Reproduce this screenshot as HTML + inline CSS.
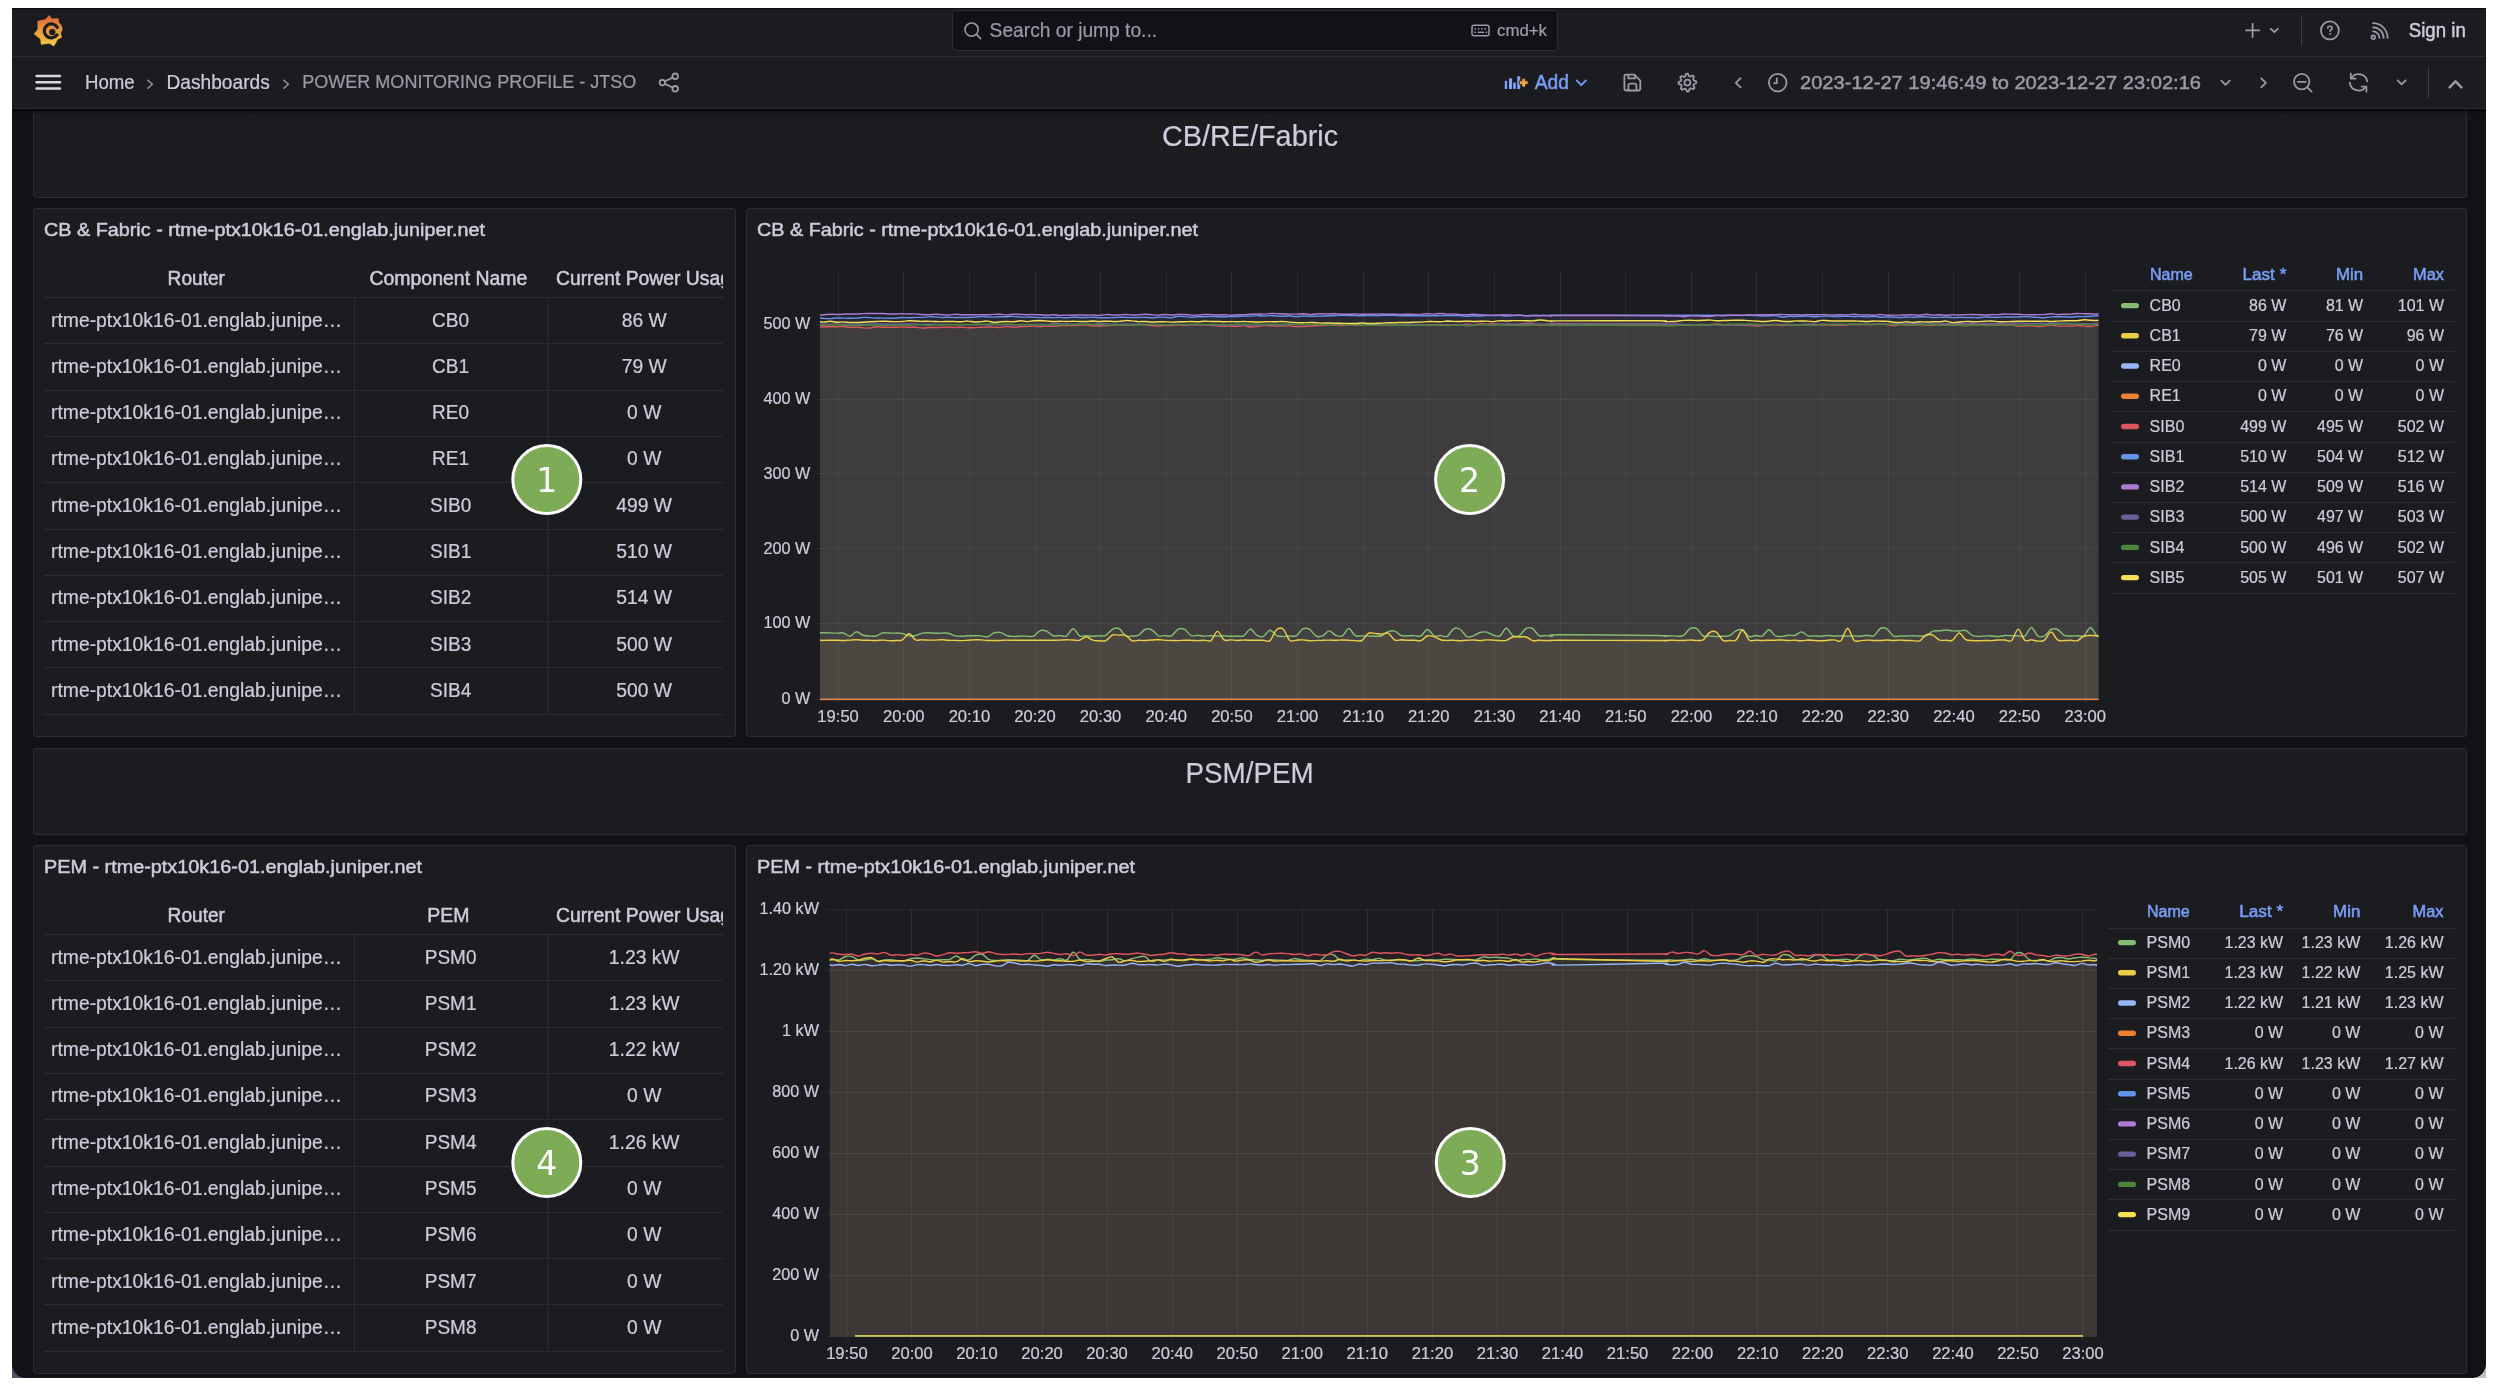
<!DOCTYPE html>
<html><head><meta charset="utf-8"><title>POWER MONITORING PROFILE - JTSO - Dashboards - Grafana</title>
<style>
html,body{margin:0;padding:0;background:#fff;overflow:hidden;}
svg{display:block;will-change:transform;}
text{font-family:"Liberation Sans",Arial,sans-serif;}
</style></head>
<body>
<svg width="2499" height="1391" viewBox="0 0 2499 1391">
<rect x="0" y="0" width="2499" height="1391" fill="#ffffff"/>
<rect x="12" y="1360" width="20" height="18" fill="#4d536b"/>
<rect x="2466" y="1360" width="20" height="18" fill="#c4c4c4"/>
<path d="M12 8 H2486 V1364 A14 14 0 0 1 2472 1378 H26 A14 14 0 0 1 12 1364 Z" fill="#111217"/>
<rect x="12" y="8" width="2474" height="48" fill="#1b1c20"/>
<rect x="12" y="8" width="2474" height="1" fill="#0a0b0d"/>
<rect x="12" y="56" width="2474" height="1" fill="#2c2d33"/>
<rect x="12" y="57" width="2474" height="51" fill="#1b1c20"/>
<rect x="12" y="108" width="2474" height="1" fill="#2c2d33"/>
<defs><linearGradient id="lg" x1="0" y1="0" x2="0" y2="1">
<stop offset="0" stop-color="#df6439"/><stop offset="1" stop-color="#f3cc46"/></linearGradient>
<linearGradient id="pg" x1="0" y1="0" x2="0" y2="1">
<stop offset="0" stop-color="#e9833a"/><stop offset="1" stop-color="#f3c64a"/></linearGradient></defs>
<path d="M49.4 15.0 L51.6 18.6 L58.7 18.3 L58.9 22.2 Q62.6 25.5 62.5 29.5 L60.9 33.2 L62.0 37.4 L57.9 39.6 L54.0 46.2 L49.1 43.4 L40.9 44.8 L40.4 39.2 L33.8 34.1 L37.6 29.2 L37.4 21.0 L45.2 19.3 Z" fill="url(#lg)"/>
<path d="M57.36 27.4 A7.0 7.0 0 1 0 57.03 34.9" fill="none" stroke="#1b1c20" stroke-width="3.2" stroke-linecap="round"/>
<circle cx="52.3" cy="32.1" r="3.2" fill="#1b1c20"/>
<rect x="952.5" y="10.5" width="605" height="40" rx="3" fill="#111217" stroke="#2c2d33" stroke-width="1"/>
<circle cx="971.6" cy="29.6" r="6.6" fill="none" stroke="#9a9aa8" stroke-width="1.6"/>
<line x1="976.4" y1="34.4" x2="980.6" y2="38.6" stroke="#9a9aa8" stroke-width="1.6" stroke-linecap="round"/>
<text x="989.6" y="37.0" font-size="19.8" fill="#9a9aa8" textLength="167.5" lengthAdjust="spacingAndGlyphs" stroke="#9a9aa8" stroke-width="0.22">Search or jump to...</text>
<rect x="1472" y="25.2" width="17" height="10.6" rx="2" fill="none" stroke="#9a9aa8" stroke-width="1.5"/>
<rect x="1474.5" y="28.2" width="1.6" height="1.4" fill="#9a9aa8"/>
<rect x="1477.8" y="28.2" width="1.6" height="1.4" fill="#9a9aa8"/>
<rect x="1481.1000000000001" y="28.2" width="1.6" height="1.4" fill="#9a9aa8"/>
<rect x="1484.4" y="28.2" width="1.6" height="1.4" fill="#9a9aa8"/>
<rect x="1474.2" y="31.6" width="1.6" height="1.4" fill="#9a9aa8"/>
<rect x="1477.6" y="31.6" width="6.4" height="1.4" fill="#9a9aa8"/>
<rect x="1485.6" y="31.6" width="1.6" height="1.4" fill="#9a9aa8"/>
<text x="1497.0" y="35.9" font-size="16" fill="#9a9aa8" textLength="50.0" lengthAdjust="spacingAndGlyphs" stroke="#9a9aa8" stroke-width="0.22">cmd+k</text>
<path d="M2246.1 30.4 H2259.2 M2252.6 23.8 V37.0" fill="none" stroke="#9a9aa8" stroke-width="1.8" stroke-linecap="round" stroke-linejoin="round"/>
<path d="M2270.8 28.8 L2274.3 32.2 L2277.8 28.8" fill="none" stroke="#9a9aa8" stroke-width="1.8" stroke-linecap="round" stroke-linejoin="round"/>
<rect x="2301" y="15" width="1" height="31" fill="#3b3d44"/>
<circle cx="2329.9" cy="30.4" r="9" fill="none" stroke="#9a9aa8" stroke-width="1.8" stroke-linecap="round" stroke-linejoin="round"/>
<path d="M2327.7 28.3 Q2327.7 26.3 2329.9 26.3 Q2332.2 26.3 2332.2 28.2 Q2332.2 29.5 2330.1 30.4 V31.2" fill="none" stroke="#9a9aa8" stroke-width="1.6" stroke-linecap="round" stroke-linejoin="round"/>
<circle cx="2330.1" cy="33.9" r="0.95" fill="#9a9aa8"/>
<circle cx="2373.3" cy="37.3" r="1.8" fill="none" stroke="#9a9aa8" stroke-width="1.8" stroke-linecap="round" stroke-linejoin="round"/>
<path d="M2373 31.4 A6.5 6.5 0 0 1 2379.5 37.9 M2373 27.3 A10.6 10.6 0 0 1 2383.6 37.9 M2373 23.2 A14.6 14.6 0 0 1 2387.6 37.9" fill="none" stroke="#9a9aa8" stroke-width="1.7" stroke-linecap="round"/>
<text x="2408.8" y="37.0" font-size="20" fill="#ccccdc" textLength="57.0" lengthAdjust="spacingAndGlyphs" stroke="#ccccdc" stroke-width="0.5">Sign in</text>
<line x1="36.6" y1="75.9" x2="59.9" y2="75.9" stroke="#d8d8e4" stroke-width="2.5" stroke-linecap="round"/>
<line x1="36.6" y1="82.2" x2="59.9" y2="82.2" stroke="#d8d8e4" stroke-width="2.5" stroke-linecap="round"/>
<line x1="36.6" y1="88.6" x2="59.9" y2="88.6" stroke="#d8d8e4" stroke-width="2.5" stroke-linecap="round"/>
<text x="85.0" y="88.6" font-size="19.7" fill="#ccccdc" textLength="49.7" lengthAdjust="spacingAndGlyphs" stroke="#ccccdc" stroke-width="0.22">Home</text>
<path d="M147.8 80.3 L152.4 84.3 L147.8 88.3" fill="none" stroke="#9a9aa8" stroke-width="1.4" stroke-linecap="round" stroke-linejoin="round"/>
<text x="166.5" y="88.6" font-size="19.7" fill="#ccccdc" textLength="103.3" lengthAdjust="spacingAndGlyphs" stroke="#ccccdc" stroke-width="0.22">Dashboards</text>
<path d="M283.8 80.3 L288.4 84.3 L283.8 88.3" fill="none" stroke="#9a9aa8" stroke-width="1.4" stroke-linecap="round" stroke-linejoin="round"/>
<text x="302.3" y="88.3" font-size="18.5" fill="#9a9aa8" textLength="334.0" lengthAdjust="spacingAndGlyphs" stroke="#9a9aa8" stroke-width="0.22">POWER MONITORING PROFILE - JTSO</text>
<g fill="none" stroke="#9a9aa8" stroke-width="1.8" stroke-linecap="round" stroke-linejoin="round"><circle cx="662.4" cy="82.6" r="2.8"/><circle cx="675.2" cy="76.3" r="2.8"/><circle cx="675.2" cy="88.8" r="2.8"/><path d="M664.9 81.3 L672.7 77.6 M664.9 83.9 L672.7 87.5"/></g>
<rect x="1504.8" y="80.8" width="2.3" height="8.2" fill="#83a4f8" rx="0.5"/>
<rect x="1509.0" y="78.2" width="3.1" height="10.8" fill="#83a4f8" rx="0.5"/>
<rect x="1513.2" y="82.4" width="2.6" height="6.6" fill="#83a4f8" rx="0.5"/>
<rect x="1517.2" y="76.2" width="3.0" height="12.8" fill="#83a4f8" rx="0.5"/>
<path d="M1521.9 78.2 h3.6 v2.6 h2.6 v3.6 h-2.6 v2.6 h-3.6 v-2.6 h-2.6 v-3.6 h2.6 z" fill="url(#pg)" stroke="#1b1c20" stroke-width="0.8"/>
<text x="1534.8" y="89.0" font-size="19.7" fill="#799ef8" textLength="34.2" lengthAdjust="spacingAndGlyphs" stroke="#799ef8" stroke-width="0.5">Add</text>
<path d="M1576.6 80.4 L1581.3 85.1 L1586 80.4" fill="none" stroke="#799ef8" stroke-width="1.8" stroke-linecap="round" stroke-linejoin="round"/>
<path d="M1626 74.7 H1634.3 L1640.3 80.7 V88.6 Q1640.3 90.5 1638.4 90.5 H1626.3 Q1624.4 90.5 1624.4 88.6 V76.6 Q1624.4 74.7 1626 74.7 Z" fill="none" stroke="#9a9aa8" stroke-width="1.8" stroke-linecap="round" stroke-linejoin="round"/>
<path d="M1628.4 74.9 V78.4 H1634.8 V75.6 M1628.4 90.3 V85.4 Q1628.4 83.6 1630.2 83.6 H1634.6 Q1636.4 83.6 1636.4 85.4 V90.3" fill="none" stroke="#9a9aa8" stroke-width="1.8" stroke-linecap="round" stroke-linejoin="round"/>
<path d="M1686.09 73.80 L1687.84 73.71 L1689.00 76.20 L1690.22 76.63 L1692.70 75.45 L1693.99 76.62 L1693.06 79.21 L1693.61 80.38 L1696.20 81.29 L1696.29 83.04 L1693.80 84.20 L1693.37 85.42 L1694.55 87.90 L1693.38 89.19 L1690.79 88.26 L1689.62 88.81 L1688.71 91.40 L1686.96 91.49 L1685.80 89.00 L1684.58 88.57 L1682.10 89.75 L1680.81 88.58 L1681.74 85.99 L1681.19 84.82 L1678.60 83.91 L1678.51 82.16 L1681.00 81.00 L1681.43 79.78 L1680.25 77.30 L1681.42 76.01 L1684.01 76.94 L1685.18 76.39 Z" fill="none" stroke="#9a9aa8" stroke-width="1.8" stroke-linecap="round" stroke-linejoin="round"/>
<circle cx="1687.4" cy="82.6" r="3.0" fill="none" stroke="#9a9aa8" stroke-width="1.8" stroke-linecap="round" stroke-linejoin="round"/>
<path d="M1740.6 78.2 L1735.8 82.8 L1740.6 87.4" fill="none" stroke="#9a9aa8" stroke-width="1.8" stroke-linecap="round" stroke-linejoin="round"/>
<circle cx="1777.7" cy="82.6" r="8.8" fill="none" stroke="#9a9aa8" stroke-width="1.8" stroke-linecap="round" stroke-linejoin="round"/>
<path d="M1776.8 78.3 V83.2 H1774.2" fill="none" stroke="#9a9aa8" stroke-width="1.8" stroke-linecap="round" stroke-linejoin="round"/>
<text x="1800.0" y="89.3" font-size="19.2" fill="#9a9aa8" textLength="401.0" lengthAdjust="spacingAndGlyphs" stroke="#9a9aa8" stroke-width="0.5">2023-12-27 19:46:49 to 2023-12-27 23:02:16</text>
<path d="M2221.3 80.6 L2225.5 84.8 L2229.7 80.6" fill="none" stroke="#9a9aa8" stroke-width="1.8" stroke-linecap="round" stroke-linejoin="round"/>
<path d="M2261.2 78.3 L2265.9 82.8 L2261.2 87.3" fill="none" stroke="#9a9aa8" stroke-width="1.8" stroke-linecap="round" stroke-linejoin="round"/>
<circle cx="2301.7" cy="81.6" r="7.7" fill="none" stroke="#9a9aa8" stroke-width="1.8" stroke-linecap="round" stroke-linejoin="round"/>
<path d="M2297.8 81.8 H2305.8 M2307.6 87.6 L2311.6 91.6" fill="none" stroke="#9a9aa8" stroke-width="1.8" stroke-linecap="round" stroke-linejoin="round"/>
<path d="M2351.4 78.0 A8.8 8.8 0 0 1 2367.3 81.3 M2365.6 87.0 A8.8 8.8 0 0 1 2349.8 82.6" fill="none" stroke="#9a9aa8" stroke-width="1.8" stroke-linecap="round" stroke-linejoin="round"/>
<path d="M2350.8 73.6 V78.6 H2355.6 M2366.4 91.6 V86.6 H2361.6" fill="none" stroke="#9a9aa8" stroke-width="1.8" stroke-linecap="round" stroke-linejoin="round"/>
<path d="M2397.6 80.4 L2401.6 84.4 L2405.6 80.4" fill="none" stroke="#9a9aa8" stroke-width="1.8" stroke-linecap="round" stroke-linejoin="round"/>
<rect x="2428" y="67" width="1" height="31" fill="#3b3d44"/>
<path d="M2449.6 87.4 L2455.5 81.4 L2461.4 87.4" fill="none" stroke="#9a9aa8" stroke-width="2.6" stroke-linecap="round" stroke-linejoin="round"/>
<rect x="33.5" y="101.5" width="2433" height="96" rx="2.5" fill="#1b1c20" stroke="#2c2d33" stroke-width="1"/>
<text x="1250.0" y="146.2" font-size="29.2" fill="#ccccdc" text-anchor="middle" textLength="176.2" lengthAdjust="spacingAndGlyphs" stroke="#ccccdc" stroke-width="0.22">CB/RE/Fabric</text>
<rect x="12" y="100" width="2474" height="8" fill="#1b1c20"/>
<rect x="12" y="108" width="2474" height="1" fill="#2c2d33"/>
<defs><linearGradient id="shd" x1="0" y1="0" x2="0" y2="1"><stop offset="0" stop-color="#000" stop-opacity="0.55"/><stop offset="1" stop-color="#000" stop-opacity="0"/></linearGradient></defs>
<rect x="12" y="109" width="2474" height="1" fill="#060608"/>
<rect x="12" y="110" width="2474" height="4" fill="url(#shd)"/>
<rect x="33.5" y="748.5" width="2433" height="86" rx="2.5" fill="#1b1c20" stroke="#2c2d33" stroke-width="1"/>
<text x="1249.6" y="783.2" font-size="29.2" fill="#ccccdc" text-anchor="middle" textLength="128.0" lengthAdjust="spacingAndGlyphs" stroke="#ccccdc" stroke-width="0.22">PSM/PEM</text>
<rect x="33.5" y="208.5" width="702" height="528" rx="2.5" fill="#1b1c20" stroke="#2c2d33" stroke-width="1"/>
<text x="44.0" y="236.0" font-size="18.8" fill="#ccccdc" textLength="441.0" lengthAdjust="spacingAndGlyphs" stroke="#ccccdc" stroke-width="0.5">CB &amp; Fabric - rtme-ptx10k16-01.englab.juniper.net</text>
<text x="196.3" y="285.0" font-size="19.5" fill="#ccccdc" text-anchor="middle" textLength="57.4" lengthAdjust="spacingAndGlyphs" stroke="#ccccdc" stroke-width="0.5">Router</text>
<text x="448.4" y="285.0" font-size="19.5" fill="#ccccdc" text-anchor="middle" textLength="158.0" lengthAdjust="spacingAndGlyphs" stroke="#ccccdc" stroke-width="0.5">Component Name</text>
<clipPath id="cp209"><rect x="43" y="209" width="680" height="520"/></clipPath>
<g clip-path="url(#cp209)">
<text x="556.0" y="285.0" font-size="19.5" fill="#ccccdc" textLength="185.6" lengthAdjust="spacingAndGlyphs" stroke="#ccccdc" stroke-width="0.5">Current Power Usage</text>
</g>
<line x1="43.5" y1="297.5" x2="723" y2="297.5" stroke="#2c2d33" stroke-width="1"/>
<line x1="43.5" y1="343.5" x2="723" y2="343.5" stroke="#2c2d33" stroke-width="1"/>
<line x1="43.5" y1="390.5" x2="723" y2="390.5" stroke="#2c2d33" stroke-width="1"/>
<line x1="43.5" y1="436.5" x2="723" y2="436.5" stroke="#2c2d33" stroke-width="1"/>
<line x1="43.5" y1="482.5" x2="723" y2="482.5" stroke="#2c2d33" stroke-width="1"/>
<line x1="43.5" y1="529.5" x2="723" y2="529.5" stroke="#2c2d33" stroke-width="1"/>
<line x1="43.5" y1="575.5" x2="723" y2="575.5" stroke="#2c2d33" stroke-width="1"/>
<line x1="43.5" y1="621.5" x2="723" y2="621.5" stroke="#2c2d33" stroke-width="1"/>
<line x1="43.5" y1="667.5" x2="723" y2="667.5" stroke="#2c2d33" stroke-width="1"/>
<line x1="43.5" y1="714.5" x2="723" y2="714.5" stroke="#2c2d33" stroke-width="1"/>
<line x1="354.5" y1="298.0" x2="354.5" y2="343.0" stroke="#2c2d33" stroke-width="1"/>
<line x1="548" y1="298.0" x2="548" y2="343.0" stroke="#2c2d33" stroke-width="1"/>
<text x="51.0" y="326.5" font-size="19.5" fill="#ccccdc" textLength="291.0" lengthAdjust="spacingAndGlyphs" stroke="#ccccdc" stroke-width="0.22">rtme-ptx10k16-01.englab.junipe…</text>
<text x="450.6" y="326.5" font-size="19.5" fill="#ccccdc" text-anchor="middle" textLength="37.0" lengthAdjust="spacingAndGlyphs" stroke="#ccccdc" stroke-width="0.22">CB0</text>
<text x="644.2" y="326.5" font-size="19.5" fill="#ccccdc" text-anchor="middle" textLength="45.0" lengthAdjust="spacingAndGlyphs" stroke="#ccccdc" stroke-width="0.22">86 W</text>
<line x1="354.5" y1="344.0" x2="354.5" y2="390.0" stroke="#2c2d33" stroke-width="1"/>
<line x1="548" y1="344.0" x2="548" y2="390.0" stroke="#2c2d33" stroke-width="1"/>
<text x="51.0" y="372.8" font-size="19.5" fill="#ccccdc" textLength="291.0" lengthAdjust="spacingAndGlyphs" stroke="#ccccdc" stroke-width="0.22">rtme-ptx10k16-01.englab.junipe…</text>
<text x="450.6" y="372.8" font-size="19.5" fill="#ccccdc" text-anchor="middle" textLength="37.0" lengthAdjust="spacingAndGlyphs" stroke="#ccccdc" stroke-width="0.22">CB1</text>
<text x="644.2" y="372.8" font-size="19.5" fill="#ccccdc" text-anchor="middle" textLength="45.0" lengthAdjust="spacingAndGlyphs" stroke="#ccccdc" stroke-width="0.22">79 W</text>
<line x1="354.5" y1="391.0" x2="354.5" y2="436.0" stroke="#2c2d33" stroke-width="1"/>
<line x1="548" y1="391.0" x2="548" y2="436.0" stroke="#2c2d33" stroke-width="1"/>
<text x="51.0" y="419.1" font-size="19.5" fill="#ccccdc" textLength="291.0" lengthAdjust="spacingAndGlyphs" stroke="#ccccdc" stroke-width="0.22">rtme-ptx10k16-01.englab.junipe…</text>
<text x="450.6" y="419.1" font-size="19.5" fill="#ccccdc" text-anchor="middle" textLength="37.0" lengthAdjust="spacingAndGlyphs" stroke="#ccccdc" stroke-width="0.22">RE0</text>
<text x="644.2" y="419.1" font-size="19.5" fill="#ccccdc" text-anchor="middle" textLength="34.3" lengthAdjust="spacingAndGlyphs" stroke="#ccccdc" stroke-width="0.22">0 W</text>
<line x1="354.5" y1="437.0" x2="354.5" y2="482.0" stroke="#2c2d33" stroke-width="1"/>
<line x1="548" y1="437.0" x2="548" y2="482.0" stroke="#2c2d33" stroke-width="1"/>
<text x="51.0" y="465.4" font-size="19.5" fill="#ccccdc" textLength="291.0" lengthAdjust="spacingAndGlyphs" stroke="#ccccdc" stroke-width="0.22">rtme-ptx10k16-01.englab.junipe…</text>
<text x="450.6" y="465.4" font-size="19.5" fill="#ccccdc" text-anchor="middle" textLength="37.0" lengthAdjust="spacingAndGlyphs" stroke="#ccccdc" stroke-width="0.22">RE1</text>
<text x="644.2" y="465.4" font-size="19.5" fill="#ccccdc" text-anchor="middle" textLength="34.3" lengthAdjust="spacingAndGlyphs" stroke="#ccccdc" stroke-width="0.22">0 W</text>
<line x1="354.5" y1="483.0" x2="354.5" y2="529.0" stroke="#2c2d33" stroke-width="1"/>
<line x1="548" y1="483.0" x2="548" y2="529.0" stroke="#2c2d33" stroke-width="1"/>
<text x="51.0" y="511.7" font-size="19.5" fill="#ccccdc" textLength="291.0" lengthAdjust="spacingAndGlyphs" stroke="#ccccdc" stroke-width="0.22">rtme-ptx10k16-01.englab.junipe…</text>
<text x="450.6" y="511.7" font-size="19.5" fill="#ccccdc" text-anchor="middle" textLength="41.2" lengthAdjust="spacingAndGlyphs" stroke="#ccccdc" stroke-width="0.22">SIB0</text>
<text x="644.2" y="511.7" font-size="19.5" fill="#ccccdc" text-anchor="middle" textLength="55.8" lengthAdjust="spacingAndGlyphs" stroke="#ccccdc" stroke-width="0.22">499 W</text>
<line x1="354.5" y1="530.0" x2="354.5" y2="575.0" stroke="#2c2d33" stroke-width="1"/>
<line x1="548" y1="530.0" x2="548" y2="575.0" stroke="#2c2d33" stroke-width="1"/>
<text x="51.0" y="558.0" font-size="19.5" fill="#ccccdc" textLength="291.0" lengthAdjust="spacingAndGlyphs" stroke="#ccccdc" stroke-width="0.22">rtme-ptx10k16-01.englab.junipe…</text>
<text x="450.6" y="558.0" font-size="19.5" fill="#ccccdc" text-anchor="middle" textLength="41.2" lengthAdjust="spacingAndGlyphs" stroke="#ccccdc" stroke-width="0.22">SIB1</text>
<text x="644.2" y="558.0" font-size="19.5" fill="#ccccdc" text-anchor="middle" textLength="55.8" lengthAdjust="spacingAndGlyphs" stroke="#ccccdc" stroke-width="0.22">510 W</text>
<line x1="354.5" y1="576.0" x2="354.5" y2="621.0" stroke="#2c2d33" stroke-width="1"/>
<line x1="548" y1="576.0" x2="548" y2="621.0" stroke="#2c2d33" stroke-width="1"/>
<text x="51.0" y="604.3" font-size="19.5" fill="#ccccdc" textLength="291.0" lengthAdjust="spacingAndGlyphs" stroke="#ccccdc" stroke-width="0.22">rtme-ptx10k16-01.englab.junipe…</text>
<text x="450.6" y="604.3" font-size="19.5" fill="#ccccdc" text-anchor="middle" textLength="41.2" lengthAdjust="spacingAndGlyphs" stroke="#ccccdc" stroke-width="0.22">SIB2</text>
<text x="644.2" y="604.3" font-size="19.5" fill="#ccccdc" text-anchor="middle" textLength="55.8" lengthAdjust="spacingAndGlyphs" stroke="#ccccdc" stroke-width="0.22">514 W</text>
<line x1="354.5" y1="622.0" x2="354.5" y2="667.0" stroke="#2c2d33" stroke-width="1"/>
<line x1="548" y1="622.0" x2="548" y2="667.0" stroke="#2c2d33" stroke-width="1"/>
<text x="51.0" y="650.6" font-size="19.5" fill="#ccccdc" textLength="291.0" lengthAdjust="spacingAndGlyphs" stroke="#ccccdc" stroke-width="0.22">rtme-ptx10k16-01.englab.junipe…</text>
<text x="450.6" y="650.6" font-size="19.5" fill="#ccccdc" text-anchor="middle" textLength="41.2" lengthAdjust="spacingAndGlyphs" stroke="#ccccdc" stroke-width="0.22">SIB3</text>
<text x="644.2" y="650.6" font-size="19.5" fill="#ccccdc" text-anchor="middle" textLength="55.8" lengthAdjust="spacingAndGlyphs" stroke="#ccccdc" stroke-width="0.22">500 W</text>
<line x1="354.5" y1="668.0" x2="354.5" y2="714.0" stroke="#2c2d33" stroke-width="1"/>
<line x1="548" y1="668.0" x2="548" y2="714.0" stroke="#2c2d33" stroke-width="1"/>
<text x="51.0" y="696.9" font-size="19.5" fill="#ccccdc" textLength="291.0" lengthAdjust="spacingAndGlyphs" stroke="#ccccdc" stroke-width="0.22">rtme-ptx10k16-01.englab.junipe…</text>
<text x="450.6" y="696.9" font-size="19.5" fill="#ccccdc" text-anchor="middle" textLength="41.2" lengthAdjust="spacingAndGlyphs" stroke="#ccccdc" stroke-width="0.22">SIB4</text>
<text x="644.2" y="696.9" font-size="19.5" fill="#ccccdc" text-anchor="middle" textLength="55.8" lengthAdjust="spacingAndGlyphs" stroke="#ccccdc" stroke-width="0.22">500 W</text>
<rect x="33.5" y="845.5" width="702" height="528" rx="2.5" fill="#1b1c20" stroke="#2c2d33" stroke-width="1"/>
<text x="44.0" y="873.0" font-size="18.8" fill="#ccccdc" textLength="378.0" lengthAdjust="spacingAndGlyphs" stroke="#ccccdc" stroke-width="0.5">PEM - rtme-ptx10k16-01.englab.juniper.net</text>
<text x="196.3" y="922.0" font-size="19.5" fill="#ccccdc" text-anchor="middle" textLength="57.4" lengthAdjust="spacingAndGlyphs" stroke="#ccccdc" stroke-width="0.5">Router</text>
<text x="448.4" y="922.0" font-size="19.5" fill="#ccccdc" text-anchor="middle" textLength="42.2" lengthAdjust="spacingAndGlyphs" stroke="#ccccdc" stroke-width="0.5">PEM</text>
<clipPath id="cp846"><rect x="43" y="846" width="680" height="520"/></clipPath>
<g clip-path="url(#cp846)">
<text x="556.0" y="922.0" font-size="19.5" fill="#ccccdc" textLength="185.6" lengthAdjust="spacingAndGlyphs" stroke="#ccccdc" stroke-width="0.5">Current Power Usage</text>
</g>
<line x1="43.5" y1="934.5" x2="723" y2="934.5" stroke="#2c2d33" stroke-width="1"/>
<line x1="43.5" y1="980.5" x2="723" y2="980.5" stroke="#2c2d33" stroke-width="1"/>
<line x1="43.5" y1="1027.5" x2="723" y2="1027.5" stroke="#2c2d33" stroke-width="1"/>
<line x1="43.5" y1="1073.5" x2="723" y2="1073.5" stroke="#2c2d33" stroke-width="1"/>
<line x1="43.5" y1="1119.5" x2="723" y2="1119.5" stroke="#2c2d33" stroke-width="1"/>
<line x1="43.5" y1="1166.5" x2="723" y2="1166.5" stroke="#2c2d33" stroke-width="1"/>
<line x1="43.5" y1="1212.5" x2="723" y2="1212.5" stroke="#2c2d33" stroke-width="1"/>
<line x1="43.5" y1="1258.5" x2="723" y2="1258.5" stroke="#2c2d33" stroke-width="1"/>
<line x1="43.5" y1="1304.5" x2="723" y2="1304.5" stroke="#2c2d33" stroke-width="1"/>
<line x1="43.5" y1="1351.5" x2="723" y2="1351.5" stroke="#2c2d33" stroke-width="1"/>
<line x1="354.5" y1="935.0" x2="354.5" y2="980.0" stroke="#2c2d33" stroke-width="1"/>
<line x1="548" y1="935.0" x2="548" y2="980.0" stroke="#2c2d33" stroke-width="1"/>
<text x="51.0" y="963.5" font-size="19.5" fill="#ccccdc" textLength="291.0" lengthAdjust="spacingAndGlyphs" stroke="#ccccdc" stroke-width="0.22">rtme-ptx10k16-01.englab.junipe…</text>
<text x="450.6" y="963.5" font-size="19.5" fill="#ccccdc" text-anchor="middle" textLength="51.7" lengthAdjust="spacingAndGlyphs" stroke="#ccccdc" stroke-width="0.22">PSM0</text>
<text x="644.2" y="963.5" font-size="19.5" fill="#ccccdc" text-anchor="middle" textLength="70.8" lengthAdjust="spacingAndGlyphs" stroke="#ccccdc" stroke-width="0.22">1.23 kW</text>
<line x1="354.5" y1="981.0" x2="354.5" y2="1027.0" stroke="#2c2d33" stroke-width="1"/>
<line x1="548" y1="981.0" x2="548" y2="1027.0" stroke="#2c2d33" stroke-width="1"/>
<text x="51.0" y="1009.8" font-size="19.5" fill="#ccccdc" textLength="291.0" lengthAdjust="spacingAndGlyphs" stroke="#ccccdc" stroke-width="0.22">rtme-ptx10k16-01.englab.junipe…</text>
<text x="450.6" y="1009.8" font-size="19.5" fill="#ccccdc" text-anchor="middle" textLength="51.7" lengthAdjust="spacingAndGlyphs" stroke="#ccccdc" stroke-width="0.22">PSM1</text>
<text x="644.2" y="1009.8" font-size="19.5" fill="#ccccdc" text-anchor="middle" textLength="70.8" lengthAdjust="spacingAndGlyphs" stroke="#ccccdc" stroke-width="0.22">1.23 kW</text>
<line x1="354.5" y1="1028.0" x2="354.5" y2="1073.0" stroke="#2c2d33" stroke-width="1"/>
<line x1="548" y1="1028.0" x2="548" y2="1073.0" stroke="#2c2d33" stroke-width="1"/>
<text x="51.0" y="1056.1" font-size="19.5" fill="#ccccdc" textLength="291.0" lengthAdjust="spacingAndGlyphs" stroke="#ccccdc" stroke-width="0.22">rtme-ptx10k16-01.englab.junipe…</text>
<text x="450.6" y="1056.1" font-size="19.5" fill="#ccccdc" text-anchor="middle" textLength="51.7" lengthAdjust="spacingAndGlyphs" stroke="#ccccdc" stroke-width="0.22">PSM2</text>
<text x="644.2" y="1056.1" font-size="19.5" fill="#ccccdc" text-anchor="middle" textLength="70.8" lengthAdjust="spacingAndGlyphs" stroke="#ccccdc" stroke-width="0.22">1.22 kW</text>
<line x1="354.5" y1="1074.0" x2="354.5" y2="1119.0" stroke="#2c2d33" stroke-width="1"/>
<line x1="548" y1="1074.0" x2="548" y2="1119.0" stroke="#2c2d33" stroke-width="1"/>
<text x="51.0" y="1102.4" font-size="19.5" fill="#ccccdc" textLength="291.0" lengthAdjust="spacingAndGlyphs" stroke="#ccccdc" stroke-width="0.22">rtme-ptx10k16-01.englab.junipe…</text>
<text x="450.6" y="1102.4" font-size="19.5" fill="#ccccdc" text-anchor="middle" textLength="51.7" lengthAdjust="spacingAndGlyphs" stroke="#ccccdc" stroke-width="0.22">PSM3</text>
<text x="644.2" y="1102.4" font-size="19.5" fill="#ccccdc" text-anchor="middle" textLength="34.3" lengthAdjust="spacingAndGlyphs" stroke="#ccccdc" stroke-width="0.22">0 W</text>
<line x1="354.5" y1="1120.0" x2="354.5" y2="1166.0" stroke="#2c2d33" stroke-width="1"/>
<line x1="548" y1="1120.0" x2="548" y2="1166.0" stroke="#2c2d33" stroke-width="1"/>
<text x="51.0" y="1148.7" font-size="19.5" fill="#ccccdc" textLength="291.0" lengthAdjust="spacingAndGlyphs" stroke="#ccccdc" stroke-width="0.22">rtme-ptx10k16-01.englab.junipe…</text>
<text x="450.6" y="1148.7" font-size="19.5" fill="#ccccdc" text-anchor="middle" textLength="51.7" lengthAdjust="spacingAndGlyphs" stroke="#ccccdc" stroke-width="0.22">PSM4</text>
<text x="644.2" y="1148.7" font-size="19.5" fill="#ccccdc" text-anchor="middle" textLength="70.8" lengthAdjust="spacingAndGlyphs" stroke="#ccccdc" stroke-width="0.22">1.26 kW</text>
<line x1="354.5" y1="1167.0" x2="354.5" y2="1212.0" stroke="#2c2d33" stroke-width="1"/>
<line x1="548" y1="1167.0" x2="548" y2="1212.0" stroke="#2c2d33" stroke-width="1"/>
<text x="51.0" y="1195.0" font-size="19.5" fill="#ccccdc" textLength="291.0" lengthAdjust="spacingAndGlyphs" stroke="#ccccdc" stroke-width="0.22">rtme-ptx10k16-01.englab.junipe…</text>
<text x="450.6" y="1195.0" font-size="19.5" fill="#ccccdc" text-anchor="middle" textLength="51.7" lengthAdjust="spacingAndGlyphs" stroke="#ccccdc" stroke-width="0.22">PSM5</text>
<text x="644.2" y="1195.0" font-size="19.5" fill="#ccccdc" text-anchor="middle" textLength="34.3" lengthAdjust="spacingAndGlyphs" stroke="#ccccdc" stroke-width="0.22">0 W</text>
<line x1="354.5" y1="1213.0" x2="354.5" y2="1258.0" stroke="#2c2d33" stroke-width="1"/>
<line x1="548" y1="1213.0" x2="548" y2="1258.0" stroke="#2c2d33" stroke-width="1"/>
<text x="51.0" y="1241.3" font-size="19.5" fill="#ccccdc" textLength="291.0" lengthAdjust="spacingAndGlyphs" stroke="#ccccdc" stroke-width="0.22">rtme-ptx10k16-01.englab.junipe…</text>
<text x="450.6" y="1241.3" font-size="19.5" fill="#ccccdc" text-anchor="middle" textLength="51.7" lengthAdjust="spacingAndGlyphs" stroke="#ccccdc" stroke-width="0.22">PSM6</text>
<text x="644.2" y="1241.3" font-size="19.5" fill="#ccccdc" text-anchor="middle" textLength="34.3" lengthAdjust="spacingAndGlyphs" stroke="#ccccdc" stroke-width="0.22">0 W</text>
<line x1="354.5" y1="1259.0" x2="354.5" y2="1304.0" stroke="#2c2d33" stroke-width="1"/>
<line x1="548" y1="1259.0" x2="548" y2="1304.0" stroke="#2c2d33" stroke-width="1"/>
<text x="51.0" y="1287.6" font-size="19.5" fill="#ccccdc" textLength="291.0" lengthAdjust="spacingAndGlyphs" stroke="#ccccdc" stroke-width="0.22">rtme-ptx10k16-01.englab.junipe…</text>
<text x="450.6" y="1287.6" font-size="19.5" fill="#ccccdc" text-anchor="middle" textLength="51.7" lengthAdjust="spacingAndGlyphs" stroke="#ccccdc" stroke-width="0.22">PSM7</text>
<text x="644.2" y="1287.6" font-size="19.5" fill="#ccccdc" text-anchor="middle" textLength="34.3" lengthAdjust="spacingAndGlyphs" stroke="#ccccdc" stroke-width="0.22">0 W</text>
<line x1="354.5" y1="1305.0" x2="354.5" y2="1351.0" stroke="#2c2d33" stroke-width="1"/>
<line x1="548" y1="1305.0" x2="548" y2="1351.0" stroke="#2c2d33" stroke-width="1"/>
<text x="51.0" y="1333.9" font-size="19.5" fill="#ccccdc" textLength="291.0" lengthAdjust="spacingAndGlyphs" stroke="#ccccdc" stroke-width="0.22">rtme-ptx10k16-01.englab.junipe…</text>
<text x="450.6" y="1333.9" font-size="19.5" fill="#ccccdc" text-anchor="middle" textLength="51.7" lengthAdjust="spacingAndGlyphs" stroke="#ccccdc" stroke-width="0.22">PSM8</text>
<text x="644.2" y="1333.9" font-size="19.5" fill="#ccccdc" text-anchor="middle" textLength="34.3" lengthAdjust="spacingAndGlyphs" stroke="#ccccdc" stroke-width="0.22">0 W</text>
<rect x="746.5" y="208.5" width="1720" height="528" rx="2.5" fill="#1b1c20" stroke="#2c2d33" stroke-width="1"/>
<text x="757.0" y="236.0" font-size="18.8" fill="#ccccdc" textLength="441.0" lengthAdjust="spacingAndGlyphs" stroke="#ccccdc" stroke-width="0.5">CB &amp; Fabric - rtme-ptx10k16-01.englab.juniper.net</text>
<line x1="816" y1="324.5" x2="2098.6" y2="324.5" stroke="rgba(204,204,220,0.09)" stroke-width="1"/>
<text x="810.4" y="329.2" font-size="16.2" fill="#ccccdc" text-anchor="end" textLength="46.8" lengthAdjust="spacingAndGlyphs" stroke="#ccccdc" stroke-width="0.22">500 W</text>
<line x1="816" y1="399.5" x2="2098.6" y2="399.5" stroke="rgba(204,204,220,0.09)" stroke-width="1"/>
<text x="810.4" y="404.0" font-size="16.2" fill="#ccccdc" text-anchor="end" textLength="46.8" lengthAdjust="spacingAndGlyphs" stroke="#ccccdc" stroke-width="0.22">400 W</text>
<line x1="816" y1="473.5" x2="2098.6" y2="473.5" stroke="rgba(204,204,220,0.09)" stroke-width="1"/>
<text x="810.4" y="478.8" font-size="16.2" fill="#ccccdc" text-anchor="end" textLength="46.8" lengthAdjust="spacingAndGlyphs" stroke="#ccccdc" stroke-width="0.22">300 W</text>
<line x1="816" y1="548.5" x2="2098.6" y2="548.5" stroke="rgba(204,204,220,0.09)" stroke-width="1"/>
<text x="810.4" y="553.5" font-size="16.2" fill="#ccccdc" text-anchor="end" textLength="46.8" lengthAdjust="spacingAndGlyphs" stroke="#ccccdc" stroke-width="0.22">200 W</text>
<line x1="816" y1="623.5" x2="2098.6" y2="623.5" stroke="rgba(204,204,220,0.09)" stroke-width="1"/>
<text x="810.4" y="628.2" font-size="16.2" fill="#ccccdc" text-anchor="end" textLength="46.8" lengthAdjust="spacingAndGlyphs" stroke="#ccccdc" stroke-width="0.22">100 W</text>
<line x1="816" y1="699.5" x2="2098.6" y2="699.5" stroke="rgba(204,204,220,0.09)" stroke-width="1"/>
<text x="810.4" y="704.4" font-size="16.2" fill="#ccccdc" text-anchor="end" textLength="28.8" lengthAdjust="spacingAndGlyphs" stroke="#ccccdc" stroke-width="0.22">0 W</text>
<line x1="838.5" y1="272" x2="838.5" y2="703.4" stroke="rgba(204,204,220,0.09)" stroke-width="1"/>
<text x="838.1" y="722.4" font-size="16.2" fill="#ccccdc" text-anchor="middle" textLength="41.5" lengthAdjust="spacingAndGlyphs" stroke="#ccccdc" stroke-width="0.22">19:50</text>
<line x1="903.5" y1="272" x2="903.5" y2="703.4" stroke="rgba(204,204,220,0.09)" stroke-width="1"/>
<text x="903.7" y="722.4" font-size="16.2" fill="#ccccdc" text-anchor="middle" textLength="41.5" lengthAdjust="spacingAndGlyphs" stroke="#ccccdc" stroke-width="0.22">20:00</text>
<line x1="969.5" y1="272" x2="969.5" y2="703.4" stroke="rgba(204,204,220,0.09)" stroke-width="1"/>
<text x="969.4" y="722.4" font-size="16.2" fill="#ccccdc" text-anchor="middle" textLength="41.5" lengthAdjust="spacingAndGlyphs" stroke="#ccccdc" stroke-width="0.22">20:10</text>
<line x1="1035.5" y1="272" x2="1035.5" y2="703.4" stroke="rgba(204,204,220,0.09)" stroke-width="1"/>
<text x="1035.0" y="722.4" font-size="16.2" fill="#ccccdc" text-anchor="middle" textLength="41.5" lengthAdjust="spacingAndGlyphs" stroke="#ccccdc" stroke-width="0.22">20:20</text>
<line x1="1100.5" y1="272" x2="1100.5" y2="703.4" stroke="rgba(204,204,220,0.09)" stroke-width="1"/>
<text x="1100.6" y="722.4" font-size="16.2" fill="#ccccdc" text-anchor="middle" textLength="41.5" lengthAdjust="spacingAndGlyphs" stroke="#ccccdc" stroke-width="0.22">20:30</text>
<line x1="1166.5" y1="272" x2="1166.5" y2="703.4" stroke="rgba(204,204,220,0.09)" stroke-width="1"/>
<text x="1166.3" y="722.4" font-size="16.2" fill="#ccccdc" text-anchor="middle" textLength="41.5" lengthAdjust="spacingAndGlyphs" stroke="#ccccdc" stroke-width="0.22">20:40</text>
<line x1="1231.5" y1="272" x2="1231.5" y2="703.4" stroke="rgba(204,204,220,0.09)" stroke-width="1"/>
<text x="1231.9" y="722.4" font-size="16.2" fill="#ccccdc" text-anchor="middle" textLength="41.5" lengthAdjust="spacingAndGlyphs" stroke="#ccccdc" stroke-width="0.22">20:50</text>
<line x1="1297.5" y1="272" x2="1297.5" y2="703.4" stroke="rgba(204,204,220,0.09)" stroke-width="1"/>
<text x="1297.5" y="722.4" font-size="16.2" fill="#ccccdc" text-anchor="middle" textLength="41.5" lengthAdjust="spacingAndGlyphs" stroke="#ccccdc" stroke-width="0.22">21:00</text>
<line x1="1363.5" y1="272" x2="1363.5" y2="703.4" stroke="rgba(204,204,220,0.09)" stroke-width="1"/>
<text x="1363.2" y="722.4" font-size="16.2" fill="#ccccdc" text-anchor="middle" textLength="41.5" lengthAdjust="spacingAndGlyphs" stroke="#ccccdc" stroke-width="0.22">21:10</text>
<line x1="1428.5" y1="272" x2="1428.5" y2="703.4" stroke="rgba(204,204,220,0.09)" stroke-width="1"/>
<text x="1428.8" y="722.4" font-size="16.2" fill="#ccccdc" text-anchor="middle" textLength="41.5" lengthAdjust="spacingAndGlyphs" stroke="#ccccdc" stroke-width="0.22">21:20</text>
<line x1="1494.5" y1="272" x2="1494.5" y2="703.4" stroke="rgba(204,204,220,0.09)" stroke-width="1"/>
<text x="1494.5" y="722.4" font-size="16.2" fill="#ccccdc" text-anchor="middle" textLength="41.5" lengthAdjust="spacingAndGlyphs" stroke="#ccccdc" stroke-width="0.22">21:30</text>
<line x1="1560.5" y1="272" x2="1560.5" y2="703.4" stroke="rgba(204,204,220,0.09)" stroke-width="1"/>
<text x="1560.1" y="722.4" font-size="16.2" fill="#ccccdc" text-anchor="middle" textLength="41.5" lengthAdjust="spacingAndGlyphs" stroke="#ccccdc" stroke-width="0.22">21:40</text>
<line x1="1625.5" y1="272" x2="1625.5" y2="703.4" stroke="rgba(204,204,220,0.09)" stroke-width="1"/>
<text x="1625.7" y="722.4" font-size="16.2" fill="#ccccdc" text-anchor="middle" textLength="41.5" lengthAdjust="spacingAndGlyphs" stroke="#ccccdc" stroke-width="0.22">21:50</text>
<line x1="1691.5" y1="272" x2="1691.5" y2="703.4" stroke="rgba(204,204,220,0.09)" stroke-width="1"/>
<text x="1691.4" y="722.4" font-size="16.2" fill="#ccccdc" text-anchor="middle" textLength="41.5" lengthAdjust="spacingAndGlyphs" stroke="#ccccdc" stroke-width="0.22">22:00</text>
<line x1="1756.5" y1="272" x2="1756.5" y2="703.4" stroke="rgba(204,204,220,0.09)" stroke-width="1"/>
<text x="1757.0" y="722.4" font-size="16.2" fill="#ccccdc" text-anchor="middle" textLength="41.5" lengthAdjust="spacingAndGlyphs" stroke="#ccccdc" stroke-width="0.22">22:10</text>
<line x1="1822.5" y1="272" x2="1822.5" y2="703.4" stroke="rgba(204,204,220,0.09)" stroke-width="1"/>
<text x="1822.6" y="722.4" font-size="16.2" fill="#ccccdc" text-anchor="middle" textLength="41.5" lengthAdjust="spacingAndGlyphs" stroke="#ccccdc" stroke-width="0.22">22:20</text>
<line x1="1888.5" y1="272" x2="1888.5" y2="703.4" stroke="rgba(204,204,220,0.09)" stroke-width="1"/>
<text x="1888.3" y="722.4" font-size="16.2" fill="#ccccdc" text-anchor="middle" textLength="41.5" lengthAdjust="spacingAndGlyphs" stroke="#ccccdc" stroke-width="0.22">22:30</text>
<line x1="1953.5" y1="272" x2="1953.5" y2="703.4" stroke="rgba(204,204,220,0.09)" stroke-width="1"/>
<text x="1953.9" y="722.4" font-size="16.2" fill="#ccccdc" text-anchor="middle" textLength="41.5" lengthAdjust="spacingAndGlyphs" stroke="#ccccdc" stroke-width="0.22">22:40</text>
<line x1="2019.5" y1="272" x2="2019.5" y2="703.4" stroke="rgba(204,204,220,0.09)" stroke-width="1"/>
<text x="2019.5" y="722.4" font-size="16.2" fill="#ccccdc" text-anchor="middle" textLength="41.5" lengthAdjust="spacingAndGlyphs" stroke="#ccccdc" stroke-width="0.22">22:50</text>
<line x1="2085.5" y1="272" x2="2085.5" y2="703.4" stroke="rgba(204,204,220,0.09)" stroke-width="1"/>
<text x="2085.2" y="722.4" font-size="16.2" fill="#ccccdc" text-anchor="middle" textLength="41.5" lengthAdjust="spacingAndGlyphs" stroke="#ccccdc" stroke-width="0.22">23:00</text>
<clipPath id="pc209"><rect x="819.8" y="272" width="1278.8" height="428.2"/></clipPath>
<g clip-path="url(#pc209)">
<path d="M819.8 632.8 C820.4 632.8 821.9 632.7 823.7 632.7 C825.4 632.7 828.0 632.8 830.2 632.9 C832.4 633.0 834.6 633.1 836.8 633.1 C839.0 633.1 841.2 632.4 843.4 633.0 C845.5 633.5 847.7 636.4 849.9 636.2 C852.1 636.0 854.3 632.0 856.5 631.8 C858.7 631.7 860.9 634.6 863.0 635.3 C865.2 636.0 867.4 635.9 869.6 636.0 C871.8 636.1 874.0 636.6 876.2 636.0 C878.4 635.5 880.5 633.4 882.7 632.9 C884.9 632.4 887.1 632.9 889.3 633.0 C891.5 633.0 893.7 633.0 895.9 633.1 C898.0 633.1 900.2 633.0 902.4 633.5 C904.6 633.9 906.8 635.5 909.0 635.8 C911.2 636.2 913.4 636.0 915.5 635.5 C917.7 635.1 919.9 633.5 922.1 633.1 C924.3 632.6 926.5 632.7 928.7 632.7 C930.9 632.8 933.1 633.2 935.2 633.3 C937.4 633.3 939.6 633.1 941.8 633.1 C944.0 633.1 946.2 632.8 948.4 633.3 C950.6 633.7 952.7 635.4 954.9 635.9 C957.1 636.4 959.3 636.3 961.5 636.3 C963.7 636.3 965.9 635.8 968.1 635.7 C970.2 635.6 972.4 635.7 974.6 635.7 C976.8 635.8 979.0 635.7 981.2 635.9 C983.4 636.0 985.6 637.3 987.7 636.7 C989.9 636.2 992.1 633.5 994.3 632.8 C996.5 632.1 998.7 632.1 1000.9 632.6 C1003.1 633.1 1005.3 635.1 1007.4 635.8 C1009.6 636.4 1011.8 636.3 1014.0 636.4 C1016.2 636.4 1018.4 636.0 1020.6 636.0 C1022.8 636.0 1024.9 636.2 1027.1 636.2 C1029.3 636.2 1031.5 637.0 1033.7 636.1 C1035.9 635.2 1038.1 631.4 1040.3 630.6 C1042.4 629.9 1044.6 630.5 1046.8 631.3 C1049.0 632.2 1051.2 635.1 1053.4 635.8 C1055.6 636.5 1057.8 635.4 1059.9 635.5 C1062.1 635.5 1064.3 637.2 1066.5 636.0 C1068.7 634.9 1070.9 628.7 1073.1 628.7 C1075.3 628.6 1077.4 634.6 1079.6 635.8 C1081.8 636.9 1084.0 635.7 1086.2 635.8 C1088.4 635.9 1090.6 636.3 1092.8 636.3 C1095.0 636.3 1097.1 635.9 1099.3 635.8 C1101.5 635.6 1103.7 636.4 1105.9 635.3 C1108.1 634.2 1110.3 630.5 1112.5 629.4 C1114.6 628.2 1116.8 627.4 1119.0 628.5 C1121.2 629.5 1123.4 634.5 1125.6 635.8 C1127.8 637.0 1130.0 636.2 1132.1 636.0 C1134.3 635.9 1136.5 636.2 1138.7 635.1 C1140.9 633.9 1143.1 630.0 1145.3 629.2 C1147.5 628.3 1149.6 628.8 1151.8 629.9 C1154.0 631.0 1156.2 634.8 1158.4 635.8 C1160.6 636.7 1162.8 635.6 1165.0 635.6 C1167.2 635.6 1169.3 637.0 1171.5 635.9 C1173.7 634.8 1175.9 630.2 1178.1 629.1 C1180.3 628.0 1182.5 628.3 1184.7 629.4 C1186.8 630.5 1189.0 634.6 1191.2 635.6 C1193.4 636.5 1195.6 635.2 1197.8 635.3 C1200.0 635.4 1202.2 636.0 1204.3 636.1 C1206.5 636.1 1208.7 635.7 1210.9 635.7 C1213.1 635.7 1215.3 636.0 1217.5 636.0 C1219.7 636.0 1221.8 635.7 1224.0 635.8 C1226.2 635.8 1228.4 636.2 1230.6 636.3 C1232.8 636.3 1235.0 636.1 1237.2 636.0 C1239.3 636.0 1241.5 637.0 1243.7 635.9 C1245.9 634.7 1248.1 629.2 1250.3 629.1 C1252.5 629.0 1254.7 634.2 1256.9 635.4 C1259.0 636.6 1261.2 637.2 1263.4 636.3 C1265.6 635.4 1267.8 630.3 1270.0 630.2 C1272.2 630.0 1274.4 634.5 1276.5 635.6 C1278.7 636.6 1280.9 636.5 1283.1 636.6 C1285.3 636.6 1287.5 636.1 1289.7 636.0 C1291.9 635.9 1294.0 637.0 1296.2 635.8 C1298.4 634.7 1300.6 630.0 1302.8 628.9 C1305.0 627.8 1307.2 628.0 1309.4 629.1 C1311.5 630.3 1313.7 634.8 1315.9 635.9 C1318.1 637.1 1320.3 636.8 1322.5 635.9 C1324.7 635.1 1326.9 631.0 1329.0 630.9 C1331.2 630.8 1333.4 634.4 1335.6 635.2 C1337.8 636.1 1340.0 637.1 1342.2 636.0 C1344.4 634.9 1346.6 628.6 1348.7 628.6 C1350.9 628.5 1353.1 634.5 1355.3 635.7 C1357.5 636.9 1359.7 635.8 1361.9 635.9 C1364.1 635.9 1366.2 635.8 1368.4 635.9 C1370.6 635.9 1372.8 636.2 1375.0 636.2 C1377.2 636.2 1379.4 636.6 1381.6 635.8 C1383.7 635.1 1385.9 632.5 1388.1 631.7 C1390.3 630.9 1392.5 630.4 1394.7 631.1 C1396.9 631.7 1399.1 634.8 1401.2 635.6 C1403.4 636.4 1405.6 635.8 1407.8 635.8 C1410.0 635.8 1412.2 635.5 1414.4 635.6 C1416.6 635.6 1418.8 637.0 1420.9 635.9 C1423.1 634.9 1425.3 629.4 1427.5 629.4 C1429.7 629.4 1431.9 634.8 1434.1 635.8 C1436.3 636.8 1438.4 635.5 1440.6 635.6 C1442.8 635.7 1445.0 637.4 1447.2 636.3 C1449.4 635.1 1451.6 629.8 1453.8 628.7 C1455.9 627.6 1458.1 628.1 1460.3 629.5 C1462.5 630.8 1464.7 635.5 1466.9 636.6 C1469.1 637.6 1471.3 636.6 1473.4 635.9 C1475.6 635.2 1477.8 633.1 1480.0 632.5 C1482.2 631.8 1484.4 631.7 1486.6 632.1 C1488.8 632.5 1490.9 634.3 1493.1 635.0 C1495.3 635.6 1497.5 637.2 1499.7 636.1 C1501.9 635.0 1504.1 628.4 1506.3 628.3 C1508.5 628.2 1510.6 634.5 1512.8 635.7 C1515.0 637.0 1517.2 636.8 1519.4 635.6 C1521.6 634.4 1523.8 629.7 1526.0 628.5 C1528.1 627.3 1530.3 627.4 1532.5 628.5 C1534.7 629.7 1536.9 634.4 1539.1 635.5 C1541.3 636.7 1543.5 635.5 1545.6 635.6 C1547.8 635.7 1550.0 636.3 1552.2 636.2 C1554.4 636.1 1541.3 635.0 1558.8 634.8 C1576.3 634.7 1639.7 635.1 1657.2 635.4 C1674.7 635.6 1661.6 636.1 1663.8 636.2 C1666.0 636.3 1668.2 635.7 1670.4 635.7 C1672.5 635.7 1674.7 636.2 1676.9 636.1 C1679.1 636.1 1681.3 636.7 1683.5 635.4 C1685.7 634.2 1687.9 629.8 1690.0 628.7 C1692.2 627.6 1694.4 627.5 1696.6 628.7 C1698.8 629.9 1701.0 634.8 1703.2 636.0 C1705.4 637.2 1707.5 635.8 1709.7 635.9 C1711.9 635.9 1714.1 636.5 1716.3 636.6 C1718.5 636.6 1720.7 636.4 1722.9 636.2 C1725.0 636.1 1727.2 636.6 1729.4 635.7 C1731.6 634.8 1733.8 631.9 1736.0 630.9 C1738.2 629.9 1740.4 628.9 1742.6 629.8 C1744.7 630.7 1746.9 635.5 1749.1 636.5 C1751.3 637.4 1753.5 635.6 1755.7 635.5 C1757.9 635.5 1760.1 637.1 1762.2 636.1 C1764.4 635.2 1766.6 629.8 1768.8 629.7 C1771.0 629.7 1773.2 634.6 1775.4 635.8 C1777.6 636.9 1779.7 636.5 1781.9 636.4 C1784.1 636.3 1786.3 635.5 1788.5 635.3 C1790.7 635.2 1792.9 635.8 1795.1 635.3 C1797.2 634.7 1799.4 631.8 1801.6 631.9 C1803.8 632.0 1806.0 635.2 1808.2 635.9 C1810.4 636.6 1812.6 635.8 1814.7 635.9 C1816.9 635.9 1819.1 636.3 1821.3 636.2 C1823.5 636.1 1825.7 635.4 1827.9 635.4 C1830.1 635.4 1832.3 635.9 1834.4 636.0 C1836.6 636.1 1838.8 635.8 1841.0 635.8 C1843.2 635.8 1845.4 636.1 1847.6 636.1 C1849.8 636.1 1851.9 636.0 1854.1 636.0 C1856.3 636.1 1858.5 636.4 1860.7 636.3 C1862.9 636.2 1865.1 635.4 1867.3 635.3 C1869.4 635.3 1871.6 637.0 1873.8 635.9 C1876.0 634.7 1878.2 629.7 1880.4 628.5 C1882.6 627.3 1884.8 627.6 1886.9 628.8 C1889.1 630.1 1891.3 634.9 1893.5 636.1 C1895.7 637.2 1897.9 635.9 1900.1 635.9 C1902.3 635.9 1904.4 636.0 1906.6 636.0 C1908.8 636.0 1911.0 635.8 1913.2 635.8 C1915.4 635.8 1917.6 635.9 1919.8 635.9 C1922.0 636.0 1924.1 636.7 1926.3 635.9 C1928.5 635.1 1930.7 632.0 1932.9 631.1 C1935.1 630.3 1937.3 631.1 1939.5 630.9 C1941.6 630.7 1943.8 630.0 1946.0 630.0 C1948.2 630.0 1950.4 630.7 1952.6 630.9 C1954.8 631.0 1957.0 631.1 1959.1 631.0 C1961.3 631.0 1963.5 629.8 1965.7 630.5 C1967.9 631.2 1970.1 634.3 1972.3 635.3 C1974.5 636.3 1976.6 636.3 1978.8 636.4 C1981.0 636.5 1983.2 635.9 1985.4 635.9 C1987.6 635.8 1989.8 635.9 1992.0 636.0 C1994.2 636.1 1996.3 636.6 1998.5 636.5 C2000.7 636.4 2002.9 635.6 2005.1 635.5 C2007.3 635.4 2009.5 635.8 2011.7 635.8 C2013.8 635.9 2016.0 635.7 2018.2 635.8 C2020.4 635.8 2022.6 637.5 2024.8 636.1 C2027.0 634.7 2029.2 627.5 2031.3 627.5 C2033.5 627.4 2035.7 634.6 2037.9 636.0 C2040.1 637.4 2042.3 636.9 2044.5 635.9 C2046.7 634.8 2048.8 630.6 2051.0 629.5 C2053.2 628.5 2055.4 628.6 2057.6 629.5 C2059.8 630.5 2062.0 634.2 2064.2 635.3 C2066.3 636.4 2068.5 635.9 2070.7 636.0 C2072.9 636.1 2075.1 635.7 2077.3 635.7 C2079.5 635.7 2081.7 637.1 2083.9 635.8 C2086.0 634.5 2088.2 627.8 2090.4 627.8 C2092.6 627.8 2095.4 634.7 2097.0 636.0 C2098.6 637.3 2099.6 635.6 2100.1 635.6 L2100.1 700.2 L819.8 700.2 Z" fill="#85bd72" fill-opacity="0.06"/>
<path d="M819.8 640.3 C820.4 640.3 821.9 640.4 823.7 640.4 C825.4 640.4 828.0 640.2 830.2 640.2 C832.4 640.1 834.6 640.2 836.8 640.2 C839.0 640.3 841.2 640.5 843.4 640.5 C845.5 640.5 847.7 640.2 849.9 640.1 C852.1 639.9 854.3 639.6 856.5 639.6 C858.7 639.7 860.9 640.2 863.0 640.3 C865.2 640.4 867.4 640.2 869.6 640.3 C871.8 640.3 874.0 640.6 876.2 640.5 C878.4 640.5 880.5 640.1 882.7 640.1 C884.9 640.1 887.1 640.5 889.3 640.6 C891.5 640.7 893.7 640.7 895.9 640.5 C898.0 640.4 900.2 641.0 902.4 639.8 C904.6 638.7 906.8 633.8 909.0 633.8 C911.2 633.8 913.4 638.9 915.5 639.9 C917.7 640.9 919.9 639.7 922.1 639.8 C924.3 639.8 926.5 640.1 928.7 640.1 C930.9 640.2 933.1 640.1 935.2 640.1 C937.4 640.0 939.6 639.6 941.8 639.6 C944.0 639.7 946.2 640.2 948.4 640.3 C950.6 640.4 952.7 640.3 954.9 640.4 C957.1 640.5 959.3 640.7 961.5 640.6 C963.7 640.6 965.9 640.3 968.1 640.2 C970.2 640.1 972.4 639.8 974.6 639.8 C976.8 639.7 979.0 639.8 981.2 639.9 C983.4 640.1 985.6 640.4 987.7 640.5 C989.9 640.6 992.1 640.5 994.3 640.5 C996.5 640.5 998.7 640.4 1000.9 640.4 C1003.1 640.3 1005.3 640.1 1007.4 640.1 C1009.6 640.1 1011.8 640.3 1014.0 640.3 C1016.2 640.3 1018.4 640.2 1020.6 640.2 C1022.8 640.1 1024.9 640.1 1027.1 640.1 C1029.3 640.2 1031.5 640.3 1033.7 640.3 C1035.9 640.3 1038.1 640.3 1040.3 640.2 C1042.4 640.2 1044.6 640.2 1046.8 640.2 C1049.0 640.2 1051.2 640.3 1053.4 640.2 C1055.6 640.2 1057.8 640.2 1059.9 640.1 C1062.1 640.0 1064.3 639.7 1066.5 639.7 C1068.7 639.7 1070.9 640.0 1073.1 640.0 C1075.3 640.1 1077.4 640.7 1079.6 640.2 C1081.8 639.7 1084.0 636.8 1086.2 636.8 C1088.4 636.7 1090.6 639.4 1092.8 640.1 C1095.0 640.8 1097.1 640.7 1099.3 640.8 C1101.5 640.9 1103.7 641.6 1105.9 640.6 C1108.1 639.7 1110.3 636.0 1112.5 635.0 C1114.6 634.1 1116.8 635.0 1119.0 635.1 C1121.2 635.1 1123.4 634.4 1125.6 635.3 C1127.8 636.3 1130.0 639.9 1132.1 640.7 C1134.3 641.6 1136.5 640.4 1138.7 640.3 C1140.9 640.3 1143.1 640.5 1145.3 640.4 C1147.5 640.4 1149.6 640.2 1151.8 640.0 C1154.0 639.9 1156.2 639.5 1158.4 639.5 C1160.6 639.6 1162.8 640.0 1165.0 640.2 C1167.2 640.3 1169.3 640.4 1171.5 640.5 C1173.7 640.5 1175.9 640.6 1178.1 640.6 C1180.3 640.5 1182.5 640.3 1184.7 640.2 C1186.8 640.2 1189.0 640.2 1191.2 640.3 C1193.4 640.3 1195.6 640.6 1197.8 640.6 C1200.0 640.5 1202.2 640.2 1204.3 640.2 C1206.5 640.2 1208.7 642.0 1210.9 640.6 C1213.1 639.1 1215.3 631.5 1217.5 631.4 C1219.7 631.3 1221.8 638.5 1224.0 639.9 C1226.2 641.3 1228.4 639.8 1230.6 639.9 C1232.8 640.0 1235.0 640.3 1237.2 640.4 C1239.3 640.4 1241.5 640.1 1243.7 640.1 C1245.9 640.0 1248.1 640.2 1250.3 640.3 C1252.5 640.3 1254.7 640.3 1256.9 640.3 C1259.0 640.3 1261.2 640.3 1263.4 640.3 C1265.6 640.4 1267.8 642.4 1270.0 640.6 C1272.2 638.8 1274.4 631.6 1276.5 629.7 C1278.7 627.8 1280.9 627.3 1283.1 629.0 C1285.3 630.8 1287.5 638.4 1289.7 640.3 C1291.9 642.1 1294.0 640.2 1296.2 640.2 C1298.4 640.1 1300.6 639.8 1302.8 639.9 C1305.0 640.0 1307.2 640.6 1309.4 640.7 C1311.5 640.8 1313.7 640.5 1315.9 640.5 C1318.1 640.4 1320.3 640.2 1322.5 640.2 C1324.7 640.1 1326.9 640.1 1329.0 640.1 C1331.2 640.1 1333.4 640.4 1335.6 640.3 C1337.8 640.3 1340.0 639.9 1342.2 639.9 C1344.4 639.9 1346.6 640.0 1348.7 640.2 C1350.9 640.3 1353.1 640.5 1355.3 640.6 C1357.5 640.6 1359.7 641.7 1361.9 640.5 C1364.1 639.3 1366.2 634.5 1368.4 633.3 C1370.6 632.1 1372.8 633.3 1375.0 633.4 C1377.2 633.6 1379.4 634.2 1381.6 634.1 C1383.7 634.1 1385.9 632.2 1388.1 633.2 C1390.3 634.1 1392.5 638.9 1394.7 640.0 C1396.9 641.1 1399.1 639.8 1401.2 639.8 C1403.4 639.9 1405.6 640.3 1407.8 640.3 C1410.0 640.4 1412.2 640.3 1414.4 640.3 C1416.6 640.3 1418.8 641.3 1420.9 640.6 C1423.1 639.8 1425.3 636.5 1427.5 635.8 C1429.7 635.2 1431.9 636.0 1434.1 636.6 C1436.3 637.3 1438.4 639.1 1440.6 639.7 C1442.8 640.4 1445.0 640.3 1447.2 640.4 C1449.4 640.5 1451.6 640.1 1453.8 640.2 C1455.9 640.2 1458.1 640.7 1460.3 640.7 C1462.5 640.7 1464.7 640.5 1466.9 640.3 C1469.1 640.2 1471.3 639.9 1473.4 639.9 C1475.6 640.0 1477.8 640.6 1480.0 640.6 C1482.2 640.6 1484.4 640.0 1486.6 639.9 C1488.8 639.8 1490.9 640.0 1493.1 640.1 C1495.3 640.2 1497.5 640.5 1499.7 640.5 C1501.9 640.6 1504.1 641.0 1506.3 640.4 C1508.5 639.8 1510.6 637.6 1512.8 637.0 C1515.0 636.4 1517.2 636.9 1519.4 636.9 C1521.6 636.9 1523.8 636.4 1526.0 637.0 C1528.1 637.6 1530.3 639.9 1532.5 640.5 C1534.7 641.0 1536.9 640.3 1539.1 640.3 C1541.3 640.3 1543.5 640.5 1545.6 640.5 C1547.8 640.6 1550.0 640.6 1552.2 640.6 C1554.4 640.6 1541.3 640.3 1558.8 640.3 C1576.3 640.3 1639.7 640.4 1657.2 640.4 C1674.7 640.5 1661.6 640.7 1663.8 640.7 C1666.0 640.6 1668.2 640.3 1670.4 640.2 C1672.5 640.2 1674.7 640.4 1676.9 640.4 C1679.1 640.5 1681.3 640.6 1683.5 640.5 C1685.7 640.4 1687.9 640.0 1690.0 640.0 C1692.2 639.9 1694.4 640.4 1696.6 640.4 C1698.8 640.3 1701.0 641.1 1703.2 639.8 C1705.4 638.5 1707.5 633.7 1709.7 632.5 C1711.9 631.2 1714.1 630.8 1716.3 632.1 C1718.5 633.4 1720.7 638.9 1722.9 640.3 C1725.0 641.7 1727.2 640.5 1729.4 640.4 C1731.6 640.4 1733.8 641.8 1736.0 640.0 C1738.2 638.3 1740.4 630.0 1742.6 630.0 C1744.7 630.0 1746.9 638.3 1749.1 640.0 C1751.3 641.7 1753.5 640.1 1755.7 640.2 C1757.9 640.3 1760.1 640.5 1762.2 640.5 C1764.4 640.5 1766.6 640.3 1768.8 640.2 C1771.0 640.2 1773.2 640.3 1775.4 640.2 C1777.6 640.1 1779.7 639.9 1781.9 639.9 C1784.1 640.0 1786.3 640.4 1788.5 640.5 C1790.7 640.5 1792.9 640.2 1795.1 640.2 C1797.2 640.3 1799.4 640.8 1801.6 640.7 C1803.8 640.7 1806.0 640.1 1808.2 640.0 C1810.4 640.0 1812.6 640.4 1814.7 640.5 C1816.9 640.7 1819.1 640.8 1821.3 640.8 C1823.5 640.7 1825.7 640.4 1827.9 640.2 C1830.1 640.1 1832.3 639.8 1834.4 639.9 C1836.6 640.0 1838.8 642.6 1841.0 640.7 C1843.2 638.7 1845.4 628.3 1847.6 628.2 C1849.8 628.2 1851.9 638.4 1854.1 640.4 C1856.3 642.5 1858.5 640.6 1860.7 640.6 C1862.9 640.5 1865.1 640.1 1867.3 640.1 C1869.4 640.1 1871.6 640.4 1873.8 640.5 C1876.0 640.5 1878.2 640.5 1880.4 640.4 C1882.6 640.4 1884.8 640.0 1886.9 640.0 C1889.1 640.0 1891.3 640.4 1893.5 640.4 C1895.7 640.5 1897.9 640.1 1900.1 640.1 C1902.3 640.1 1904.4 640.4 1906.6 640.5 C1908.8 640.6 1911.0 640.5 1913.2 640.6 C1915.4 640.6 1917.6 641.8 1919.8 640.8 C1922.0 639.8 1924.1 635.5 1926.3 634.6 C1928.5 633.7 1930.7 634.3 1932.9 635.2 C1935.1 636.2 1937.3 639.3 1939.5 640.1 C1941.6 641.0 1943.8 640.2 1946.0 640.2 C1948.2 640.2 1950.4 641.4 1952.6 640.2 C1954.8 639.0 1957.0 633.2 1959.1 633.1 C1961.3 633.0 1963.5 638.4 1965.7 639.6 C1967.9 640.9 1970.1 640.4 1972.3 640.5 C1974.5 640.7 1976.6 640.7 1978.8 640.7 C1981.0 640.7 1983.2 640.5 1985.4 640.5 C1987.6 640.5 1989.8 640.7 1992.0 640.6 C1994.2 640.5 1996.3 640.1 1998.5 640.0 C2000.7 639.9 2002.9 639.9 2005.1 640.0 C2007.3 640.1 2009.5 642.3 2011.7 640.5 C2013.8 638.7 2016.0 629.2 2018.2 629.1 C2020.4 629.1 2022.6 638.5 2024.8 640.3 C2027.0 642.1 2029.2 639.7 2031.3 639.8 C2033.5 639.9 2035.7 641.0 2037.9 641.1 C2040.1 641.1 2042.3 641.6 2044.5 640.1 C2046.7 638.6 2048.8 632.1 2051.0 632.1 C2053.2 632.0 2055.4 638.5 2057.6 639.9 C2059.8 641.3 2062.0 640.5 2064.2 640.5 C2066.3 640.6 2068.5 640.3 2070.7 640.3 C2072.9 640.3 2075.1 641.3 2077.3 640.7 C2079.5 640.0 2081.7 637.1 2083.9 636.2 C2086.0 635.4 2088.2 635.6 2090.4 635.5 C2092.6 635.4 2095.4 635.6 2097.0 635.7 C2098.6 635.8 2099.6 636.0 2100.1 636.1 L2100.1 700.2 L819.8 700.2 Z" fill="#eccd47" fill-opacity="0.06"/>
<path d="M819.8 326.8 C820.4 326.8 821.9 326.9 823.7 326.9 C825.4 326.9 828.0 326.7 830.2 326.7 C832.4 326.7 834.6 326.7 836.8 326.7 C839.0 326.7 841.2 326.4 843.4 326.5 C845.5 326.6 847.7 327.3 849.9 327.4 C852.1 327.5 854.3 326.9 856.5 327.0 C858.7 327.0 860.9 327.7 863.0 327.9 C865.2 328.1 867.4 328.2 869.6 328.0 C871.8 327.8 874.0 326.8 876.2 326.7 C878.4 326.6 880.5 327.2 882.7 327.3 C884.9 327.3 887.1 327.2 889.3 327.2 C891.5 327.2 893.7 327.4 895.9 327.3 C898.0 327.3 900.2 326.9 902.4 326.9 C904.6 326.9 906.8 327.3 909.0 327.3 C911.2 327.4 913.4 327.1 915.5 327.2 C917.7 327.3 919.9 327.9 922.1 328.0 C924.3 328.0 926.5 327.6 928.7 327.5 C930.9 327.4 933.1 327.4 935.2 327.4 C937.4 327.4 939.6 327.5 941.8 327.4 C944.0 327.3 946.2 326.9 948.4 326.9 C950.6 327.0 952.7 327.4 954.9 327.5 C957.1 327.5 959.3 327.1 961.5 327.1 C963.7 327.2 965.9 327.7 968.1 327.7 C970.2 327.8 972.4 327.6 974.6 327.6 C976.8 327.5 979.0 327.4 981.2 327.3 C983.4 327.2 985.6 326.9 987.7 326.9 C989.9 326.9 992.1 327.1 994.3 327.1 C996.5 327.2 998.7 327.5 1000.9 327.4 C1003.1 327.2 1005.3 326.5 1007.4 326.4 C1009.6 326.4 1011.8 327.3 1014.0 327.3 C1016.2 327.3 1018.4 326.7 1020.6 326.5 C1022.8 326.3 1024.9 326.5 1027.1 326.4 C1029.3 326.3 1031.5 325.9 1033.7 326.0 C1035.9 326.0 1038.1 326.7 1040.3 326.7 C1042.4 326.8 1044.6 326.2 1046.8 326.1 C1049.0 326.0 1051.2 326.4 1053.4 326.3 C1055.6 326.2 1057.8 325.8 1059.9 325.7 C1062.1 325.6 1064.3 325.6 1066.5 325.5 C1068.7 325.5 1070.9 325.5 1073.1 325.5 C1075.3 325.4 1077.4 325.2 1079.6 325.1 C1081.8 325.1 1084.0 324.8 1086.2 324.9 C1088.4 325.0 1090.6 325.7 1092.8 325.9 C1095.0 326.0 1097.1 325.7 1099.3 325.6 C1101.5 325.6 1103.7 325.8 1105.9 325.8 C1108.1 325.7 1110.3 325.6 1112.5 325.4 C1114.6 325.2 1116.8 324.8 1119.0 324.8 C1121.2 324.8 1123.4 325.3 1125.6 325.3 C1127.8 325.3 1130.0 324.8 1132.1 324.7 C1134.3 324.6 1136.5 324.6 1138.7 324.6 C1140.9 324.6 1143.1 324.5 1145.3 324.7 C1147.5 324.9 1149.6 325.5 1151.8 325.7 C1154.0 325.9 1156.2 326.0 1158.4 326.0 C1160.6 325.9 1162.8 325.6 1165.0 325.6 C1167.2 325.5 1169.3 325.7 1171.5 325.6 C1173.7 325.5 1175.9 325.0 1178.1 325.0 C1180.3 324.9 1182.5 325.4 1184.7 325.4 C1186.8 325.4 1189.0 324.9 1191.2 324.8 C1193.4 324.7 1195.6 324.9 1197.8 324.9 C1200.0 324.9 1202.2 324.9 1204.3 324.9 C1206.5 325.0 1208.7 325.0 1210.9 325.2 C1213.1 325.3 1215.3 325.5 1217.5 325.7 C1219.7 325.9 1221.8 326.1 1224.0 326.2 C1226.2 326.2 1228.4 326.1 1230.6 326.1 C1232.8 326.2 1235.0 326.4 1237.2 326.3 C1239.3 326.2 1241.5 325.4 1243.7 325.6 C1245.9 325.7 1248.1 326.9 1250.3 327.0 C1252.5 327.2 1254.7 326.8 1256.9 326.5 C1259.0 326.3 1261.2 325.7 1263.4 325.6 C1265.6 325.5 1267.8 325.6 1270.0 325.7 C1272.2 325.7 1274.4 325.9 1276.5 325.9 C1278.7 326.0 1280.9 325.9 1283.1 325.9 C1285.3 325.9 1287.5 325.8 1289.7 325.9 C1291.9 326.0 1294.0 326.5 1296.2 326.6 C1298.4 326.7 1300.6 326.6 1302.8 326.5 C1305.0 326.4 1307.2 326.2 1309.4 326.0 C1311.5 325.9 1313.7 325.8 1315.9 325.7 C1318.1 325.6 1320.3 325.5 1322.5 325.4 C1324.7 325.4 1326.9 325.1 1329.0 325.1 C1331.2 325.1 1333.4 325.2 1335.6 325.3 C1337.8 325.3 1340.0 325.6 1342.2 325.5 C1344.4 325.4 1346.6 324.7 1348.7 324.6 C1350.9 324.5 1353.1 324.9 1355.3 325.0 C1357.5 325.1 1359.7 325.2 1361.9 325.2 C1364.1 325.2 1366.2 324.9 1368.4 324.8 C1370.6 324.7 1372.8 324.7 1375.0 324.6 C1377.2 324.6 1379.4 324.5 1381.6 324.6 C1383.7 324.8 1385.9 325.2 1388.1 325.4 C1390.3 325.5 1392.5 325.4 1394.7 325.4 C1396.9 325.3 1399.1 325.1 1401.2 325.0 C1403.4 324.9 1405.6 324.7 1407.8 324.7 C1410.0 324.6 1412.2 324.8 1414.4 324.8 C1416.6 324.8 1418.8 324.7 1420.9 324.6 C1423.1 324.6 1425.3 324.7 1427.5 324.7 C1429.7 324.7 1431.9 324.6 1434.1 324.6 C1436.3 324.6 1438.4 324.7 1440.6 324.8 C1442.8 324.8 1445.0 324.8 1447.2 324.8 C1449.4 324.7 1451.6 324.6 1453.8 324.6 C1455.9 324.7 1458.1 325.4 1460.3 325.2 C1462.5 325.1 1464.7 324.0 1466.9 323.9 C1469.1 323.8 1471.3 324.8 1473.4 324.8 C1475.6 324.7 1477.8 323.8 1480.0 323.7 C1482.2 323.6 1484.4 324.1 1486.6 324.1 C1488.8 324.2 1490.9 323.8 1493.1 323.8 C1495.3 323.8 1497.5 323.9 1499.7 324.1 C1501.9 324.2 1504.1 324.5 1506.3 324.6 C1508.5 324.7 1510.6 324.8 1512.8 324.8 C1515.0 324.7 1517.2 324.4 1519.4 324.2 C1521.6 324.0 1523.8 323.5 1526.0 323.4 C1528.1 323.3 1530.3 323.3 1532.5 323.7 C1534.7 324.0 1536.9 325.2 1539.1 325.4 C1541.3 325.5 1543.5 324.8 1545.6 324.5 C1547.8 324.2 1550.0 323.7 1552.2 323.6 C1554.4 323.5 1541.3 323.7 1558.8 323.8 C1576.3 323.8 1639.7 323.7 1657.2 323.8 C1674.7 323.8 1661.6 324.0 1663.8 324.1 C1666.0 324.2 1668.2 324.6 1670.4 324.5 C1672.5 324.5 1674.7 324.0 1676.9 324.1 C1679.1 324.2 1681.3 324.9 1683.5 324.9 C1685.7 325.0 1687.9 324.3 1690.0 324.4 C1692.2 324.4 1694.4 324.9 1696.6 325.0 C1698.8 325.2 1701.0 325.4 1703.2 325.3 C1705.4 325.2 1707.5 324.9 1709.7 324.7 C1711.9 324.5 1714.1 324.0 1716.3 323.9 C1718.5 323.9 1720.7 324.3 1722.9 324.5 C1725.0 324.6 1727.2 324.8 1729.4 324.8 C1731.6 324.9 1733.8 324.9 1736.0 325.0 C1738.2 325.0 1740.4 325.2 1742.6 325.2 C1744.7 325.3 1746.9 325.2 1749.1 325.3 C1751.3 325.4 1753.5 325.8 1755.7 325.9 C1757.9 325.9 1760.1 325.7 1762.2 325.6 C1764.4 325.4 1766.6 325.2 1768.8 325.1 C1771.0 325.0 1773.2 324.7 1775.4 324.8 C1777.6 324.8 1779.7 325.4 1781.9 325.4 C1784.1 325.4 1786.3 324.9 1788.5 324.8 C1790.7 324.7 1792.9 324.7 1795.1 324.7 C1797.2 324.7 1799.4 324.9 1801.6 324.9 C1803.8 324.9 1806.0 324.7 1808.2 324.5 C1810.4 324.4 1812.6 324.1 1814.7 324.2 C1816.9 324.3 1819.1 325.0 1821.3 325.1 C1823.5 325.2 1825.7 324.7 1827.9 324.7 C1830.1 324.7 1832.3 325.0 1834.4 325.1 C1836.6 325.2 1838.8 325.4 1841.0 325.3 C1843.2 325.2 1845.4 324.9 1847.6 324.7 C1849.8 324.5 1851.9 324.2 1854.1 324.2 C1856.3 324.2 1858.5 324.7 1860.7 324.8 C1862.9 324.8 1865.1 324.5 1867.3 324.5 C1869.4 324.4 1871.6 324.4 1873.8 324.4 C1876.0 324.3 1878.2 324.2 1880.4 324.3 C1882.6 324.3 1884.8 324.4 1886.9 324.6 C1889.1 324.8 1891.3 325.7 1893.5 325.6 C1895.7 325.6 1897.9 324.4 1900.1 324.3 C1902.3 324.2 1904.4 325.0 1906.6 325.1 C1908.8 325.1 1911.0 324.6 1913.2 324.6 C1915.4 324.5 1917.6 324.6 1919.8 324.7 C1922.0 324.8 1924.1 325.0 1926.3 325.1 C1928.5 325.2 1930.7 325.3 1932.9 325.3 C1935.1 325.3 1937.3 325.0 1939.5 324.9 C1941.6 324.9 1943.8 325.0 1946.0 325.0 C1948.2 324.9 1950.4 324.6 1952.6 324.6 C1954.8 324.6 1957.0 324.7 1959.1 324.8 C1961.3 324.9 1963.5 325.4 1965.7 325.3 C1967.9 325.3 1970.1 324.6 1972.3 324.5 C1974.5 324.5 1976.6 324.8 1978.8 324.8 C1981.0 324.9 1983.2 324.6 1985.4 324.7 C1987.6 324.8 1989.8 325.3 1992.0 325.3 C1994.2 325.3 1996.3 324.8 1998.5 324.7 C2000.7 324.7 2002.9 324.9 2005.1 324.9 C2007.3 324.9 2009.5 324.7 2011.7 324.9 C2013.8 325.1 2016.0 325.8 2018.2 326.0 C2020.4 326.1 2022.6 326.0 2024.8 326.0 C2027.0 326.0 2029.2 325.7 2031.3 325.7 C2033.5 325.8 2035.7 326.3 2037.9 326.4 C2040.1 326.4 2042.3 326.3 2044.5 326.1 C2046.7 325.9 2048.8 325.2 2051.0 325.1 C2053.2 325.1 2055.4 325.9 2057.6 326.1 C2059.8 326.2 2062.0 326.1 2064.2 326.1 C2066.3 326.1 2068.5 326.2 2070.7 326.1 C2072.9 326.1 2075.1 325.6 2077.3 325.6 C2079.5 325.5 2081.7 325.7 2083.9 325.9 C2086.0 326.0 2088.2 326.5 2090.4 326.5 C2092.6 326.4 2095.4 325.5 2097.0 325.4 C2098.6 325.3 2099.6 325.8 2100.1 325.9 L2100.1 700.2 L819.8 700.2 Z" fill="#e05660" fill-opacity="0.06"/>
<path d="M819.8 317.7 C820.4 317.8 821.9 318.3 823.7 318.4 C825.4 318.6 828.0 318.6 830.2 318.6 C832.4 318.5 834.6 318.0 836.8 317.9 C839.0 317.9 841.2 318.1 843.4 318.1 C845.5 318.2 847.7 318.2 849.9 318.2 C852.1 318.2 854.3 318.2 856.5 318.1 C858.7 318.0 860.9 317.5 863.0 317.4 C865.2 317.3 867.4 317.5 869.6 317.6 C871.8 317.7 874.0 318.0 876.2 318.1 C878.4 318.1 880.5 317.8 882.7 317.9 C884.9 317.9 887.1 318.2 889.3 318.3 C891.5 318.3 893.7 318.2 895.9 318.0 C898.0 317.9 900.2 317.6 902.4 317.5 C904.6 317.5 906.8 317.8 909.0 317.8 C911.2 317.8 913.4 317.5 915.5 317.4 C917.7 317.3 919.9 317.4 922.1 317.4 C924.3 317.3 926.5 317.0 928.7 316.9 C930.9 316.8 933.1 316.8 935.2 316.9 C937.4 317.0 939.6 317.4 941.8 317.4 C944.0 317.5 946.2 317.2 948.4 317.2 C950.6 317.2 952.7 317.5 954.9 317.5 C957.1 317.5 959.3 317.4 961.5 317.4 C963.7 317.4 965.9 317.5 968.1 317.5 C970.2 317.4 972.4 317.2 974.6 317.1 C976.8 316.9 979.0 316.6 981.2 316.6 C983.4 316.6 985.6 316.8 987.7 316.9 C989.9 317.0 992.1 317.2 994.3 317.1 C996.5 317.1 998.7 316.7 1000.9 316.6 C1003.1 316.6 1005.3 316.7 1007.4 316.7 C1009.6 316.6 1011.8 316.3 1014.0 316.4 C1016.2 316.4 1018.4 316.8 1020.6 317.0 C1022.8 317.1 1024.9 317.1 1027.1 317.1 C1029.3 317.1 1031.5 317.0 1033.7 317.1 C1035.9 317.2 1038.1 317.5 1040.3 317.6 C1042.4 317.6 1044.6 317.5 1046.8 317.5 C1049.0 317.5 1051.2 317.6 1053.4 317.6 C1055.6 317.6 1057.8 317.3 1059.9 317.4 C1062.1 317.4 1064.3 317.9 1066.5 317.8 C1068.7 317.8 1070.9 317.2 1073.1 317.2 C1075.3 317.1 1077.4 317.4 1079.6 317.4 C1081.8 317.5 1084.0 317.5 1086.2 317.4 C1088.4 317.4 1090.6 317.3 1092.8 317.3 C1095.0 317.4 1097.1 317.6 1099.3 317.7 C1101.5 317.7 1103.7 317.7 1105.9 317.7 C1108.1 317.6 1110.3 317.6 1112.5 317.6 C1114.6 317.5 1116.8 317.3 1119.0 317.3 C1121.2 317.2 1123.4 317.2 1125.6 317.2 C1127.8 317.3 1130.0 317.4 1132.1 317.4 C1134.3 317.4 1136.5 317.6 1138.7 317.5 C1140.9 317.5 1143.1 317.2 1145.3 317.2 C1147.5 317.3 1149.6 317.9 1151.8 317.9 C1154.0 317.9 1156.2 317.3 1158.4 317.2 C1160.6 317.1 1162.8 317.1 1165.0 317.2 C1167.2 317.3 1169.3 317.9 1171.5 317.8 C1173.7 317.6 1175.9 316.5 1178.1 316.3 C1180.3 316.1 1182.5 316.4 1184.7 316.6 C1186.8 316.7 1189.0 317.2 1191.2 317.2 C1193.4 317.2 1195.6 316.9 1197.8 316.8 C1200.0 316.7 1202.2 316.8 1204.3 316.7 C1206.5 316.7 1208.7 316.4 1210.9 316.4 C1213.1 316.4 1215.3 316.7 1217.5 316.7 C1219.7 316.8 1221.8 316.7 1224.0 316.7 C1226.2 316.6 1228.4 316.5 1230.6 316.5 C1232.8 316.5 1235.0 316.5 1237.2 316.5 C1239.3 316.4 1241.5 316.2 1243.7 316.1 C1245.9 316.1 1248.1 316.2 1250.3 316.1 C1252.5 316.0 1254.7 315.6 1256.9 315.6 C1259.0 315.5 1261.2 316.1 1263.4 316.1 C1265.6 316.1 1267.8 315.6 1270.0 315.6 C1272.2 315.6 1274.4 315.9 1276.5 316.0 C1278.7 316.1 1280.9 316.2 1283.1 316.2 C1285.3 316.1 1287.5 315.7 1289.7 315.8 C1291.9 315.9 1294.0 316.6 1296.2 316.6 C1298.4 316.6 1300.6 316.0 1302.8 316.0 C1305.0 315.9 1307.2 316.2 1309.4 316.3 C1311.5 316.3 1313.7 316.3 1315.9 316.3 C1318.1 316.2 1320.3 316.1 1322.5 316.0 C1324.7 315.9 1326.9 315.8 1329.0 315.7 C1331.2 315.7 1333.4 315.6 1335.6 315.5 C1337.8 315.5 1340.0 315.3 1342.2 315.3 C1344.4 315.3 1346.6 315.3 1348.7 315.4 C1350.9 315.4 1353.1 315.6 1355.3 315.6 C1357.5 315.7 1359.7 315.7 1361.9 315.7 C1364.1 315.6 1366.2 315.5 1368.4 315.5 C1370.6 315.5 1372.8 315.6 1375.0 315.6 C1377.2 315.6 1379.4 315.3 1381.6 315.3 C1383.7 315.2 1385.9 315.3 1388.1 315.3 C1390.3 315.3 1392.5 315.3 1394.7 315.4 C1396.9 315.5 1399.1 315.7 1401.2 315.8 C1403.4 315.8 1405.6 315.8 1407.8 315.8 C1410.0 315.8 1412.2 315.8 1414.4 315.8 C1416.6 315.8 1418.8 315.8 1420.9 315.8 C1423.1 315.8 1425.3 315.7 1427.5 315.7 C1429.7 315.7 1431.9 315.8 1434.1 315.8 C1436.3 315.8 1438.4 315.7 1440.6 315.6 C1442.8 315.6 1445.0 315.5 1447.2 315.5 C1449.4 315.5 1451.6 315.6 1453.8 315.6 C1455.9 315.7 1458.1 315.5 1460.3 315.6 C1462.5 315.7 1464.7 316.3 1466.9 316.3 C1469.1 316.3 1471.3 315.8 1473.4 315.8 C1475.6 315.8 1477.8 316.1 1480.0 316.0 C1482.2 316.0 1484.4 315.5 1486.6 315.4 C1488.8 315.4 1490.9 315.6 1493.1 315.6 C1495.3 315.6 1497.5 315.3 1499.7 315.4 C1501.9 315.5 1504.1 316.1 1506.3 316.1 C1508.5 316.1 1510.6 315.7 1512.8 315.6 C1515.0 315.5 1517.2 315.3 1519.4 315.3 C1521.6 315.3 1523.8 315.7 1526.0 315.7 C1528.1 315.7 1530.3 315.3 1532.5 315.3 C1534.7 315.2 1536.9 315.4 1539.1 315.4 C1541.3 315.5 1543.5 315.6 1545.6 315.5 C1547.8 315.5 1550.0 315.3 1552.2 315.3 C1554.4 315.2 1541.3 315.3 1558.8 315.3 C1576.3 315.3 1639.7 315.3 1657.2 315.3 C1674.7 315.3 1661.6 315.3 1663.8 315.3 C1666.0 315.3 1668.2 315.3 1670.4 315.3 C1672.5 315.3 1674.7 315.3 1676.9 315.3 C1679.1 315.3 1681.3 315.3 1683.5 315.3 C1685.7 315.3 1687.9 315.3 1690.0 315.3 C1692.2 315.3 1694.4 315.3 1696.6 315.3 C1698.8 315.3 1701.0 315.3 1703.2 315.3 C1705.4 315.3 1707.5 315.3 1709.7 315.3 C1711.9 315.3 1714.1 315.3 1716.3 315.3 C1718.5 315.3 1720.7 315.3 1722.9 315.3 C1725.0 315.3 1727.2 315.3 1729.4 315.3 C1731.6 315.3 1733.8 315.3 1736.0 315.3 C1738.2 315.3 1740.4 315.3 1742.6 315.3 C1744.7 315.3 1746.9 315.2 1749.1 315.3 C1751.3 315.3 1753.5 315.4 1755.7 315.5 C1757.9 315.6 1760.1 316.0 1762.2 316.1 C1764.4 316.1 1766.6 315.9 1768.8 315.9 C1771.0 315.8 1773.2 315.4 1775.4 315.6 C1777.6 315.8 1779.7 316.9 1781.9 317.0 C1784.1 317.2 1786.3 316.5 1788.5 316.4 C1790.7 316.3 1792.9 316.5 1795.1 316.4 C1797.2 316.4 1799.4 316.2 1801.6 316.2 C1803.8 316.1 1806.0 316.0 1808.2 316.1 C1810.4 316.2 1812.6 316.8 1814.7 316.8 C1816.9 316.9 1819.1 316.5 1821.3 316.4 C1823.5 316.2 1825.7 316.1 1827.9 316.1 C1830.1 316.1 1832.3 316.5 1834.4 316.6 C1836.6 316.6 1838.8 316.4 1841.0 316.3 C1843.2 316.2 1845.4 316.2 1847.6 316.2 C1849.8 316.3 1851.9 316.6 1854.1 316.6 C1856.3 316.6 1858.5 316.3 1860.7 316.4 C1862.9 316.4 1865.1 316.9 1867.3 316.9 C1869.4 316.9 1871.6 316.4 1873.8 316.4 C1876.0 316.5 1878.2 317.1 1880.4 317.2 C1882.6 317.3 1884.8 317.0 1886.9 316.9 C1889.1 316.9 1891.3 316.9 1893.5 317.0 C1895.7 317.1 1897.9 317.5 1900.1 317.5 C1902.3 317.5 1904.4 317.1 1906.6 317.0 C1908.8 317.0 1911.0 317.2 1913.2 317.2 C1915.4 317.1 1917.6 317.0 1919.8 316.9 C1922.0 316.9 1924.1 316.7 1926.3 316.8 C1928.5 316.9 1930.7 317.4 1932.9 317.5 C1935.1 317.6 1937.3 317.5 1939.5 317.4 C1941.6 317.3 1943.8 316.9 1946.0 316.9 C1948.2 317.0 1950.4 317.6 1952.6 317.6 C1954.8 317.7 1957.0 317.4 1959.1 317.4 C1961.3 317.3 1963.5 317.5 1965.7 317.5 C1967.9 317.5 1970.1 317.5 1972.3 317.5 C1974.5 317.5 1976.6 317.8 1978.8 317.7 C1981.0 317.6 1983.2 317.0 1985.4 316.9 C1987.6 316.9 1989.8 317.2 1992.0 317.2 C1994.2 317.3 1996.3 317.3 1998.5 317.3 C2000.7 317.2 2002.9 317.1 2005.1 317.0 C2007.3 317.0 2009.5 316.9 2011.7 316.9 C2013.8 316.9 2016.0 317.0 2018.2 317.0 C2020.4 316.9 2022.6 316.6 2024.8 316.6 C2027.0 316.6 2029.2 316.8 2031.3 317.0 C2033.5 317.1 2035.7 317.2 2037.9 317.4 C2040.1 317.5 2042.3 317.8 2044.5 317.7 C2046.7 317.6 2048.8 317.0 2051.0 316.9 C2053.2 316.7 2055.4 316.8 2057.6 316.8 C2059.8 316.7 2062.0 316.6 2064.2 316.6 C2066.3 316.7 2068.5 317.0 2070.7 316.9 C2072.9 316.9 2075.1 316.6 2077.3 316.5 C2079.5 316.5 2081.7 316.7 2083.9 316.6 C2086.0 316.6 2088.2 316.4 2090.4 316.2 C2092.6 316.1 2095.4 315.8 2097.0 315.8 C2098.6 315.8 2099.6 316.2 2100.1 316.3 L2100.1 700.2 L819.8 700.2 Z" fill="#6592eb" fill-opacity="0.06"/>
<path d="M819.8 314.9 C820.4 314.9 821.9 314.9 823.7 314.7 C825.4 314.6 828.0 314.3 830.2 314.2 C832.4 314.1 834.6 314.4 836.8 314.4 C839.0 314.4 841.2 314.3 843.4 314.2 C845.5 314.1 847.7 313.9 849.9 313.9 C852.1 313.9 854.3 314.1 856.5 314.0 C858.7 314.0 860.9 313.7 863.0 313.6 C865.2 313.5 867.4 313.6 869.6 313.5 C871.8 313.5 874.0 313.5 876.2 313.4 C878.4 313.4 880.5 313.4 882.7 313.5 C884.9 313.6 887.1 313.9 889.3 314.0 C891.5 314.1 893.7 314.0 895.9 313.9 C898.0 313.9 900.2 313.8 902.4 313.8 C904.6 313.8 906.8 313.9 909.0 313.9 C911.2 314.0 913.4 313.8 915.5 313.9 C917.7 314.0 919.9 314.4 922.1 314.5 C924.3 314.7 926.5 314.7 928.7 314.7 C930.9 314.6 933.1 314.2 935.2 314.2 C937.4 314.2 939.6 314.5 941.8 314.6 C944.0 314.8 946.2 315.1 948.4 315.0 C950.6 315.0 952.7 314.2 954.9 314.2 C957.1 314.1 959.3 314.7 961.5 314.8 C963.7 314.9 965.9 314.7 968.1 314.7 C970.2 314.7 972.4 314.7 974.6 314.7 C976.8 314.7 979.0 314.7 981.2 314.8 C983.4 314.8 985.6 314.9 987.7 314.8 C989.9 314.7 992.1 314.5 994.3 314.4 C996.5 314.3 998.7 314.2 1000.9 314.3 C1003.1 314.4 1005.3 314.9 1007.4 314.9 C1009.6 314.9 1011.8 314.2 1014.0 314.1 C1016.2 314.1 1018.4 314.3 1020.6 314.4 C1022.8 314.4 1024.9 314.7 1027.1 314.7 C1029.3 314.7 1031.5 314.4 1033.7 314.5 C1035.9 314.5 1038.1 314.7 1040.3 314.8 C1042.4 314.9 1044.6 315.3 1046.8 315.3 C1049.0 315.3 1051.2 314.7 1053.4 314.7 C1055.6 314.7 1057.8 315.4 1059.9 315.4 C1062.1 315.5 1064.3 315.1 1066.5 315.1 C1068.7 315.1 1070.9 315.3 1073.1 315.2 C1075.3 315.2 1077.4 314.9 1079.6 314.9 C1081.8 314.9 1084.0 315.2 1086.2 315.2 C1088.4 315.3 1090.6 315.0 1092.8 315.0 C1095.0 315.0 1097.1 315.4 1099.3 315.4 C1101.5 315.3 1103.7 314.7 1105.9 314.6 C1108.1 314.5 1110.3 314.9 1112.5 314.9 C1114.6 315.0 1116.8 315.0 1119.0 314.9 C1121.2 314.9 1123.4 314.4 1125.6 314.4 C1127.8 314.4 1130.0 314.9 1132.1 314.9 C1134.3 315.0 1136.5 315.0 1138.7 314.9 C1140.9 314.8 1143.1 314.2 1145.3 314.2 C1147.5 314.2 1149.6 314.6 1151.8 314.8 C1154.0 314.9 1156.2 315.1 1158.4 315.1 C1160.6 315.0 1162.8 314.5 1165.0 314.5 C1167.2 314.5 1169.3 315.0 1171.5 315.0 C1173.7 315.0 1175.9 314.5 1178.1 314.4 C1180.3 314.3 1182.5 314.4 1184.7 314.5 C1186.8 314.6 1189.0 315.0 1191.2 315.1 C1193.4 315.2 1195.6 315.2 1197.8 315.1 C1200.0 315.1 1202.2 314.6 1204.3 314.5 C1206.5 314.4 1208.7 314.6 1210.9 314.6 C1213.1 314.7 1215.3 314.9 1217.5 314.9 C1219.7 314.9 1221.8 314.6 1224.0 314.6 C1226.2 314.7 1228.4 315.2 1230.6 315.2 C1232.8 315.2 1235.0 314.8 1237.2 314.7 C1239.3 314.6 1241.5 314.7 1243.7 314.7 C1245.9 314.6 1248.1 314.3 1250.3 314.2 C1252.5 314.1 1254.7 314.0 1256.9 314.0 C1259.0 314.0 1261.2 314.1 1263.4 314.1 C1265.6 314.0 1267.8 313.7 1270.0 313.6 C1272.2 313.5 1274.4 313.5 1276.5 313.6 C1278.7 313.7 1280.9 313.9 1283.1 314.0 C1285.3 314.0 1287.5 314.1 1289.7 314.1 C1291.9 314.1 1294.0 314.1 1296.2 314.1 C1298.4 314.0 1300.6 313.7 1302.8 313.7 C1305.0 313.8 1307.2 314.4 1309.4 314.4 C1311.5 314.4 1313.7 314.1 1315.9 314.0 C1318.1 313.9 1320.3 313.8 1322.5 313.8 C1324.7 313.8 1326.9 313.9 1329.0 313.9 C1331.2 313.9 1333.4 313.7 1335.6 313.8 C1337.8 313.8 1340.0 314.1 1342.2 314.2 C1344.4 314.3 1346.6 314.3 1348.7 314.3 C1350.9 314.2 1353.1 314.0 1355.3 314.0 C1357.5 314.0 1359.7 314.3 1361.9 314.3 C1364.1 314.3 1366.2 314.1 1368.4 314.1 C1370.6 314.0 1372.8 314.3 1375.0 314.3 C1377.2 314.3 1379.4 314.0 1381.6 314.0 C1383.7 314.0 1385.9 314.1 1388.1 314.2 C1390.3 314.2 1392.5 314.3 1394.7 314.3 C1396.9 314.4 1399.1 314.4 1401.2 314.4 C1403.4 314.3 1405.6 314.2 1407.8 314.2 C1410.0 314.2 1412.2 314.4 1414.4 314.4 C1416.6 314.3 1418.8 314.2 1420.9 314.1 C1423.1 313.9 1425.3 313.7 1427.5 313.7 C1429.7 313.7 1431.9 314.1 1434.1 314.1 C1436.3 314.0 1438.4 313.4 1440.6 313.4 C1442.8 313.4 1445.0 314.0 1447.2 314.1 C1449.4 314.2 1451.6 314.0 1453.8 314.1 C1455.9 314.2 1458.1 314.5 1460.3 314.6 C1462.5 314.7 1464.7 314.7 1466.9 314.7 C1469.1 314.6 1471.3 314.2 1473.4 314.2 C1475.6 314.2 1477.8 314.7 1480.0 314.8 C1482.2 314.9 1484.4 314.9 1486.6 315.0 C1488.8 315.0 1490.9 315.2 1493.1 315.2 C1495.3 315.2 1497.5 315.1 1499.7 315.0 C1501.9 314.9 1504.1 314.6 1506.3 314.7 C1508.5 314.7 1510.6 315.1 1512.8 315.2 C1515.0 315.3 1517.2 315.0 1519.4 315.1 C1521.6 315.2 1523.8 315.6 1526.0 315.7 C1528.1 315.8 1530.3 315.6 1532.5 315.6 C1534.7 315.7 1536.9 315.8 1539.1 315.7 C1541.3 315.7 1543.5 315.4 1545.6 315.5 C1547.8 315.5 1550.0 315.9 1552.2 315.9 C1554.4 315.9 1541.3 315.5 1558.8 315.5 C1576.3 315.4 1639.7 315.6 1657.2 315.7 C1674.7 315.8 1661.6 316.0 1663.8 316.1 C1666.0 316.2 1668.2 316.0 1670.4 316.0 C1672.5 316.0 1674.7 315.8 1676.9 316.0 C1679.1 316.1 1681.3 316.8 1683.5 316.8 C1685.7 316.8 1687.9 316.0 1690.0 315.9 C1692.2 315.7 1694.4 315.9 1696.6 315.9 C1698.8 316.0 1701.0 316.2 1703.2 316.3 C1705.4 316.4 1707.5 316.5 1709.7 316.4 C1711.9 316.3 1714.1 315.7 1716.3 315.5 C1718.5 315.4 1720.7 315.8 1722.9 315.7 C1725.0 315.7 1727.2 315.4 1729.4 315.3 C1731.6 315.2 1733.8 315.2 1736.0 315.2 C1738.2 315.2 1740.4 315.4 1742.6 315.4 C1744.7 315.3 1746.9 314.9 1749.1 314.8 C1751.3 314.8 1753.5 315.1 1755.7 315.0 C1757.9 315.0 1760.1 314.8 1762.2 314.7 C1764.4 314.6 1766.6 314.7 1768.8 314.7 C1771.0 314.6 1773.2 314.6 1775.4 314.6 C1777.6 314.6 1779.7 314.5 1781.9 314.5 C1784.1 314.5 1786.3 314.7 1788.5 314.7 C1790.7 314.8 1792.9 314.6 1795.1 314.6 C1797.2 314.6 1799.4 314.9 1801.6 314.9 C1803.8 314.9 1806.0 314.6 1808.2 314.6 C1810.4 314.6 1812.6 314.8 1814.7 314.8 C1816.9 314.8 1819.1 314.6 1821.3 314.6 C1823.5 314.6 1825.7 314.8 1827.9 314.9 C1830.1 315.0 1832.3 315.0 1834.4 315.0 C1836.6 315.0 1838.8 314.8 1841.0 314.7 C1843.2 314.7 1845.4 315.0 1847.6 315.0 C1849.8 314.9 1851.9 314.4 1854.1 314.3 C1856.3 314.3 1858.5 314.8 1860.7 314.9 C1862.9 315.0 1865.1 314.9 1867.3 315.0 C1869.4 315.0 1871.6 315.2 1873.8 315.2 C1876.0 315.1 1878.2 314.5 1880.4 314.5 C1882.6 314.5 1884.8 315.1 1886.9 315.2 C1889.1 315.3 1891.3 315.2 1893.5 315.1 C1895.7 315.1 1897.9 315.1 1900.1 315.1 C1902.3 315.0 1904.4 314.9 1906.6 314.9 C1908.8 314.9 1911.0 314.7 1913.2 314.8 C1915.4 314.8 1917.6 315.3 1919.8 315.2 C1922.0 315.1 1924.1 314.3 1926.3 314.3 C1928.5 314.3 1930.7 315.0 1932.9 315.1 C1935.1 315.2 1937.3 314.8 1939.5 314.8 C1941.6 314.9 1943.8 315.2 1946.0 315.2 C1948.2 315.2 1950.4 314.8 1952.6 314.8 C1954.8 314.7 1957.0 315.0 1959.1 315.0 C1961.3 315.0 1963.5 314.7 1965.7 314.6 C1967.9 314.5 1970.1 314.5 1972.3 314.5 C1974.5 314.5 1976.6 314.6 1978.8 314.7 C1981.0 314.8 1983.2 315.0 1985.4 315.0 C1987.6 315.0 1989.8 314.6 1992.0 314.6 C1994.2 314.5 1996.3 314.7 1998.5 314.6 C2000.7 314.5 2002.9 314.1 2005.1 314.0 C2007.3 314.0 2009.5 314.2 2011.7 314.2 C2013.8 314.3 2016.0 314.2 2018.2 314.3 C2020.4 314.4 2022.6 314.5 2024.8 314.6 C2027.0 314.7 2029.2 314.8 2031.3 314.8 C2033.5 314.8 2035.7 314.7 2037.9 314.6 C2040.1 314.6 2042.3 314.6 2044.5 314.5 C2046.7 314.3 2048.8 313.8 2051.0 313.8 C2053.2 313.8 2055.4 314.4 2057.6 314.5 C2059.8 314.6 2062.0 314.3 2064.2 314.2 C2066.3 314.1 2068.5 314.2 2070.7 314.1 C2072.9 314.0 2075.1 313.6 2077.3 313.5 C2079.5 313.5 2081.7 313.7 2083.9 313.7 C2086.0 313.8 2088.2 313.7 2090.4 313.7 C2092.6 313.8 2095.4 313.9 2097.0 313.9 C2098.6 313.8 2099.6 313.3 2100.1 313.2 L2100.1 700.2 L819.8 700.2 Z" fill="#af7ad3" fill-opacity="0.06"/>
<path d="M819.8 324.2 C820.4 324.2 821.9 324.3 823.7 324.3 C825.4 324.3 828.0 324.2 830.2 324.1 C832.4 324.1 834.6 324.1 836.8 324.1 C839.0 324.1 841.2 324.2 843.4 324.2 C845.5 324.3 847.7 324.6 849.9 324.6 C852.1 324.5 854.3 324.1 856.5 324.1 C858.7 324.0 860.9 324.5 863.0 324.5 C865.2 324.5 867.4 324.3 869.6 324.2 C871.8 324.0 874.0 323.8 876.2 323.8 C878.4 323.8 880.5 323.9 882.7 324.0 C884.9 324.2 887.1 324.4 889.3 324.5 C891.5 324.5 893.7 324.3 895.9 324.2 C898.0 324.1 900.2 324.0 902.4 323.9 C904.6 323.9 906.8 324.0 909.0 324.0 C911.2 324.0 913.4 323.8 915.5 323.9 C917.7 324.0 919.9 324.4 922.1 324.4 C924.3 324.5 926.5 324.2 928.7 324.2 C930.9 324.2 933.1 324.4 935.2 324.4 C937.4 324.4 939.6 324.4 941.8 324.4 C944.0 324.4 946.2 324.6 948.4 324.6 C950.6 324.6 952.7 324.6 954.9 324.6 C957.1 324.6 959.3 324.6 961.5 324.6 C963.7 324.7 965.9 324.7 968.1 324.7 C970.2 324.7 972.4 324.8 974.6 324.7 C976.8 324.7 979.0 324.4 981.2 324.4 C983.4 324.5 985.6 325.0 987.7 325.0 C989.9 325.0 992.1 324.5 994.3 324.4 C996.5 324.4 998.7 324.6 1000.9 324.7 C1003.1 324.8 1005.3 324.8 1007.4 324.8 C1009.6 324.8 1011.8 324.7 1014.0 324.7 C1016.2 324.7 1018.4 324.7 1020.6 324.7 C1022.8 324.7 1024.9 324.6 1027.1 324.6 C1029.3 324.6 1031.5 324.7 1033.7 324.7 C1035.9 324.6 1038.1 324.4 1040.3 324.4 C1042.4 324.4 1044.6 324.7 1046.8 324.6 C1049.0 324.6 1051.2 324.0 1053.4 323.8 C1055.6 323.7 1057.8 323.8 1059.9 323.8 C1062.1 323.9 1064.3 324.0 1066.5 324.0 C1068.7 324.1 1070.9 324.1 1073.1 324.1 C1075.3 324.1 1077.4 324.3 1079.6 324.3 C1081.8 324.3 1084.0 324.3 1086.2 324.3 C1088.4 324.3 1090.6 324.3 1092.8 324.2 C1095.0 324.1 1097.1 323.8 1099.3 323.7 C1101.5 323.6 1103.7 323.6 1105.9 323.7 C1108.1 323.8 1110.3 324.2 1112.5 324.2 C1114.6 324.3 1116.8 324.1 1119.0 324.1 C1121.2 324.1 1123.4 324.2 1125.6 324.2 C1127.8 324.2 1130.0 324.2 1132.1 324.2 C1134.3 324.2 1136.5 324.0 1138.7 324.0 C1140.9 324.0 1143.1 324.2 1145.3 324.3 C1147.5 324.4 1149.6 324.4 1151.8 324.4 C1154.0 324.5 1156.2 324.6 1158.4 324.7 C1160.6 324.7 1162.8 324.8 1165.0 324.8 C1167.2 324.8 1169.3 324.8 1171.5 324.7 C1173.7 324.6 1175.9 324.3 1178.1 324.3 C1180.3 324.3 1182.5 324.6 1184.7 324.7 C1186.8 324.7 1189.0 324.7 1191.2 324.7 C1193.4 324.8 1195.6 325.0 1197.8 325.0 C1200.0 325.0 1202.2 324.8 1204.3 324.7 C1206.5 324.7 1208.7 324.7 1210.9 324.7 C1213.1 324.8 1215.3 325.1 1217.5 325.1 C1219.7 325.2 1221.8 325.0 1224.0 324.9 C1226.2 324.9 1228.4 325.1 1230.6 325.1 C1232.8 325.0 1235.0 324.7 1237.2 324.7 C1239.3 324.8 1241.5 325.2 1243.7 325.2 C1245.9 325.3 1248.1 325.1 1250.3 325.1 C1252.5 325.0 1254.7 325.0 1256.9 324.9 C1259.0 324.9 1261.2 324.9 1263.4 324.9 C1265.6 324.9 1267.8 324.9 1270.0 324.8 C1272.2 324.8 1274.4 324.6 1276.5 324.6 C1278.7 324.7 1280.9 325.1 1283.1 325.1 C1285.3 325.1 1287.5 324.6 1289.7 324.5 C1291.9 324.4 1294.0 324.5 1296.2 324.6 C1298.4 324.6 1300.6 324.6 1302.8 324.6 C1305.0 324.6 1307.2 324.6 1309.4 324.6 C1311.5 324.5 1313.7 324.6 1315.9 324.6 C1318.1 324.6 1320.3 324.7 1322.5 324.7 C1324.7 324.6 1326.9 324.1 1329.0 324.1 C1331.2 324.2 1333.4 325.0 1335.6 325.0 C1337.8 325.1 1340.0 324.6 1342.2 324.5 C1344.4 324.3 1346.6 324.3 1348.7 324.3 C1350.9 324.3 1353.1 324.5 1355.3 324.6 C1357.5 324.7 1359.7 324.7 1361.9 324.7 C1364.1 324.7 1366.2 324.5 1368.4 324.5 C1370.6 324.5 1372.8 324.6 1375.0 324.7 C1377.2 324.8 1379.4 325.0 1381.6 325.0 C1383.7 325.0 1385.9 324.8 1388.1 324.8 C1390.3 324.9 1392.5 325.3 1394.7 325.3 C1396.9 325.3 1399.1 324.9 1401.2 324.7 C1403.4 324.6 1405.6 324.3 1407.8 324.3 C1410.0 324.2 1412.2 324.4 1414.4 324.5 C1416.6 324.5 1418.8 324.5 1420.9 324.6 C1423.1 324.7 1425.3 325.0 1427.5 325.0 C1429.7 325.1 1431.9 324.9 1434.1 324.9 C1436.3 325.0 1438.4 325.1 1440.6 325.2 C1442.8 325.2 1445.0 325.1 1447.2 325.1 C1449.4 325.0 1451.6 324.8 1453.8 324.9 C1455.9 324.9 1458.1 325.2 1460.3 325.2 C1462.5 325.2 1464.7 324.9 1466.9 324.9 C1469.1 324.8 1471.3 325.1 1473.4 325.1 C1475.6 325.0 1477.8 324.7 1480.0 324.6 C1482.2 324.5 1484.4 324.5 1486.6 324.5 C1488.8 324.5 1490.9 324.6 1493.1 324.6 C1495.3 324.5 1497.5 324.5 1499.7 324.3 C1501.9 324.2 1504.1 323.9 1506.3 323.9 C1508.5 323.8 1510.6 324.1 1512.8 324.1 C1515.0 324.2 1517.2 324.2 1519.4 324.3 C1521.6 324.3 1523.8 324.3 1526.0 324.2 C1528.1 324.2 1530.3 324.1 1532.5 324.1 C1534.7 324.0 1536.9 324.0 1539.1 324.0 C1541.3 324.0 1543.5 324.2 1545.6 324.2 C1547.8 324.2 1550.0 324.2 1552.2 324.2 C1554.4 324.2 1541.3 324.3 1558.8 324.2 C1576.3 324.2 1639.7 323.9 1657.2 324.0 C1674.7 324.0 1661.6 324.3 1663.8 324.4 C1666.0 324.4 1668.2 324.1 1670.4 324.0 C1672.5 324.0 1674.7 324.1 1676.9 324.2 C1679.1 324.3 1681.3 324.4 1683.5 324.4 C1685.7 324.5 1687.9 324.6 1690.0 324.6 C1692.2 324.6 1694.4 324.6 1696.6 324.6 C1698.8 324.5 1701.0 324.3 1703.2 324.4 C1705.4 324.5 1707.5 324.9 1709.7 325.0 C1711.9 325.0 1714.1 324.7 1716.3 324.7 C1718.5 324.8 1720.7 325.2 1722.9 325.2 C1725.0 325.2 1727.2 325.0 1729.4 325.0 C1731.6 325.0 1733.8 325.1 1736.0 325.0 C1738.2 325.0 1740.4 324.9 1742.6 324.8 C1744.7 324.8 1746.9 324.9 1749.1 324.9 C1751.3 324.9 1753.5 325.0 1755.7 325.1 C1757.9 325.1 1760.1 325.2 1762.2 325.1 C1764.4 325.0 1766.6 324.7 1768.8 324.5 C1771.0 324.4 1773.2 324.2 1775.4 324.2 C1777.6 324.2 1779.7 324.5 1781.9 324.5 C1784.1 324.6 1786.3 324.5 1788.5 324.5 C1790.7 324.5 1792.9 324.6 1795.1 324.6 C1797.2 324.6 1799.4 324.6 1801.6 324.5 C1803.8 324.4 1806.0 324.1 1808.2 324.1 C1810.4 324.1 1812.6 324.4 1814.7 324.4 C1816.9 324.5 1819.1 324.4 1821.3 324.3 C1823.5 324.3 1825.7 324.4 1827.9 324.3 C1830.1 324.3 1832.3 324.1 1834.4 324.1 C1836.6 324.1 1838.8 324.3 1841.0 324.3 C1843.2 324.4 1845.4 324.4 1847.6 324.4 C1849.8 324.4 1851.9 324.5 1854.1 324.5 C1856.3 324.5 1858.5 324.4 1860.7 324.3 C1862.9 324.3 1865.1 324.2 1867.3 324.2 C1869.4 324.2 1871.6 324.3 1873.8 324.3 C1876.0 324.3 1878.2 324.3 1880.4 324.2 C1882.6 324.2 1884.8 324.2 1886.9 324.2 C1889.1 324.2 1891.3 324.1 1893.5 324.0 C1895.7 324.0 1897.9 324.1 1900.1 324.0 C1902.3 323.9 1904.4 323.7 1906.6 323.6 C1908.8 323.6 1911.0 323.6 1913.2 323.6 C1915.4 323.5 1917.6 323.4 1919.8 323.5 C1922.0 323.6 1924.1 324.0 1926.3 324.0 C1928.5 324.1 1930.7 323.8 1932.9 323.8 C1935.1 323.8 1937.3 323.9 1939.5 323.9 C1941.6 323.9 1943.8 323.6 1946.0 323.6 C1948.2 323.6 1950.4 323.9 1952.6 323.9 C1954.8 324.0 1957.0 323.9 1959.1 323.8 C1961.3 323.7 1963.5 323.4 1965.7 323.4 C1967.9 323.3 1970.1 323.4 1972.3 323.5 C1974.5 323.6 1976.6 323.9 1978.8 323.9 C1981.0 323.9 1983.2 323.5 1985.4 323.4 C1987.6 323.4 1989.8 323.4 1992.0 323.4 C1994.2 323.5 1996.3 323.6 1998.5 323.6 C2000.7 323.6 2002.9 323.3 2005.1 323.3 C2007.3 323.3 2009.5 323.4 2011.7 323.4 C2013.8 323.4 2016.0 323.2 2018.2 323.2 C2020.4 323.2 2022.6 323.3 2024.8 323.4 C2027.0 323.5 2029.2 323.7 2031.3 323.7 C2033.5 323.7 2035.7 323.5 2037.9 323.5 C2040.1 323.5 2042.3 323.6 2044.5 323.6 C2046.7 323.5 2048.8 323.5 2051.0 323.4 C2053.2 323.4 2055.4 323.3 2057.6 323.3 C2059.8 323.2 2062.0 323.1 2064.2 323.2 C2066.3 323.3 2068.5 323.5 2070.7 323.7 C2072.9 323.9 2075.1 324.2 2077.3 324.3 C2079.5 324.3 2081.7 323.8 2083.9 323.8 C2086.0 323.8 2088.2 324.1 2090.4 324.0 C2092.6 323.9 2095.4 323.4 2097.0 323.2 C2098.6 323.1 2099.6 323.2 2100.1 323.2 L2100.1 700.2 L819.8 700.2 Z" fill="#6d5e9c" fill-opacity="0.06"/>
<path d="M819.8 325.3 C820.4 325.3 821.9 325.2 823.7 325.2 C825.4 325.2 828.0 325.4 830.2 325.3 C832.4 325.3 834.6 324.8 836.8 324.8 C839.0 324.8 841.2 325.0 843.4 325.2 C845.5 325.3 847.7 325.6 849.9 325.6 C852.1 325.7 854.3 325.4 856.5 325.4 C858.7 325.3 860.9 325.4 863.0 325.4 C865.2 325.3 867.4 325.0 869.6 325.0 C871.8 325.0 874.0 325.2 876.2 325.3 C878.4 325.5 880.5 325.6 882.7 325.6 C884.9 325.6 887.1 325.2 889.3 325.2 C891.5 325.1 893.7 325.3 895.9 325.3 C898.0 325.3 900.2 325.2 902.4 325.2 C904.6 325.2 906.8 325.4 909.0 325.4 C911.2 325.3 913.4 325.0 915.5 324.9 C917.7 324.8 919.9 324.7 922.1 324.8 C924.3 324.9 926.5 325.5 928.7 325.5 C930.9 325.5 933.1 324.8 935.2 324.7 C937.4 324.7 939.6 325.1 941.8 325.1 C944.0 325.1 946.2 324.7 948.4 324.6 C950.6 324.5 952.7 324.7 954.9 324.7 C957.1 324.7 959.3 324.7 961.5 324.7 C963.7 324.6 965.9 324.4 968.1 324.4 C970.2 324.3 972.4 324.5 974.6 324.5 C976.8 324.5 979.0 324.4 981.2 324.4 C983.4 324.3 985.6 324.1 987.7 324.1 C989.9 324.0 992.1 324.1 994.3 324.2 C996.5 324.3 998.7 324.5 1000.9 324.5 C1003.1 324.4 1005.3 324.0 1007.4 324.0 C1009.6 324.0 1011.8 324.5 1014.0 324.6 C1016.2 324.7 1018.4 324.6 1020.6 324.6 C1022.8 324.6 1024.9 324.3 1027.1 324.4 C1029.3 324.4 1031.5 324.7 1033.7 324.7 C1035.9 324.8 1038.1 324.8 1040.3 324.9 C1042.4 324.9 1044.6 324.9 1046.8 324.9 C1049.0 325.0 1051.2 325.0 1053.4 325.0 C1055.6 325.0 1057.8 325.1 1059.9 325.1 C1062.1 325.1 1064.3 324.8 1066.5 324.8 C1068.7 324.7 1070.9 325.0 1073.1 324.9 C1075.3 324.8 1077.4 324.4 1079.6 324.3 C1081.8 324.2 1084.0 324.1 1086.2 324.1 C1088.4 324.2 1090.6 324.5 1092.8 324.5 C1095.0 324.6 1097.1 324.3 1099.3 324.4 C1101.5 324.5 1103.7 325.1 1105.9 325.2 C1108.1 325.2 1110.3 324.9 1112.5 324.9 C1114.6 324.9 1116.8 325.0 1119.0 325.0 C1121.2 325.0 1123.4 324.9 1125.6 324.9 C1127.8 325.0 1130.0 325.1 1132.1 325.1 C1134.3 325.1 1136.5 324.8 1138.7 324.7 C1140.9 324.7 1143.1 324.9 1145.3 324.9 C1147.5 324.8 1149.6 324.6 1151.8 324.5 C1154.0 324.4 1156.2 324.4 1158.4 324.4 C1160.6 324.5 1162.8 324.7 1165.0 324.7 C1167.2 324.7 1169.3 324.5 1171.5 324.5 C1173.7 324.5 1175.9 324.7 1178.1 324.7 C1180.3 324.8 1182.5 324.8 1184.7 324.7 C1186.8 324.6 1189.0 324.3 1191.2 324.2 C1193.4 324.1 1195.6 324.3 1197.8 324.4 C1200.0 324.4 1202.2 324.5 1204.3 324.5 C1206.5 324.5 1208.7 324.4 1210.9 324.4 C1213.1 324.4 1215.3 324.6 1217.5 324.6 C1219.7 324.6 1221.8 324.6 1224.0 324.5 C1226.2 324.5 1228.4 324.6 1230.6 324.5 C1232.8 324.5 1235.0 324.2 1237.2 324.1 C1239.3 324.1 1241.5 324.2 1243.7 324.2 C1245.9 324.2 1248.1 324.4 1250.3 324.4 C1252.5 324.4 1254.7 324.0 1256.9 324.0 C1259.0 324.0 1261.2 324.3 1263.4 324.4 C1265.6 324.4 1267.8 324.3 1270.0 324.3 C1272.2 324.3 1274.4 324.3 1276.5 324.3 C1278.7 324.3 1280.9 324.3 1283.1 324.3 C1285.3 324.2 1287.5 323.9 1289.7 323.9 C1291.9 323.9 1294.0 324.2 1296.2 324.3 C1298.4 324.4 1300.6 324.6 1302.8 324.6 C1305.0 324.6 1307.2 324.4 1309.4 324.3 C1311.5 324.3 1313.7 324.5 1315.9 324.5 C1318.1 324.6 1320.3 324.6 1322.5 324.7 C1324.7 324.7 1326.9 325.1 1329.0 325.0 C1331.2 325.0 1333.4 324.3 1335.6 324.3 C1337.8 324.2 1340.0 324.5 1342.2 324.5 C1344.4 324.6 1346.6 324.6 1348.7 324.7 C1350.9 324.7 1353.1 324.7 1355.3 324.7 C1357.5 324.7 1359.7 324.6 1361.9 324.7 C1364.1 324.8 1366.2 325.2 1368.4 325.2 C1370.6 325.2 1372.8 324.9 1375.0 324.9 C1377.2 324.9 1379.4 325.2 1381.6 325.3 C1383.7 325.3 1385.9 325.2 1388.1 325.1 C1390.3 325.1 1392.5 325.0 1394.7 324.9 C1396.9 324.9 1399.1 324.9 1401.2 325.0 C1403.4 325.1 1405.6 325.4 1407.8 325.4 C1410.0 325.4 1412.2 325.2 1414.4 325.1 C1416.6 325.1 1418.8 325.1 1420.9 325.1 C1423.1 325.2 1425.3 325.2 1427.5 325.2 C1429.7 325.2 1431.9 325.1 1434.1 325.1 C1436.3 325.1 1438.4 325.3 1440.6 325.4 C1442.8 325.5 1445.0 325.6 1447.2 325.6 C1449.4 325.6 1451.6 325.5 1453.8 325.4 C1455.9 325.3 1458.1 324.9 1460.3 325.0 C1462.5 325.0 1464.7 325.6 1466.9 325.7 C1469.1 325.7 1471.3 325.4 1473.4 325.3 C1475.6 325.1 1477.8 324.9 1480.0 324.8 C1482.2 324.8 1484.4 324.8 1486.6 324.9 C1488.8 324.9 1490.9 325.1 1493.1 325.2 C1495.3 325.2 1497.5 324.9 1499.7 324.9 C1501.9 324.9 1504.1 325.2 1506.3 325.2 C1508.5 325.3 1510.6 325.1 1512.8 325.1 C1515.0 325.1 1517.2 325.4 1519.4 325.5 C1521.6 325.5 1523.8 325.4 1526.0 325.3 C1528.1 325.3 1530.3 325.0 1532.5 325.0 C1534.7 324.9 1536.9 325.0 1539.1 325.1 C1541.3 325.1 1543.5 325.2 1545.6 325.3 C1547.8 325.3 1550.0 325.4 1552.2 325.4 C1554.4 325.4 1541.3 325.3 1558.8 325.3 C1576.3 325.3 1639.7 325.3 1657.2 325.4 C1674.7 325.4 1661.6 325.4 1663.8 325.4 C1666.0 325.5 1668.2 325.8 1670.4 325.8 C1672.5 325.8 1674.7 325.6 1676.9 325.5 C1679.1 325.4 1681.3 325.3 1683.5 325.2 C1685.7 325.2 1687.9 325.3 1690.0 325.3 C1692.2 325.3 1694.4 325.1 1696.6 325.0 C1698.8 324.9 1701.0 324.9 1703.2 324.9 C1705.4 324.8 1707.5 324.9 1709.7 324.8 C1711.9 324.7 1714.1 324.4 1716.3 324.4 C1718.5 324.4 1720.7 324.6 1722.9 324.6 C1725.0 324.6 1727.2 324.4 1729.4 324.3 C1731.6 324.3 1733.8 324.2 1736.0 324.2 C1738.2 324.2 1740.4 324.2 1742.6 324.2 C1744.7 324.2 1746.9 324.0 1749.1 324.0 C1751.3 324.0 1753.5 324.3 1755.7 324.4 C1757.9 324.5 1760.1 324.5 1762.2 324.6 C1764.4 324.6 1766.6 324.6 1768.8 324.6 C1771.0 324.6 1773.2 324.6 1775.4 324.6 C1777.6 324.6 1779.7 324.6 1781.9 324.6 C1784.1 324.7 1786.3 324.8 1788.5 324.9 C1790.7 325.0 1792.9 325.1 1795.1 325.2 C1797.2 325.2 1799.4 325.1 1801.6 325.1 C1803.8 325.1 1806.0 325.3 1808.2 325.3 C1810.4 325.3 1812.6 325.4 1814.7 325.3 C1816.9 325.1 1819.1 324.6 1821.3 324.5 C1823.5 324.4 1825.7 324.7 1827.9 324.7 C1830.1 324.7 1832.3 324.4 1834.4 324.3 C1836.6 324.3 1838.8 324.6 1841.0 324.5 C1843.2 324.5 1845.4 324.2 1847.6 324.2 C1849.8 324.1 1851.9 324.4 1854.1 324.4 C1856.3 324.4 1858.5 324.1 1860.7 324.1 C1862.9 324.1 1865.1 324.3 1867.3 324.4 C1869.4 324.5 1871.6 324.6 1873.8 324.6 C1876.0 324.5 1878.2 324.2 1880.4 324.2 C1882.6 324.1 1884.8 324.2 1886.9 324.3 C1889.1 324.3 1891.3 324.5 1893.5 324.6 C1895.7 324.6 1897.9 324.6 1900.1 324.6 C1902.3 324.7 1904.4 324.8 1906.6 324.8 C1908.8 324.9 1911.0 325.2 1913.2 325.2 C1915.4 325.1 1917.6 324.7 1919.8 324.7 C1922.0 324.6 1924.1 324.8 1926.3 324.8 C1928.5 324.9 1930.7 324.8 1932.9 324.8 C1935.1 324.8 1937.3 325.1 1939.5 325.1 C1941.6 325.2 1943.8 325.1 1946.0 325.1 C1948.2 325.1 1950.4 325.3 1952.6 325.3 C1954.8 325.3 1957.0 325.2 1959.1 325.2 C1961.3 325.3 1963.5 325.7 1965.7 325.7 C1967.9 325.7 1970.1 325.3 1972.3 325.2 C1974.5 325.1 1976.6 324.9 1978.8 324.9 C1981.0 325.0 1983.2 325.3 1985.4 325.4 C1987.6 325.5 1989.8 325.4 1992.0 325.3 C1994.2 325.3 1996.3 325.1 1998.5 325.0 C2000.7 325.0 2002.9 325.1 2005.1 325.1 C2007.3 325.1 2009.5 325.0 2011.7 325.0 C2013.8 325.0 2016.0 325.3 2018.2 325.3 C2020.4 325.3 2022.6 324.9 2024.8 324.9 C2027.0 324.9 2029.2 325.2 2031.3 325.2 C2033.5 325.2 2035.7 325.2 2037.9 325.1 C2040.1 325.0 2042.3 324.7 2044.5 324.7 C2046.7 324.6 2048.8 324.7 2051.0 324.7 C2053.2 324.6 2055.4 324.6 2057.6 324.4 C2059.8 324.3 2062.0 323.9 2064.2 323.9 C2066.3 323.8 2068.5 324.2 2070.7 324.3 C2072.9 324.3 2075.1 324.1 2077.3 324.1 C2079.5 324.1 2081.7 324.3 2083.9 324.4 C2086.0 324.5 2088.2 324.6 2090.4 324.7 C2092.6 324.7 2095.4 324.6 2097.0 324.5 C2098.6 324.5 2099.6 324.4 2100.1 324.4 L2100.1 700.2 L819.8 700.2 Z" fill="#4d853a" fill-opacity="0.06"/>
<path d="M819.8 321.6 C820.4 321.7 821.9 322.2 823.7 322.1 C825.4 322.1 828.0 321.2 830.2 321.2 C832.4 321.2 834.6 322.2 836.8 322.3 C839.0 322.4 841.2 321.8 843.4 321.9 C845.5 321.9 847.7 322.4 849.9 322.5 C852.1 322.6 854.3 322.5 856.5 322.5 C858.7 322.4 860.9 322.3 863.0 322.2 C865.2 322.1 867.4 322.0 869.6 321.8 C871.8 321.7 874.0 321.6 876.2 321.5 C878.4 321.4 880.5 321.2 882.7 321.2 C884.9 321.2 887.1 321.4 889.3 321.4 C891.5 321.5 893.7 321.6 895.9 321.6 C898.0 321.6 900.2 321.6 902.4 321.4 C904.6 321.3 906.8 320.9 909.0 320.8 C911.2 320.7 913.4 320.9 915.5 321.0 C917.7 321.1 919.9 321.3 922.1 321.4 C924.3 321.4 926.5 321.1 928.7 321.2 C930.9 321.2 933.1 321.5 935.2 321.5 C937.4 321.6 939.6 321.7 941.8 321.6 C944.0 321.6 946.2 321.4 948.4 321.4 C950.6 321.4 952.7 321.5 954.9 321.6 C957.1 321.6 959.3 321.8 961.5 321.7 C963.7 321.6 965.9 321.0 968.1 321.1 C970.2 321.1 972.4 321.9 974.6 321.9 C976.8 322.0 979.0 321.7 981.2 321.6 C983.4 321.4 985.6 320.9 987.7 321.1 C989.9 321.2 992.1 322.3 994.3 322.4 C996.5 322.5 998.7 321.9 1000.9 321.7 C1003.1 321.6 1005.3 321.5 1007.4 321.5 C1009.6 321.5 1011.8 321.9 1014.0 321.7 C1016.2 321.6 1018.4 320.7 1020.6 320.7 C1022.8 320.7 1024.9 321.6 1027.1 321.6 C1029.3 321.6 1031.5 320.9 1033.7 320.7 C1035.9 320.6 1038.1 320.5 1040.3 320.5 C1042.4 320.6 1044.6 320.8 1046.8 321.0 C1049.0 321.1 1051.2 321.5 1053.4 321.5 C1055.6 321.6 1057.8 321.3 1059.9 321.3 C1062.1 321.3 1064.3 321.5 1066.5 321.5 C1068.7 321.5 1070.9 321.3 1073.1 321.3 C1075.3 321.3 1077.4 321.5 1079.6 321.5 C1081.8 321.5 1084.0 321.5 1086.2 321.4 C1088.4 321.4 1090.6 321.0 1092.8 321.0 C1095.0 321.1 1097.1 321.5 1099.3 321.5 C1101.5 321.5 1103.7 321.2 1105.9 321.1 C1108.1 321.1 1110.3 321.3 1112.5 321.4 C1114.6 321.4 1116.8 321.5 1119.0 321.4 C1121.2 321.3 1123.4 320.7 1125.6 320.6 C1127.8 320.5 1130.0 320.7 1132.1 320.9 C1134.3 321.0 1136.5 321.4 1138.7 321.6 C1140.9 321.7 1143.1 321.4 1145.3 321.5 C1147.5 321.6 1149.6 321.9 1151.8 322.0 C1154.0 322.0 1156.2 321.9 1158.4 321.8 C1160.6 321.8 1162.8 321.6 1165.0 321.7 C1167.2 321.7 1169.3 322.1 1171.5 322.1 C1173.7 322.1 1175.9 321.8 1178.1 321.8 C1180.3 321.7 1182.5 321.9 1184.7 321.8 C1186.8 321.8 1189.0 321.4 1191.2 321.4 C1193.4 321.4 1195.6 321.8 1197.8 321.8 C1200.0 321.8 1202.2 321.3 1204.3 321.2 C1206.5 321.2 1208.7 321.4 1210.9 321.5 C1213.1 321.5 1215.3 321.4 1217.5 321.4 C1219.7 321.5 1221.8 321.7 1224.0 321.7 C1226.2 321.7 1228.4 321.6 1230.6 321.6 C1232.8 321.6 1235.0 321.7 1237.2 321.7 C1239.3 321.7 1241.5 321.5 1243.7 321.5 C1245.9 321.5 1248.1 321.7 1250.3 321.7 C1252.5 321.8 1254.7 321.9 1256.9 321.9 C1259.0 321.9 1261.2 321.9 1263.4 321.9 C1265.6 321.8 1267.8 321.7 1270.0 321.6 C1272.2 321.6 1274.4 321.7 1276.5 321.7 C1278.7 321.6 1280.9 321.4 1283.1 321.5 C1285.3 321.5 1287.5 321.9 1289.7 322.1 C1291.9 322.3 1294.0 322.5 1296.2 322.6 C1298.4 322.8 1300.6 322.8 1302.8 322.8 C1305.0 322.7 1307.2 322.4 1309.4 322.4 C1311.5 322.3 1313.7 322.6 1315.9 322.7 C1318.1 322.8 1320.3 323.0 1322.5 323.1 C1324.7 323.1 1326.9 322.9 1329.0 322.9 C1331.2 323.0 1333.4 323.3 1335.6 323.3 C1337.8 323.4 1340.0 323.2 1342.2 323.3 C1344.4 323.3 1346.6 323.4 1348.7 323.4 C1350.9 323.5 1353.1 323.6 1355.3 323.5 C1357.5 323.4 1359.7 323.0 1361.9 323.0 C1364.1 323.0 1366.2 323.4 1368.4 323.5 C1370.6 323.6 1372.8 323.6 1375.0 323.5 C1377.2 323.4 1379.4 323.2 1381.6 323.1 C1383.7 323.0 1385.9 322.9 1388.1 322.8 C1390.3 322.8 1392.5 322.8 1394.7 322.8 C1396.9 322.7 1399.1 322.5 1401.2 322.4 C1403.4 322.4 1405.6 322.5 1407.8 322.5 C1410.0 322.5 1412.2 322.3 1414.4 322.2 C1416.6 322.2 1418.8 322.2 1420.9 322.1 C1423.1 322.0 1425.3 321.7 1427.5 321.6 C1429.7 321.5 1431.9 321.6 1434.1 321.6 C1436.3 321.6 1438.4 321.8 1440.6 321.7 C1442.8 321.7 1445.0 321.1 1447.2 321.0 C1449.4 321.0 1451.6 321.3 1453.8 321.4 C1455.9 321.5 1458.1 321.4 1460.3 321.4 C1462.5 321.4 1464.7 321.2 1466.9 321.2 C1469.1 321.2 1471.3 321.4 1473.4 321.4 C1475.6 321.5 1477.8 321.4 1480.0 321.3 C1482.2 321.3 1484.4 321.1 1486.6 321.1 C1488.8 321.1 1490.9 321.6 1493.1 321.6 C1495.3 321.5 1497.5 320.7 1499.7 320.7 C1501.9 320.6 1504.1 321.0 1506.3 321.0 C1508.5 321.0 1510.6 320.7 1512.8 320.6 C1515.0 320.6 1517.2 320.6 1519.4 320.6 C1521.6 320.6 1523.8 320.6 1526.0 320.7 C1528.1 320.7 1530.3 321.0 1532.5 320.9 C1534.7 320.8 1536.9 320.1 1539.1 320.0 C1541.3 319.9 1543.5 320.3 1545.6 320.5 C1547.8 320.7 1550.0 321.2 1552.2 321.3 C1554.4 321.3 1541.3 321.0 1558.8 320.9 C1576.3 320.8 1639.7 320.8 1657.2 320.8 C1674.7 320.9 1661.6 321.2 1663.8 321.3 C1666.0 321.4 1668.2 321.6 1670.4 321.6 C1672.5 321.5 1674.7 321.4 1676.9 321.2 C1679.1 321.0 1681.3 320.6 1683.5 320.4 C1685.7 320.3 1687.9 320.2 1690.0 320.2 C1692.2 320.3 1694.4 320.4 1696.6 320.5 C1698.8 320.5 1701.0 320.4 1703.2 320.3 C1705.4 320.2 1707.5 319.9 1709.7 320.0 C1711.9 320.0 1714.1 320.7 1716.3 320.8 C1718.5 320.9 1720.7 320.5 1722.9 320.5 C1725.0 320.4 1727.2 320.4 1729.4 320.4 C1731.6 320.3 1733.8 320.2 1736.0 320.1 C1738.2 320.1 1740.4 320.1 1742.6 320.2 C1744.7 320.3 1746.9 320.5 1749.1 320.6 C1751.3 320.7 1753.5 320.8 1755.7 321.0 C1757.9 321.1 1760.1 321.4 1762.2 321.5 C1764.4 321.5 1766.6 321.4 1768.8 321.2 C1771.0 321.0 1773.2 320.4 1775.4 320.4 C1777.6 320.4 1779.7 321.0 1781.9 321.2 C1784.1 321.4 1786.3 321.6 1788.5 321.5 C1790.7 321.5 1792.9 321.0 1795.1 320.9 C1797.2 320.8 1799.4 321.0 1801.6 321.0 C1803.8 321.1 1806.0 321.0 1808.2 321.1 C1810.4 321.1 1812.6 321.7 1814.7 321.6 C1816.9 321.5 1819.1 320.6 1821.3 320.4 C1823.5 320.2 1825.7 320.6 1827.9 320.7 C1830.1 320.8 1832.3 320.9 1834.4 320.9 C1836.6 321.0 1838.8 321.0 1841.0 321.0 C1843.2 321.0 1845.4 320.9 1847.6 320.9 C1849.8 320.9 1851.9 321.0 1854.1 321.0 C1856.3 321.1 1858.5 321.1 1860.7 321.2 C1862.9 321.3 1865.1 321.6 1867.3 321.5 C1869.4 321.5 1871.6 321.1 1873.8 321.0 C1876.0 321.0 1878.2 321.3 1880.4 321.3 C1882.6 321.4 1884.8 321.1 1886.9 321.3 C1889.1 321.4 1891.3 322.0 1893.5 322.2 C1895.7 322.4 1897.9 322.5 1900.1 322.5 C1902.3 322.4 1904.4 321.8 1906.6 321.8 C1908.8 321.8 1911.0 322.4 1913.2 322.4 C1915.4 322.4 1917.6 321.9 1919.8 321.8 C1922.0 321.8 1924.1 321.9 1926.3 321.9 C1928.5 321.9 1930.7 321.8 1932.9 321.7 C1935.1 321.7 1937.3 321.8 1939.5 321.7 C1941.6 321.6 1943.8 321.0 1946.0 321.1 C1948.2 321.3 1950.4 322.5 1952.6 322.6 C1954.8 322.7 1957.0 322.2 1959.1 322.0 C1961.3 321.8 1963.5 321.4 1965.7 321.4 C1967.9 321.3 1970.1 321.6 1972.3 321.7 C1974.5 321.7 1976.6 321.7 1978.8 321.6 C1981.0 321.5 1983.2 321.3 1985.4 321.2 C1987.6 321.1 1989.8 320.9 1992.0 321.0 C1994.2 321.1 1996.3 321.7 1998.5 321.8 C2000.7 321.9 2002.9 321.7 2005.1 321.6 C2007.3 321.6 2009.5 321.5 2011.7 321.4 C2013.8 321.4 2016.0 321.2 2018.2 321.1 C2020.4 321.1 2022.6 321.3 2024.8 321.3 C2027.0 321.3 2029.2 321.2 2031.3 321.2 C2033.5 321.2 2035.7 321.3 2037.9 321.3 C2040.1 321.3 2042.3 321.1 2044.5 321.1 C2046.7 321.1 2048.8 321.5 2051.0 321.5 C2053.2 321.5 2055.4 321.2 2057.6 321.1 C2059.8 320.9 2062.0 320.9 2064.2 320.8 C2066.3 320.8 2068.5 320.8 2070.7 320.8 C2072.9 320.8 2075.1 320.9 2077.3 320.7 C2079.5 320.5 2081.7 319.8 2083.9 319.7 C2086.0 319.6 2088.2 320.1 2090.4 320.2 C2092.6 320.3 2095.4 320.4 2097.0 320.4 C2098.6 320.3 2099.6 320.0 2100.1 319.9 L2100.1 700.2 L819.8 700.2 Z" fill="#f5df55" fill-opacity="0.06"/>
<path d="M819.8 632.8 C820.4 632.8 821.9 632.7 823.7 632.7 C825.4 632.7 828.0 632.8 830.2 632.9 C832.4 633.0 834.6 633.1 836.8 633.1 C839.0 633.1 841.2 632.4 843.4 633.0 C845.5 633.5 847.7 636.4 849.9 636.2 C852.1 636.0 854.3 632.0 856.5 631.8 C858.7 631.7 860.9 634.6 863.0 635.3 C865.2 636.0 867.4 635.9 869.6 636.0 C871.8 636.1 874.0 636.6 876.2 636.0 C878.4 635.5 880.5 633.4 882.7 632.9 C884.9 632.4 887.1 632.9 889.3 633.0 C891.5 633.0 893.7 633.0 895.9 633.1 C898.0 633.1 900.2 633.0 902.4 633.5 C904.6 633.9 906.8 635.5 909.0 635.8 C911.2 636.2 913.4 636.0 915.5 635.5 C917.7 635.1 919.9 633.5 922.1 633.1 C924.3 632.6 926.5 632.7 928.7 632.7 C930.9 632.8 933.1 633.2 935.2 633.3 C937.4 633.3 939.6 633.1 941.8 633.1 C944.0 633.1 946.2 632.8 948.4 633.3 C950.6 633.7 952.7 635.4 954.9 635.9 C957.1 636.4 959.3 636.3 961.5 636.3 C963.7 636.3 965.9 635.8 968.1 635.7 C970.2 635.6 972.4 635.7 974.6 635.7 C976.8 635.8 979.0 635.7 981.2 635.9 C983.4 636.0 985.6 637.3 987.7 636.7 C989.9 636.2 992.1 633.5 994.3 632.8 C996.5 632.1 998.7 632.1 1000.9 632.6 C1003.1 633.1 1005.3 635.1 1007.4 635.8 C1009.6 636.4 1011.8 636.3 1014.0 636.4 C1016.2 636.4 1018.4 636.0 1020.6 636.0 C1022.8 636.0 1024.9 636.2 1027.1 636.2 C1029.3 636.2 1031.5 637.0 1033.7 636.1 C1035.9 635.2 1038.1 631.4 1040.3 630.6 C1042.4 629.9 1044.6 630.5 1046.8 631.3 C1049.0 632.2 1051.2 635.1 1053.4 635.8 C1055.6 636.5 1057.8 635.4 1059.9 635.5 C1062.1 635.5 1064.3 637.2 1066.5 636.0 C1068.7 634.9 1070.9 628.7 1073.1 628.7 C1075.3 628.6 1077.4 634.6 1079.6 635.8 C1081.8 636.9 1084.0 635.7 1086.2 635.8 C1088.4 635.9 1090.6 636.3 1092.8 636.3 C1095.0 636.3 1097.1 635.9 1099.3 635.8 C1101.5 635.6 1103.7 636.4 1105.9 635.3 C1108.1 634.2 1110.3 630.5 1112.5 629.4 C1114.6 628.2 1116.8 627.4 1119.0 628.5 C1121.2 629.5 1123.4 634.5 1125.6 635.8 C1127.8 637.0 1130.0 636.2 1132.1 636.0 C1134.3 635.9 1136.5 636.2 1138.7 635.1 C1140.9 633.9 1143.1 630.0 1145.3 629.2 C1147.5 628.3 1149.6 628.8 1151.8 629.9 C1154.0 631.0 1156.2 634.8 1158.4 635.8 C1160.6 636.7 1162.8 635.6 1165.0 635.6 C1167.2 635.6 1169.3 637.0 1171.5 635.9 C1173.7 634.8 1175.9 630.2 1178.1 629.1 C1180.3 628.0 1182.5 628.3 1184.7 629.4 C1186.8 630.5 1189.0 634.6 1191.2 635.6 C1193.4 636.5 1195.6 635.2 1197.8 635.3 C1200.0 635.4 1202.2 636.0 1204.3 636.1 C1206.5 636.1 1208.7 635.7 1210.9 635.7 C1213.1 635.7 1215.3 636.0 1217.5 636.0 C1219.7 636.0 1221.8 635.7 1224.0 635.8 C1226.2 635.8 1228.4 636.2 1230.6 636.3 C1232.8 636.3 1235.0 636.1 1237.2 636.0 C1239.3 636.0 1241.5 637.0 1243.7 635.9 C1245.9 634.7 1248.1 629.2 1250.3 629.1 C1252.5 629.0 1254.7 634.2 1256.9 635.4 C1259.0 636.6 1261.2 637.2 1263.4 636.3 C1265.6 635.4 1267.8 630.3 1270.0 630.2 C1272.2 630.0 1274.4 634.5 1276.5 635.6 C1278.7 636.6 1280.9 636.5 1283.1 636.6 C1285.3 636.6 1287.5 636.1 1289.7 636.0 C1291.9 635.9 1294.0 637.0 1296.2 635.8 C1298.4 634.7 1300.6 630.0 1302.8 628.9 C1305.0 627.8 1307.2 628.0 1309.4 629.1 C1311.5 630.3 1313.7 634.8 1315.9 635.9 C1318.1 637.1 1320.3 636.8 1322.5 635.9 C1324.7 635.1 1326.9 631.0 1329.0 630.9 C1331.2 630.8 1333.4 634.4 1335.6 635.2 C1337.8 636.1 1340.0 637.1 1342.2 636.0 C1344.4 634.9 1346.6 628.6 1348.7 628.6 C1350.9 628.5 1353.1 634.5 1355.3 635.7 C1357.5 636.9 1359.7 635.8 1361.9 635.9 C1364.1 635.9 1366.2 635.8 1368.4 635.9 C1370.6 635.9 1372.8 636.2 1375.0 636.2 C1377.2 636.2 1379.4 636.6 1381.6 635.8 C1383.7 635.1 1385.9 632.5 1388.1 631.7 C1390.3 630.9 1392.5 630.4 1394.7 631.1 C1396.9 631.7 1399.1 634.8 1401.2 635.6 C1403.4 636.4 1405.6 635.8 1407.8 635.8 C1410.0 635.8 1412.2 635.5 1414.4 635.6 C1416.6 635.6 1418.8 637.0 1420.9 635.9 C1423.1 634.9 1425.3 629.4 1427.5 629.4 C1429.7 629.4 1431.9 634.8 1434.1 635.8 C1436.3 636.8 1438.4 635.5 1440.6 635.6 C1442.8 635.7 1445.0 637.4 1447.2 636.3 C1449.4 635.1 1451.6 629.8 1453.8 628.7 C1455.9 627.6 1458.1 628.1 1460.3 629.5 C1462.5 630.8 1464.7 635.5 1466.9 636.6 C1469.1 637.6 1471.3 636.6 1473.4 635.9 C1475.6 635.2 1477.8 633.1 1480.0 632.5 C1482.2 631.8 1484.4 631.7 1486.6 632.1 C1488.8 632.5 1490.9 634.3 1493.1 635.0 C1495.3 635.6 1497.5 637.2 1499.7 636.1 C1501.9 635.0 1504.1 628.4 1506.3 628.3 C1508.5 628.2 1510.6 634.5 1512.8 635.7 C1515.0 637.0 1517.2 636.8 1519.4 635.6 C1521.6 634.4 1523.8 629.7 1526.0 628.5 C1528.1 627.3 1530.3 627.4 1532.5 628.5 C1534.7 629.7 1536.9 634.4 1539.1 635.5 C1541.3 636.7 1543.5 635.5 1545.6 635.6 C1547.8 635.7 1550.0 636.3 1552.2 636.2 C1554.4 636.1 1541.3 635.0 1558.8 634.8 C1576.3 634.7 1639.7 635.1 1657.2 635.4 C1674.7 635.6 1661.6 636.1 1663.8 636.2 C1666.0 636.3 1668.2 635.7 1670.4 635.7 C1672.5 635.7 1674.7 636.2 1676.9 636.1 C1679.1 636.1 1681.3 636.7 1683.5 635.4 C1685.7 634.2 1687.9 629.8 1690.0 628.7 C1692.2 627.6 1694.4 627.5 1696.6 628.7 C1698.8 629.9 1701.0 634.8 1703.2 636.0 C1705.4 637.2 1707.5 635.8 1709.7 635.9 C1711.9 635.9 1714.1 636.5 1716.3 636.6 C1718.5 636.6 1720.7 636.4 1722.9 636.2 C1725.0 636.1 1727.2 636.6 1729.4 635.7 C1731.6 634.8 1733.8 631.9 1736.0 630.9 C1738.2 629.9 1740.4 628.9 1742.6 629.8 C1744.7 630.7 1746.9 635.5 1749.1 636.5 C1751.3 637.4 1753.5 635.6 1755.7 635.5 C1757.9 635.5 1760.1 637.1 1762.2 636.1 C1764.4 635.2 1766.6 629.8 1768.8 629.7 C1771.0 629.7 1773.2 634.6 1775.4 635.8 C1777.6 636.9 1779.7 636.5 1781.9 636.4 C1784.1 636.3 1786.3 635.5 1788.5 635.3 C1790.7 635.2 1792.9 635.8 1795.1 635.3 C1797.2 634.7 1799.4 631.8 1801.6 631.9 C1803.8 632.0 1806.0 635.2 1808.2 635.9 C1810.4 636.6 1812.6 635.8 1814.7 635.9 C1816.9 635.9 1819.1 636.3 1821.3 636.2 C1823.5 636.1 1825.7 635.4 1827.9 635.4 C1830.1 635.4 1832.3 635.9 1834.4 636.0 C1836.6 636.1 1838.8 635.8 1841.0 635.8 C1843.2 635.8 1845.4 636.1 1847.6 636.1 C1849.8 636.1 1851.9 636.0 1854.1 636.0 C1856.3 636.1 1858.5 636.4 1860.7 636.3 C1862.9 636.2 1865.1 635.4 1867.3 635.3 C1869.4 635.3 1871.6 637.0 1873.8 635.9 C1876.0 634.7 1878.2 629.7 1880.4 628.5 C1882.6 627.3 1884.8 627.6 1886.9 628.8 C1889.1 630.1 1891.3 634.9 1893.5 636.1 C1895.7 637.2 1897.9 635.9 1900.1 635.9 C1902.3 635.9 1904.4 636.0 1906.6 636.0 C1908.8 636.0 1911.0 635.8 1913.2 635.8 C1915.4 635.8 1917.6 635.9 1919.8 635.9 C1922.0 636.0 1924.1 636.7 1926.3 635.9 C1928.5 635.1 1930.7 632.0 1932.9 631.1 C1935.1 630.3 1937.3 631.1 1939.5 630.9 C1941.6 630.7 1943.8 630.0 1946.0 630.0 C1948.2 630.0 1950.4 630.7 1952.6 630.9 C1954.8 631.0 1957.0 631.1 1959.1 631.0 C1961.3 631.0 1963.5 629.8 1965.7 630.5 C1967.9 631.2 1970.1 634.3 1972.3 635.3 C1974.5 636.3 1976.6 636.3 1978.8 636.4 C1981.0 636.5 1983.2 635.9 1985.4 635.9 C1987.6 635.8 1989.8 635.9 1992.0 636.0 C1994.2 636.1 1996.3 636.6 1998.5 636.5 C2000.7 636.4 2002.9 635.6 2005.1 635.5 C2007.3 635.4 2009.5 635.8 2011.7 635.8 C2013.8 635.9 2016.0 635.7 2018.2 635.8 C2020.4 635.8 2022.6 637.5 2024.8 636.1 C2027.0 634.7 2029.2 627.5 2031.3 627.5 C2033.5 627.4 2035.7 634.6 2037.9 636.0 C2040.1 637.4 2042.3 636.9 2044.5 635.9 C2046.7 634.8 2048.8 630.6 2051.0 629.5 C2053.2 628.5 2055.4 628.6 2057.6 629.5 C2059.8 630.5 2062.0 634.2 2064.2 635.3 C2066.3 636.4 2068.5 635.9 2070.7 636.0 C2072.9 636.1 2075.1 635.7 2077.3 635.7 C2079.5 635.7 2081.7 637.1 2083.9 635.8 C2086.0 634.5 2088.2 627.8 2090.4 627.8 C2092.6 627.8 2095.4 634.7 2097.0 636.0 C2098.6 637.3 2099.6 635.6 2100.1 635.6" fill="none" stroke="#85bd72" stroke-width="1.45" stroke-linejoin="round"/>
<path d="M819.8 640.3 C820.4 640.3 821.9 640.4 823.7 640.4 C825.4 640.4 828.0 640.2 830.2 640.2 C832.4 640.1 834.6 640.2 836.8 640.2 C839.0 640.3 841.2 640.5 843.4 640.5 C845.5 640.5 847.7 640.2 849.9 640.1 C852.1 639.9 854.3 639.6 856.5 639.6 C858.7 639.7 860.9 640.2 863.0 640.3 C865.2 640.4 867.4 640.2 869.6 640.3 C871.8 640.3 874.0 640.6 876.2 640.5 C878.4 640.5 880.5 640.1 882.7 640.1 C884.9 640.1 887.1 640.5 889.3 640.6 C891.5 640.7 893.7 640.7 895.9 640.5 C898.0 640.4 900.2 641.0 902.4 639.8 C904.6 638.7 906.8 633.8 909.0 633.8 C911.2 633.8 913.4 638.9 915.5 639.9 C917.7 640.9 919.9 639.7 922.1 639.8 C924.3 639.8 926.5 640.1 928.7 640.1 C930.9 640.2 933.1 640.1 935.2 640.1 C937.4 640.0 939.6 639.6 941.8 639.6 C944.0 639.7 946.2 640.2 948.4 640.3 C950.6 640.4 952.7 640.3 954.9 640.4 C957.1 640.5 959.3 640.7 961.5 640.6 C963.7 640.6 965.9 640.3 968.1 640.2 C970.2 640.1 972.4 639.8 974.6 639.8 C976.8 639.7 979.0 639.8 981.2 639.9 C983.4 640.1 985.6 640.4 987.7 640.5 C989.9 640.6 992.1 640.5 994.3 640.5 C996.5 640.5 998.7 640.4 1000.9 640.4 C1003.1 640.3 1005.3 640.1 1007.4 640.1 C1009.6 640.1 1011.8 640.3 1014.0 640.3 C1016.2 640.3 1018.4 640.2 1020.6 640.2 C1022.8 640.1 1024.9 640.1 1027.1 640.1 C1029.3 640.2 1031.5 640.3 1033.7 640.3 C1035.9 640.3 1038.1 640.3 1040.3 640.2 C1042.4 640.2 1044.6 640.2 1046.8 640.2 C1049.0 640.2 1051.2 640.3 1053.4 640.2 C1055.6 640.2 1057.8 640.2 1059.9 640.1 C1062.1 640.0 1064.3 639.7 1066.5 639.7 C1068.7 639.7 1070.9 640.0 1073.1 640.0 C1075.3 640.1 1077.4 640.7 1079.6 640.2 C1081.8 639.7 1084.0 636.8 1086.2 636.8 C1088.4 636.7 1090.6 639.4 1092.8 640.1 C1095.0 640.8 1097.1 640.7 1099.3 640.8 C1101.5 640.9 1103.7 641.6 1105.9 640.6 C1108.1 639.7 1110.3 636.0 1112.5 635.0 C1114.6 634.1 1116.8 635.0 1119.0 635.1 C1121.2 635.1 1123.4 634.4 1125.6 635.3 C1127.8 636.3 1130.0 639.9 1132.1 640.7 C1134.3 641.6 1136.5 640.4 1138.7 640.3 C1140.9 640.3 1143.1 640.5 1145.3 640.4 C1147.5 640.4 1149.6 640.2 1151.8 640.0 C1154.0 639.9 1156.2 639.5 1158.4 639.5 C1160.6 639.6 1162.8 640.0 1165.0 640.2 C1167.2 640.3 1169.3 640.4 1171.5 640.5 C1173.7 640.5 1175.9 640.6 1178.1 640.6 C1180.3 640.5 1182.5 640.3 1184.7 640.2 C1186.8 640.2 1189.0 640.2 1191.2 640.3 C1193.4 640.3 1195.6 640.6 1197.8 640.6 C1200.0 640.5 1202.2 640.2 1204.3 640.2 C1206.5 640.2 1208.7 642.0 1210.9 640.6 C1213.1 639.1 1215.3 631.5 1217.5 631.4 C1219.7 631.3 1221.8 638.5 1224.0 639.9 C1226.2 641.3 1228.4 639.8 1230.6 639.9 C1232.8 640.0 1235.0 640.3 1237.2 640.4 C1239.3 640.4 1241.5 640.1 1243.7 640.1 C1245.9 640.0 1248.1 640.2 1250.3 640.3 C1252.5 640.3 1254.7 640.3 1256.9 640.3 C1259.0 640.3 1261.2 640.3 1263.4 640.3 C1265.6 640.4 1267.8 642.4 1270.0 640.6 C1272.2 638.8 1274.4 631.6 1276.5 629.7 C1278.7 627.8 1280.9 627.3 1283.1 629.0 C1285.3 630.8 1287.5 638.4 1289.7 640.3 C1291.9 642.1 1294.0 640.2 1296.2 640.2 C1298.4 640.1 1300.6 639.8 1302.8 639.9 C1305.0 640.0 1307.2 640.6 1309.4 640.7 C1311.5 640.8 1313.7 640.5 1315.9 640.5 C1318.1 640.4 1320.3 640.2 1322.5 640.2 C1324.7 640.1 1326.9 640.1 1329.0 640.1 C1331.2 640.1 1333.4 640.4 1335.6 640.3 C1337.8 640.3 1340.0 639.9 1342.2 639.9 C1344.4 639.9 1346.6 640.0 1348.7 640.2 C1350.9 640.3 1353.1 640.5 1355.3 640.6 C1357.5 640.6 1359.7 641.7 1361.9 640.5 C1364.1 639.3 1366.2 634.5 1368.4 633.3 C1370.6 632.1 1372.8 633.3 1375.0 633.4 C1377.2 633.6 1379.4 634.2 1381.6 634.1 C1383.7 634.1 1385.9 632.2 1388.1 633.2 C1390.3 634.1 1392.5 638.9 1394.7 640.0 C1396.9 641.1 1399.1 639.8 1401.2 639.8 C1403.4 639.9 1405.6 640.3 1407.8 640.3 C1410.0 640.4 1412.2 640.3 1414.4 640.3 C1416.6 640.3 1418.8 641.3 1420.9 640.6 C1423.1 639.8 1425.3 636.5 1427.5 635.8 C1429.7 635.2 1431.9 636.0 1434.1 636.6 C1436.3 637.3 1438.4 639.1 1440.6 639.7 C1442.8 640.4 1445.0 640.3 1447.2 640.4 C1449.4 640.5 1451.6 640.1 1453.8 640.2 C1455.9 640.2 1458.1 640.7 1460.3 640.7 C1462.5 640.7 1464.7 640.5 1466.9 640.3 C1469.1 640.2 1471.3 639.9 1473.4 639.9 C1475.6 640.0 1477.8 640.6 1480.0 640.6 C1482.2 640.6 1484.4 640.0 1486.6 639.9 C1488.8 639.8 1490.9 640.0 1493.1 640.1 C1495.3 640.2 1497.5 640.5 1499.7 640.5 C1501.9 640.6 1504.1 641.0 1506.3 640.4 C1508.5 639.8 1510.6 637.6 1512.8 637.0 C1515.0 636.4 1517.2 636.9 1519.4 636.9 C1521.6 636.9 1523.8 636.4 1526.0 637.0 C1528.1 637.6 1530.3 639.9 1532.5 640.5 C1534.7 641.0 1536.9 640.3 1539.1 640.3 C1541.3 640.3 1543.5 640.5 1545.6 640.5 C1547.8 640.6 1550.0 640.6 1552.2 640.6 C1554.4 640.6 1541.3 640.3 1558.8 640.3 C1576.3 640.3 1639.7 640.4 1657.2 640.4 C1674.7 640.5 1661.6 640.7 1663.8 640.7 C1666.0 640.6 1668.2 640.3 1670.4 640.2 C1672.5 640.2 1674.7 640.4 1676.9 640.4 C1679.1 640.5 1681.3 640.6 1683.5 640.5 C1685.7 640.4 1687.9 640.0 1690.0 640.0 C1692.2 639.9 1694.4 640.4 1696.6 640.4 C1698.8 640.3 1701.0 641.1 1703.2 639.8 C1705.4 638.5 1707.5 633.7 1709.7 632.5 C1711.9 631.2 1714.1 630.8 1716.3 632.1 C1718.5 633.4 1720.7 638.9 1722.9 640.3 C1725.0 641.7 1727.2 640.5 1729.4 640.4 C1731.6 640.4 1733.8 641.8 1736.0 640.0 C1738.2 638.3 1740.4 630.0 1742.6 630.0 C1744.7 630.0 1746.9 638.3 1749.1 640.0 C1751.3 641.7 1753.5 640.1 1755.7 640.2 C1757.9 640.3 1760.1 640.5 1762.2 640.5 C1764.4 640.5 1766.6 640.3 1768.8 640.2 C1771.0 640.2 1773.2 640.3 1775.4 640.2 C1777.6 640.1 1779.7 639.9 1781.9 639.9 C1784.1 640.0 1786.3 640.4 1788.5 640.5 C1790.7 640.5 1792.9 640.2 1795.1 640.2 C1797.2 640.3 1799.4 640.8 1801.6 640.7 C1803.8 640.7 1806.0 640.1 1808.2 640.0 C1810.4 640.0 1812.6 640.4 1814.7 640.5 C1816.9 640.7 1819.1 640.8 1821.3 640.8 C1823.5 640.7 1825.7 640.4 1827.9 640.2 C1830.1 640.1 1832.3 639.8 1834.4 639.9 C1836.6 640.0 1838.8 642.6 1841.0 640.7 C1843.2 638.7 1845.4 628.3 1847.6 628.2 C1849.8 628.2 1851.9 638.4 1854.1 640.4 C1856.3 642.5 1858.5 640.6 1860.7 640.6 C1862.9 640.5 1865.1 640.1 1867.3 640.1 C1869.4 640.1 1871.6 640.4 1873.8 640.5 C1876.0 640.5 1878.2 640.5 1880.4 640.4 C1882.6 640.4 1884.8 640.0 1886.9 640.0 C1889.1 640.0 1891.3 640.4 1893.5 640.4 C1895.7 640.5 1897.9 640.1 1900.1 640.1 C1902.3 640.1 1904.4 640.4 1906.6 640.5 C1908.8 640.6 1911.0 640.5 1913.2 640.6 C1915.4 640.6 1917.6 641.8 1919.8 640.8 C1922.0 639.8 1924.1 635.5 1926.3 634.6 C1928.5 633.7 1930.7 634.3 1932.9 635.2 C1935.1 636.2 1937.3 639.3 1939.5 640.1 C1941.6 641.0 1943.8 640.2 1946.0 640.2 C1948.2 640.2 1950.4 641.4 1952.6 640.2 C1954.8 639.0 1957.0 633.2 1959.1 633.1 C1961.3 633.0 1963.5 638.4 1965.7 639.6 C1967.9 640.9 1970.1 640.4 1972.3 640.5 C1974.5 640.7 1976.6 640.7 1978.8 640.7 C1981.0 640.7 1983.2 640.5 1985.4 640.5 C1987.6 640.5 1989.8 640.7 1992.0 640.6 C1994.2 640.5 1996.3 640.1 1998.5 640.0 C2000.7 639.9 2002.9 639.9 2005.1 640.0 C2007.3 640.1 2009.5 642.3 2011.7 640.5 C2013.8 638.7 2016.0 629.2 2018.2 629.1 C2020.4 629.1 2022.6 638.5 2024.8 640.3 C2027.0 642.1 2029.2 639.7 2031.3 639.8 C2033.5 639.9 2035.7 641.0 2037.9 641.1 C2040.1 641.1 2042.3 641.6 2044.5 640.1 C2046.7 638.6 2048.8 632.1 2051.0 632.1 C2053.2 632.0 2055.4 638.5 2057.6 639.9 C2059.8 641.3 2062.0 640.5 2064.2 640.5 C2066.3 640.6 2068.5 640.3 2070.7 640.3 C2072.9 640.3 2075.1 641.3 2077.3 640.7 C2079.5 640.0 2081.7 637.1 2083.9 636.2 C2086.0 635.4 2088.2 635.6 2090.4 635.5 C2092.6 635.4 2095.4 635.6 2097.0 635.7 C2098.6 635.8 2099.6 636.0 2100.1 636.1" fill="none" stroke="#eccd47" stroke-width="1.45" stroke-linejoin="round"/>
<path d="M819.8 699.4 C820.4 699.4 821.9 699.4 823.7 699.4 C825.4 699.4 828.0 699.4 830.2 699.4 C832.4 699.4 834.6 699.4 836.8 699.4 C839.0 699.4 841.2 699.4 843.4 699.4 C845.5 699.4 847.7 699.4 849.9 699.4 C852.1 699.4 854.3 699.4 856.5 699.4 C858.7 699.4 860.9 699.4 863.0 699.4 C865.2 699.4 867.4 699.4 869.6 699.4 C871.8 699.4 874.0 699.4 876.2 699.4 C878.4 699.4 880.5 699.4 882.7 699.4 C884.9 699.4 887.1 699.4 889.3 699.4 C891.5 699.4 893.7 699.4 895.9 699.4 C898.0 699.4 900.2 699.4 902.4 699.4 C904.6 699.4 906.8 699.4 909.0 699.4 C911.2 699.4 913.4 699.4 915.5 699.4 C917.7 699.4 919.9 699.4 922.1 699.4 C924.3 699.4 926.5 699.4 928.7 699.4 C930.9 699.4 933.1 699.4 935.2 699.4 C937.4 699.4 939.6 699.4 941.8 699.4 C944.0 699.4 946.2 699.4 948.4 699.4 C950.6 699.4 952.7 699.4 954.9 699.4 C957.1 699.4 959.3 699.4 961.5 699.4 C963.7 699.4 965.9 699.4 968.1 699.4 C970.2 699.4 972.4 699.4 974.6 699.4 C976.8 699.4 979.0 699.4 981.2 699.4 C983.4 699.4 985.6 699.4 987.7 699.4 C989.9 699.4 992.1 699.4 994.3 699.4 C996.5 699.4 998.7 699.4 1000.9 699.4 C1003.1 699.4 1005.3 699.4 1007.4 699.4 C1009.6 699.4 1011.8 699.4 1014.0 699.4 C1016.2 699.4 1018.4 699.4 1020.6 699.4 C1022.8 699.4 1024.9 699.4 1027.1 699.4 C1029.3 699.4 1031.5 699.4 1033.7 699.4 C1035.9 699.4 1038.1 699.4 1040.3 699.4 C1042.4 699.4 1044.6 699.4 1046.8 699.4 C1049.0 699.4 1051.2 699.4 1053.4 699.4 C1055.6 699.4 1057.8 699.4 1059.9 699.4 C1062.1 699.4 1064.3 699.4 1066.5 699.4 C1068.7 699.4 1070.9 699.4 1073.1 699.4 C1075.3 699.4 1077.4 699.4 1079.6 699.4 C1081.8 699.4 1084.0 699.4 1086.2 699.4 C1088.4 699.4 1090.6 699.4 1092.8 699.4 C1095.0 699.4 1097.1 699.4 1099.3 699.4 C1101.5 699.4 1103.7 699.4 1105.9 699.4 C1108.1 699.4 1110.3 699.4 1112.5 699.4 C1114.6 699.4 1116.8 699.4 1119.0 699.4 C1121.2 699.4 1123.4 699.4 1125.6 699.4 C1127.8 699.4 1130.0 699.4 1132.1 699.4 C1134.3 699.4 1136.5 699.4 1138.7 699.4 C1140.9 699.4 1143.1 699.4 1145.3 699.4 C1147.5 699.4 1149.6 699.4 1151.8 699.4 C1154.0 699.4 1156.2 699.4 1158.4 699.4 C1160.6 699.4 1162.8 699.4 1165.0 699.4 C1167.2 699.4 1169.3 699.4 1171.5 699.4 C1173.7 699.4 1175.9 699.4 1178.1 699.4 C1180.3 699.4 1182.5 699.4 1184.7 699.4 C1186.8 699.4 1189.0 699.4 1191.2 699.4 C1193.4 699.4 1195.6 699.4 1197.8 699.4 C1200.0 699.4 1202.2 699.4 1204.3 699.4 C1206.5 699.4 1208.7 699.4 1210.9 699.4 C1213.1 699.4 1215.3 699.4 1217.5 699.4 C1219.7 699.4 1221.8 699.4 1224.0 699.4 C1226.2 699.4 1228.4 699.4 1230.6 699.4 C1232.8 699.4 1235.0 699.4 1237.2 699.4 C1239.3 699.4 1241.5 699.4 1243.7 699.4 C1245.9 699.4 1248.1 699.4 1250.3 699.4 C1252.5 699.4 1254.7 699.4 1256.9 699.4 C1259.0 699.4 1261.2 699.4 1263.4 699.4 C1265.6 699.4 1267.8 699.4 1270.0 699.4 C1272.2 699.4 1274.4 699.4 1276.5 699.4 C1278.7 699.4 1280.9 699.4 1283.1 699.4 C1285.3 699.4 1287.5 699.4 1289.7 699.4 C1291.9 699.4 1294.0 699.4 1296.2 699.4 C1298.4 699.4 1300.6 699.4 1302.8 699.4 C1305.0 699.4 1307.2 699.4 1309.4 699.4 C1311.5 699.4 1313.7 699.4 1315.9 699.4 C1318.1 699.4 1320.3 699.4 1322.5 699.4 C1324.7 699.4 1326.9 699.4 1329.0 699.4 C1331.2 699.4 1333.4 699.4 1335.6 699.4 C1337.8 699.4 1340.0 699.4 1342.2 699.4 C1344.4 699.4 1346.6 699.4 1348.7 699.4 C1350.9 699.4 1353.1 699.4 1355.3 699.4 C1357.5 699.4 1359.7 699.4 1361.9 699.4 C1364.1 699.4 1366.2 699.4 1368.4 699.4 C1370.6 699.4 1372.8 699.4 1375.0 699.4 C1377.2 699.4 1379.4 699.4 1381.6 699.4 C1383.7 699.4 1385.9 699.4 1388.1 699.4 C1390.3 699.4 1392.5 699.4 1394.7 699.4 C1396.9 699.4 1399.1 699.4 1401.2 699.4 C1403.4 699.4 1405.6 699.4 1407.8 699.4 C1410.0 699.4 1412.2 699.4 1414.4 699.4 C1416.6 699.4 1418.8 699.4 1420.9 699.4 C1423.1 699.4 1425.3 699.4 1427.5 699.4 C1429.7 699.4 1431.9 699.4 1434.1 699.4 C1436.3 699.4 1438.4 699.4 1440.6 699.4 C1442.8 699.4 1445.0 699.4 1447.2 699.4 C1449.4 699.4 1451.6 699.4 1453.8 699.4 C1455.9 699.4 1458.1 699.4 1460.3 699.4 C1462.5 699.4 1464.7 699.4 1466.9 699.4 C1469.1 699.4 1471.3 699.4 1473.4 699.4 C1475.6 699.4 1477.8 699.4 1480.0 699.4 C1482.2 699.4 1484.4 699.4 1486.6 699.4 C1488.8 699.4 1490.9 699.4 1493.1 699.4 C1495.3 699.4 1497.5 699.4 1499.7 699.4 C1501.9 699.4 1504.1 699.4 1506.3 699.4 C1508.5 699.4 1510.6 699.4 1512.8 699.4 C1515.0 699.4 1517.2 699.4 1519.4 699.4 C1521.6 699.4 1523.8 699.4 1526.0 699.4 C1528.1 699.4 1530.3 699.4 1532.5 699.4 C1534.7 699.4 1536.9 699.4 1539.1 699.4 C1541.3 699.4 1543.5 699.4 1545.6 699.4 C1547.8 699.4 1550.0 699.4 1552.2 699.4 C1554.4 699.4 1541.3 699.4 1558.8 699.4 C1576.3 699.4 1639.7 699.4 1657.2 699.4 C1674.7 699.4 1661.6 699.4 1663.8 699.4 C1666.0 699.4 1668.2 699.4 1670.4 699.4 C1672.5 699.4 1674.7 699.4 1676.9 699.4 C1679.1 699.4 1681.3 699.4 1683.5 699.4 C1685.7 699.4 1687.9 699.4 1690.0 699.4 C1692.2 699.4 1694.4 699.4 1696.6 699.4 C1698.8 699.4 1701.0 699.4 1703.2 699.4 C1705.4 699.4 1707.5 699.4 1709.7 699.4 C1711.9 699.4 1714.1 699.4 1716.3 699.4 C1718.5 699.4 1720.7 699.4 1722.9 699.4 C1725.0 699.4 1727.2 699.4 1729.4 699.4 C1731.6 699.4 1733.8 699.4 1736.0 699.4 C1738.2 699.4 1740.4 699.4 1742.6 699.4 C1744.7 699.4 1746.9 699.4 1749.1 699.4 C1751.3 699.4 1753.5 699.4 1755.7 699.4 C1757.9 699.4 1760.1 699.4 1762.2 699.4 C1764.4 699.4 1766.6 699.4 1768.8 699.4 C1771.0 699.4 1773.2 699.4 1775.4 699.4 C1777.6 699.4 1779.7 699.4 1781.9 699.4 C1784.1 699.4 1786.3 699.4 1788.5 699.4 C1790.7 699.4 1792.9 699.4 1795.1 699.4 C1797.2 699.4 1799.4 699.4 1801.6 699.4 C1803.8 699.4 1806.0 699.4 1808.2 699.4 C1810.4 699.4 1812.6 699.4 1814.7 699.4 C1816.9 699.4 1819.1 699.4 1821.3 699.4 C1823.5 699.4 1825.7 699.4 1827.9 699.4 C1830.1 699.4 1832.3 699.4 1834.4 699.4 C1836.6 699.4 1838.8 699.4 1841.0 699.4 C1843.2 699.4 1845.4 699.4 1847.6 699.4 C1849.8 699.4 1851.9 699.4 1854.1 699.4 C1856.3 699.4 1858.5 699.4 1860.7 699.4 C1862.9 699.4 1865.1 699.4 1867.3 699.4 C1869.4 699.4 1871.6 699.4 1873.8 699.4 C1876.0 699.4 1878.2 699.4 1880.4 699.4 C1882.6 699.4 1884.8 699.4 1886.9 699.4 C1889.1 699.4 1891.3 699.4 1893.5 699.4 C1895.7 699.4 1897.9 699.4 1900.1 699.4 C1902.3 699.4 1904.4 699.4 1906.6 699.4 C1908.8 699.4 1911.0 699.4 1913.2 699.4 C1915.4 699.4 1917.6 699.4 1919.8 699.4 C1922.0 699.4 1924.1 699.4 1926.3 699.4 C1928.5 699.4 1930.7 699.4 1932.9 699.4 C1935.1 699.4 1937.3 699.4 1939.5 699.4 C1941.6 699.4 1943.8 699.4 1946.0 699.4 C1948.2 699.4 1950.4 699.4 1952.6 699.4 C1954.8 699.4 1957.0 699.4 1959.1 699.4 C1961.3 699.4 1963.5 699.4 1965.7 699.4 C1967.9 699.4 1970.1 699.4 1972.3 699.4 C1974.5 699.4 1976.6 699.4 1978.8 699.4 C1981.0 699.4 1983.2 699.4 1985.4 699.4 C1987.6 699.4 1989.8 699.4 1992.0 699.4 C1994.2 699.4 1996.3 699.4 1998.5 699.4 C2000.7 699.4 2002.9 699.4 2005.1 699.4 C2007.3 699.4 2009.5 699.4 2011.7 699.4 C2013.8 699.4 2016.0 699.4 2018.2 699.4 C2020.4 699.4 2022.6 699.4 2024.8 699.4 C2027.0 699.4 2029.2 699.4 2031.3 699.4 C2033.5 699.4 2035.7 699.4 2037.9 699.4 C2040.1 699.4 2042.3 699.4 2044.5 699.4 C2046.7 699.4 2048.8 699.4 2051.0 699.4 C2053.2 699.4 2055.4 699.4 2057.6 699.4 C2059.8 699.4 2062.0 699.4 2064.2 699.4 C2066.3 699.4 2068.5 699.4 2070.7 699.4 C2072.9 699.4 2075.1 699.4 2077.3 699.4 C2079.5 699.4 2081.7 699.4 2083.9 699.4 C2086.0 699.4 2088.2 699.4 2090.4 699.4 C2092.6 699.4 2095.4 699.4 2097.0 699.4 C2098.6 699.4 2099.6 699.4 2100.1 699.4" fill="none" stroke="#94b7f9" stroke-width="1.45" stroke-linejoin="round"/>
<path d="M819.8 699.4 C820.4 699.4 821.9 699.4 823.7 699.4 C825.4 699.4 828.0 699.4 830.2 699.4 C832.4 699.4 834.6 699.4 836.8 699.4 C839.0 699.4 841.2 699.4 843.4 699.4 C845.5 699.4 847.7 699.4 849.9 699.4 C852.1 699.4 854.3 699.4 856.5 699.4 C858.7 699.4 860.9 699.4 863.0 699.4 C865.2 699.4 867.4 699.4 869.6 699.4 C871.8 699.4 874.0 699.4 876.2 699.4 C878.4 699.4 880.5 699.4 882.7 699.4 C884.9 699.4 887.1 699.4 889.3 699.4 C891.5 699.4 893.7 699.4 895.9 699.4 C898.0 699.4 900.2 699.4 902.4 699.4 C904.6 699.4 906.8 699.4 909.0 699.4 C911.2 699.4 913.4 699.4 915.5 699.4 C917.7 699.4 919.9 699.4 922.1 699.4 C924.3 699.4 926.5 699.4 928.7 699.4 C930.9 699.4 933.1 699.4 935.2 699.4 C937.4 699.4 939.6 699.4 941.8 699.4 C944.0 699.4 946.2 699.4 948.4 699.4 C950.6 699.4 952.7 699.4 954.9 699.4 C957.1 699.4 959.3 699.4 961.5 699.4 C963.7 699.4 965.9 699.4 968.1 699.4 C970.2 699.4 972.4 699.4 974.6 699.4 C976.8 699.4 979.0 699.4 981.2 699.4 C983.4 699.4 985.6 699.4 987.7 699.4 C989.9 699.4 992.1 699.4 994.3 699.4 C996.5 699.4 998.7 699.4 1000.9 699.4 C1003.1 699.4 1005.3 699.4 1007.4 699.4 C1009.6 699.4 1011.8 699.4 1014.0 699.4 C1016.2 699.4 1018.4 699.4 1020.6 699.4 C1022.8 699.4 1024.9 699.4 1027.1 699.4 C1029.3 699.4 1031.5 699.4 1033.7 699.4 C1035.9 699.4 1038.1 699.4 1040.3 699.4 C1042.4 699.4 1044.6 699.4 1046.8 699.4 C1049.0 699.4 1051.2 699.4 1053.4 699.4 C1055.6 699.4 1057.8 699.4 1059.9 699.4 C1062.1 699.4 1064.3 699.4 1066.5 699.4 C1068.7 699.4 1070.9 699.4 1073.1 699.4 C1075.3 699.4 1077.4 699.4 1079.6 699.4 C1081.8 699.4 1084.0 699.4 1086.2 699.4 C1088.4 699.4 1090.6 699.4 1092.8 699.4 C1095.0 699.4 1097.1 699.4 1099.3 699.4 C1101.5 699.4 1103.7 699.4 1105.9 699.4 C1108.1 699.4 1110.3 699.4 1112.5 699.4 C1114.6 699.4 1116.8 699.4 1119.0 699.4 C1121.2 699.4 1123.4 699.4 1125.6 699.4 C1127.8 699.4 1130.0 699.4 1132.1 699.4 C1134.3 699.4 1136.5 699.4 1138.7 699.4 C1140.9 699.4 1143.1 699.4 1145.3 699.4 C1147.5 699.4 1149.6 699.4 1151.8 699.4 C1154.0 699.4 1156.2 699.4 1158.4 699.4 C1160.6 699.4 1162.8 699.4 1165.0 699.4 C1167.2 699.4 1169.3 699.4 1171.5 699.4 C1173.7 699.4 1175.9 699.4 1178.1 699.4 C1180.3 699.4 1182.5 699.4 1184.7 699.4 C1186.8 699.4 1189.0 699.4 1191.2 699.4 C1193.4 699.4 1195.6 699.4 1197.8 699.4 C1200.0 699.4 1202.2 699.4 1204.3 699.4 C1206.5 699.4 1208.7 699.4 1210.9 699.4 C1213.1 699.4 1215.3 699.4 1217.5 699.4 C1219.7 699.4 1221.8 699.4 1224.0 699.4 C1226.2 699.4 1228.4 699.4 1230.6 699.4 C1232.8 699.4 1235.0 699.4 1237.2 699.4 C1239.3 699.4 1241.5 699.4 1243.7 699.4 C1245.9 699.4 1248.1 699.4 1250.3 699.4 C1252.5 699.4 1254.7 699.4 1256.9 699.4 C1259.0 699.4 1261.2 699.4 1263.4 699.4 C1265.6 699.4 1267.8 699.4 1270.0 699.4 C1272.2 699.4 1274.4 699.4 1276.5 699.4 C1278.7 699.4 1280.9 699.4 1283.1 699.4 C1285.3 699.4 1287.5 699.4 1289.7 699.4 C1291.9 699.4 1294.0 699.4 1296.2 699.4 C1298.4 699.4 1300.6 699.4 1302.8 699.4 C1305.0 699.4 1307.2 699.4 1309.4 699.4 C1311.5 699.4 1313.7 699.4 1315.9 699.4 C1318.1 699.4 1320.3 699.4 1322.5 699.4 C1324.7 699.4 1326.9 699.4 1329.0 699.4 C1331.2 699.4 1333.4 699.4 1335.6 699.4 C1337.8 699.4 1340.0 699.4 1342.2 699.4 C1344.4 699.4 1346.6 699.4 1348.7 699.4 C1350.9 699.4 1353.1 699.4 1355.3 699.4 C1357.5 699.4 1359.7 699.4 1361.9 699.4 C1364.1 699.4 1366.2 699.4 1368.4 699.4 C1370.6 699.4 1372.8 699.4 1375.0 699.4 C1377.2 699.4 1379.4 699.4 1381.6 699.4 C1383.7 699.4 1385.9 699.4 1388.1 699.4 C1390.3 699.4 1392.5 699.4 1394.7 699.4 C1396.9 699.4 1399.1 699.4 1401.2 699.4 C1403.4 699.4 1405.6 699.4 1407.8 699.4 C1410.0 699.4 1412.2 699.4 1414.4 699.4 C1416.6 699.4 1418.8 699.4 1420.9 699.4 C1423.1 699.4 1425.3 699.4 1427.5 699.4 C1429.7 699.4 1431.9 699.4 1434.1 699.4 C1436.3 699.4 1438.4 699.4 1440.6 699.4 C1442.8 699.4 1445.0 699.4 1447.2 699.4 C1449.4 699.4 1451.6 699.4 1453.8 699.4 C1455.9 699.4 1458.1 699.4 1460.3 699.4 C1462.5 699.4 1464.7 699.4 1466.9 699.4 C1469.1 699.4 1471.3 699.4 1473.4 699.4 C1475.6 699.4 1477.8 699.4 1480.0 699.4 C1482.2 699.4 1484.4 699.4 1486.6 699.4 C1488.8 699.4 1490.9 699.4 1493.1 699.4 C1495.3 699.4 1497.5 699.4 1499.7 699.4 C1501.9 699.4 1504.1 699.4 1506.3 699.4 C1508.5 699.4 1510.6 699.4 1512.8 699.4 C1515.0 699.4 1517.2 699.4 1519.4 699.4 C1521.6 699.4 1523.8 699.4 1526.0 699.4 C1528.1 699.4 1530.3 699.4 1532.5 699.4 C1534.7 699.4 1536.9 699.4 1539.1 699.4 C1541.3 699.4 1543.5 699.4 1545.6 699.4 C1547.8 699.4 1550.0 699.4 1552.2 699.4 C1554.4 699.4 1541.3 699.4 1558.8 699.4 C1576.3 699.4 1639.7 699.4 1657.2 699.4 C1674.7 699.4 1661.6 699.4 1663.8 699.4 C1666.0 699.4 1668.2 699.4 1670.4 699.4 C1672.5 699.4 1674.7 699.4 1676.9 699.4 C1679.1 699.4 1681.3 699.4 1683.5 699.4 C1685.7 699.4 1687.9 699.4 1690.0 699.4 C1692.2 699.4 1694.4 699.4 1696.6 699.4 C1698.8 699.4 1701.0 699.4 1703.2 699.4 C1705.4 699.4 1707.5 699.4 1709.7 699.4 C1711.9 699.4 1714.1 699.4 1716.3 699.4 C1718.5 699.4 1720.7 699.4 1722.9 699.4 C1725.0 699.4 1727.2 699.4 1729.4 699.4 C1731.6 699.4 1733.8 699.4 1736.0 699.4 C1738.2 699.4 1740.4 699.4 1742.6 699.4 C1744.7 699.4 1746.9 699.4 1749.1 699.4 C1751.3 699.4 1753.5 699.4 1755.7 699.4 C1757.9 699.4 1760.1 699.4 1762.2 699.4 C1764.4 699.4 1766.6 699.4 1768.8 699.4 C1771.0 699.4 1773.2 699.4 1775.4 699.4 C1777.6 699.4 1779.7 699.4 1781.9 699.4 C1784.1 699.4 1786.3 699.4 1788.5 699.4 C1790.7 699.4 1792.9 699.4 1795.1 699.4 C1797.2 699.4 1799.4 699.4 1801.6 699.4 C1803.8 699.4 1806.0 699.4 1808.2 699.4 C1810.4 699.4 1812.6 699.4 1814.7 699.4 C1816.9 699.4 1819.1 699.4 1821.3 699.4 C1823.5 699.4 1825.7 699.4 1827.9 699.4 C1830.1 699.4 1832.3 699.4 1834.4 699.4 C1836.6 699.4 1838.8 699.4 1841.0 699.4 C1843.2 699.4 1845.4 699.4 1847.6 699.4 C1849.8 699.4 1851.9 699.4 1854.1 699.4 C1856.3 699.4 1858.5 699.4 1860.7 699.4 C1862.9 699.4 1865.1 699.4 1867.3 699.4 C1869.4 699.4 1871.6 699.4 1873.8 699.4 C1876.0 699.4 1878.2 699.4 1880.4 699.4 C1882.6 699.4 1884.8 699.4 1886.9 699.4 C1889.1 699.4 1891.3 699.4 1893.5 699.4 C1895.7 699.4 1897.9 699.4 1900.1 699.4 C1902.3 699.4 1904.4 699.4 1906.6 699.4 C1908.8 699.4 1911.0 699.4 1913.2 699.4 C1915.4 699.4 1917.6 699.4 1919.8 699.4 C1922.0 699.4 1924.1 699.4 1926.3 699.4 C1928.5 699.4 1930.7 699.4 1932.9 699.4 C1935.1 699.4 1937.3 699.4 1939.5 699.4 C1941.6 699.4 1943.8 699.4 1946.0 699.4 C1948.2 699.4 1950.4 699.4 1952.6 699.4 C1954.8 699.4 1957.0 699.4 1959.1 699.4 C1961.3 699.4 1963.5 699.4 1965.7 699.4 C1967.9 699.4 1970.1 699.4 1972.3 699.4 C1974.5 699.4 1976.6 699.4 1978.8 699.4 C1981.0 699.4 1983.2 699.4 1985.4 699.4 C1987.6 699.4 1989.8 699.4 1992.0 699.4 C1994.2 699.4 1996.3 699.4 1998.5 699.4 C2000.7 699.4 2002.9 699.4 2005.1 699.4 C2007.3 699.4 2009.5 699.4 2011.7 699.4 C2013.8 699.4 2016.0 699.4 2018.2 699.4 C2020.4 699.4 2022.6 699.4 2024.8 699.4 C2027.0 699.4 2029.2 699.4 2031.3 699.4 C2033.5 699.4 2035.7 699.4 2037.9 699.4 C2040.1 699.4 2042.3 699.4 2044.5 699.4 C2046.7 699.4 2048.8 699.4 2051.0 699.4 C2053.2 699.4 2055.4 699.4 2057.6 699.4 C2059.8 699.4 2062.0 699.4 2064.2 699.4 C2066.3 699.4 2068.5 699.4 2070.7 699.4 C2072.9 699.4 2075.1 699.4 2077.3 699.4 C2079.5 699.4 2081.7 699.4 2083.9 699.4 C2086.0 699.4 2088.2 699.4 2090.4 699.4 C2092.6 699.4 2095.4 699.4 2097.0 699.4 C2098.6 699.4 2099.6 699.4 2100.1 699.4" fill="none" stroke="#ee8033" stroke-width="1.45" stroke-linejoin="round"/>
<path d="M819.8 326.8 C820.4 326.8 821.9 326.9 823.7 326.9 C825.4 326.9 828.0 326.7 830.2 326.7 C832.4 326.7 834.6 326.7 836.8 326.7 C839.0 326.7 841.2 326.4 843.4 326.5 C845.5 326.6 847.7 327.3 849.9 327.4 C852.1 327.5 854.3 326.9 856.5 327.0 C858.7 327.0 860.9 327.7 863.0 327.9 C865.2 328.1 867.4 328.2 869.6 328.0 C871.8 327.8 874.0 326.8 876.2 326.7 C878.4 326.6 880.5 327.2 882.7 327.3 C884.9 327.3 887.1 327.2 889.3 327.2 C891.5 327.2 893.7 327.4 895.9 327.3 C898.0 327.3 900.2 326.9 902.4 326.9 C904.6 326.9 906.8 327.3 909.0 327.3 C911.2 327.4 913.4 327.1 915.5 327.2 C917.7 327.3 919.9 327.9 922.1 328.0 C924.3 328.0 926.5 327.6 928.7 327.5 C930.9 327.4 933.1 327.4 935.2 327.4 C937.4 327.4 939.6 327.5 941.8 327.4 C944.0 327.3 946.2 326.9 948.4 326.9 C950.6 327.0 952.7 327.4 954.9 327.5 C957.1 327.5 959.3 327.1 961.5 327.1 C963.7 327.2 965.9 327.7 968.1 327.7 C970.2 327.8 972.4 327.6 974.6 327.6 C976.8 327.5 979.0 327.4 981.2 327.3 C983.4 327.2 985.6 326.9 987.7 326.9 C989.9 326.9 992.1 327.1 994.3 327.1 C996.5 327.2 998.7 327.5 1000.9 327.4 C1003.1 327.2 1005.3 326.5 1007.4 326.4 C1009.6 326.4 1011.8 327.3 1014.0 327.3 C1016.2 327.3 1018.4 326.7 1020.6 326.5 C1022.8 326.3 1024.9 326.5 1027.1 326.4 C1029.3 326.3 1031.5 325.9 1033.7 326.0 C1035.9 326.0 1038.1 326.7 1040.3 326.7 C1042.4 326.8 1044.6 326.2 1046.8 326.1 C1049.0 326.0 1051.2 326.4 1053.4 326.3 C1055.6 326.2 1057.8 325.8 1059.9 325.7 C1062.1 325.6 1064.3 325.6 1066.5 325.5 C1068.7 325.5 1070.9 325.5 1073.1 325.5 C1075.3 325.4 1077.4 325.2 1079.6 325.1 C1081.8 325.1 1084.0 324.8 1086.2 324.9 C1088.4 325.0 1090.6 325.7 1092.8 325.9 C1095.0 326.0 1097.1 325.7 1099.3 325.6 C1101.5 325.6 1103.7 325.8 1105.9 325.8 C1108.1 325.7 1110.3 325.6 1112.5 325.4 C1114.6 325.2 1116.8 324.8 1119.0 324.8 C1121.2 324.8 1123.4 325.3 1125.6 325.3 C1127.8 325.3 1130.0 324.8 1132.1 324.7 C1134.3 324.6 1136.5 324.6 1138.7 324.6 C1140.9 324.6 1143.1 324.5 1145.3 324.7 C1147.5 324.9 1149.6 325.5 1151.8 325.7 C1154.0 325.9 1156.2 326.0 1158.4 326.0 C1160.6 325.9 1162.8 325.6 1165.0 325.6 C1167.2 325.5 1169.3 325.7 1171.5 325.6 C1173.7 325.5 1175.9 325.0 1178.1 325.0 C1180.3 324.9 1182.5 325.4 1184.7 325.4 C1186.8 325.4 1189.0 324.9 1191.2 324.8 C1193.4 324.7 1195.6 324.9 1197.8 324.9 C1200.0 324.9 1202.2 324.9 1204.3 324.9 C1206.5 325.0 1208.7 325.0 1210.9 325.2 C1213.1 325.3 1215.3 325.5 1217.5 325.7 C1219.7 325.9 1221.8 326.1 1224.0 326.2 C1226.2 326.2 1228.4 326.1 1230.6 326.1 C1232.8 326.2 1235.0 326.4 1237.2 326.3 C1239.3 326.2 1241.5 325.4 1243.7 325.6 C1245.9 325.7 1248.1 326.9 1250.3 327.0 C1252.5 327.2 1254.7 326.8 1256.9 326.5 C1259.0 326.3 1261.2 325.7 1263.4 325.6 C1265.6 325.5 1267.8 325.6 1270.0 325.7 C1272.2 325.7 1274.4 325.9 1276.5 325.9 C1278.7 326.0 1280.9 325.9 1283.1 325.9 C1285.3 325.9 1287.5 325.8 1289.7 325.9 C1291.9 326.0 1294.0 326.5 1296.2 326.6 C1298.4 326.7 1300.6 326.6 1302.8 326.5 C1305.0 326.4 1307.2 326.2 1309.4 326.0 C1311.5 325.9 1313.7 325.8 1315.9 325.7 C1318.1 325.6 1320.3 325.5 1322.5 325.4 C1324.7 325.4 1326.9 325.1 1329.0 325.1 C1331.2 325.1 1333.4 325.2 1335.6 325.3 C1337.8 325.3 1340.0 325.6 1342.2 325.5 C1344.4 325.4 1346.6 324.7 1348.7 324.6 C1350.9 324.5 1353.1 324.9 1355.3 325.0 C1357.5 325.1 1359.7 325.2 1361.9 325.2 C1364.1 325.2 1366.2 324.9 1368.4 324.8 C1370.6 324.7 1372.8 324.7 1375.0 324.6 C1377.2 324.6 1379.4 324.5 1381.6 324.6 C1383.7 324.8 1385.9 325.2 1388.1 325.4 C1390.3 325.5 1392.5 325.4 1394.7 325.4 C1396.9 325.3 1399.1 325.1 1401.2 325.0 C1403.4 324.9 1405.6 324.7 1407.8 324.7 C1410.0 324.6 1412.2 324.8 1414.4 324.8 C1416.6 324.8 1418.8 324.7 1420.9 324.6 C1423.1 324.6 1425.3 324.7 1427.5 324.7 C1429.7 324.7 1431.9 324.6 1434.1 324.6 C1436.3 324.6 1438.4 324.7 1440.6 324.8 C1442.8 324.8 1445.0 324.8 1447.2 324.8 C1449.4 324.7 1451.6 324.6 1453.8 324.6 C1455.9 324.7 1458.1 325.4 1460.3 325.2 C1462.5 325.1 1464.7 324.0 1466.9 323.9 C1469.1 323.8 1471.3 324.8 1473.4 324.8 C1475.6 324.7 1477.8 323.8 1480.0 323.7 C1482.2 323.6 1484.4 324.1 1486.6 324.1 C1488.8 324.2 1490.9 323.8 1493.1 323.8 C1495.3 323.8 1497.5 323.9 1499.7 324.1 C1501.9 324.2 1504.1 324.5 1506.3 324.6 C1508.5 324.7 1510.6 324.8 1512.8 324.8 C1515.0 324.7 1517.2 324.4 1519.4 324.2 C1521.6 324.0 1523.8 323.5 1526.0 323.4 C1528.1 323.3 1530.3 323.3 1532.5 323.7 C1534.7 324.0 1536.9 325.2 1539.1 325.4 C1541.3 325.5 1543.5 324.8 1545.6 324.5 C1547.8 324.2 1550.0 323.7 1552.2 323.6 C1554.4 323.5 1541.3 323.7 1558.8 323.8 C1576.3 323.8 1639.7 323.7 1657.2 323.8 C1674.7 323.8 1661.6 324.0 1663.8 324.1 C1666.0 324.2 1668.2 324.6 1670.4 324.5 C1672.5 324.5 1674.7 324.0 1676.9 324.1 C1679.1 324.2 1681.3 324.9 1683.5 324.9 C1685.7 325.0 1687.9 324.3 1690.0 324.4 C1692.2 324.4 1694.4 324.9 1696.6 325.0 C1698.8 325.2 1701.0 325.4 1703.2 325.3 C1705.4 325.2 1707.5 324.9 1709.7 324.7 C1711.9 324.5 1714.1 324.0 1716.3 323.9 C1718.5 323.9 1720.7 324.3 1722.9 324.5 C1725.0 324.6 1727.2 324.8 1729.4 324.8 C1731.6 324.9 1733.8 324.9 1736.0 325.0 C1738.2 325.0 1740.4 325.2 1742.6 325.2 C1744.7 325.3 1746.9 325.2 1749.1 325.3 C1751.3 325.4 1753.5 325.8 1755.7 325.9 C1757.9 325.9 1760.1 325.7 1762.2 325.6 C1764.4 325.4 1766.6 325.2 1768.8 325.1 C1771.0 325.0 1773.2 324.7 1775.4 324.8 C1777.6 324.8 1779.7 325.4 1781.9 325.4 C1784.1 325.4 1786.3 324.9 1788.5 324.8 C1790.7 324.7 1792.9 324.7 1795.1 324.7 C1797.2 324.7 1799.4 324.9 1801.6 324.9 C1803.8 324.9 1806.0 324.7 1808.2 324.5 C1810.4 324.4 1812.6 324.1 1814.7 324.2 C1816.9 324.3 1819.1 325.0 1821.3 325.1 C1823.5 325.2 1825.7 324.7 1827.9 324.7 C1830.1 324.7 1832.3 325.0 1834.4 325.1 C1836.6 325.2 1838.8 325.4 1841.0 325.3 C1843.2 325.2 1845.4 324.9 1847.6 324.7 C1849.8 324.5 1851.9 324.2 1854.1 324.2 C1856.3 324.2 1858.5 324.7 1860.7 324.8 C1862.9 324.8 1865.1 324.5 1867.3 324.5 C1869.4 324.4 1871.6 324.4 1873.8 324.4 C1876.0 324.3 1878.2 324.2 1880.4 324.3 C1882.6 324.3 1884.8 324.4 1886.9 324.6 C1889.1 324.8 1891.3 325.7 1893.5 325.6 C1895.7 325.6 1897.9 324.4 1900.1 324.3 C1902.3 324.2 1904.4 325.0 1906.6 325.1 C1908.8 325.1 1911.0 324.6 1913.2 324.6 C1915.4 324.5 1917.6 324.6 1919.8 324.7 C1922.0 324.8 1924.1 325.0 1926.3 325.1 C1928.5 325.2 1930.7 325.3 1932.9 325.3 C1935.1 325.3 1937.3 325.0 1939.5 324.9 C1941.6 324.9 1943.8 325.0 1946.0 325.0 C1948.2 324.9 1950.4 324.6 1952.6 324.6 C1954.8 324.6 1957.0 324.7 1959.1 324.8 C1961.3 324.9 1963.5 325.4 1965.7 325.3 C1967.9 325.3 1970.1 324.6 1972.3 324.5 C1974.5 324.5 1976.6 324.8 1978.8 324.8 C1981.0 324.9 1983.2 324.6 1985.4 324.7 C1987.6 324.8 1989.8 325.3 1992.0 325.3 C1994.2 325.3 1996.3 324.8 1998.5 324.7 C2000.7 324.7 2002.9 324.9 2005.1 324.9 C2007.3 324.9 2009.5 324.7 2011.7 324.9 C2013.8 325.1 2016.0 325.8 2018.2 326.0 C2020.4 326.1 2022.6 326.0 2024.8 326.0 C2027.0 326.0 2029.2 325.7 2031.3 325.7 C2033.5 325.8 2035.7 326.3 2037.9 326.4 C2040.1 326.4 2042.3 326.3 2044.5 326.1 C2046.7 325.9 2048.8 325.2 2051.0 325.1 C2053.2 325.1 2055.4 325.9 2057.6 326.1 C2059.8 326.2 2062.0 326.1 2064.2 326.1 C2066.3 326.1 2068.5 326.2 2070.7 326.1 C2072.9 326.1 2075.1 325.6 2077.3 325.6 C2079.5 325.5 2081.7 325.7 2083.9 325.9 C2086.0 326.0 2088.2 326.5 2090.4 326.5 C2092.6 326.4 2095.4 325.5 2097.0 325.4 C2098.6 325.3 2099.6 325.8 2100.1 325.9" fill="none" stroke="#e05660" stroke-width="1.45" stroke-linejoin="round"/>
<path d="M819.8 317.7 C820.4 317.8 821.9 318.3 823.7 318.4 C825.4 318.6 828.0 318.6 830.2 318.6 C832.4 318.5 834.6 318.0 836.8 317.9 C839.0 317.9 841.2 318.1 843.4 318.1 C845.5 318.2 847.7 318.2 849.9 318.2 C852.1 318.2 854.3 318.2 856.5 318.1 C858.7 318.0 860.9 317.5 863.0 317.4 C865.2 317.3 867.4 317.5 869.6 317.6 C871.8 317.7 874.0 318.0 876.2 318.1 C878.4 318.1 880.5 317.8 882.7 317.9 C884.9 317.9 887.1 318.2 889.3 318.3 C891.5 318.3 893.7 318.2 895.9 318.0 C898.0 317.9 900.2 317.6 902.4 317.5 C904.6 317.5 906.8 317.8 909.0 317.8 C911.2 317.8 913.4 317.5 915.5 317.4 C917.7 317.3 919.9 317.4 922.1 317.4 C924.3 317.3 926.5 317.0 928.7 316.9 C930.9 316.8 933.1 316.8 935.2 316.9 C937.4 317.0 939.6 317.4 941.8 317.4 C944.0 317.5 946.2 317.2 948.4 317.2 C950.6 317.2 952.7 317.5 954.9 317.5 C957.1 317.5 959.3 317.4 961.5 317.4 C963.7 317.4 965.9 317.5 968.1 317.5 C970.2 317.4 972.4 317.2 974.6 317.1 C976.8 316.9 979.0 316.6 981.2 316.6 C983.4 316.6 985.6 316.8 987.7 316.9 C989.9 317.0 992.1 317.2 994.3 317.1 C996.5 317.1 998.7 316.7 1000.9 316.6 C1003.1 316.6 1005.3 316.7 1007.4 316.7 C1009.6 316.6 1011.8 316.3 1014.0 316.4 C1016.2 316.4 1018.4 316.8 1020.6 317.0 C1022.8 317.1 1024.9 317.1 1027.1 317.1 C1029.3 317.1 1031.5 317.0 1033.7 317.1 C1035.9 317.2 1038.1 317.5 1040.3 317.6 C1042.4 317.6 1044.6 317.5 1046.8 317.5 C1049.0 317.5 1051.2 317.6 1053.4 317.6 C1055.6 317.6 1057.8 317.3 1059.9 317.4 C1062.1 317.4 1064.3 317.9 1066.5 317.8 C1068.7 317.8 1070.9 317.2 1073.1 317.2 C1075.3 317.1 1077.4 317.4 1079.6 317.4 C1081.8 317.5 1084.0 317.5 1086.2 317.4 C1088.4 317.4 1090.6 317.3 1092.8 317.3 C1095.0 317.4 1097.1 317.6 1099.3 317.7 C1101.5 317.7 1103.7 317.7 1105.9 317.7 C1108.1 317.6 1110.3 317.6 1112.5 317.6 C1114.6 317.5 1116.8 317.3 1119.0 317.3 C1121.2 317.2 1123.4 317.2 1125.6 317.2 C1127.8 317.3 1130.0 317.4 1132.1 317.4 C1134.3 317.4 1136.5 317.6 1138.7 317.5 C1140.9 317.5 1143.1 317.2 1145.3 317.2 C1147.5 317.3 1149.6 317.9 1151.8 317.9 C1154.0 317.9 1156.2 317.3 1158.4 317.2 C1160.6 317.1 1162.8 317.1 1165.0 317.2 C1167.2 317.3 1169.3 317.9 1171.5 317.8 C1173.7 317.6 1175.9 316.5 1178.1 316.3 C1180.3 316.1 1182.5 316.4 1184.7 316.6 C1186.8 316.7 1189.0 317.2 1191.2 317.2 C1193.4 317.2 1195.6 316.9 1197.8 316.8 C1200.0 316.7 1202.2 316.8 1204.3 316.7 C1206.5 316.7 1208.7 316.4 1210.9 316.4 C1213.1 316.4 1215.3 316.7 1217.5 316.7 C1219.7 316.8 1221.8 316.7 1224.0 316.7 C1226.2 316.6 1228.4 316.5 1230.6 316.5 C1232.8 316.5 1235.0 316.5 1237.2 316.5 C1239.3 316.4 1241.5 316.2 1243.7 316.1 C1245.9 316.1 1248.1 316.2 1250.3 316.1 C1252.5 316.0 1254.7 315.6 1256.9 315.6 C1259.0 315.5 1261.2 316.1 1263.4 316.1 C1265.6 316.1 1267.8 315.6 1270.0 315.6 C1272.2 315.6 1274.4 315.9 1276.5 316.0 C1278.7 316.1 1280.9 316.2 1283.1 316.2 C1285.3 316.1 1287.5 315.7 1289.7 315.8 C1291.9 315.9 1294.0 316.6 1296.2 316.6 C1298.4 316.6 1300.6 316.0 1302.8 316.0 C1305.0 315.9 1307.2 316.2 1309.4 316.3 C1311.5 316.3 1313.7 316.3 1315.9 316.3 C1318.1 316.2 1320.3 316.1 1322.5 316.0 C1324.7 315.9 1326.9 315.8 1329.0 315.7 C1331.2 315.7 1333.4 315.6 1335.6 315.5 C1337.8 315.5 1340.0 315.3 1342.2 315.3 C1344.4 315.3 1346.6 315.3 1348.7 315.4 C1350.9 315.4 1353.1 315.6 1355.3 315.6 C1357.5 315.7 1359.7 315.7 1361.9 315.7 C1364.1 315.6 1366.2 315.5 1368.4 315.5 C1370.6 315.5 1372.8 315.6 1375.0 315.6 C1377.2 315.6 1379.4 315.3 1381.6 315.3 C1383.7 315.2 1385.9 315.3 1388.1 315.3 C1390.3 315.3 1392.5 315.3 1394.7 315.4 C1396.9 315.5 1399.1 315.7 1401.2 315.8 C1403.4 315.8 1405.6 315.8 1407.8 315.8 C1410.0 315.8 1412.2 315.8 1414.4 315.8 C1416.6 315.8 1418.8 315.8 1420.9 315.8 C1423.1 315.8 1425.3 315.7 1427.5 315.7 C1429.7 315.7 1431.9 315.8 1434.1 315.8 C1436.3 315.8 1438.4 315.7 1440.6 315.6 C1442.8 315.6 1445.0 315.5 1447.2 315.5 C1449.4 315.5 1451.6 315.6 1453.8 315.6 C1455.9 315.7 1458.1 315.5 1460.3 315.6 C1462.5 315.7 1464.7 316.3 1466.9 316.3 C1469.1 316.3 1471.3 315.8 1473.4 315.8 C1475.6 315.8 1477.8 316.1 1480.0 316.0 C1482.2 316.0 1484.4 315.5 1486.6 315.4 C1488.8 315.4 1490.9 315.6 1493.1 315.6 C1495.3 315.6 1497.5 315.3 1499.7 315.4 C1501.9 315.5 1504.1 316.1 1506.3 316.1 C1508.5 316.1 1510.6 315.7 1512.8 315.6 C1515.0 315.5 1517.2 315.3 1519.4 315.3 C1521.6 315.3 1523.8 315.7 1526.0 315.7 C1528.1 315.7 1530.3 315.3 1532.5 315.3 C1534.7 315.2 1536.9 315.4 1539.1 315.4 C1541.3 315.5 1543.5 315.6 1545.6 315.5 C1547.8 315.5 1550.0 315.3 1552.2 315.3 C1554.4 315.2 1541.3 315.3 1558.8 315.3 C1576.3 315.3 1639.7 315.3 1657.2 315.3 C1674.7 315.3 1661.6 315.3 1663.8 315.3 C1666.0 315.3 1668.2 315.3 1670.4 315.3 C1672.5 315.3 1674.7 315.3 1676.9 315.3 C1679.1 315.3 1681.3 315.3 1683.5 315.3 C1685.7 315.3 1687.9 315.3 1690.0 315.3 C1692.2 315.3 1694.4 315.3 1696.6 315.3 C1698.8 315.3 1701.0 315.3 1703.2 315.3 C1705.4 315.3 1707.5 315.3 1709.7 315.3 C1711.9 315.3 1714.1 315.3 1716.3 315.3 C1718.5 315.3 1720.7 315.3 1722.9 315.3 C1725.0 315.3 1727.2 315.3 1729.4 315.3 C1731.6 315.3 1733.8 315.3 1736.0 315.3 C1738.2 315.3 1740.4 315.3 1742.6 315.3 C1744.7 315.3 1746.9 315.2 1749.1 315.3 C1751.3 315.3 1753.5 315.4 1755.7 315.5 C1757.9 315.6 1760.1 316.0 1762.2 316.1 C1764.4 316.1 1766.6 315.9 1768.8 315.9 C1771.0 315.8 1773.2 315.4 1775.4 315.6 C1777.6 315.8 1779.7 316.9 1781.9 317.0 C1784.1 317.2 1786.3 316.5 1788.5 316.4 C1790.7 316.3 1792.9 316.5 1795.1 316.4 C1797.2 316.4 1799.4 316.2 1801.6 316.2 C1803.8 316.1 1806.0 316.0 1808.2 316.1 C1810.4 316.2 1812.6 316.8 1814.7 316.8 C1816.9 316.9 1819.1 316.5 1821.3 316.4 C1823.5 316.2 1825.7 316.1 1827.9 316.1 C1830.1 316.1 1832.3 316.5 1834.4 316.6 C1836.6 316.6 1838.8 316.4 1841.0 316.3 C1843.2 316.2 1845.4 316.2 1847.6 316.2 C1849.8 316.3 1851.9 316.6 1854.1 316.6 C1856.3 316.6 1858.5 316.3 1860.7 316.4 C1862.9 316.4 1865.1 316.9 1867.3 316.9 C1869.4 316.9 1871.6 316.4 1873.8 316.4 C1876.0 316.5 1878.2 317.1 1880.4 317.2 C1882.6 317.3 1884.8 317.0 1886.9 316.9 C1889.1 316.9 1891.3 316.9 1893.5 317.0 C1895.7 317.1 1897.9 317.5 1900.1 317.5 C1902.3 317.5 1904.4 317.1 1906.6 317.0 C1908.8 317.0 1911.0 317.2 1913.2 317.2 C1915.4 317.1 1917.6 317.0 1919.8 316.9 C1922.0 316.9 1924.1 316.7 1926.3 316.8 C1928.5 316.9 1930.7 317.4 1932.9 317.5 C1935.1 317.6 1937.3 317.5 1939.5 317.4 C1941.6 317.3 1943.8 316.9 1946.0 316.9 C1948.2 317.0 1950.4 317.6 1952.6 317.6 C1954.8 317.7 1957.0 317.4 1959.1 317.4 C1961.3 317.3 1963.5 317.5 1965.7 317.5 C1967.9 317.5 1970.1 317.5 1972.3 317.5 C1974.5 317.5 1976.6 317.8 1978.8 317.7 C1981.0 317.6 1983.2 317.0 1985.4 316.9 C1987.6 316.9 1989.8 317.2 1992.0 317.2 C1994.2 317.3 1996.3 317.3 1998.5 317.3 C2000.7 317.2 2002.9 317.1 2005.1 317.0 C2007.3 317.0 2009.5 316.9 2011.7 316.9 C2013.8 316.9 2016.0 317.0 2018.2 317.0 C2020.4 316.9 2022.6 316.6 2024.8 316.6 C2027.0 316.6 2029.2 316.8 2031.3 317.0 C2033.5 317.1 2035.7 317.2 2037.9 317.4 C2040.1 317.5 2042.3 317.8 2044.5 317.7 C2046.7 317.6 2048.8 317.0 2051.0 316.9 C2053.2 316.7 2055.4 316.8 2057.6 316.8 C2059.8 316.7 2062.0 316.6 2064.2 316.6 C2066.3 316.7 2068.5 317.0 2070.7 316.9 C2072.9 316.9 2075.1 316.6 2077.3 316.5 C2079.5 316.5 2081.7 316.7 2083.9 316.6 C2086.0 316.6 2088.2 316.4 2090.4 316.2 C2092.6 316.1 2095.4 315.8 2097.0 315.8 C2098.6 315.8 2099.6 316.2 2100.1 316.3" fill="none" stroke="#6592eb" stroke-width="1.45" stroke-linejoin="round"/>
<path d="M819.8 314.9 C820.4 314.9 821.9 314.9 823.7 314.7 C825.4 314.6 828.0 314.3 830.2 314.2 C832.4 314.1 834.6 314.4 836.8 314.4 C839.0 314.4 841.2 314.3 843.4 314.2 C845.5 314.1 847.7 313.9 849.9 313.9 C852.1 313.9 854.3 314.1 856.5 314.0 C858.7 314.0 860.9 313.7 863.0 313.6 C865.2 313.5 867.4 313.6 869.6 313.5 C871.8 313.5 874.0 313.5 876.2 313.4 C878.4 313.4 880.5 313.4 882.7 313.5 C884.9 313.6 887.1 313.9 889.3 314.0 C891.5 314.1 893.7 314.0 895.9 313.9 C898.0 313.9 900.2 313.8 902.4 313.8 C904.6 313.8 906.8 313.9 909.0 313.9 C911.2 314.0 913.4 313.8 915.5 313.9 C917.7 314.0 919.9 314.4 922.1 314.5 C924.3 314.7 926.5 314.7 928.7 314.7 C930.9 314.6 933.1 314.2 935.2 314.2 C937.4 314.2 939.6 314.5 941.8 314.6 C944.0 314.8 946.2 315.1 948.4 315.0 C950.6 315.0 952.7 314.2 954.9 314.2 C957.1 314.1 959.3 314.7 961.5 314.8 C963.7 314.9 965.9 314.7 968.1 314.7 C970.2 314.7 972.4 314.7 974.6 314.7 C976.8 314.7 979.0 314.7 981.2 314.8 C983.4 314.8 985.6 314.9 987.7 314.8 C989.9 314.7 992.1 314.5 994.3 314.4 C996.5 314.3 998.7 314.2 1000.9 314.3 C1003.1 314.4 1005.3 314.9 1007.4 314.9 C1009.6 314.9 1011.8 314.2 1014.0 314.1 C1016.2 314.1 1018.4 314.3 1020.6 314.4 C1022.8 314.4 1024.9 314.7 1027.1 314.7 C1029.3 314.7 1031.5 314.4 1033.7 314.5 C1035.9 314.5 1038.1 314.7 1040.3 314.8 C1042.4 314.9 1044.6 315.3 1046.8 315.3 C1049.0 315.3 1051.2 314.7 1053.4 314.7 C1055.6 314.7 1057.8 315.4 1059.9 315.4 C1062.1 315.5 1064.3 315.1 1066.5 315.1 C1068.7 315.1 1070.9 315.3 1073.1 315.2 C1075.3 315.2 1077.4 314.9 1079.6 314.9 C1081.8 314.9 1084.0 315.2 1086.2 315.2 C1088.4 315.3 1090.6 315.0 1092.8 315.0 C1095.0 315.0 1097.1 315.4 1099.3 315.4 C1101.5 315.3 1103.7 314.7 1105.9 314.6 C1108.1 314.5 1110.3 314.9 1112.5 314.9 C1114.6 315.0 1116.8 315.0 1119.0 314.9 C1121.2 314.9 1123.4 314.4 1125.6 314.4 C1127.8 314.4 1130.0 314.9 1132.1 314.9 C1134.3 315.0 1136.5 315.0 1138.7 314.9 C1140.9 314.8 1143.1 314.2 1145.3 314.2 C1147.5 314.2 1149.6 314.6 1151.8 314.8 C1154.0 314.9 1156.2 315.1 1158.4 315.1 C1160.6 315.0 1162.8 314.5 1165.0 314.5 C1167.2 314.5 1169.3 315.0 1171.5 315.0 C1173.7 315.0 1175.9 314.5 1178.1 314.4 C1180.3 314.3 1182.5 314.4 1184.7 314.5 C1186.8 314.6 1189.0 315.0 1191.2 315.1 C1193.4 315.2 1195.6 315.2 1197.8 315.1 C1200.0 315.1 1202.2 314.6 1204.3 314.5 C1206.5 314.4 1208.7 314.6 1210.9 314.6 C1213.1 314.7 1215.3 314.9 1217.5 314.9 C1219.7 314.9 1221.8 314.6 1224.0 314.6 C1226.2 314.7 1228.4 315.2 1230.6 315.2 C1232.8 315.2 1235.0 314.8 1237.2 314.7 C1239.3 314.6 1241.5 314.7 1243.7 314.7 C1245.9 314.6 1248.1 314.3 1250.3 314.2 C1252.5 314.1 1254.7 314.0 1256.9 314.0 C1259.0 314.0 1261.2 314.1 1263.4 314.1 C1265.6 314.0 1267.8 313.7 1270.0 313.6 C1272.2 313.5 1274.4 313.5 1276.5 313.6 C1278.7 313.7 1280.9 313.9 1283.1 314.0 C1285.3 314.0 1287.5 314.1 1289.7 314.1 C1291.9 314.1 1294.0 314.1 1296.2 314.1 C1298.4 314.0 1300.6 313.7 1302.8 313.7 C1305.0 313.8 1307.2 314.4 1309.4 314.4 C1311.5 314.4 1313.7 314.1 1315.9 314.0 C1318.1 313.9 1320.3 313.8 1322.5 313.8 C1324.7 313.8 1326.9 313.9 1329.0 313.9 C1331.2 313.9 1333.4 313.7 1335.6 313.8 C1337.8 313.8 1340.0 314.1 1342.2 314.2 C1344.4 314.3 1346.6 314.3 1348.7 314.3 C1350.9 314.2 1353.1 314.0 1355.3 314.0 C1357.5 314.0 1359.7 314.3 1361.9 314.3 C1364.1 314.3 1366.2 314.1 1368.4 314.1 C1370.6 314.0 1372.8 314.3 1375.0 314.3 C1377.2 314.3 1379.4 314.0 1381.6 314.0 C1383.7 314.0 1385.9 314.1 1388.1 314.2 C1390.3 314.2 1392.5 314.3 1394.7 314.3 C1396.9 314.4 1399.1 314.4 1401.2 314.4 C1403.4 314.3 1405.6 314.2 1407.8 314.2 C1410.0 314.2 1412.2 314.4 1414.4 314.4 C1416.6 314.3 1418.8 314.2 1420.9 314.1 C1423.1 313.9 1425.3 313.7 1427.5 313.7 C1429.7 313.7 1431.9 314.1 1434.1 314.1 C1436.3 314.0 1438.4 313.4 1440.6 313.4 C1442.8 313.4 1445.0 314.0 1447.2 314.1 C1449.4 314.2 1451.6 314.0 1453.8 314.1 C1455.9 314.2 1458.1 314.5 1460.3 314.6 C1462.5 314.7 1464.7 314.7 1466.9 314.7 C1469.1 314.6 1471.3 314.2 1473.4 314.2 C1475.6 314.2 1477.8 314.7 1480.0 314.8 C1482.2 314.9 1484.4 314.9 1486.6 315.0 C1488.8 315.0 1490.9 315.2 1493.1 315.2 C1495.3 315.2 1497.5 315.1 1499.7 315.0 C1501.9 314.9 1504.1 314.6 1506.3 314.7 C1508.5 314.7 1510.6 315.1 1512.8 315.2 C1515.0 315.3 1517.2 315.0 1519.4 315.1 C1521.6 315.2 1523.8 315.6 1526.0 315.7 C1528.1 315.8 1530.3 315.6 1532.5 315.6 C1534.7 315.7 1536.9 315.8 1539.1 315.7 C1541.3 315.7 1543.5 315.4 1545.6 315.5 C1547.8 315.5 1550.0 315.9 1552.2 315.9 C1554.4 315.9 1541.3 315.5 1558.8 315.5 C1576.3 315.4 1639.7 315.6 1657.2 315.7 C1674.7 315.8 1661.6 316.0 1663.8 316.1 C1666.0 316.2 1668.2 316.0 1670.4 316.0 C1672.5 316.0 1674.7 315.8 1676.9 316.0 C1679.1 316.1 1681.3 316.8 1683.5 316.8 C1685.7 316.8 1687.9 316.0 1690.0 315.9 C1692.2 315.7 1694.4 315.9 1696.6 315.9 C1698.8 316.0 1701.0 316.2 1703.2 316.3 C1705.4 316.4 1707.5 316.5 1709.7 316.4 C1711.9 316.3 1714.1 315.7 1716.3 315.5 C1718.5 315.4 1720.7 315.8 1722.9 315.7 C1725.0 315.7 1727.2 315.4 1729.4 315.3 C1731.6 315.2 1733.8 315.2 1736.0 315.2 C1738.2 315.2 1740.4 315.4 1742.6 315.4 C1744.7 315.3 1746.9 314.9 1749.1 314.8 C1751.3 314.8 1753.5 315.1 1755.7 315.0 C1757.9 315.0 1760.1 314.8 1762.2 314.7 C1764.4 314.6 1766.6 314.7 1768.8 314.7 C1771.0 314.6 1773.2 314.6 1775.4 314.6 C1777.6 314.6 1779.7 314.5 1781.9 314.5 C1784.1 314.5 1786.3 314.7 1788.5 314.7 C1790.7 314.8 1792.9 314.6 1795.1 314.6 C1797.2 314.6 1799.4 314.9 1801.6 314.9 C1803.8 314.9 1806.0 314.6 1808.2 314.6 C1810.4 314.6 1812.6 314.8 1814.7 314.8 C1816.9 314.8 1819.1 314.6 1821.3 314.6 C1823.5 314.6 1825.7 314.8 1827.9 314.9 C1830.1 315.0 1832.3 315.0 1834.4 315.0 C1836.6 315.0 1838.8 314.8 1841.0 314.7 C1843.2 314.7 1845.4 315.0 1847.6 315.0 C1849.8 314.9 1851.9 314.4 1854.1 314.3 C1856.3 314.3 1858.5 314.8 1860.7 314.9 C1862.9 315.0 1865.1 314.9 1867.3 315.0 C1869.4 315.0 1871.6 315.2 1873.8 315.2 C1876.0 315.1 1878.2 314.5 1880.4 314.5 C1882.6 314.5 1884.8 315.1 1886.9 315.2 C1889.1 315.3 1891.3 315.2 1893.5 315.1 C1895.7 315.1 1897.9 315.1 1900.1 315.1 C1902.3 315.0 1904.4 314.9 1906.6 314.9 C1908.8 314.9 1911.0 314.7 1913.2 314.8 C1915.4 314.8 1917.6 315.3 1919.8 315.2 C1922.0 315.1 1924.1 314.3 1926.3 314.3 C1928.5 314.3 1930.7 315.0 1932.9 315.1 C1935.1 315.2 1937.3 314.8 1939.5 314.8 C1941.6 314.9 1943.8 315.2 1946.0 315.2 C1948.2 315.2 1950.4 314.8 1952.6 314.8 C1954.8 314.7 1957.0 315.0 1959.1 315.0 C1961.3 315.0 1963.5 314.7 1965.7 314.6 C1967.9 314.5 1970.1 314.5 1972.3 314.5 C1974.5 314.5 1976.6 314.6 1978.8 314.7 C1981.0 314.8 1983.2 315.0 1985.4 315.0 C1987.6 315.0 1989.8 314.6 1992.0 314.6 C1994.2 314.5 1996.3 314.7 1998.5 314.6 C2000.7 314.5 2002.9 314.1 2005.1 314.0 C2007.3 314.0 2009.5 314.2 2011.7 314.2 C2013.8 314.3 2016.0 314.2 2018.2 314.3 C2020.4 314.4 2022.6 314.5 2024.8 314.6 C2027.0 314.7 2029.2 314.8 2031.3 314.8 C2033.5 314.8 2035.7 314.7 2037.9 314.6 C2040.1 314.6 2042.3 314.6 2044.5 314.5 C2046.7 314.3 2048.8 313.8 2051.0 313.8 C2053.2 313.8 2055.4 314.4 2057.6 314.5 C2059.8 314.6 2062.0 314.3 2064.2 314.2 C2066.3 314.1 2068.5 314.2 2070.7 314.1 C2072.9 314.0 2075.1 313.6 2077.3 313.5 C2079.5 313.5 2081.7 313.7 2083.9 313.7 C2086.0 313.8 2088.2 313.7 2090.4 313.7 C2092.6 313.8 2095.4 313.9 2097.0 313.9 C2098.6 313.8 2099.6 313.3 2100.1 313.2" fill="none" stroke="#af7ad3" stroke-width="1.45" stroke-linejoin="round"/>
<path d="M819.8 324.2 C820.4 324.2 821.9 324.3 823.7 324.3 C825.4 324.3 828.0 324.2 830.2 324.1 C832.4 324.1 834.6 324.1 836.8 324.1 C839.0 324.1 841.2 324.2 843.4 324.2 C845.5 324.3 847.7 324.6 849.9 324.6 C852.1 324.5 854.3 324.1 856.5 324.1 C858.7 324.0 860.9 324.5 863.0 324.5 C865.2 324.5 867.4 324.3 869.6 324.2 C871.8 324.0 874.0 323.8 876.2 323.8 C878.4 323.8 880.5 323.9 882.7 324.0 C884.9 324.2 887.1 324.4 889.3 324.5 C891.5 324.5 893.7 324.3 895.9 324.2 C898.0 324.1 900.2 324.0 902.4 323.9 C904.6 323.9 906.8 324.0 909.0 324.0 C911.2 324.0 913.4 323.8 915.5 323.9 C917.7 324.0 919.9 324.4 922.1 324.4 C924.3 324.5 926.5 324.2 928.7 324.2 C930.9 324.2 933.1 324.4 935.2 324.4 C937.4 324.4 939.6 324.4 941.8 324.4 C944.0 324.4 946.2 324.6 948.4 324.6 C950.6 324.6 952.7 324.6 954.9 324.6 C957.1 324.6 959.3 324.6 961.5 324.6 C963.7 324.7 965.9 324.7 968.1 324.7 C970.2 324.7 972.4 324.8 974.6 324.7 C976.8 324.7 979.0 324.4 981.2 324.4 C983.4 324.5 985.6 325.0 987.7 325.0 C989.9 325.0 992.1 324.5 994.3 324.4 C996.5 324.4 998.7 324.6 1000.9 324.7 C1003.1 324.8 1005.3 324.8 1007.4 324.8 C1009.6 324.8 1011.8 324.7 1014.0 324.7 C1016.2 324.7 1018.4 324.7 1020.6 324.7 C1022.8 324.7 1024.9 324.6 1027.1 324.6 C1029.3 324.6 1031.5 324.7 1033.7 324.7 C1035.9 324.6 1038.1 324.4 1040.3 324.4 C1042.4 324.4 1044.6 324.7 1046.8 324.6 C1049.0 324.6 1051.2 324.0 1053.4 323.8 C1055.6 323.7 1057.8 323.8 1059.9 323.8 C1062.1 323.9 1064.3 324.0 1066.5 324.0 C1068.7 324.1 1070.9 324.1 1073.1 324.1 C1075.3 324.1 1077.4 324.3 1079.6 324.3 C1081.8 324.3 1084.0 324.3 1086.2 324.3 C1088.4 324.3 1090.6 324.3 1092.8 324.2 C1095.0 324.1 1097.1 323.8 1099.3 323.7 C1101.5 323.6 1103.7 323.6 1105.9 323.7 C1108.1 323.8 1110.3 324.2 1112.5 324.2 C1114.6 324.3 1116.8 324.1 1119.0 324.1 C1121.2 324.1 1123.4 324.2 1125.6 324.2 C1127.8 324.2 1130.0 324.2 1132.1 324.2 C1134.3 324.2 1136.5 324.0 1138.7 324.0 C1140.9 324.0 1143.1 324.2 1145.3 324.3 C1147.5 324.4 1149.6 324.4 1151.8 324.4 C1154.0 324.5 1156.2 324.6 1158.4 324.7 C1160.6 324.7 1162.8 324.8 1165.0 324.8 C1167.2 324.8 1169.3 324.8 1171.5 324.7 C1173.7 324.6 1175.9 324.3 1178.1 324.3 C1180.3 324.3 1182.5 324.6 1184.7 324.7 C1186.8 324.7 1189.0 324.7 1191.2 324.7 C1193.4 324.8 1195.6 325.0 1197.8 325.0 C1200.0 325.0 1202.2 324.8 1204.3 324.7 C1206.5 324.7 1208.7 324.7 1210.9 324.7 C1213.1 324.8 1215.3 325.1 1217.5 325.1 C1219.7 325.2 1221.8 325.0 1224.0 324.9 C1226.2 324.9 1228.4 325.1 1230.6 325.1 C1232.8 325.0 1235.0 324.7 1237.2 324.7 C1239.3 324.8 1241.5 325.2 1243.7 325.2 C1245.9 325.3 1248.1 325.1 1250.3 325.1 C1252.5 325.0 1254.7 325.0 1256.9 324.9 C1259.0 324.9 1261.2 324.9 1263.4 324.9 C1265.6 324.9 1267.8 324.9 1270.0 324.8 C1272.2 324.8 1274.4 324.6 1276.5 324.6 C1278.7 324.7 1280.9 325.1 1283.1 325.1 C1285.3 325.1 1287.5 324.6 1289.7 324.5 C1291.9 324.4 1294.0 324.5 1296.2 324.6 C1298.4 324.6 1300.6 324.6 1302.8 324.6 C1305.0 324.6 1307.2 324.6 1309.4 324.6 C1311.5 324.5 1313.7 324.6 1315.9 324.6 C1318.1 324.6 1320.3 324.7 1322.5 324.7 C1324.7 324.6 1326.9 324.1 1329.0 324.1 C1331.2 324.2 1333.4 325.0 1335.6 325.0 C1337.8 325.1 1340.0 324.6 1342.2 324.5 C1344.4 324.3 1346.6 324.3 1348.7 324.3 C1350.9 324.3 1353.1 324.5 1355.3 324.6 C1357.5 324.7 1359.7 324.7 1361.9 324.7 C1364.1 324.7 1366.2 324.5 1368.4 324.5 C1370.6 324.5 1372.8 324.6 1375.0 324.7 C1377.2 324.8 1379.4 325.0 1381.6 325.0 C1383.7 325.0 1385.9 324.8 1388.1 324.8 C1390.3 324.9 1392.5 325.3 1394.7 325.3 C1396.9 325.3 1399.1 324.9 1401.2 324.7 C1403.4 324.6 1405.6 324.3 1407.8 324.3 C1410.0 324.2 1412.2 324.4 1414.4 324.5 C1416.6 324.5 1418.8 324.5 1420.9 324.6 C1423.1 324.7 1425.3 325.0 1427.5 325.0 C1429.7 325.1 1431.9 324.9 1434.1 324.9 C1436.3 325.0 1438.4 325.1 1440.6 325.2 C1442.8 325.2 1445.0 325.1 1447.2 325.1 C1449.4 325.0 1451.6 324.8 1453.8 324.9 C1455.9 324.9 1458.1 325.2 1460.3 325.2 C1462.5 325.2 1464.7 324.9 1466.9 324.9 C1469.1 324.8 1471.3 325.1 1473.4 325.1 C1475.6 325.0 1477.8 324.7 1480.0 324.6 C1482.2 324.5 1484.4 324.5 1486.6 324.5 C1488.8 324.5 1490.9 324.6 1493.1 324.6 C1495.3 324.5 1497.5 324.5 1499.7 324.3 C1501.9 324.2 1504.1 323.9 1506.3 323.9 C1508.5 323.8 1510.6 324.1 1512.8 324.1 C1515.0 324.2 1517.2 324.2 1519.4 324.3 C1521.6 324.3 1523.8 324.3 1526.0 324.2 C1528.1 324.2 1530.3 324.1 1532.5 324.1 C1534.7 324.0 1536.9 324.0 1539.1 324.0 C1541.3 324.0 1543.5 324.2 1545.6 324.2 C1547.8 324.2 1550.0 324.2 1552.2 324.2 C1554.4 324.2 1541.3 324.3 1558.8 324.2 C1576.3 324.2 1639.7 323.9 1657.2 324.0 C1674.7 324.0 1661.6 324.3 1663.8 324.4 C1666.0 324.4 1668.2 324.1 1670.4 324.0 C1672.5 324.0 1674.7 324.1 1676.9 324.2 C1679.1 324.3 1681.3 324.4 1683.5 324.4 C1685.7 324.5 1687.9 324.6 1690.0 324.6 C1692.2 324.6 1694.4 324.6 1696.6 324.6 C1698.8 324.5 1701.0 324.3 1703.2 324.4 C1705.4 324.5 1707.5 324.9 1709.7 325.0 C1711.9 325.0 1714.1 324.7 1716.3 324.7 C1718.5 324.8 1720.7 325.2 1722.9 325.2 C1725.0 325.2 1727.2 325.0 1729.4 325.0 C1731.6 325.0 1733.8 325.1 1736.0 325.0 C1738.2 325.0 1740.4 324.9 1742.6 324.8 C1744.7 324.8 1746.9 324.9 1749.1 324.9 C1751.3 324.9 1753.5 325.0 1755.7 325.1 C1757.9 325.1 1760.1 325.2 1762.2 325.1 C1764.4 325.0 1766.6 324.7 1768.8 324.5 C1771.0 324.4 1773.2 324.2 1775.4 324.2 C1777.6 324.2 1779.7 324.5 1781.9 324.5 C1784.1 324.6 1786.3 324.5 1788.5 324.5 C1790.7 324.5 1792.9 324.6 1795.1 324.6 C1797.2 324.6 1799.4 324.6 1801.6 324.5 C1803.8 324.4 1806.0 324.1 1808.2 324.1 C1810.4 324.1 1812.6 324.4 1814.7 324.4 C1816.9 324.5 1819.1 324.4 1821.3 324.3 C1823.5 324.3 1825.7 324.4 1827.9 324.3 C1830.1 324.3 1832.3 324.1 1834.4 324.1 C1836.6 324.1 1838.8 324.3 1841.0 324.3 C1843.2 324.4 1845.4 324.4 1847.6 324.4 C1849.8 324.4 1851.9 324.5 1854.1 324.5 C1856.3 324.5 1858.5 324.4 1860.7 324.3 C1862.9 324.3 1865.1 324.2 1867.3 324.2 C1869.4 324.2 1871.6 324.3 1873.8 324.3 C1876.0 324.3 1878.2 324.3 1880.4 324.2 C1882.6 324.2 1884.8 324.2 1886.9 324.2 C1889.1 324.2 1891.3 324.1 1893.5 324.0 C1895.7 324.0 1897.9 324.1 1900.1 324.0 C1902.3 323.9 1904.4 323.7 1906.6 323.6 C1908.8 323.6 1911.0 323.6 1913.2 323.6 C1915.4 323.5 1917.6 323.4 1919.8 323.5 C1922.0 323.6 1924.1 324.0 1926.3 324.0 C1928.5 324.1 1930.7 323.8 1932.9 323.8 C1935.1 323.8 1937.3 323.9 1939.5 323.9 C1941.6 323.9 1943.8 323.6 1946.0 323.6 C1948.2 323.6 1950.4 323.9 1952.6 323.9 C1954.8 324.0 1957.0 323.9 1959.1 323.8 C1961.3 323.7 1963.5 323.4 1965.7 323.4 C1967.9 323.3 1970.1 323.4 1972.3 323.5 C1974.5 323.6 1976.6 323.9 1978.8 323.9 C1981.0 323.9 1983.2 323.5 1985.4 323.4 C1987.6 323.4 1989.8 323.4 1992.0 323.4 C1994.2 323.5 1996.3 323.6 1998.5 323.6 C2000.7 323.6 2002.9 323.3 2005.1 323.3 C2007.3 323.3 2009.5 323.4 2011.7 323.4 C2013.8 323.4 2016.0 323.2 2018.2 323.2 C2020.4 323.2 2022.6 323.3 2024.8 323.4 C2027.0 323.5 2029.2 323.7 2031.3 323.7 C2033.5 323.7 2035.7 323.5 2037.9 323.5 C2040.1 323.5 2042.3 323.6 2044.5 323.6 C2046.7 323.5 2048.8 323.5 2051.0 323.4 C2053.2 323.4 2055.4 323.3 2057.6 323.3 C2059.8 323.2 2062.0 323.1 2064.2 323.2 C2066.3 323.3 2068.5 323.5 2070.7 323.7 C2072.9 323.9 2075.1 324.2 2077.3 324.3 C2079.5 324.3 2081.7 323.8 2083.9 323.8 C2086.0 323.8 2088.2 324.1 2090.4 324.0 C2092.6 323.9 2095.4 323.4 2097.0 323.2 C2098.6 323.1 2099.6 323.2 2100.1 323.2" fill="none" stroke="#6d5e9c" stroke-width="1.45" stroke-linejoin="round"/>
<path d="M819.8 325.3 C820.4 325.3 821.9 325.2 823.7 325.2 C825.4 325.2 828.0 325.4 830.2 325.3 C832.4 325.3 834.6 324.8 836.8 324.8 C839.0 324.8 841.2 325.0 843.4 325.2 C845.5 325.3 847.7 325.6 849.9 325.6 C852.1 325.7 854.3 325.4 856.5 325.4 C858.7 325.3 860.9 325.4 863.0 325.4 C865.2 325.3 867.4 325.0 869.6 325.0 C871.8 325.0 874.0 325.2 876.2 325.3 C878.4 325.5 880.5 325.6 882.7 325.6 C884.9 325.6 887.1 325.2 889.3 325.2 C891.5 325.1 893.7 325.3 895.9 325.3 C898.0 325.3 900.2 325.2 902.4 325.2 C904.6 325.2 906.8 325.4 909.0 325.4 C911.2 325.3 913.4 325.0 915.5 324.9 C917.7 324.8 919.9 324.7 922.1 324.8 C924.3 324.9 926.5 325.5 928.7 325.5 C930.9 325.5 933.1 324.8 935.2 324.7 C937.4 324.7 939.6 325.1 941.8 325.1 C944.0 325.1 946.2 324.7 948.4 324.6 C950.6 324.5 952.7 324.7 954.9 324.7 C957.1 324.7 959.3 324.7 961.5 324.7 C963.7 324.6 965.9 324.4 968.1 324.4 C970.2 324.3 972.4 324.5 974.6 324.5 C976.8 324.5 979.0 324.4 981.2 324.4 C983.4 324.3 985.6 324.1 987.7 324.1 C989.9 324.0 992.1 324.1 994.3 324.2 C996.5 324.3 998.7 324.5 1000.9 324.5 C1003.1 324.4 1005.3 324.0 1007.4 324.0 C1009.6 324.0 1011.8 324.5 1014.0 324.6 C1016.2 324.7 1018.4 324.6 1020.6 324.6 C1022.8 324.6 1024.9 324.3 1027.1 324.4 C1029.3 324.4 1031.5 324.7 1033.7 324.7 C1035.9 324.8 1038.1 324.8 1040.3 324.9 C1042.4 324.9 1044.6 324.9 1046.8 324.9 C1049.0 325.0 1051.2 325.0 1053.4 325.0 C1055.6 325.0 1057.8 325.1 1059.9 325.1 C1062.1 325.1 1064.3 324.8 1066.5 324.8 C1068.7 324.7 1070.9 325.0 1073.1 324.9 C1075.3 324.8 1077.4 324.4 1079.6 324.3 C1081.8 324.2 1084.0 324.1 1086.2 324.1 C1088.4 324.2 1090.6 324.5 1092.8 324.5 C1095.0 324.6 1097.1 324.3 1099.3 324.4 C1101.5 324.5 1103.7 325.1 1105.9 325.2 C1108.1 325.2 1110.3 324.9 1112.5 324.9 C1114.6 324.9 1116.8 325.0 1119.0 325.0 C1121.2 325.0 1123.4 324.9 1125.6 324.9 C1127.8 325.0 1130.0 325.1 1132.1 325.1 C1134.3 325.1 1136.5 324.8 1138.7 324.7 C1140.9 324.7 1143.1 324.9 1145.3 324.9 C1147.5 324.8 1149.6 324.6 1151.8 324.5 C1154.0 324.4 1156.2 324.4 1158.4 324.4 C1160.6 324.5 1162.8 324.7 1165.0 324.7 C1167.2 324.7 1169.3 324.5 1171.5 324.5 C1173.7 324.5 1175.9 324.7 1178.1 324.7 C1180.3 324.8 1182.5 324.8 1184.7 324.7 C1186.8 324.6 1189.0 324.3 1191.2 324.2 C1193.4 324.1 1195.6 324.3 1197.8 324.4 C1200.0 324.4 1202.2 324.5 1204.3 324.5 C1206.5 324.5 1208.7 324.4 1210.9 324.4 C1213.1 324.4 1215.3 324.6 1217.5 324.6 C1219.7 324.6 1221.8 324.6 1224.0 324.5 C1226.2 324.5 1228.4 324.6 1230.6 324.5 C1232.8 324.5 1235.0 324.2 1237.2 324.1 C1239.3 324.1 1241.5 324.2 1243.7 324.2 C1245.9 324.2 1248.1 324.4 1250.3 324.4 C1252.5 324.4 1254.7 324.0 1256.9 324.0 C1259.0 324.0 1261.2 324.3 1263.4 324.4 C1265.6 324.4 1267.8 324.3 1270.0 324.3 C1272.2 324.3 1274.4 324.3 1276.5 324.3 C1278.7 324.3 1280.9 324.3 1283.1 324.3 C1285.3 324.2 1287.5 323.9 1289.7 323.9 C1291.9 323.9 1294.0 324.2 1296.2 324.3 C1298.4 324.4 1300.6 324.6 1302.8 324.6 C1305.0 324.6 1307.2 324.4 1309.4 324.3 C1311.5 324.3 1313.7 324.5 1315.9 324.5 C1318.1 324.6 1320.3 324.6 1322.5 324.7 C1324.7 324.7 1326.9 325.1 1329.0 325.0 C1331.2 325.0 1333.4 324.3 1335.6 324.3 C1337.8 324.2 1340.0 324.5 1342.2 324.5 C1344.4 324.6 1346.6 324.6 1348.7 324.7 C1350.9 324.7 1353.1 324.7 1355.3 324.7 C1357.5 324.7 1359.7 324.6 1361.9 324.7 C1364.1 324.8 1366.2 325.2 1368.4 325.2 C1370.6 325.2 1372.8 324.9 1375.0 324.9 C1377.2 324.9 1379.4 325.2 1381.6 325.3 C1383.7 325.3 1385.9 325.2 1388.1 325.1 C1390.3 325.1 1392.5 325.0 1394.7 324.9 C1396.9 324.9 1399.1 324.9 1401.2 325.0 C1403.4 325.1 1405.6 325.4 1407.8 325.4 C1410.0 325.4 1412.2 325.2 1414.4 325.1 C1416.6 325.1 1418.8 325.1 1420.9 325.1 C1423.1 325.2 1425.3 325.2 1427.5 325.2 C1429.7 325.2 1431.9 325.1 1434.1 325.1 C1436.3 325.1 1438.4 325.3 1440.6 325.4 C1442.8 325.5 1445.0 325.6 1447.2 325.6 C1449.4 325.6 1451.6 325.5 1453.8 325.4 C1455.9 325.3 1458.1 324.9 1460.3 325.0 C1462.5 325.0 1464.7 325.6 1466.9 325.7 C1469.1 325.7 1471.3 325.4 1473.4 325.3 C1475.6 325.1 1477.8 324.9 1480.0 324.8 C1482.2 324.8 1484.4 324.8 1486.6 324.9 C1488.8 324.9 1490.9 325.1 1493.1 325.2 C1495.3 325.2 1497.5 324.9 1499.7 324.9 C1501.9 324.9 1504.1 325.2 1506.3 325.2 C1508.5 325.3 1510.6 325.1 1512.8 325.1 C1515.0 325.1 1517.2 325.4 1519.4 325.5 C1521.6 325.5 1523.8 325.4 1526.0 325.3 C1528.1 325.3 1530.3 325.0 1532.5 325.0 C1534.7 324.9 1536.9 325.0 1539.1 325.1 C1541.3 325.1 1543.5 325.2 1545.6 325.3 C1547.8 325.3 1550.0 325.4 1552.2 325.4 C1554.4 325.4 1541.3 325.3 1558.8 325.3 C1576.3 325.3 1639.7 325.3 1657.2 325.4 C1674.7 325.4 1661.6 325.4 1663.8 325.4 C1666.0 325.5 1668.2 325.8 1670.4 325.8 C1672.5 325.8 1674.7 325.6 1676.9 325.5 C1679.1 325.4 1681.3 325.3 1683.5 325.2 C1685.7 325.2 1687.9 325.3 1690.0 325.3 C1692.2 325.3 1694.4 325.1 1696.6 325.0 C1698.8 324.9 1701.0 324.9 1703.2 324.9 C1705.4 324.8 1707.5 324.9 1709.7 324.8 C1711.9 324.7 1714.1 324.4 1716.3 324.4 C1718.5 324.4 1720.7 324.6 1722.9 324.6 C1725.0 324.6 1727.2 324.4 1729.4 324.3 C1731.6 324.3 1733.8 324.2 1736.0 324.2 C1738.2 324.2 1740.4 324.2 1742.6 324.2 C1744.7 324.2 1746.9 324.0 1749.1 324.0 C1751.3 324.0 1753.5 324.3 1755.7 324.4 C1757.9 324.5 1760.1 324.5 1762.2 324.6 C1764.4 324.6 1766.6 324.6 1768.8 324.6 C1771.0 324.6 1773.2 324.6 1775.4 324.6 C1777.6 324.6 1779.7 324.6 1781.9 324.6 C1784.1 324.7 1786.3 324.8 1788.5 324.9 C1790.7 325.0 1792.9 325.1 1795.1 325.2 C1797.2 325.2 1799.4 325.1 1801.6 325.1 C1803.8 325.1 1806.0 325.3 1808.2 325.3 C1810.4 325.3 1812.6 325.4 1814.7 325.3 C1816.9 325.1 1819.1 324.6 1821.3 324.5 C1823.5 324.4 1825.7 324.7 1827.9 324.7 C1830.1 324.7 1832.3 324.4 1834.4 324.3 C1836.6 324.3 1838.8 324.6 1841.0 324.5 C1843.2 324.5 1845.4 324.2 1847.6 324.2 C1849.8 324.1 1851.9 324.4 1854.1 324.4 C1856.3 324.4 1858.5 324.1 1860.7 324.1 C1862.9 324.1 1865.1 324.3 1867.3 324.4 C1869.4 324.5 1871.6 324.6 1873.8 324.6 C1876.0 324.5 1878.2 324.2 1880.4 324.2 C1882.6 324.1 1884.8 324.2 1886.9 324.3 C1889.1 324.3 1891.3 324.5 1893.5 324.6 C1895.7 324.6 1897.9 324.6 1900.1 324.6 C1902.3 324.7 1904.4 324.8 1906.6 324.8 C1908.8 324.9 1911.0 325.2 1913.2 325.2 C1915.4 325.1 1917.6 324.7 1919.8 324.7 C1922.0 324.6 1924.1 324.8 1926.3 324.8 C1928.5 324.9 1930.7 324.8 1932.9 324.8 C1935.1 324.8 1937.3 325.1 1939.5 325.1 C1941.6 325.2 1943.8 325.1 1946.0 325.1 C1948.2 325.1 1950.4 325.3 1952.6 325.3 C1954.8 325.3 1957.0 325.2 1959.1 325.2 C1961.3 325.3 1963.5 325.7 1965.7 325.7 C1967.9 325.7 1970.1 325.3 1972.3 325.2 C1974.5 325.1 1976.6 324.9 1978.8 324.9 C1981.0 325.0 1983.2 325.3 1985.4 325.4 C1987.6 325.5 1989.8 325.4 1992.0 325.3 C1994.2 325.3 1996.3 325.1 1998.5 325.0 C2000.7 325.0 2002.9 325.1 2005.1 325.1 C2007.3 325.1 2009.5 325.0 2011.7 325.0 C2013.8 325.0 2016.0 325.3 2018.2 325.3 C2020.4 325.3 2022.6 324.9 2024.8 324.9 C2027.0 324.9 2029.2 325.2 2031.3 325.2 C2033.5 325.2 2035.7 325.2 2037.9 325.1 C2040.1 325.0 2042.3 324.7 2044.5 324.7 C2046.7 324.6 2048.8 324.7 2051.0 324.7 C2053.2 324.6 2055.4 324.6 2057.6 324.4 C2059.8 324.3 2062.0 323.9 2064.2 323.9 C2066.3 323.8 2068.5 324.2 2070.7 324.3 C2072.9 324.3 2075.1 324.1 2077.3 324.1 C2079.5 324.1 2081.7 324.3 2083.9 324.4 C2086.0 324.5 2088.2 324.6 2090.4 324.7 C2092.6 324.7 2095.4 324.6 2097.0 324.5 C2098.6 324.5 2099.6 324.4 2100.1 324.4" fill="none" stroke="#4d853a" stroke-width="1.45" stroke-linejoin="round"/>
<path d="M819.8 321.6 C820.4 321.7 821.9 322.2 823.7 322.1 C825.4 322.1 828.0 321.2 830.2 321.2 C832.4 321.2 834.6 322.2 836.8 322.3 C839.0 322.4 841.2 321.8 843.4 321.9 C845.5 321.9 847.7 322.4 849.9 322.5 C852.1 322.6 854.3 322.5 856.5 322.5 C858.7 322.4 860.9 322.3 863.0 322.2 C865.2 322.1 867.4 322.0 869.6 321.8 C871.8 321.7 874.0 321.6 876.2 321.5 C878.4 321.4 880.5 321.2 882.7 321.2 C884.9 321.2 887.1 321.4 889.3 321.4 C891.5 321.5 893.7 321.6 895.9 321.6 C898.0 321.6 900.2 321.6 902.4 321.4 C904.6 321.3 906.8 320.9 909.0 320.8 C911.2 320.7 913.4 320.9 915.5 321.0 C917.7 321.1 919.9 321.3 922.1 321.4 C924.3 321.4 926.5 321.1 928.7 321.2 C930.9 321.2 933.1 321.5 935.2 321.5 C937.4 321.6 939.6 321.7 941.8 321.6 C944.0 321.6 946.2 321.4 948.4 321.4 C950.6 321.4 952.7 321.5 954.9 321.6 C957.1 321.6 959.3 321.8 961.5 321.7 C963.7 321.6 965.9 321.0 968.1 321.1 C970.2 321.1 972.4 321.9 974.6 321.9 C976.8 322.0 979.0 321.7 981.2 321.6 C983.4 321.4 985.6 320.9 987.7 321.1 C989.9 321.2 992.1 322.3 994.3 322.4 C996.5 322.5 998.7 321.9 1000.9 321.7 C1003.1 321.6 1005.3 321.5 1007.4 321.5 C1009.6 321.5 1011.8 321.9 1014.0 321.7 C1016.2 321.6 1018.4 320.7 1020.6 320.7 C1022.8 320.7 1024.9 321.6 1027.1 321.6 C1029.3 321.6 1031.5 320.9 1033.7 320.7 C1035.9 320.6 1038.1 320.5 1040.3 320.5 C1042.4 320.6 1044.6 320.8 1046.8 321.0 C1049.0 321.1 1051.2 321.5 1053.4 321.5 C1055.6 321.6 1057.8 321.3 1059.9 321.3 C1062.1 321.3 1064.3 321.5 1066.5 321.5 C1068.7 321.5 1070.9 321.3 1073.1 321.3 C1075.3 321.3 1077.4 321.5 1079.6 321.5 C1081.8 321.5 1084.0 321.5 1086.2 321.4 C1088.4 321.4 1090.6 321.0 1092.8 321.0 C1095.0 321.1 1097.1 321.5 1099.3 321.5 C1101.5 321.5 1103.7 321.2 1105.9 321.1 C1108.1 321.1 1110.3 321.3 1112.5 321.4 C1114.6 321.4 1116.8 321.5 1119.0 321.4 C1121.2 321.3 1123.4 320.7 1125.6 320.6 C1127.8 320.5 1130.0 320.7 1132.1 320.9 C1134.3 321.0 1136.5 321.4 1138.7 321.6 C1140.9 321.7 1143.1 321.4 1145.3 321.5 C1147.5 321.6 1149.6 321.9 1151.8 322.0 C1154.0 322.0 1156.2 321.9 1158.4 321.8 C1160.6 321.8 1162.8 321.6 1165.0 321.7 C1167.2 321.7 1169.3 322.1 1171.5 322.1 C1173.7 322.1 1175.9 321.8 1178.1 321.8 C1180.3 321.7 1182.5 321.9 1184.7 321.8 C1186.8 321.8 1189.0 321.4 1191.2 321.4 C1193.4 321.4 1195.6 321.8 1197.8 321.8 C1200.0 321.8 1202.2 321.3 1204.3 321.2 C1206.5 321.2 1208.7 321.4 1210.9 321.5 C1213.1 321.5 1215.3 321.4 1217.5 321.4 C1219.7 321.5 1221.8 321.7 1224.0 321.7 C1226.2 321.7 1228.4 321.6 1230.6 321.6 C1232.8 321.6 1235.0 321.7 1237.2 321.7 C1239.3 321.7 1241.5 321.5 1243.7 321.5 C1245.9 321.5 1248.1 321.7 1250.3 321.7 C1252.5 321.8 1254.7 321.9 1256.9 321.9 C1259.0 321.9 1261.2 321.9 1263.4 321.9 C1265.6 321.8 1267.8 321.7 1270.0 321.6 C1272.2 321.6 1274.4 321.7 1276.5 321.7 C1278.7 321.6 1280.9 321.4 1283.1 321.5 C1285.3 321.5 1287.5 321.9 1289.7 322.1 C1291.9 322.3 1294.0 322.5 1296.2 322.6 C1298.4 322.8 1300.6 322.8 1302.8 322.8 C1305.0 322.7 1307.2 322.4 1309.4 322.4 C1311.5 322.3 1313.7 322.6 1315.9 322.7 C1318.1 322.8 1320.3 323.0 1322.5 323.1 C1324.7 323.1 1326.9 322.9 1329.0 322.9 C1331.2 323.0 1333.4 323.3 1335.6 323.3 C1337.8 323.4 1340.0 323.2 1342.2 323.3 C1344.4 323.3 1346.6 323.4 1348.7 323.4 C1350.9 323.5 1353.1 323.6 1355.3 323.5 C1357.5 323.4 1359.7 323.0 1361.9 323.0 C1364.1 323.0 1366.2 323.4 1368.4 323.5 C1370.6 323.6 1372.8 323.6 1375.0 323.5 C1377.2 323.4 1379.4 323.2 1381.6 323.1 C1383.7 323.0 1385.9 322.9 1388.1 322.8 C1390.3 322.8 1392.5 322.8 1394.7 322.8 C1396.9 322.7 1399.1 322.5 1401.2 322.4 C1403.4 322.4 1405.6 322.5 1407.8 322.5 C1410.0 322.5 1412.2 322.3 1414.4 322.2 C1416.6 322.2 1418.8 322.2 1420.9 322.1 C1423.1 322.0 1425.3 321.7 1427.5 321.6 C1429.7 321.5 1431.9 321.6 1434.1 321.6 C1436.3 321.6 1438.4 321.8 1440.6 321.7 C1442.8 321.7 1445.0 321.1 1447.2 321.0 C1449.4 321.0 1451.6 321.3 1453.8 321.4 C1455.9 321.5 1458.1 321.4 1460.3 321.4 C1462.5 321.4 1464.7 321.2 1466.9 321.2 C1469.1 321.2 1471.3 321.4 1473.4 321.4 C1475.6 321.5 1477.8 321.4 1480.0 321.3 C1482.2 321.3 1484.4 321.1 1486.6 321.1 C1488.8 321.1 1490.9 321.6 1493.1 321.6 C1495.3 321.5 1497.5 320.7 1499.7 320.7 C1501.9 320.6 1504.1 321.0 1506.3 321.0 C1508.5 321.0 1510.6 320.7 1512.8 320.6 C1515.0 320.6 1517.2 320.6 1519.4 320.6 C1521.6 320.6 1523.8 320.6 1526.0 320.7 C1528.1 320.7 1530.3 321.0 1532.5 320.9 C1534.7 320.8 1536.9 320.1 1539.1 320.0 C1541.3 319.9 1543.5 320.3 1545.6 320.5 C1547.8 320.7 1550.0 321.2 1552.2 321.3 C1554.4 321.3 1541.3 321.0 1558.8 320.9 C1576.3 320.8 1639.7 320.8 1657.2 320.8 C1674.7 320.9 1661.6 321.2 1663.8 321.3 C1666.0 321.4 1668.2 321.6 1670.4 321.6 C1672.5 321.5 1674.7 321.4 1676.9 321.2 C1679.1 321.0 1681.3 320.6 1683.5 320.4 C1685.7 320.3 1687.9 320.2 1690.0 320.2 C1692.2 320.3 1694.4 320.4 1696.6 320.5 C1698.8 320.5 1701.0 320.4 1703.2 320.3 C1705.4 320.2 1707.5 319.9 1709.7 320.0 C1711.9 320.0 1714.1 320.7 1716.3 320.8 C1718.5 320.9 1720.7 320.5 1722.9 320.5 C1725.0 320.4 1727.2 320.4 1729.4 320.4 C1731.6 320.3 1733.8 320.2 1736.0 320.1 C1738.2 320.1 1740.4 320.1 1742.6 320.2 C1744.7 320.3 1746.9 320.5 1749.1 320.6 C1751.3 320.7 1753.5 320.8 1755.7 321.0 C1757.9 321.1 1760.1 321.4 1762.2 321.5 C1764.4 321.5 1766.6 321.4 1768.8 321.2 C1771.0 321.0 1773.2 320.4 1775.4 320.4 C1777.6 320.4 1779.7 321.0 1781.9 321.2 C1784.1 321.4 1786.3 321.6 1788.5 321.5 C1790.7 321.5 1792.9 321.0 1795.1 320.9 C1797.2 320.8 1799.4 321.0 1801.6 321.0 C1803.8 321.1 1806.0 321.0 1808.2 321.1 C1810.4 321.1 1812.6 321.7 1814.7 321.6 C1816.9 321.5 1819.1 320.6 1821.3 320.4 C1823.5 320.2 1825.7 320.6 1827.9 320.7 C1830.1 320.8 1832.3 320.9 1834.4 320.9 C1836.6 321.0 1838.8 321.0 1841.0 321.0 C1843.2 321.0 1845.4 320.9 1847.6 320.9 C1849.8 320.9 1851.9 321.0 1854.1 321.0 C1856.3 321.1 1858.5 321.1 1860.7 321.2 C1862.9 321.3 1865.1 321.6 1867.3 321.5 C1869.4 321.5 1871.6 321.1 1873.8 321.0 C1876.0 321.0 1878.2 321.3 1880.4 321.3 C1882.6 321.4 1884.8 321.1 1886.9 321.3 C1889.1 321.4 1891.3 322.0 1893.5 322.2 C1895.7 322.4 1897.9 322.5 1900.1 322.5 C1902.3 322.4 1904.4 321.8 1906.6 321.8 C1908.8 321.8 1911.0 322.4 1913.2 322.4 C1915.4 322.4 1917.6 321.9 1919.8 321.8 C1922.0 321.8 1924.1 321.9 1926.3 321.9 C1928.5 321.9 1930.7 321.8 1932.9 321.7 C1935.1 321.7 1937.3 321.8 1939.5 321.7 C1941.6 321.6 1943.8 321.0 1946.0 321.1 C1948.2 321.3 1950.4 322.5 1952.6 322.6 C1954.8 322.7 1957.0 322.2 1959.1 322.0 C1961.3 321.8 1963.5 321.4 1965.7 321.4 C1967.9 321.3 1970.1 321.6 1972.3 321.7 C1974.5 321.7 1976.6 321.7 1978.8 321.6 C1981.0 321.5 1983.2 321.3 1985.4 321.2 C1987.6 321.1 1989.8 320.9 1992.0 321.0 C1994.2 321.1 1996.3 321.7 1998.5 321.8 C2000.7 321.9 2002.9 321.7 2005.1 321.6 C2007.3 321.6 2009.5 321.5 2011.7 321.4 C2013.8 321.4 2016.0 321.2 2018.2 321.1 C2020.4 321.1 2022.6 321.3 2024.8 321.3 C2027.0 321.3 2029.2 321.2 2031.3 321.2 C2033.5 321.2 2035.7 321.3 2037.9 321.3 C2040.1 321.3 2042.3 321.1 2044.5 321.1 C2046.7 321.1 2048.8 321.5 2051.0 321.5 C2053.2 321.5 2055.4 321.2 2057.6 321.1 C2059.8 320.9 2062.0 320.9 2064.2 320.8 C2066.3 320.8 2068.5 320.8 2070.7 320.8 C2072.9 320.8 2075.1 320.9 2077.3 320.7 C2079.5 320.5 2081.7 319.8 2083.9 319.7 C2086.0 319.6 2088.2 320.1 2090.4 320.2 C2092.6 320.3 2095.4 320.4 2097.0 320.4 C2098.6 320.3 2099.6 320.0 2100.1 319.9" fill="none" stroke="#f5df55" stroke-width="1.45" stroke-linejoin="round"/>
</g>
<rect x="746.5" y="845.5" width="1720" height="528" rx="2.5" fill="#1b1c20" stroke="#2c2d33" stroke-width="1"/>
<text x="757.0" y="873.0" font-size="18.8" fill="#ccccdc" textLength="378.0" lengthAdjust="spacingAndGlyphs" stroke="#ccccdc" stroke-width="0.5">PEM - rtme-ptx10k16-01.englab.juniper.net</text>
<line x1="826.4" y1="909.5" x2="2097.3" y2="909.5" stroke="rgba(204,204,220,0.09)" stroke-width="1"/>
<text x="819.0" y="914.0" font-size="16.2" fill="#ccccdc" text-anchor="end" textLength="59.4" lengthAdjust="spacingAndGlyphs" stroke="#ccccdc" stroke-width="0.22">1.40 kW</text>
<line x1="826.4" y1="970.5" x2="2097.3" y2="970.5" stroke="rgba(204,204,220,0.09)" stroke-width="1"/>
<text x="819.0" y="975.0" font-size="16.2" fill="#ccccdc" text-anchor="end" textLength="59.4" lengthAdjust="spacingAndGlyphs" stroke="#ccccdc" stroke-width="0.22">1.20 kW</text>
<line x1="826.4" y1="1031.5" x2="2097.3" y2="1031.5" stroke="rgba(204,204,220,0.09)" stroke-width="1"/>
<text x="819.0" y="1036.0" font-size="16.2" fill="#ccccdc" text-anchor="end" textLength="36.9" lengthAdjust="spacingAndGlyphs" stroke="#ccccdc" stroke-width="0.22">1 kW</text>
<line x1="826.4" y1="1092.5" x2="2097.3" y2="1092.5" stroke="rgba(204,204,220,0.09)" stroke-width="1"/>
<text x="819.0" y="1097.0" font-size="16.2" fill="#ccccdc" text-anchor="end" textLength="46.8" lengthAdjust="spacingAndGlyphs" stroke="#ccccdc" stroke-width="0.22">800 W</text>
<line x1="826.4" y1="1153.5" x2="2097.3" y2="1153.5" stroke="rgba(204,204,220,0.09)" stroke-width="1"/>
<text x="819.0" y="1158.0" font-size="16.2" fill="#ccccdc" text-anchor="end" textLength="46.8" lengthAdjust="spacingAndGlyphs" stroke="#ccccdc" stroke-width="0.22">600 W</text>
<line x1="826.4" y1="1214.5" x2="2097.3" y2="1214.5" stroke="rgba(204,204,220,0.09)" stroke-width="1"/>
<text x="819.0" y="1219.0" font-size="16.2" fill="#ccccdc" text-anchor="end" textLength="46.8" lengthAdjust="spacingAndGlyphs" stroke="#ccccdc" stroke-width="0.22">400 W</text>
<line x1="826.4" y1="1275.5" x2="2097.3" y2="1275.5" stroke="rgba(204,204,220,0.09)" stroke-width="1"/>
<text x="819.0" y="1280.0" font-size="16.2" fill="#ccccdc" text-anchor="end" textLength="46.8" lengthAdjust="spacingAndGlyphs" stroke="#ccccdc" stroke-width="0.22">200 W</text>
<line x1="826.4" y1="1336.5" x2="2097.3" y2="1336.5" stroke="rgba(204,204,220,0.09)" stroke-width="1"/>
<text x="819.0" y="1341.0" font-size="16.2" fill="#ccccdc" text-anchor="end" textLength="28.8" lengthAdjust="spacingAndGlyphs" stroke="#ccccdc" stroke-width="0.22">0 W</text>
<line x1="846.5" y1="909" x2="846.5" y2="1340.0" stroke="rgba(204,204,220,0.09)" stroke-width="1"/>
<text x="846.9" y="1359.2" font-size="16.2" fill="#ccccdc" text-anchor="middle" textLength="41.5" lengthAdjust="spacingAndGlyphs" stroke="#ccccdc" stroke-width="0.22">19:50</text>
<line x1="911.5" y1="909" x2="911.5" y2="1340.0" stroke="rgba(204,204,220,0.09)" stroke-width="1"/>
<text x="912.0" y="1359.2" font-size="16.2" fill="#ccccdc" text-anchor="middle" textLength="41.5" lengthAdjust="spacingAndGlyphs" stroke="#ccccdc" stroke-width="0.22">20:00</text>
<line x1="977.5" y1="909" x2="977.5" y2="1340.0" stroke="rgba(204,204,220,0.09)" stroke-width="1"/>
<text x="977.0" y="1359.2" font-size="16.2" fill="#ccccdc" text-anchor="middle" textLength="41.5" lengthAdjust="spacingAndGlyphs" stroke="#ccccdc" stroke-width="0.22">20:10</text>
<line x1="1042.5" y1="909" x2="1042.5" y2="1340.0" stroke="rgba(204,204,220,0.09)" stroke-width="1"/>
<text x="1042.1" y="1359.2" font-size="16.2" fill="#ccccdc" text-anchor="middle" textLength="41.5" lengthAdjust="spacingAndGlyphs" stroke="#ccccdc" stroke-width="0.22">20:20</text>
<line x1="1107.5" y1="909" x2="1107.5" y2="1340.0" stroke="rgba(204,204,220,0.09)" stroke-width="1"/>
<text x="1107.1" y="1359.2" font-size="16.2" fill="#ccccdc" text-anchor="middle" textLength="41.5" lengthAdjust="spacingAndGlyphs" stroke="#ccccdc" stroke-width="0.22">20:30</text>
<line x1="1172.5" y1="909" x2="1172.5" y2="1340.0" stroke="rgba(204,204,220,0.09)" stroke-width="1"/>
<text x="1172.2" y="1359.2" font-size="16.2" fill="#ccccdc" text-anchor="middle" textLength="41.5" lengthAdjust="spacingAndGlyphs" stroke="#ccccdc" stroke-width="0.22">20:40</text>
<line x1="1237.5" y1="909" x2="1237.5" y2="1340.0" stroke="rgba(204,204,220,0.09)" stroke-width="1"/>
<text x="1237.2" y="1359.2" font-size="16.2" fill="#ccccdc" text-anchor="middle" textLength="41.5" lengthAdjust="spacingAndGlyphs" stroke="#ccccdc" stroke-width="0.22">20:50</text>
<line x1="1302.5" y1="909" x2="1302.5" y2="1340.0" stroke="rgba(204,204,220,0.09)" stroke-width="1"/>
<text x="1302.3" y="1359.2" font-size="16.2" fill="#ccccdc" text-anchor="middle" textLength="41.5" lengthAdjust="spacingAndGlyphs" stroke="#ccccdc" stroke-width="0.22">21:00</text>
<line x1="1367.5" y1="909" x2="1367.5" y2="1340.0" stroke="rgba(204,204,220,0.09)" stroke-width="1"/>
<text x="1367.3" y="1359.2" font-size="16.2" fill="#ccccdc" text-anchor="middle" textLength="41.5" lengthAdjust="spacingAndGlyphs" stroke="#ccccdc" stroke-width="0.22">21:10</text>
<line x1="1432.5" y1="909" x2="1432.5" y2="1340.0" stroke="rgba(204,204,220,0.09)" stroke-width="1"/>
<text x="1432.4" y="1359.2" font-size="16.2" fill="#ccccdc" text-anchor="middle" textLength="41.5" lengthAdjust="spacingAndGlyphs" stroke="#ccccdc" stroke-width="0.22">21:20</text>
<line x1="1497.5" y1="909" x2="1497.5" y2="1340.0" stroke="rgba(204,204,220,0.09)" stroke-width="1"/>
<text x="1497.5" y="1359.2" font-size="16.2" fill="#ccccdc" text-anchor="middle" textLength="41.5" lengthAdjust="spacingAndGlyphs" stroke="#ccccdc" stroke-width="0.22">21:30</text>
<line x1="1562.5" y1="909" x2="1562.5" y2="1340.0" stroke="rgba(204,204,220,0.09)" stroke-width="1"/>
<text x="1562.5" y="1359.2" font-size="16.2" fill="#ccccdc" text-anchor="middle" textLength="41.5" lengthAdjust="spacingAndGlyphs" stroke="#ccccdc" stroke-width="0.22">21:40</text>
<line x1="1627.5" y1="909" x2="1627.5" y2="1340.0" stroke="rgba(204,204,220,0.09)" stroke-width="1"/>
<text x="1627.6" y="1359.2" font-size="16.2" fill="#ccccdc" text-anchor="middle" textLength="41.5" lengthAdjust="spacingAndGlyphs" stroke="#ccccdc" stroke-width="0.22">21:50</text>
<line x1="1692.5" y1="909" x2="1692.5" y2="1340.0" stroke="rgba(204,204,220,0.09)" stroke-width="1"/>
<text x="1692.6" y="1359.2" font-size="16.2" fill="#ccccdc" text-anchor="middle" textLength="41.5" lengthAdjust="spacingAndGlyphs" stroke="#ccccdc" stroke-width="0.22">22:00</text>
<line x1="1757.5" y1="909" x2="1757.5" y2="1340.0" stroke="rgba(204,204,220,0.09)" stroke-width="1"/>
<text x="1757.7" y="1359.2" font-size="16.2" fill="#ccccdc" text-anchor="middle" textLength="41.5" lengthAdjust="spacingAndGlyphs" stroke="#ccccdc" stroke-width="0.22">22:10</text>
<line x1="1822.5" y1="909" x2="1822.5" y2="1340.0" stroke="rgba(204,204,220,0.09)" stroke-width="1"/>
<text x="1822.7" y="1359.2" font-size="16.2" fill="#ccccdc" text-anchor="middle" textLength="41.5" lengthAdjust="spacingAndGlyphs" stroke="#ccccdc" stroke-width="0.22">22:20</text>
<line x1="1887.5" y1="909" x2="1887.5" y2="1340.0" stroke="rgba(204,204,220,0.09)" stroke-width="1"/>
<text x="1887.8" y="1359.2" font-size="16.2" fill="#ccccdc" text-anchor="middle" textLength="41.5" lengthAdjust="spacingAndGlyphs" stroke="#ccccdc" stroke-width="0.22">22:30</text>
<line x1="1952.5" y1="909" x2="1952.5" y2="1340.0" stroke="rgba(204,204,220,0.09)" stroke-width="1"/>
<text x="1952.9" y="1359.2" font-size="16.2" fill="#ccccdc" text-anchor="middle" textLength="41.5" lengthAdjust="spacingAndGlyphs" stroke="#ccccdc" stroke-width="0.22">22:40</text>
<line x1="2017.5" y1="909" x2="2017.5" y2="1340.0" stroke="rgba(204,204,220,0.09)" stroke-width="1"/>
<text x="2017.9" y="1359.2" font-size="16.2" fill="#ccccdc" text-anchor="middle" textLength="41.5" lengthAdjust="spacingAndGlyphs" stroke="#ccccdc" stroke-width="0.22">22:50</text>
<line x1="2082.5" y1="909" x2="2082.5" y2="1340.0" stroke="rgba(204,204,220,0.09)" stroke-width="1"/>
<text x="2083.0" y="1359.2" font-size="16.2" fill="#ccccdc" text-anchor="middle" textLength="41.5" lengthAdjust="spacingAndGlyphs" stroke="#ccccdc" stroke-width="0.22">23:00</text>
<clipPath id="pc846"><rect x="829.4" y="909" width="1267.9" height="427.8"/></clipPath>
<g clip-path="url(#pc846)">
<path d="M829.4 960.4 C829.9 960.3 831.0 959.7 832.6 959.6 C834.2 959.6 836.9 960.5 839.1 959.9 C841.3 959.4 843.4 957.1 845.6 956.5 C847.8 956.0 849.9 956.0 852.1 956.6 C854.3 957.2 856.4 959.7 858.6 960.3 C860.8 960.8 862.9 960.2 865.1 959.9 C867.3 959.6 869.5 958.5 871.6 958.7 C873.8 958.9 876.0 961.1 878.1 961.3 C880.3 961.5 882.5 960.2 884.6 959.9 C886.8 959.6 889.0 959.6 891.1 959.7 C893.3 959.8 895.5 960.4 897.6 960.6 C899.8 960.8 902.0 961.1 904.1 960.8 C906.3 960.4 908.5 959.1 910.7 958.6 C912.8 958.2 915.0 958.0 917.2 958.0 C919.3 958.1 921.5 958.4 923.7 958.7 C925.8 958.9 928.0 959.4 930.2 959.6 C932.3 959.8 934.5 959.9 936.7 959.9 C938.8 959.9 941.0 959.7 943.2 959.6 C945.4 959.6 947.5 960.2 949.7 959.5 C951.9 958.9 954.0 955.9 956.2 955.9 C958.4 956.0 960.5 959.0 962.7 959.7 C964.9 960.3 967.0 960.6 969.2 959.8 C971.4 959.1 973.5 956.0 975.7 955.1 C977.9 954.1 980.0 953.6 982.2 954.3 C984.4 955.1 986.6 958.4 988.7 959.4 C990.9 960.5 993.1 960.4 995.2 960.5 C997.4 960.7 999.6 960.5 1001.7 960.3 C1003.9 960.2 1006.1 959.7 1008.2 959.7 C1010.4 959.7 1012.6 960.2 1014.7 960.3 C1016.9 960.4 1019.1 960.1 1021.3 960.2 C1023.4 960.2 1025.6 961.3 1027.8 960.5 C1029.9 959.7 1032.1 955.4 1034.3 955.3 C1036.4 955.1 1038.6 959.0 1040.8 959.7 C1042.9 960.4 1045.1 959.3 1047.3 959.3 C1049.4 959.4 1051.6 960.0 1053.8 959.9 C1055.9 959.8 1058.1 958.7 1060.3 958.7 C1062.5 958.7 1064.6 961.1 1066.8 960.0 C1069.0 958.9 1071.1 952.3 1073.3 952.2 C1075.5 952.0 1077.6 958.1 1079.8 959.3 C1082.0 960.6 1084.1 959.5 1086.3 959.6 C1088.5 959.8 1090.6 959.9 1092.8 960.2 C1095.0 960.5 1097.1 961.5 1099.3 961.5 C1101.5 961.4 1103.7 960.3 1105.8 960.0 C1108.0 959.8 1110.2 960.0 1112.3 959.8 C1114.5 959.6 1116.7 958.6 1118.8 958.8 C1121.0 958.9 1123.2 960.8 1125.3 960.8 C1127.5 960.8 1129.7 959.4 1131.8 958.8 C1134.0 958.2 1136.2 957.5 1138.4 957.1 C1140.5 956.8 1142.7 955.8 1144.9 956.6 C1147.0 957.3 1149.2 960.9 1151.4 961.5 C1153.5 962.0 1155.7 960.1 1157.9 959.9 C1160.0 959.6 1162.2 960.2 1164.4 960.1 C1166.5 960.1 1168.7 959.6 1170.9 959.5 C1173.0 959.5 1175.2 959.7 1177.4 959.9 C1179.6 960.1 1181.7 960.7 1183.9 960.6 C1186.1 960.5 1188.2 959.5 1190.4 959.4 C1192.6 959.2 1194.7 959.5 1196.9 959.5 C1199.1 959.5 1201.2 959.6 1203.4 959.6 C1205.6 959.5 1207.7 959.6 1209.9 959.3 C1212.1 959.0 1214.2 957.9 1216.4 957.8 C1218.6 957.6 1220.8 958.2 1222.9 958.5 C1225.1 958.7 1227.3 959.1 1229.4 959.3 C1231.6 959.4 1233.8 959.6 1235.9 959.3 C1238.1 959.0 1240.3 957.6 1242.4 957.6 C1244.6 957.7 1246.8 959.1 1248.9 959.5 C1251.1 959.9 1253.3 959.8 1255.5 959.9 C1257.6 960.0 1259.8 960.2 1262.0 960.2 C1264.1 960.2 1266.3 960.0 1268.5 959.9 C1270.6 959.9 1272.8 959.9 1275.0 959.9 C1277.1 960.0 1279.3 960.1 1281.5 960.1 C1283.6 960.2 1285.8 960.6 1288.0 960.4 C1290.1 960.1 1292.3 958.7 1294.5 958.6 C1296.7 958.5 1298.8 959.5 1301.0 959.8 C1303.2 960.1 1305.3 960.1 1307.5 960.3 C1309.7 960.5 1311.8 960.7 1314.0 960.7 C1316.2 960.7 1318.3 961.4 1320.5 960.4 C1322.7 959.4 1324.8 955.7 1327.0 954.8 C1329.2 953.9 1331.4 953.9 1333.5 954.8 C1335.7 955.6 1337.9 959.2 1340.0 960.1 C1342.2 960.9 1344.4 959.9 1346.5 959.9 C1348.7 959.9 1350.9 960.0 1353.0 960.1 C1355.2 960.2 1357.4 960.8 1359.5 960.6 C1361.7 960.4 1363.9 959.3 1366.0 959.1 C1368.2 959.0 1370.4 959.8 1372.6 959.7 C1374.7 959.6 1376.9 958.3 1379.1 958.4 C1381.2 958.5 1383.4 960.1 1385.6 960.4 C1387.7 960.7 1389.9 960.2 1392.1 960.0 C1394.2 959.9 1396.4 959.4 1398.6 959.4 C1400.7 959.4 1402.9 959.9 1405.1 960.1 C1407.2 960.3 1409.4 960.7 1411.6 960.8 C1413.8 960.9 1415.9 960.7 1418.1 960.5 C1420.3 960.4 1422.4 960.0 1424.6 959.9 C1426.8 959.7 1428.9 959.7 1431.1 959.7 C1433.3 959.7 1435.4 960.1 1437.6 960.0 C1439.8 959.9 1441.9 959.4 1444.1 959.3 C1446.3 959.2 1448.5 959.3 1450.6 959.3 C1452.8 959.4 1455.0 959.6 1457.1 959.7 C1459.3 959.8 1461.5 959.9 1463.6 959.9 C1465.8 960.0 1468.0 960.1 1470.1 960.1 C1472.3 960.0 1474.5 960.1 1476.6 959.6 C1478.8 959.1 1481.0 957.3 1483.1 956.9 C1485.3 956.6 1487.5 957.4 1489.7 957.5 C1491.8 957.5 1494.0 957.2 1496.2 957.2 C1498.3 957.3 1500.5 957.5 1502.7 957.7 C1504.8 957.9 1507.0 957.9 1509.2 958.4 C1511.3 958.8 1513.5 960.4 1515.7 960.5 C1517.8 960.7 1520.0 959.6 1522.2 959.5 C1524.3 959.3 1526.5 959.7 1528.7 959.7 C1530.9 959.6 1533.0 958.9 1535.2 959.0 C1537.4 959.0 1539.5 959.8 1541.7 959.9 C1543.9 960.0 1546.0 959.7 1548.2 959.4 C1550.4 959.1 1552.5 957.9 1554.7 957.9 C1556.9 957.9 1543.9 958.9 1561.2 959.3 C1578.6 959.7 1641.5 960.2 1658.8 960.3 C1676.1 960.4 1663.1 960.1 1665.3 960.0 C1667.5 960.0 1669.6 959.8 1671.8 959.9 C1674.0 959.9 1676.1 960.6 1678.3 960.5 C1680.5 960.5 1682.7 959.9 1684.8 959.6 C1687.0 959.4 1689.2 959.2 1691.3 959.3 C1693.5 959.4 1695.7 960.3 1697.8 960.2 C1700.0 960.1 1702.2 958.8 1704.3 958.7 C1706.5 958.7 1708.7 959.9 1710.8 960.1 C1713.0 960.3 1715.2 960.1 1717.3 960.1 C1719.5 960.1 1721.7 960.0 1723.9 960.1 C1726.0 960.1 1728.2 960.4 1730.4 960.4 C1732.5 960.3 1734.7 960.3 1736.9 959.7 C1739.0 959.1 1741.2 957.4 1743.4 956.8 C1745.5 956.1 1747.7 955.8 1749.9 955.8 C1752.0 955.7 1754.2 955.8 1756.4 956.4 C1758.6 957.1 1760.7 959.0 1762.9 959.6 C1765.1 960.2 1767.2 959.9 1769.4 960.1 C1771.6 960.3 1773.7 961.7 1775.9 960.8 C1778.1 959.9 1780.2 955.7 1782.4 954.8 C1784.6 953.9 1786.7 954.5 1788.9 955.3 C1791.1 956.0 1793.2 958.6 1795.4 959.4 C1797.6 960.1 1799.8 960.0 1801.9 960.0 C1804.1 959.9 1806.3 959.7 1808.4 958.9 C1810.6 958.1 1812.8 955.8 1814.9 955.1 C1817.1 954.5 1819.3 954.3 1821.4 955.1 C1823.6 955.8 1825.8 959.0 1827.9 959.8 C1830.1 960.6 1832.3 959.9 1834.5 959.8 C1836.6 959.8 1838.8 959.6 1841.0 959.5 C1843.1 959.5 1845.3 959.2 1847.5 959.4 C1849.6 959.5 1851.8 961.0 1854.0 960.4 C1856.1 959.7 1858.3 956.6 1860.5 955.6 C1862.6 954.6 1864.8 954.2 1867.0 954.3 C1869.1 954.4 1871.3 955.0 1873.5 955.9 C1875.7 956.9 1877.8 959.4 1880.0 960.1 C1882.2 960.8 1884.3 960.2 1886.5 960.4 C1888.7 960.5 1890.8 961.0 1893.0 960.8 C1895.2 960.6 1897.3 959.4 1899.5 959.2 C1901.7 959.1 1903.8 959.8 1906.0 959.9 C1908.2 960.0 1910.3 959.9 1912.5 959.8 C1914.7 959.6 1916.9 959.0 1919.0 958.8 C1921.2 958.6 1923.4 958.1 1925.5 958.4 C1927.7 958.7 1929.9 960.3 1932.0 960.5 C1934.2 960.6 1936.4 959.4 1938.5 959.3 C1940.7 959.1 1942.9 959.5 1945.0 959.6 C1947.2 959.6 1949.4 959.7 1951.6 959.7 C1953.7 959.7 1955.9 959.6 1958.1 959.6 C1960.2 959.7 1962.4 960.1 1964.6 959.9 C1966.7 959.8 1968.9 959.0 1971.1 959.0 C1973.2 958.9 1975.4 959.4 1977.6 959.6 C1979.7 959.7 1981.9 959.8 1984.1 959.7 C1986.2 959.7 1988.4 959.2 1990.6 959.2 C1992.8 959.1 1994.9 959.3 1997.1 959.4 C1999.3 959.5 2001.4 959.6 2003.6 959.7 C2005.8 959.7 2007.9 960.8 2010.1 959.7 C2012.3 958.6 2014.4 954.0 2016.6 953.0 C2018.8 952.1 2020.9 952.6 2023.1 953.8 C2025.3 955.0 2027.4 958.9 2029.6 960.0 C2031.8 961.1 2034.0 960.4 2036.1 960.5 C2038.3 960.5 2040.5 960.1 2042.6 960.1 C2044.8 960.2 2047.0 961.0 2049.1 960.6 C2051.3 960.2 2053.5 958.2 2055.6 957.7 C2057.8 957.2 2060.0 957.4 2062.1 957.6 C2064.3 957.8 2066.5 959.0 2068.7 959.0 C2070.8 959.0 2073.0 958.0 2075.2 957.7 C2077.3 957.4 2079.5 957.4 2081.7 957.3 C2083.8 957.3 2086.0 957.5 2088.2 957.6 C2090.3 957.8 2093.2 958.1 2094.7 958.3 C2096.2 958.6 2096.9 959.0 2097.3 959.2 L2097.3 1336.8 L829.4 1336.8 Z" fill="#85bd72" fill-opacity="0.06"/>
<path d="M829.4 960.0 C829.9 959.8 831.0 958.7 832.6 959.0 C834.2 959.2 836.9 961.0 839.1 961.3 C841.3 961.5 843.4 960.6 845.6 960.5 C847.8 960.4 849.9 960.8 852.1 960.8 C854.3 960.7 856.4 960.6 858.6 960.2 C860.8 959.8 862.9 958.7 865.1 958.3 C867.3 957.9 869.5 957.1 871.6 957.6 C873.8 958.2 876.0 960.9 878.1 961.4 C880.3 961.9 882.5 960.5 884.6 960.5 C886.8 960.4 889.0 960.9 891.1 961.0 C893.3 961.0 895.5 960.8 897.6 960.7 C899.8 960.7 902.0 960.9 904.1 960.8 C906.3 960.7 908.5 960.1 910.7 960.3 C912.8 960.5 915.0 962.0 917.2 962.1 C919.3 962.1 921.5 960.7 923.7 960.7 C925.8 960.6 928.0 961.9 930.2 961.8 C932.3 961.7 934.5 960.1 936.7 960.1 C938.8 960.2 941.0 961.8 943.2 962.1 C945.4 962.3 947.5 961.5 949.7 961.5 C951.9 961.4 954.0 962.4 956.2 961.9 C958.4 961.4 960.5 958.6 962.7 958.5 C964.9 958.5 967.0 961.3 969.2 961.6 C971.4 962.0 973.5 960.9 975.7 960.8 C977.9 960.7 980.0 961.0 982.2 961.2 C984.4 961.4 986.6 962.0 988.7 961.9 C990.9 961.9 993.1 961.3 995.2 961.1 C997.4 960.8 999.6 960.5 1001.7 960.4 C1003.9 960.4 1006.1 961.0 1008.2 961.0 C1010.4 960.9 1012.6 960.3 1014.7 960.3 C1016.9 960.3 1019.1 961.0 1021.3 961.1 C1023.4 961.2 1025.6 960.8 1027.8 960.8 C1029.9 960.8 1032.1 961.1 1034.3 961.1 C1036.4 961.1 1038.6 960.9 1040.8 960.6 C1042.9 960.4 1045.1 959.7 1047.3 959.7 C1049.4 959.7 1051.6 960.5 1053.8 960.6 C1055.9 960.8 1058.1 960.6 1060.3 960.7 C1062.5 960.8 1064.6 961.1 1066.8 961.2 C1069.0 961.3 1071.1 961.5 1073.3 961.3 C1075.5 961.1 1077.6 959.9 1079.8 960.0 C1082.0 960.0 1084.1 961.3 1086.3 961.5 C1088.5 961.8 1090.6 961.5 1092.8 961.4 C1095.0 961.3 1097.1 961.4 1099.3 960.9 C1101.5 960.4 1103.7 959.1 1105.8 958.5 C1108.0 957.8 1110.2 956.4 1112.3 957.0 C1114.5 957.7 1116.7 961.7 1118.8 962.3 C1121.0 962.9 1123.2 960.9 1125.3 960.6 C1127.5 960.3 1129.7 960.3 1131.8 960.4 C1134.0 960.6 1136.2 961.4 1138.4 961.5 C1140.5 961.7 1142.7 961.4 1144.9 961.2 C1147.0 961.1 1149.2 960.8 1151.4 960.6 C1153.5 960.4 1155.7 959.7 1157.9 959.9 C1160.0 960.0 1162.2 961.5 1164.4 961.4 C1166.5 961.3 1168.7 959.5 1170.9 959.3 C1173.0 959.1 1175.2 960.1 1177.4 960.3 C1179.6 960.4 1181.7 960.1 1183.9 959.9 C1186.1 959.7 1188.2 958.9 1190.4 959.0 C1192.6 959.0 1194.7 960.0 1196.9 960.1 C1199.1 960.3 1201.2 959.8 1203.4 960.0 C1205.6 960.1 1207.7 960.9 1209.9 961.0 C1212.1 961.0 1214.2 960.2 1216.4 960.2 C1218.6 960.1 1220.8 961.0 1222.9 960.9 C1225.1 960.8 1227.3 959.4 1229.4 959.4 C1231.6 959.5 1233.8 961.0 1235.9 961.1 C1238.1 961.2 1240.3 960.1 1242.4 960.0 C1244.6 959.8 1246.8 959.6 1248.9 960.0 C1251.1 960.3 1253.3 961.9 1255.5 962.2 C1257.6 962.4 1259.8 961.8 1262.0 961.4 C1264.1 961.0 1266.3 959.8 1268.5 959.8 C1270.6 959.7 1272.8 960.9 1275.0 961.1 C1277.1 961.2 1279.3 960.7 1281.5 960.6 C1283.6 960.6 1285.8 960.8 1288.0 960.8 C1290.1 960.9 1292.3 960.9 1294.5 960.9 C1296.7 960.9 1298.8 960.9 1301.0 960.9 C1303.2 960.9 1305.3 961.1 1307.5 961.1 C1309.7 961.2 1311.8 961.0 1314.0 961.0 C1316.2 961.0 1318.3 961.2 1320.5 961.1 C1322.7 961.1 1324.8 960.6 1327.0 960.6 C1329.2 960.7 1331.4 961.6 1333.5 961.3 C1335.7 961.1 1337.9 959.2 1340.0 959.2 C1342.2 959.1 1344.4 960.8 1346.5 960.9 C1348.7 961.1 1350.9 960.1 1353.0 960.1 C1355.2 960.0 1357.4 960.5 1359.5 960.6 C1361.7 960.8 1363.9 960.9 1366.0 960.9 C1368.2 960.9 1370.4 960.6 1372.6 960.5 C1374.7 960.5 1376.9 960.7 1379.1 960.6 C1381.2 960.5 1383.4 960.2 1385.6 960.2 C1387.7 960.2 1389.9 960.6 1392.1 960.5 C1394.2 960.5 1396.4 959.8 1398.6 959.8 C1400.7 959.7 1402.9 959.8 1405.1 960.0 C1407.2 960.2 1409.4 961.2 1411.6 960.9 C1413.8 960.5 1415.9 958.2 1418.1 958.1 C1420.3 958.0 1422.4 959.9 1424.6 960.3 C1426.8 960.7 1428.9 960.4 1431.1 960.5 C1433.3 960.6 1435.4 960.7 1437.6 960.9 C1439.8 961.1 1441.9 961.7 1444.1 961.8 C1446.3 961.8 1448.5 961.5 1450.6 961.2 C1452.8 960.9 1455.0 960.1 1457.1 959.8 C1459.3 959.6 1461.5 959.6 1463.6 959.6 C1465.8 959.5 1468.0 959.4 1470.1 959.6 C1472.3 959.8 1474.5 960.7 1476.6 960.8 C1478.8 961.0 1481.0 960.2 1483.1 960.2 C1485.3 960.3 1487.5 961.1 1489.7 961.2 C1491.8 961.2 1494.0 960.7 1496.2 960.6 C1498.3 960.5 1500.5 960.5 1502.7 960.6 C1504.8 960.7 1507.0 961.5 1509.2 961.3 C1511.3 961.2 1513.5 959.4 1515.7 959.5 C1517.8 959.7 1520.0 961.8 1522.2 962.1 C1524.3 962.4 1526.5 961.4 1528.7 961.4 C1530.9 961.4 1533.0 962.1 1535.2 961.9 C1537.4 961.8 1539.5 960.8 1541.7 960.6 C1543.9 960.4 1546.0 961.2 1548.2 960.8 C1550.4 960.4 1552.5 958.7 1554.7 958.4 C1556.9 958.0 1543.9 958.2 1561.2 958.7 C1578.6 959.2 1641.5 960.9 1658.8 961.2 C1676.1 961.6 1663.1 960.7 1665.3 960.6 C1667.5 960.6 1669.6 961.1 1671.8 961.1 C1674.0 961.1 1676.1 960.6 1678.3 960.5 C1680.5 960.4 1682.7 960.5 1684.8 960.7 C1687.0 960.8 1689.2 961.4 1691.3 961.5 C1693.5 961.5 1695.7 961.0 1697.8 960.8 C1700.0 960.7 1702.2 960.8 1704.3 960.8 C1706.5 960.8 1708.7 961.1 1710.8 961.0 C1713.0 961.0 1715.2 960.5 1717.3 960.3 C1719.5 960.1 1721.7 959.7 1723.9 959.8 C1726.0 959.9 1728.2 960.9 1730.4 961.1 C1732.5 961.3 1734.7 960.9 1736.9 961.1 C1739.0 961.3 1741.2 962.2 1743.4 962.2 C1745.5 962.2 1747.7 961.1 1749.9 960.9 C1752.0 960.7 1754.2 960.9 1756.4 961.1 C1758.6 961.3 1760.7 962.5 1762.9 962.2 C1765.1 961.8 1767.2 959.7 1769.4 959.1 C1771.6 958.6 1773.7 958.8 1775.9 958.9 C1778.1 959.0 1780.2 959.6 1782.4 959.7 C1784.6 959.8 1786.7 959.5 1788.9 959.5 C1791.1 959.5 1793.2 960.0 1795.4 959.9 C1797.6 959.8 1799.8 958.8 1801.9 958.8 C1804.1 958.9 1806.3 959.8 1808.4 960.2 C1810.6 960.6 1812.8 961.1 1814.9 961.0 C1817.1 960.9 1819.3 959.7 1821.4 959.7 C1823.6 959.6 1825.8 960.7 1827.9 960.8 C1830.1 961.0 1832.3 960.5 1834.5 960.6 C1836.6 960.6 1838.8 960.8 1841.0 960.9 C1843.1 961.1 1845.3 961.6 1847.5 961.6 C1849.6 961.6 1851.8 961.0 1854.0 960.9 C1856.1 960.7 1858.3 960.5 1860.5 960.6 C1862.6 960.7 1864.8 961.5 1867.0 961.5 C1869.1 961.5 1871.3 960.9 1873.5 960.6 C1875.7 960.4 1877.8 960.2 1880.0 960.1 C1882.2 960.0 1884.3 959.9 1886.5 960.2 C1888.7 960.5 1890.8 961.6 1893.0 961.8 C1895.2 962.0 1897.3 961.4 1899.5 961.4 C1901.7 961.4 1903.8 962.0 1906.0 961.8 C1908.2 961.6 1910.3 960.4 1912.5 960.2 C1914.7 960.0 1916.9 960.4 1919.0 960.5 C1921.2 960.5 1923.4 960.3 1925.5 960.4 C1927.7 960.6 1929.9 961.2 1932.0 961.4 C1934.2 961.6 1936.4 961.7 1938.5 961.6 C1940.7 961.5 1942.9 960.9 1945.0 960.8 C1947.2 960.7 1949.4 960.7 1951.6 960.8 C1953.7 960.9 1955.9 961.4 1958.1 961.4 C1960.2 961.4 1962.4 960.9 1964.6 960.8 C1966.7 960.6 1968.9 960.5 1971.1 960.5 C1973.2 960.4 1975.4 960.5 1977.6 960.7 C1979.7 960.9 1981.9 961.2 1984.1 961.5 C1986.2 961.7 1988.4 962.2 1990.6 962.1 C1992.8 962.1 1994.9 961.5 1997.1 961.0 C1999.3 960.6 2001.4 959.6 2003.6 959.4 C2005.8 959.2 2007.9 959.4 2010.1 959.7 C2012.3 960.0 2014.4 960.8 2016.6 961.1 C2018.8 961.4 2020.9 961.4 2023.1 961.3 C2025.3 961.2 2027.4 960.5 2029.6 960.4 C2031.8 960.3 2034.0 961.0 2036.1 960.9 C2038.3 960.7 2040.5 959.3 2042.6 959.4 C2044.8 959.5 2047.0 961.1 2049.1 961.4 C2051.3 961.7 2053.5 961.3 2055.6 961.2 C2057.8 961.1 2060.0 960.7 2062.1 960.8 C2064.3 960.8 2066.5 961.3 2068.7 961.5 C2070.8 961.6 2073.0 961.7 2075.2 961.6 C2077.3 961.5 2079.5 961.3 2081.7 961.1 C2083.8 960.8 2086.0 960.2 2088.2 960.1 C2090.3 960.1 2093.2 960.8 2094.7 960.7 C2096.2 960.7 2096.9 960.1 2097.3 960.0 L2097.3 1336.8 L829.4 1336.8 Z" fill="#eccd47" fill-opacity="0.06"/>
<path d="M829.4 964.3 C829.9 964.5 831.0 965.4 832.6 965.4 C834.2 965.4 836.9 964.5 839.1 964.5 C841.3 964.6 843.4 965.6 845.6 965.6 C847.8 965.5 849.9 964.2 852.1 964.2 C854.3 964.2 856.4 965.4 858.6 965.4 C860.8 965.4 862.9 964.3 865.1 964.4 C867.3 964.4 869.5 965.6 871.6 965.7 C873.8 965.8 876.0 965.3 878.1 965.1 C880.3 964.8 882.5 964.1 884.6 964.2 C886.8 964.2 889.0 965.2 891.1 965.3 C893.3 965.4 895.5 964.8 897.6 964.8 C899.8 964.7 902.0 964.9 904.1 965.1 C906.3 965.3 908.5 966.2 910.7 966.1 C912.8 966.0 915.0 964.9 917.2 964.6 C919.3 964.4 921.5 964.4 923.7 964.6 C925.8 964.7 928.0 965.4 930.2 965.4 C932.3 965.4 934.5 964.5 936.7 964.5 C938.8 964.5 941.0 965.1 943.2 965.3 C945.4 965.4 947.5 965.4 949.7 965.4 C951.9 965.3 954.0 964.8 956.2 964.8 C958.4 964.8 960.5 965.4 962.7 965.2 C964.9 965.0 967.0 963.5 969.2 963.6 C971.4 963.6 973.5 965.5 975.7 965.7 C977.9 965.8 980.0 964.6 982.2 964.4 C984.4 964.2 986.6 964.0 988.7 964.3 C990.9 964.5 993.1 965.7 995.2 965.9 C997.4 966.2 999.6 966.3 1001.7 965.8 C1003.9 965.2 1006.1 962.9 1008.2 962.4 C1010.4 962.0 1012.6 962.6 1014.7 963.0 C1016.9 963.4 1019.1 964.4 1021.3 964.6 C1023.4 964.8 1025.6 964.1 1027.8 964.2 C1029.9 964.3 1032.1 964.8 1034.3 965.0 C1036.4 965.2 1038.6 965.2 1040.8 965.4 C1042.9 965.6 1045.1 966.4 1047.3 966.3 C1049.4 966.2 1051.6 964.9 1053.8 964.7 C1055.9 964.5 1058.1 965.3 1060.3 965.3 C1062.5 965.3 1064.6 964.7 1066.8 964.6 C1069.0 964.5 1071.1 964.5 1073.3 964.7 C1075.5 964.8 1077.6 965.7 1079.8 965.6 C1082.0 965.4 1084.1 964.1 1086.3 963.9 C1088.5 963.6 1090.6 964.1 1092.8 964.2 C1095.0 964.3 1097.1 964.1 1099.3 964.3 C1101.5 964.6 1103.7 965.4 1105.8 965.5 C1108.0 965.6 1110.2 965.1 1112.3 965.0 C1114.5 965.0 1116.7 965.1 1118.8 965.1 C1121.0 965.1 1123.2 965.4 1125.3 965.0 C1127.5 964.7 1129.7 963.3 1131.8 963.2 C1134.0 963.1 1136.2 964.3 1138.4 964.6 C1140.5 964.8 1142.7 964.7 1144.9 964.7 C1147.0 964.7 1149.2 964.5 1151.4 964.6 C1153.5 964.7 1155.7 965.2 1157.9 965.1 C1160.0 965.0 1162.2 964.2 1164.4 964.1 C1166.5 964.0 1168.7 964.3 1170.9 964.7 C1173.0 965.1 1175.2 966.2 1177.4 966.3 C1179.6 966.4 1181.7 965.4 1183.9 965.2 C1186.1 964.9 1188.2 965.0 1190.4 964.8 C1192.6 964.7 1194.7 964.3 1196.9 964.3 C1199.1 964.3 1201.2 964.9 1203.4 965.0 C1205.6 965.1 1207.7 964.9 1209.9 965.0 C1212.1 965.0 1214.2 965.3 1216.4 965.2 C1218.6 965.1 1220.8 964.6 1222.9 964.4 C1225.1 964.3 1227.3 964.4 1229.4 964.4 C1231.6 964.4 1233.8 964.5 1235.9 964.5 C1238.1 964.5 1240.3 964.7 1242.4 964.6 C1244.6 964.5 1246.8 963.9 1248.9 963.9 C1251.1 963.8 1253.3 964.3 1255.5 964.5 C1257.6 964.7 1259.8 965.1 1262.0 965.1 C1264.1 965.1 1266.3 964.5 1268.5 964.5 C1270.6 964.5 1272.8 965.2 1275.0 965.2 C1277.1 965.2 1279.3 964.7 1281.5 964.6 C1283.6 964.5 1285.8 964.7 1288.0 964.6 C1290.1 964.5 1292.3 964.2 1294.5 964.2 C1296.7 964.1 1298.8 964.3 1301.0 964.2 C1303.2 964.2 1305.3 964.1 1307.5 964.0 C1309.7 963.9 1311.8 963.5 1314.0 963.7 C1316.2 964.0 1318.3 965.5 1320.5 965.5 C1322.7 965.5 1324.8 964.1 1327.0 963.9 C1329.2 963.7 1331.4 964.5 1333.5 964.6 C1335.7 964.6 1337.9 964.0 1340.0 964.0 C1342.2 964.1 1344.4 964.7 1346.5 965.0 C1348.7 965.3 1350.9 966.1 1353.0 965.9 C1355.2 965.8 1357.4 964.2 1359.5 964.0 C1361.7 963.8 1363.9 964.9 1366.0 964.8 C1368.2 964.6 1370.4 963.4 1372.6 963.1 C1374.7 962.9 1376.9 963.2 1379.1 963.2 C1381.2 963.1 1383.4 962.9 1385.6 962.9 C1387.7 962.8 1389.9 962.7 1392.1 962.9 C1394.2 963.1 1396.4 963.9 1398.6 964.1 C1400.7 964.3 1402.9 964.0 1405.1 964.2 C1407.2 964.4 1409.4 965.0 1411.6 965.1 C1413.8 965.2 1415.9 965.3 1418.1 965.1 C1420.3 964.9 1422.4 964.0 1424.6 963.9 C1426.8 963.7 1428.9 964.1 1431.1 964.3 C1433.3 964.5 1435.4 964.7 1437.6 965.0 C1439.8 965.3 1441.9 965.9 1444.1 965.8 C1446.3 965.8 1448.5 964.9 1450.6 964.7 C1452.8 964.5 1455.0 964.5 1457.1 964.5 C1459.3 964.5 1461.5 965.0 1463.6 964.9 C1465.8 964.7 1468.0 963.8 1470.1 963.5 C1472.3 963.3 1474.5 962.9 1476.6 963.3 C1478.8 963.6 1481.0 965.3 1483.1 965.5 C1485.3 965.7 1487.5 964.9 1489.7 964.7 C1491.8 964.5 1494.0 964.4 1496.2 964.4 C1498.3 964.3 1500.5 964.1 1502.7 964.3 C1504.8 964.4 1507.0 965.1 1509.2 965.2 C1511.3 965.3 1513.5 964.8 1515.7 964.7 C1517.8 964.6 1520.0 964.4 1522.2 964.5 C1524.3 964.6 1526.5 965.0 1528.7 965.1 C1530.9 965.2 1533.0 965.1 1535.2 964.9 C1537.4 964.7 1539.5 964.0 1541.7 963.6 C1543.9 963.3 1546.0 962.6 1548.2 962.7 C1550.4 962.8 1552.5 963.9 1554.7 964.3 C1556.9 964.7 1543.9 965.2 1561.2 965.1 C1578.6 964.9 1641.5 963.4 1658.8 963.2 C1676.1 963.1 1663.1 963.9 1665.3 964.2 C1667.5 964.5 1669.6 964.8 1671.8 964.8 C1674.0 964.8 1676.1 964.6 1678.3 964.2 C1680.5 963.7 1682.7 962.2 1684.8 962.2 C1687.0 962.2 1689.2 963.8 1691.3 964.2 C1693.5 964.5 1695.7 964.3 1697.8 964.4 C1700.0 964.5 1702.2 964.7 1704.3 964.8 C1706.5 964.9 1708.7 965.3 1710.8 965.1 C1713.0 964.9 1715.2 963.9 1717.3 963.6 C1719.5 963.2 1721.7 963.1 1723.9 963.1 C1726.0 963.2 1728.2 963.7 1730.4 963.9 C1732.5 964.1 1734.7 964.1 1736.9 964.3 C1739.0 964.5 1741.2 965.1 1743.4 965.4 C1745.5 965.6 1747.7 965.8 1749.9 965.8 C1752.0 965.8 1754.2 965.4 1756.4 965.4 C1758.6 965.4 1760.7 965.7 1762.9 965.7 C1765.1 965.8 1767.2 966.0 1769.4 965.6 C1771.6 965.2 1773.7 963.3 1775.9 963.2 C1778.1 963.1 1780.2 964.7 1782.4 964.9 C1784.6 965.2 1786.7 964.8 1788.9 964.7 C1791.1 964.6 1793.2 964.3 1795.4 964.2 C1797.6 964.1 1799.8 964.0 1801.9 964.1 C1804.1 964.3 1806.3 965.1 1808.4 965.1 C1810.6 965.1 1812.8 964.2 1814.9 964.1 C1817.1 964.0 1819.3 964.5 1821.4 964.6 C1823.6 964.7 1825.8 964.8 1827.9 964.8 C1830.1 964.8 1832.3 964.4 1834.5 964.6 C1836.6 964.7 1838.8 965.5 1841.0 965.6 C1843.1 965.7 1845.3 965.4 1847.5 965.2 C1849.6 965.1 1851.8 965.0 1854.0 964.9 C1856.1 964.7 1858.3 964.5 1860.5 964.5 C1862.6 964.5 1864.8 965.0 1867.0 965.0 C1869.1 965.1 1871.3 965.0 1873.5 964.9 C1875.7 964.8 1877.8 964.4 1880.0 964.3 C1882.2 964.1 1884.3 964.0 1886.5 964.0 C1888.7 964.1 1890.8 964.4 1893.0 964.4 C1895.2 964.4 1897.3 964.3 1899.5 964.1 C1901.7 963.9 1903.8 963.4 1906.0 963.3 C1908.2 963.1 1910.3 963.0 1912.5 963.2 C1914.7 963.5 1916.9 964.3 1919.0 964.6 C1921.2 964.9 1923.4 964.9 1925.5 965.0 C1927.7 965.1 1929.9 965.5 1932.0 965.1 C1934.2 964.7 1936.4 962.6 1938.5 962.3 C1940.7 962.0 1942.9 962.8 1945.0 963.3 C1947.2 963.8 1949.4 965.1 1951.6 965.3 C1953.7 965.5 1955.9 964.8 1958.1 964.5 C1960.2 964.3 1962.4 963.8 1964.6 963.8 C1966.7 963.8 1968.9 964.7 1971.1 964.8 C1973.2 964.8 1975.4 964.1 1977.6 964.1 C1979.7 964.2 1981.9 964.9 1984.1 965.1 C1986.2 965.2 1988.4 965.1 1990.6 965.1 C1992.8 965.1 1994.9 965.2 1997.1 965.2 C1999.3 965.2 2001.4 965.1 2003.6 964.9 C2005.8 964.7 2007.9 963.7 2010.1 963.8 C2012.3 963.9 2014.4 965.4 2016.6 965.4 C2018.8 965.5 2020.9 964.2 2023.1 963.9 C2025.3 963.7 2027.4 964.1 2029.6 964.0 C2031.8 964.0 2034.0 963.6 2036.1 963.6 C2038.3 963.7 2040.5 964.2 2042.6 964.4 C2044.8 964.5 2047.0 964.7 2049.1 964.5 C2051.3 964.2 2053.5 962.8 2055.6 962.7 C2057.8 962.6 2060.0 963.4 2062.1 963.8 C2064.3 964.1 2066.5 964.3 2068.7 964.6 C2070.8 964.9 2073.0 965.6 2075.2 965.4 C2077.3 965.2 2079.5 963.5 2081.7 963.4 C2083.8 963.3 2086.0 964.7 2088.2 964.9 C2090.3 965.1 2093.2 964.6 2094.7 964.7 C2096.2 964.8 2096.9 965.3 2097.3 965.4 L2097.3 1336.8 L829.4 1336.8 Z" fill="#94b7f9" fill-opacity="0.06"/>
<path d="M829.4 953.2 C829.9 953.2 831.0 952.7 832.6 952.9 C834.2 953.1 836.9 953.9 839.1 954.2 C841.3 954.5 843.4 954.5 845.6 954.5 C847.8 954.6 849.9 954.1 852.1 954.3 C854.3 954.6 856.4 956.0 858.6 956.0 C860.8 955.9 862.9 954.5 865.1 954.0 C867.3 953.6 869.5 953.3 871.6 953.3 C873.8 953.3 876.0 954.1 878.1 953.9 C880.3 953.8 882.5 952.2 884.6 952.4 C886.8 952.7 889.0 954.9 891.1 955.3 C893.3 955.6 895.5 954.6 897.6 954.6 C899.8 954.6 902.0 955.4 904.1 955.4 C906.3 955.3 908.5 954.4 910.7 954.3 C912.8 954.3 915.0 955.3 917.2 955.1 C919.3 954.9 921.5 953.3 923.7 953.1 C925.8 952.9 928.0 953.4 930.2 953.9 C932.3 954.4 934.5 955.9 936.7 956.0 C938.8 956.1 941.0 955.1 943.2 954.6 C945.4 954.0 947.5 953.0 949.7 952.8 C951.9 952.6 954.0 953.3 956.2 953.2 C958.4 953.2 960.5 952.9 962.7 952.8 C964.9 952.6 967.0 952.7 969.2 952.5 C971.4 952.4 973.5 951.6 975.7 951.8 C977.9 951.9 980.0 953.3 982.2 953.3 C984.4 953.3 986.6 951.7 988.7 951.7 C990.9 951.8 993.1 953.1 995.2 953.5 C997.4 954.0 999.6 954.2 1001.7 954.4 C1003.9 954.5 1006.1 954.5 1008.2 954.4 C1010.4 954.3 1012.6 953.9 1014.7 953.9 C1016.9 953.9 1019.1 954.7 1021.3 954.6 C1023.4 954.5 1025.6 953.7 1027.8 953.6 C1029.9 953.4 1032.1 953.7 1034.3 953.7 C1036.4 953.6 1038.6 953.7 1040.8 953.4 C1042.9 953.2 1045.1 952.3 1047.3 952.3 C1049.4 952.3 1051.6 953.1 1053.8 953.4 C1055.9 953.8 1058.1 954.4 1060.3 954.5 C1062.5 954.5 1064.6 953.6 1066.8 953.8 C1069.0 954.0 1071.1 955.9 1073.3 955.6 C1075.5 955.3 1077.6 952.1 1079.8 952.0 C1082.0 951.9 1084.1 954.5 1086.3 955.0 C1088.5 955.5 1090.6 955.3 1092.8 955.1 C1095.0 955.0 1097.1 954.4 1099.3 954.3 C1101.5 954.3 1103.7 955.0 1105.8 954.9 C1108.0 954.8 1110.2 953.9 1112.3 953.7 C1114.5 953.5 1116.7 953.7 1118.8 953.8 C1121.0 953.9 1123.2 954.3 1125.3 954.3 C1127.5 954.3 1129.7 953.9 1131.8 953.7 C1134.0 953.5 1136.2 953.0 1138.4 953.1 C1140.5 953.2 1142.7 953.9 1144.9 954.3 C1147.0 954.6 1149.2 955.4 1151.4 955.4 C1153.5 955.4 1155.7 954.7 1157.9 954.5 C1160.0 954.4 1162.2 954.6 1164.4 954.3 C1166.5 954.0 1168.7 952.8 1170.9 952.7 C1173.0 952.6 1175.2 953.6 1177.4 953.8 C1179.6 954.0 1181.7 953.8 1183.9 954.0 C1186.1 954.3 1188.2 955.1 1190.4 955.3 C1192.6 955.4 1194.7 954.7 1196.9 954.7 C1199.1 954.7 1201.2 955.3 1203.4 955.3 C1205.6 955.2 1207.7 954.4 1209.9 954.4 C1212.1 954.4 1214.2 955.3 1216.4 955.3 C1218.6 955.2 1220.8 954.3 1222.9 954.2 C1225.1 954.1 1227.3 954.5 1229.4 954.5 C1231.6 954.5 1233.8 954.1 1235.9 954.2 C1238.1 954.2 1240.3 954.6 1242.4 954.8 C1244.6 955.1 1246.8 956.1 1248.9 955.6 C1251.1 955.2 1253.3 952.2 1255.5 952.1 C1257.6 951.9 1259.8 954.5 1262.0 954.9 C1264.1 955.2 1266.3 954.1 1268.5 953.9 C1270.6 953.7 1272.8 953.5 1275.0 953.4 C1277.1 953.3 1279.3 953.3 1281.5 953.3 C1283.6 953.3 1285.8 953.4 1288.0 953.6 C1290.1 953.8 1292.3 954.5 1294.5 954.5 C1296.7 954.6 1298.8 953.7 1301.0 953.9 C1303.2 954.1 1305.3 955.6 1307.5 955.7 C1309.7 955.7 1311.8 954.3 1314.0 954.2 C1316.2 954.1 1318.3 954.8 1320.5 954.9 C1322.7 955.0 1324.8 955.4 1327.0 954.8 C1329.2 954.3 1331.4 952.2 1333.5 951.6 C1335.7 951.0 1337.9 951.1 1340.0 951.4 C1342.2 951.8 1344.4 953.0 1346.5 953.7 C1348.7 954.5 1350.9 955.7 1353.0 955.9 C1355.2 956.0 1357.4 954.8 1359.5 954.7 C1361.7 954.6 1363.9 955.6 1366.0 955.2 C1368.2 954.8 1370.4 952.6 1372.6 952.2 C1374.7 951.9 1376.9 953.1 1379.1 953.2 C1381.2 953.3 1383.4 952.7 1385.6 952.7 C1387.7 952.7 1389.9 953.2 1392.1 953.2 C1394.2 953.2 1396.4 952.4 1398.6 952.6 C1400.7 952.7 1402.9 953.7 1405.1 954.1 C1407.2 954.5 1409.4 954.9 1411.6 955.0 C1413.8 955.1 1415.9 954.6 1418.1 954.7 C1420.3 954.8 1422.4 955.6 1424.6 955.6 C1426.8 955.6 1428.9 955.0 1431.1 954.6 C1433.3 954.2 1435.4 953.1 1437.6 953.1 C1439.8 953.2 1441.9 954.9 1444.1 955.1 C1446.3 955.2 1448.5 953.9 1450.6 954.1 C1452.8 954.2 1455.0 955.7 1457.1 956.0 C1459.3 956.3 1461.5 955.9 1463.6 955.9 C1465.8 955.8 1468.0 955.7 1470.1 955.6 C1472.3 955.5 1474.5 955.2 1476.6 955.0 C1478.8 954.9 1481.0 954.8 1483.1 954.7 C1485.3 954.7 1487.5 954.8 1489.7 954.8 C1491.8 954.8 1494.0 954.9 1496.2 954.8 C1498.3 954.7 1500.5 954.3 1502.7 954.3 C1504.8 954.3 1507.0 955.1 1509.2 955.0 C1511.3 955.0 1513.5 953.9 1515.7 954.0 C1517.8 954.0 1520.0 955.6 1522.2 955.5 C1524.3 955.4 1526.5 953.3 1528.7 953.5 C1530.9 953.6 1533.0 956.1 1535.2 956.2 C1537.4 956.3 1539.5 954.6 1541.7 954.1 C1543.9 953.5 1546.0 953.1 1548.2 953.1 C1550.4 953.0 1552.5 953.4 1554.7 953.7 C1556.9 953.9 1543.9 954.4 1561.2 954.5 C1578.6 954.5 1641.5 954.0 1658.8 954.0 C1676.1 953.9 1663.1 954.5 1665.3 954.2 C1667.5 953.9 1669.6 952.3 1671.8 952.1 C1674.0 952.0 1676.1 953.4 1678.3 953.4 C1680.5 953.5 1682.7 952.5 1684.8 952.4 C1687.0 952.3 1689.2 952.4 1691.3 952.7 C1693.5 953.0 1695.7 954.4 1697.8 954.1 C1700.0 953.7 1702.2 950.4 1704.3 950.6 C1706.5 950.7 1708.7 954.1 1710.8 955.0 C1713.0 955.8 1715.2 955.7 1717.3 955.6 C1719.5 955.6 1721.7 954.8 1723.9 954.5 C1726.0 954.2 1728.2 953.7 1730.4 953.7 C1732.5 953.6 1734.7 954.2 1736.9 954.3 C1739.0 954.5 1741.2 955.1 1743.4 954.6 C1745.5 954.1 1747.7 951.0 1749.9 951.1 C1752.0 951.2 1754.2 954.9 1756.4 955.4 C1758.6 955.9 1760.7 954.2 1762.9 954.2 C1765.1 954.2 1767.2 955.0 1769.4 955.1 C1771.6 955.2 1773.7 955.2 1775.9 954.7 C1778.1 954.2 1780.2 952.6 1782.4 952.0 C1784.6 951.4 1786.7 950.6 1788.9 951.1 C1791.1 951.7 1793.2 954.7 1795.4 955.3 C1797.6 956.0 1799.8 955.0 1801.9 955.1 C1804.1 955.1 1806.3 955.8 1808.4 955.7 C1810.6 955.6 1812.8 954.6 1814.9 954.5 C1817.1 954.3 1819.3 955.0 1821.4 955.0 C1823.6 955.0 1825.8 954.4 1827.9 954.5 C1830.1 954.6 1832.3 955.3 1834.5 955.4 C1836.6 955.5 1838.8 955.2 1841.0 955.0 C1843.1 954.8 1845.3 954.1 1847.5 954.1 C1849.6 954.1 1851.8 954.8 1854.0 954.9 C1856.1 954.9 1858.3 954.4 1860.5 954.4 C1862.6 954.3 1864.8 954.3 1867.0 954.4 C1869.1 954.5 1871.3 954.8 1873.5 955.0 C1875.7 955.2 1877.8 955.8 1880.0 955.7 C1882.2 955.6 1884.3 954.8 1886.5 954.1 C1888.7 953.5 1890.8 952.3 1893.0 951.8 C1895.2 951.4 1897.3 950.6 1899.5 951.3 C1901.7 952.0 1903.8 955.2 1906.0 956.0 C1908.2 956.7 1910.3 955.7 1912.5 955.8 C1914.7 955.8 1916.9 956.1 1919.0 956.1 C1921.2 956.0 1923.4 955.6 1925.5 955.3 C1927.7 955.0 1929.9 954.6 1932.0 954.1 C1934.2 953.7 1936.4 952.8 1938.5 952.7 C1940.7 952.5 1942.9 952.7 1945.0 953.0 C1947.2 953.4 1949.4 954.5 1951.6 954.7 C1953.7 954.9 1955.9 954.2 1958.1 954.3 C1960.2 954.3 1962.4 954.9 1964.6 954.9 C1966.7 955.0 1968.9 954.6 1971.1 954.5 C1973.2 954.5 1975.4 954.4 1977.6 954.7 C1979.7 954.9 1981.9 956.0 1984.1 956.1 C1986.2 956.1 1988.4 955.3 1990.6 955.0 C1992.8 954.6 1994.9 953.9 1997.1 953.9 C1999.3 953.9 2001.4 955.4 2003.6 955.0 C2005.8 954.6 2007.9 951.3 2010.1 951.3 C2012.3 951.3 2014.4 954.5 2016.6 955.1 C2018.8 955.7 2020.9 955.4 2023.1 955.0 C2025.3 954.7 2027.4 953.0 2029.6 953.0 C2031.8 952.9 2034.0 954.5 2036.1 954.9 C2038.3 955.3 2040.5 955.1 2042.6 955.4 C2044.8 955.7 2047.0 956.7 2049.1 956.6 C2051.3 956.6 2053.5 955.2 2055.6 955.1 C2057.8 955.0 2060.0 955.8 2062.1 955.9 C2064.3 956.1 2066.5 956.1 2068.7 955.9 C2070.8 955.6 2073.0 954.5 2075.2 954.3 C2077.3 954.0 2079.5 954.0 2081.7 954.3 C2083.8 954.6 2086.0 955.9 2088.2 955.9 C2090.3 955.9 2093.2 954.5 2094.7 954.2 C2096.2 954.0 2096.9 954.4 2097.3 954.5 L2097.3 1336.8 L829.4 1336.8 Z" fill="#e05660" fill-opacity="0.06"/>
<path d="M829.4 960.4 C829.9 960.3 831.0 959.7 832.6 959.6 C834.2 959.6 836.9 960.5 839.1 959.9 C841.3 959.4 843.4 957.1 845.6 956.5 C847.8 956.0 849.9 956.0 852.1 956.6 C854.3 957.2 856.4 959.7 858.6 960.3 C860.8 960.8 862.9 960.2 865.1 959.9 C867.3 959.6 869.5 958.5 871.6 958.7 C873.8 958.9 876.0 961.1 878.1 961.3 C880.3 961.5 882.5 960.2 884.6 959.9 C886.8 959.6 889.0 959.6 891.1 959.7 C893.3 959.8 895.5 960.4 897.6 960.6 C899.8 960.8 902.0 961.1 904.1 960.8 C906.3 960.4 908.5 959.1 910.7 958.6 C912.8 958.2 915.0 958.0 917.2 958.0 C919.3 958.1 921.5 958.4 923.7 958.7 C925.8 958.9 928.0 959.4 930.2 959.6 C932.3 959.8 934.5 959.9 936.7 959.9 C938.8 959.9 941.0 959.7 943.2 959.6 C945.4 959.6 947.5 960.2 949.7 959.5 C951.9 958.9 954.0 955.9 956.2 955.9 C958.4 956.0 960.5 959.0 962.7 959.7 C964.9 960.3 967.0 960.6 969.2 959.8 C971.4 959.1 973.5 956.0 975.7 955.1 C977.9 954.1 980.0 953.6 982.2 954.3 C984.4 955.1 986.6 958.4 988.7 959.4 C990.9 960.5 993.1 960.4 995.2 960.5 C997.4 960.7 999.6 960.5 1001.7 960.3 C1003.9 960.2 1006.1 959.7 1008.2 959.7 C1010.4 959.7 1012.6 960.2 1014.7 960.3 C1016.9 960.4 1019.1 960.1 1021.3 960.2 C1023.4 960.2 1025.6 961.3 1027.8 960.5 C1029.9 959.7 1032.1 955.4 1034.3 955.3 C1036.4 955.1 1038.6 959.0 1040.8 959.7 C1042.9 960.4 1045.1 959.3 1047.3 959.3 C1049.4 959.4 1051.6 960.0 1053.8 959.9 C1055.9 959.8 1058.1 958.7 1060.3 958.7 C1062.5 958.7 1064.6 961.1 1066.8 960.0 C1069.0 958.9 1071.1 952.3 1073.3 952.2 C1075.5 952.0 1077.6 958.1 1079.8 959.3 C1082.0 960.6 1084.1 959.5 1086.3 959.6 C1088.5 959.8 1090.6 959.9 1092.8 960.2 C1095.0 960.5 1097.1 961.5 1099.3 961.5 C1101.5 961.4 1103.7 960.3 1105.8 960.0 C1108.0 959.8 1110.2 960.0 1112.3 959.8 C1114.5 959.6 1116.7 958.6 1118.8 958.8 C1121.0 958.9 1123.2 960.8 1125.3 960.8 C1127.5 960.8 1129.7 959.4 1131.8 958.8 C1134.0 958.2 1136.2 957.5 1138.4 957.1 C1140.5 956.8 1142.7 955.8 1144.9 956.6 C1147.0 957.3 1149.2 960.9 1151.4 961.5 C1153.5 962.0 1155.7 960.1 1157.9 959.9 C1160.0 959.6 1162.2 960.2 1164.4 960.1 C1166.5 960.1 1168.7 959.6 1170.9 959.5 C1173.0 959.5 1175.2 959.7 1177.4 959.9 C1179.6 960.1 1181.7 960.7 1183.9 960.6 C1186.1 960.5 1188.2 959.5 1190.4 959.4 C1192.6 959.2 1194.7 959.5 1196.9 959.5 C1199.1 959.5 1201.2 959.6 1203.4 959.6 C1205.6 959.5 1207.7 959.6 1209.9 959.3 C1212.1 959.0 1214.2 957.9 1216.4 957.8 C1218.6 957.6 1220.8 958.2 1222.9 958.5 C1225.1 958.7 1227.3 959.1 1229.4 959.3 C1231.6 959.4 1233.8 959.6 1235.9 959.3 C1238.1 959.0 1240.3 957.6 1242.4 957.6 C1244.6 957.7 1246.8 959.1 1248.9 959.5 C1251.1 959.9 1253.3 959.8 1255.5 959.9 C1257.6 960.0 1259.8 960.2 1262.0 960.2 C1264.1 960.2 1266.3 960.0 1268.5 959.9 C1270.6 959.9 1272.8 959.9 1275.0 959.9 C1277.1 960.0 1279.3 960.1 1281.5 960.1 C1283.6 960.2 1285.8 960.6 1288.0 960.4 C1290.1 960.1 1292.3 958.7 1294.5 958.6 C1296.7 958.5 1298.8 959.5 1301.0 959.8 C1303.2 960.1 1305.3 960.1 1307.5 960.3 C1309.7 960.5 1311.8 960.7 1314.0 960.7 C1316.2 960.7 1318.3 961.4 1320.5 960.4 C1322.7 959.4 1324.8 955.7 1327.0 954.8 C1329.2 953.9 1331.4 953.9 1333.5 954.8 C1335.7 955.6 1337.9 959.2 1340.0 960.1 C1342.2 960.9 1344.4 959.9 1346.5 959.9 C1348.7 959.9 1350.9 960.0 1353.0 960.1 C1355.2 960.2 1357.4 960.8 1359.5 960.6 C1361.7 960.4 1363.9 959.3 1366.0 959.1 C1368.2 959.0 1370.4 959.8 1372.6 959.7 C1374.7 959.6 1376.9 958.3 1379.1 958.4 C1381.2 958.5 1383.4 960.1 1385.6 960.4 C1387.7 960.7 1389.9 960.2 1392.1 960.0 C1394.2 959.9 1396.4 959.4 1398.6 959.4 C1400.7 959.4 1402.9 959.9 1405.1 960.1 C1407.2 960.3 1409.4 960.7 1411.6 960.8 C1413.8 960.9 1415.9 960.7 1418.1 960.5 C1420.3 960.4 1422.4 960.0 1424.6 959.9 C1426.8 959.7 1428.9 959.7 1431.1 959.7 C1433.3 959.7 1435.4 960.1 1437.6 960.0 C1439.8 959.9 1441.9 959.4 1444.1 959.3 C1446.3 959.2 1448.5 959.3 1450.6 959.3 C1452.8 959.4 1455.0 959.6 1457.1 959.7 C1459.3 959.8 1461.5 959.9 1463.6 959.9 C1465.8 960.0 1468.0 960.1 1470.1 960.1 C1472.3 960.0 1474.5 960.1 1476.6 959.6 C1478.8 959.1 1481.0 957.3 1483.1 956.9 C1485.3 956.6 1487.5 957.4 1489.7 957.5 C1491.8 957.5 1494.0 957.2 1496.2 957.2 C1498.3 957.3 1500.5 957.5 1502.7 957.7 C1504.8 957.9 1507.0 957.9 1509.2 958.4 C1511.3 958.8 1513.5 960.4 1515.7 960.5 C1517.8 960.7 1520.0 959.6 1522.2 959.5 C1524.3 959.3 1526.5 959.7 1528.7 959.7 C1530.9 959.6 1533.0 958.9 1535.2 959.0 C1537.4 959.0 1539.5 959.8 1541.7 959.9 C1543.9 960.0 1546.0 959.7 1548.2 959.4 C1550.4 959.1 1552.5 957.9 1554.7 957.9 C1556.9 957.9 1543.9 958.9 1561.2 959.3 C1578.6 959.7 1641.5 960.2 1658.8 960.3 C1676.1 960.4 1663.1 960.1 1665.3 960.0 C1667.5 960.0 1669.6 959.8 1671.8 959.9 C1674.0 959.9 1676.1 960.6 1678.3 960.5 C1680.5 960.5 1682.7 959.9 1684.8 959.6 C1687.0 959.4 1689.2 959.2 1691.3 959.3 C1693.5 959.4 1695.7 960.3 1697.8 960.2 C1700.0 960.1 1702.2 958.8 1704.3 958.7 C1706.5 958.7 1708.7 959.9 1710.8 960.1 C1713.0 960.3 1715.2 960.1 1717.3 960.1 C1719.5 960.1 1721.7 960.0 1723.9 960.1 C1726.0 960.1 1728.2 960.4 1730.4 960.4 C1732.5 960.3 1734.7 960.3 1736.9 959.7 C1739.0 959.1 1741.2 957.4 1743.4 956.8 C1745.5 956.1 1747.7 955.8 1749.9 955.8 C1752.0 955.7 1754.2 955.8 1756.4 956.4 C1758.6 957.1 1760.7 959.0 1762.9 959.6 C1765.1 960.2 1767.2 959.9 1769.4 960.1 C1771.6 960.3 1773.7 961.7 1775.9 960.8 C1778.1 959.9 1780.2 955.7 1782.4 954.8 C1784.6 953.9 1786.7 954.5 1788.9 955.3 C1791.1 956.0 1793.2 958.6 1795.4 959.4 C1797.6 960.1 1799.8 960.0 1801.9 960.0 C1804.1 959.9 1806.3 959.7 1808.4 958.9 C1810.6 958.1 1812.8 955.8 1814.9 955.1 C1817.1 954.5 1819.3 954.3 1821.4 955.1 C1823.6 955.8 1825.8 959.0 1827.9 959.8 C1830.1 960.6 1832.3 959.9 1834.5 959.8 C1836.6 959.8 1838.8 959.6 1841.0 959.5 C1843.1 959.5 1845.3 959.2 1847.5 959.4 C1849.6 959.5 1851.8 961.0 1854.0 960.4 C1856.1 959.7 1858.3 956.6 1860.5 955.6 C1862.6 954.6 1864.8 954.2 1867.0 954.3 C1869.1 954.4 1871.3 955.0 1873.5 955.9 C1875.7 956.9 1877.8 959.4 1880.0 960.1 C1882.2 960.8 1884.3 960.2 1886.5 960.4 C1888.7 960.5 1890.8 961.0 1893.0 960.8 C1895.2 960.6 1897.3 959.4 1899.5 959.2 C1901.7 959.1 1903.8 959.8 1906.0 959.9 C1908.2 960.0 1910.3 959.9 1912.5 959.8 C1914.7 959.6 1916.9 959.0 1919.0 958.8 C1921.2 958.6 1923.4 958.1 1925.5 958.4 C1927.7 958.7 1929.9 960.3 1932.0 960.5 C1934.2 960.6 1936.4 959.4 1938.5 959.3 C1940.7 959.1 1942.9 959.5 1945.0 959.6 C1947.2 959.6 1949.4 959.7 1951.6 959.7 C1953.7 959.7 1955.9 959.6 1958.1 959.6 C1960.2 959.7 1962.4 960.1 1964.6 959.9 C1966.7 959.8 1968.9 959.0 1971.1 959.0 C1973.2 958.9 1975.4 959.4 1977.6 959.6 C1979.7 959.7 1981.9 959.8 1984.1 959.7 C1986.2 959.7 1988.4 959.2 1990.6 959.2 C1992.8 959.1 1994.9 959.3 1997.1 959.4 C1999.3 959.5 2001.4 959.6 2003.6 959.7 C2005.8 959.7 2007.9 960.8 2010.1 959.7 C2012.3 958.6 2014.4 954.0 2016.6 953.0 C2018.8 952.1 2020.9 952.6 2023.1 953.8 C2025.3 955.0 2027.4 958.9 2029.6 960.0 C2031.8 961.1 2034.0 960.4 2036.1 960.5 C2038.3 960.5 2040.5 960.1 2042.6 960.1 C2044.8 960.2 2047.0 961.0 2049.1 960.6 C2051.3 960.2 2053.5 958.2 2055.6 957.7 C2057.8 957.2 2060.0 957.4 2062.1 957.6 C2064.3 957.8 2066.5 959.0 2068.7 959.0 C2070.8 959.0 2073.0 958.0 2075.2 957.7 C2077.3 957.4 2079.5 957.4 2081.7 957.3 C2083.8 957.3 2086.0 957.5 2088.2 957.6 C2090.3 957.8 2093.2 958.1 2094.7 958.3 C2096.2 958.6 2096.9 959.0 2097.3 959.2" fill="none" stroke="#85bd72" stroke-width="1.45" stroke-linejoin="round"/>
<path d="M829.4 960.0 C829.9 959.8 831.0 958.7 832.6 959.0 C834.2 959.2 836.9 961.0 839.1 961.3 C841.3 961.5 843.4 960.6 845.6 960.5 C847.8 960.4 849.9 960.8 852.1 960.8 C854.3 960.7 856.4 960.6 858.6 960.2 C860.8 959.8 862.9 958.7 865.1 958.3 C867.3 957.9 869.5 957.1 871.6 957.6 C873.8 958.2 876.0 960.9 878.1 961.4 C880.3 961.9 882.5 960.5 884.6 960.5 C886.8 960.4 889.0 960.9 891.1 961.0 C893.3 961.0 895.5 960.8 897.6 960.7 C899.8 960.7 902.0 960.9 904.1 960.8 C906.3 960.7 908.5 960.1 910.7 960.3 C912.8 960.5 915.0 962.0 917.2 962.1 C919.3 962.1 921.5 960.7 923.7 960.7 C925.8 960.6 928.0 961.9 930.2 961.8 C932.3 961.7 934.5 960.1 936.7 960.1 C938.8 960.2 941.0 961.8 943.2 962.1 C945.4 962.3 947.5 961.5 949.7 961.5 C951.9 961.4 954.0 962.4 956.2 961.9 C958.4 961.4 960.5 958.6 962.7 958.5 C964.9 958.5 967.0 961.3 969.2 961.6 C971.4 962.0 973.5 960.9 975.7 960.8 C977.9 960.7 980.0 961.0 982.2 961.2 C984.4 961.4 986.6 962.0 988.7 961.9 C990.9 961.9 993.1 961.3 995.2 961.1 C997.4 960.8 999.6 960.5 1001.7 960.4 C1003.9 960.4 1006.1 961.0 1008.2 961.0 C1010.4 960.9 1012.6 960.3 1014.7 960.3 C1016.9 960.3 1019.1 961.0 1021.3 961.1 C1023.4 961.2 1025.6 960.8 1027.8 960.8 C1029.9 960.8 1032.1 961.1 1034.3 961.1 C1036.4 961.1 1038.6 960.9 1040.8 960.6 C1042.9 960.4 1045.1 959.7 1047.3 959.7 C1049.4 959.7 1051.6 960.5 1053.8 960.6 C1055.9 960.8 1058.1 960.6 1060.3 960.7 C1062.5 960.8 1064.6 961.1 1066.8 961.2 C1069.0 961.3 1071.1 961.5 1073.3 961.3 C1075.5 961.1 1077.6 959.9 1079.8 960.0 C1082.0 960.0 1084.1 961.3 1086.3 961.5 C1088.5 961.8 1090.6 961.5 1092.8 961.4 C1095.0 961.3 1097.1 961.4 1099.3 960.9 C1101.5 960.4 1103.7 959.1 1105.8 958.5 C1108.0 957.8 1110.2 956.4 1112.3 957.0 C1114.5 957.7 1116.7 961.7 1118.8 962.3 C1121.0 962.9 1123.2 960.9 1125.3 960.6 C1127.5 960.3 1129.7 960.3 1131.8 960.4 C1134.0 960.6 1136.2 961.4 1138.4 961.5 C1140.5 961.7 1142.7 961.4 1144.9 961.2 C1147.0 961.1 1149.2 960.8 1151.4 960.6 C1153.5 960.4 1155.7 959.7 1157.9 959.9 C1160.0 960.0 1162.2 961.5 1164.4 961.4 C1166.5 961.3 1168.7 959.5 1170.9 959.3 C1173.0 959.1 1175.2 960.1 1177.4 960.3 C1179.6 960.4 1181.7 960.1 1183.9 959.9 C1186.1 959.7 1188.2 958.9 1190.4 959.0 C1192.6 959.0 1194.7 960.0 1196.9 960.1 C1199.1 960.3 1201.2 959.8 1203.4 960.0 C1205.6 960.1 1207.7 960.9 1209.9 961.0 C1212.1 961.0 1214.2 960.2 1216.4 960.2 C1218.6 960.1 1220.8 961.0 1222.9 960.9 C1225.1 960.8 1227.3 959.4 1229.4 959.4 C1231.6 959.5 1233.8 961.0 1235.9 961.1 C1238.1 961.2 1240.3 960.1 1242.4 960.0 C1244.6 959.8 1246.8 959.6 1248.9 960.0 C1251.1 960.3 1253.3 961.9 1255.5 962.2 C1257.6 962.4 1259.8 961.8 1262.0 961.4 C1264.1 961.0 1266.3 959.8 1268.5 959.8 C1270.6 959.7 1272.8 960.9 1275.0 961.1 C1277.1 961.2 1279.3 960.7 1281.5 960.6 C1283.6 960.6 1285.8 960.8 1288.0 960.8 C1290.1 960.9 1292.3 960.9 1294.5 960.9 C1296.7 960.9 1298.8 960.9 1301.0 960.9 C1303.2 960.9 1305.3 961.1 1307.5 961.1 C1309.7 961.2 1311.8 961.0 1314.0 961.0 C1316.2 961.0 1318.3 961.2 1320.5 961.1 C1322.7 961.1 1324.8 960.6 1327.0 960.6 C1329.2 960.7 1331.4 961.6 1333.5 961.3 C1335.7 961.1 1337.9 959.2 1340.0 959.2 C1342.2 959.1 1344.4 960.8 1346.5 960.9 C1348.7 961.1 1350.9 960.1 1353.0 960.1 C1355.2 960.0 1357.4 960.5 1359.5 960.6 C1361.7 960.8 1363.9 960.9 1366.0 960.9 C1368.2 960.9 1370.4 960.6 1372.6 960.5 C1374.7 960.5 1376.9 960.7 1379.1 960.6 C1381.2 960.5 1383.4 960.2 1385.6 960.2 C1387.7 960.2 1389.9 960.6 1392.1 960.5 C1394.2 960.5 1396.4 959.8 1398.6 959.8 C1400.7 959.7 1402.9 959.8 1405.1 960.0 C1407.2 960.2 1409.4 961.2 1411.6 960.9 C1413.8 960.5 1415.9 958.2 1418.1 958.1 C1420.3 958.0 1422.4 959.9 1424.6 960.3 C1426.8 960.7 1428.9 960.4 1431.1 960.5 C1433.3 960.6 1435.4 960.7 1437.6 960.9 C1439.8 961.1 1441.9 961.7 1444.1 961.8 C1446.3 961.8 1448.5 961.5 1450.6 961.2 C1452.8 960.9 1455.0 960.1 1457.1 959.8 C1459.3 959.6 1461.5 959.6 1463.6 959.6 C1465.8 959.5 1468.0 959.4 1470.1 959.6 C1472.3 959.8 1474.5 960.7 1476.6 960.8 C1478.8 961.0 1481.0 960.2 1483.1 960.2 C1485.3 960.3 1487.5 961.1 1489.7 961.2 C1491.8 961.2 1494.0 960.7 1496.2 960.6 C1498.3 960.5 1500.5 960.5 1502.7 960.6 C1504.8 960.7 1507.0 961.5 1509.2 961.3 C1511.3 961.2 1513.5 959.4 1515.7 959.5 C1517.8 959.7 1520.0 961.8 1522.2 962.1 C1524.3 962.4 1526.5 961.4 1528.7 961.4 C1530.9 961.4 1533.0 962.1 1535.2 961.9 C1537.4 961.8 1539.5 960.8 1541.7 960.6 C1543.9 960.4 1546.0 961.2 1548.2 960.8 C1550.4 960.4 1552.5 958.7 1554.7 958.4 C1556.9 958.0 1543.9 958.2 1561.2 958.7 C1578.6 959.2 1641.5 960.9 1658.8 961.2 C1676.1 961.6 1663.1 960.7 1665.3 960.6 C1667.5 960.6 1669.6 961.1 1671.8 961.1 C1674.0 961.1 1676.1 960.6 1678.3 960.5 C1680.5 960.4 1682.7 960.5 1684.8 960.7 C1687.0 960.8 1689.2 961.4 1691.3 961.5 C1693.5 961.5 1695.7 961.0 1697.8 960.8 C1700.0 960.7 1702.2 960.8 1704.3 960.8 C1706.5 960.8 1708.7 961.1 1710.8 961.0 C1713.0 961.0 1715.2 960.5 1717.3 960.3 C1719.5 960.1 1721.7 959.7 1723.9 959.8 C1726.0 959.9 1728.2 960.9 1730.4 961.1 C1732.5 961.3 1734.7 960.9 1736.9 961.1 C1739.0 961.3 1741.2 962.2 1743.4 962.2 C1745.5 962.2 1747.7 961.1 1749.9 960.9 C1752.0 960.7 1754.2 960.9 1756.4 961.1 C1758.6 961.3 1760.7 962.5 1762.9 962.2 C1765.1 961.8 1767.2 959.7 1769.4 959.1 C1771.6 958.6 1773.7 958.8 1775.9 958.9 C1778.1 959.0 1780.2 959.6 1782.4 959.7 C1784.6 959.8 1786.7 959.5 1788.9 959.5 C1791.1 959.5 1793.2 960.0 1795.4 959.9 C1797.6 959.8 1799.8 958.8 1801.9 958.8 C1804.1 958.9 1806.3 959.8 1808.4 960.2 C1810.6 960.6 1812.8 961.1 1814.9 961.0 C1817.1 960.9 1819.3 959.7 1821.4 959.7 C1823.6 959.6 1825.8 960.7 1827.9 960.8 C1830.1 961.0 1832.3 960.5 1834.5 960.6 C1836.6 960.6 1838.8 960.8 1841.0 960.9 C1843.1 961.1 1845.3 961.6 1847.5 961.6 C1849.6 961.6 1851.8 961.0 1854.0 960.9 C1856.1 960.7 1858.3 960.5 1860.5 960.6 C1862.6 960.7 1864.8 961.5 1867.0 961.5 C1869.1 961.5 1871.3 960.9 1873.5 960.6 C1875.7 960.4 1877.8 960.2 1880.0 960.1 C1882.2 960.0 1884.3 959.9 1886.5 960.2 C1888.7 960.5 1890.8 961.6 1893.0 961.8 C1895.2 962.0 1897.3 961.4 1899.5 961.4 C1901.7 961.4 1903.8 962.0 1906.0 961.8 C1908.2 961.6 1910.3 960.4 1912.5 960.2 C1914.7 960.0 1916.9 960.4 1919.0 960.5 C1921.2 960.5 1923.4 960.3 1925.5 960.4 C1927.7 960.6 1929.9 961.2 1932.0 961.4 C1934.2 961.6 1936.4 961.7 1938.5 961.6 C1940.7 961.5 1942.9 960.9 1945.0 960.8 C1947.2 960.7 1949.4 960.7 1951.6 960.8 C1953.7 960.9 1955.9 961.4 1958.1 961.4 C1960.2 961.4 1962.4 960.9 1964.6 960.8 C1966.7 960.6 1968.9 960.5 1971.1 960.5 C1973.2 960.4 1975.4 960.5 1977.6 960.7 C1979.7 960.9 1981.9 961.2 1984.1 961.5 C1986.2 961.7 1988.4 962.2 1990.6 962.1 C1992.8 962.1 1994.9 961.5 1997.1 961.0 C1999.3 960.6 2001.4 959.6 2003.6 959.4 C2005.8 959.2 2007.9 959.4 2010.1 959.7 C2012.3 960.0 2014.4 960.8 2016.6 961.1 C2018.8 961.4 2020.9 961.4 2023.1 961.3 C2025.3 961.2 2027.4 960.5 2029.6 960.4 C2031.8 960.3 2034.0 961.0 2036.1 960.9 C2038.3 960.7 2040.5 959.3 2042.6 959.4 C2044.8 959.5 2047.0 961.1 2049.1 961.4 C2051.3 961.7 2053.5 961.3 2055.6 961.2 C2057.8 961.1 2060.0 960.7 2062.1 960.8 C2064.3 960.8 2066.5 961.3 2068.7 961.5 C2070.8 961.6 2073.0 961.7 2075.2 961.6 C2077.3 961.5 2079.5 961.3 2081.7 961.1 C2083.8 960.8 2086.0 960.2 2088.2 960.1 C2090.3 960.1 2093.2 960.8 2094.7 960.7 C2096.2 960.7 2096.9 960.1 2097.3 960.0" fill="none" stroke="#eccd47" stroke-width="1.45" stroke-linejoin="round"/>
<path d="M829.4 964.3 C829.9 964.5 831.0 965.4 832.6 965.4 C834.2 965.4 836.9 964.5 839.1 964.5 C841.3 964.6 843.4 965.6 845.6 965.6 C847.8 965.5 849.9 964.2 852.1 964.2 C854.3 964.2 856.4 965.4 858.6 965.4 C860.8 965.4 862.9 964.3 865.1 964.4 C867.3 964.4 869.5 965.6 871.6 965.7 C873.8 965.8 876.0 965.3 878.1 965.1 C880.3 964.8 882.5 964.1 884.6 964.2 C886.8 964.2 889.0 965.2 891.1 965.3 C893.3 965.4 895.5 964.8 897.6 964.8 C899.8 964.7 902.0 964.9 904.1 965.1 C906.3 965.3 908.5 966.2 910.7 966.1 C912.8 966.0 915.0 964.9 917.2 964.6 C919.3 964.4 921.5 964.4 923.7 964.6 C925.8 964.7 928.0 965.4 930.2 965.4 C932.3 965.4 934.5 964.5 936.7 964.5 C938.8 964.5 941.0 965.1 943.2 965.3 C945.4 965.4 947.5 965.4 949.7 965.4 C951.9 965.3 954.0 964.8 956.2 964.8 C958.4 964.8 960.5 965.4 962.7 965.2 C964.9 965.0 967.0 963.5 969.2 963.6 C971.4 963.6 973.5 965.5 975.7 965.7 C977.9 965.8 980.0 964.6 982.2 964.4 C984.4 964.2 986.6 964.0 988.7 964.3 C990.9 964.5 993.1 965.7 995.2 965.9 C997.4 966.2 999.6 966.3 1001.7 965.8 C1003.9 965.2 1006.1 962.9 1008.2 962.4 C1010.4 962.0 1012.6 962.6 1014.7 963.0 C1016.9 963.4 1019.1 964.4 1021.3 964.6 C1023.4 964.8 1025.6 964.1 1027.8 964.2 C1029.9 964.3 1032.1 964.8 1034.3 965.0 C1036.4 965.2 1038.6 965.2 1040.8 965.4 C1042.9 965.6 1045.1 966.4 1047.3 966.3 C1049.4 966.2 1051.6 964.9 1053.8 964.7 C1055.9 964.5 1058.1 965.3 1060.3 965.3 C1062.5 965.3 1064.6 964.7 1066.8 964.6 C1069.0 964.5 1071.1 964.5 1073.3 964.7 C1075.5 964.8 1077.6 965.7 1079.8 965.6 C1082.0 965.4 1084.1 964.1 1086.3 963.9 C1088.5 963.6 1090.6 964.1 1092.8 964.2 C1095.0 964.3 1097.1 964.1 1099.3 964.3 C1101.5 964.6 1103.7 965.4 1105.8 965.5 C1108.0 965.6 1110.2 965.1 1112.3 965.0 C1114.5 965.0 1116.7 965.1 1118.8 965.1 C1121.0 965.1 1123.2 965.4 1125.3 965.0 C1127.5 964.7 1129.7 963.3 1131.8 963.2 C1134.0 963.1 1136.2 964.3 1138.4 964.6 C1140.5 964.8 1142.7 964.7 1144.9 964.7 C1147.0 964.7 1149.2 964.5 1151.4 964.6 C1153.5 964.7 1155.7 965.2 1157.9 965.1 C1160.0 965.0 1162.2 964.2 1164.4 964.1 C1166.5 964.0 1168.7 964.3 1170.9 964.7 C1173.0 965.1 1175.2 966.2 1177.4 966.3 C1179.6 966.4 1181.7 965.4 1183.9 965.2 C1186.1 964.9 1188.2 965.0 1190.4 964.8 C1192.6 964.7 1194.7 964.3 1196.9 964.3 C1199.1 964.3 1201.2 964.9 1203.4 965.0 C1205.6 965.1 1207.7 964.9 1209.9 965.0 C1212.1 965.0 1214.2 965.3 1216.4 965.2 C1218.6 965.1 1220.8 964.6 1222.9 964.4 C1225.1 964.3 1227.3 964.4 1229.4 964.4 C1231.6 964.4 1233.8 964.5 1235.9 964.5 C1238.1 964.5 1240.3 964.7 1242.4 964.6 C1244.6 964.5 1246.8 963.9 1248.9 963.9 C1251.1 963.8 1253.3 964.3 1255.5 964.5 C1257.6 964.7 1259.8 965.1 1262.0 965.1 C1264.1 965.1 1266.3 964.5 1268.5 964.5 C1270.6 964.5 1272.8 965.2 1275.0 965.2 C1277.1 965.2 1279.3 964.7 1281.5 964.6 C1283.6 964.5 1285.8 964.7 1288.0 964.6 C1290.1 964.5 1292.3 964.2 1294.5 964.2 C1296.7 964.1 1298.8 964.3 1301.0 964.2 C1303.2 964.2 1305.3 964.1 1307.5 964.0 C1309.7 963.9 1311.8 963.5 1314.0 963.7 C1316.2 964.0 1318.3 965.5 1320.5 965.5 C1322.7 965.5 1324.8 964.1 1327.0 963.9 C1329.2 963.7 1331.4 964.5 1333.5 964.6 C1335.7 964.6 1337.9 964.0 1340.0 964.0 C1342.2 964.1 1344.4 964.7 1346.5 965.0 C1348.7 965.3 1350.9 966.1 1353.0 965.9 C1355.2 965.8 1357.4 964.2 1359.5 964.0 C1361.7 963.8 1363.9 964.9 1366.0 964.8 C1368.2 964.6 1370.4 963.4 1372.6 963.1 C1374.7 962.9 1376.9 963.2 1379.1 963.2 C1381.2 963.1 1383.4 962.9 1385.6 962.9 C1387.7 962.8 1389.9 962.7 1392.1 962.9 C1394.2 963.1 1396.4 963.9 1398.6 964.1 C1400.7 964.3 1402.9 964.0 1405.1 964.2 C1407.2 964.4 1409.4 965.0 1411.6 965.1 C1413.8 965.2 1415.9 965.3 1418.1 965.1 C1420.3 964.9 1422.4 964.0 1424.6 963.9 C1426.8 963.7 1428.9 964.1 1431.1 964.3 C1433.3 964.5 1435.4 964.7 1437.6 965.0 C1439.8 965.3 1441.9 965.9 1444.1 965.8 C1446.3 965.8 1448.5 964.9 1450.6 964.7 C1452.8 964.5 1455.0 964.5 1457.1 964.5 C1459.3 964.5 1461.5 965.0 1463.6 964.9 C1465.8 964.7 1468.0 963.8 1470.1 963.5 C1472.3 963.3 1474.5 962.9 1476.6 963.3 C1478.8 963.6 1481.0 965.3 1483.1 965.5 C1485.3 965.7 1487.5 964.9 1489.7 964.7 C1491.8 964.5 1494.0 964.4 1496.2 964.4 C1498.3 964.3 1500.5 964.1 1502.7 964.3 C1504.8 964.4 1507.0 965.1 1509.2 965.2 C1511.3 965.3 1513.5 964.8 1515.7 964.7 C1517.8 964.6 1520.0 964.4 1522.2 964.5 C1524.3 964.6 1526.5 965.0 1528.7 965.1 C1530.9 965.2 1533.0 965.1 1535.2 964.9 C1537.4 964.7 1539.5 964.0 1541.7 963.6 C1543.9 963.3 1546.0 962.6 1548.2 962.7 C1550.4 962.8 1552.5 963.9 1554.7 964.3 C1556.9 964.7 1543.9 965.2 1561.2 965.1 C1578.6 964.9 1641.5 963.4 1658.8 963.2 C1676.1 963.1 1663.1 963.9 1665.3 964.2 C1667.5 964.5 1669.6 964.8 1671.8 964.8 C1674.0 964.8 1676.1 964.6 1678.3 964.2 C1680.5 963.7 1682.7 962.2 1684.8 962.2 C1687.0 962.2 1689.2 963.8 1691.3 964.2 C1693.5 964.5 1695.7 964.3 1697.8 964.4 C1700.0 964.5 1702.2 964.7 1704.3 964.8 C1706.5 964.9 1708.7 965.3 1710.8 965.1 C1713.0 964.9 1715.2 963.9 1717.3 963.6 C1719.5 963.2 1721.7 963.1 1723.9 963.1 C1726.0 963.2 1728.2 963.7 1730.4 963.9 C1732.5 964.1 1734.7 964.1 1736.9 964.3 C1739.0 964.5 1741.2 965.1 1743.4 965.4 C1745.5 965.6 1747.7 965.8 1749.9 965.8 C1752.0 965.8 1754.2 965.4 1756.4 965.4 C1758.6 965.4 1760.7 965.7 1762.9 965.7 C1765.1 965.8 1767.2 966.0 1769.4 965.6 C1771.6 965.2 1773.7 963.3 1775.9 963.2 C1778.1 963.1 1780.2 964.7 1782.4 964.9 C1784.6 965.2 1786.7 964.8 1788.9 964.7 C1791.1 964.6 1793.2 964.3 1795.4 964.2 C1797.6 964.1 1799.8 964.0 1801.9 964.1 C1804.1 964.3 1806.3 965.1 1808.4 965.1 C1810.6 965.1 1812.8 964.2 1814.9 964.1 C1817.1 964.0 1819.3 964.5 1821.4 964.6 C1823.6 964.7 1825.8 964.8 1827.9 964.8 C1830.1 964.8 1832.3 964.4 1834.5 964.6 C1836.6 964.7 1838.8 965.5 1841.0 965.6 C1843.1 965.7 1845.3 965.4 1847.5 965.2 C1849.6 965.1 1851.8 965.0 1854.0 964.9 C1856.1 964.7 1858.3 964.5 1860.5 964.5 C1862.6 964.5 1864.8 965.0 1867.0 965.0 C1869.1 965.1 1871.3 965.0 1873.5 964.9 C1875.7 964.8 1877.8 964.4 1880.0 964.3 C1882.2 964.1 1884.3 964.0 1886.5 964.0 C1888.7 964.1 1890.8 964.4 1893.0 964.4 C1895.2 964.4 1897.3 964.3 1899.5 964.1 C1901.7 963.9 1903.8 963.4 1906.0 963.3 C1908.2 963.1 1910.3 963.0 1912.5 963.2 C1914.7 963.5 1916.9 964.3 1919.0 964.6 C1921.2 964.9 1923.4 964.9 1925.5 965.0 C1927.7 965.1 1929.9 965.5 1932.0 965.1 C1934.2 964.7 1936.4 962.6 1938.5 962.3 C1940.7 962.0 1942.9 962.8 1945.0 963.3 C1947.2 963.8 1949.4 965.1 1951.6 965.3 C1953.7 965.5 1955.9 964.8 1958.1 964.5 C1960.2 964.3 1962.4 963.8 1964.6 963.8 C1966.7 963.8 1968.9 964.7 1971.1 964.8 C1973.2 964.8 1975.4 964.1 1977.6 964.1 C1979.7 964.2 1981.9 964.9 1984.1 965.1 C1986.2 965.2 1988.4 965.1 1990.6 965.1 C1992.8 965.1 1994.9 965.2 1997.1 965.2 C1999.3 965.2 2001.4 965.1 2003.6 964.9 C2005.8 964.7 2007.9 963.7 2010.1 963.8 C2012.3 963.9 2014.4 965.4 2016.6 965.4 C2018.8 965.5 2020.9 964.2 2023.1 963.9 C2025.3 963.7 2027.4 964.1 2029.6 964.0 C2031.8 964.0 2034.0 963.6 2036.1 963.6 C2038.3 963.7 2040.5 964.2 2042.6 964.4 C2044.8 964.5 2047.0 964.7 2049.1 964.5 C2051.3 964.2 2053.5 962.8 2055.6 962.7 C2057.8 962.6 2060.0 963.4 2062.1 963.8 C2064.3 964.1 2066.5 964.3 2068.7 964.6 C2070.8 964.9 2073.0 965.6 2075.2 965.4 C2077.3 965.2 2079.5 963.5 2081.7 963.4 C2083.8 963.3 2086.0 964.7 2088.2 964.9 C2090.3 965.1 2093.2 964.6 2094.7 964.7 C2096.2 964.8 2096.9 965.3 2097.3 965.4" fill="none" stroke="#94b7f9" stroke-width="1.45" stroke-linejoin="round"/>
<path d="M855.0 1336.0 C1059.7 1336.0 1878.3 1336.0 2083.0 1336.0" fill="none" stroke="#ee8033" stroke-width="1.45" stroke-linejoin="round"/>
<path d="M829.4 953.2 C829.9 953.2 831.0 952.7 832.6 952.9 C834.2 953.1 836.9 953.9 839.1 954.2 C841.3 954.5 843.4 954.5 845.6 954.5 C847.8 954.6 849.9 954.1 852.1 954.3 C854.3 954.6 856.4 956.0 858.6 956.0 C860.8 955.9 862.9 954.5 865.1 954.0 C867.3 953.6 869.5 953.3 871.6 953.3 C873.8 953.3 876.0 954.1 878.1 953.9 C880.3 953.8 882.5 952.2 884.6 952.4 C886.8 952.7 889.0 954.9 891.1 955.3 C893.3 955.6 895.5 954.6 897.6 954.6 C899.8 954.6 902.0 955.4 904.1 955.4 C906.3 955.3 908.5 954.4 910.7 954.3 C912.8 954.3 915.0 955.3 917.2 955.1 C919.3 954.9 921.5 953.3 923.7 953.1 C925.8 952.9 928.0 953.4 930.2 953.9 C932.3 954.4 934.5 955.9 936.7 956.0 C938.8 956.1 941.0 955.1 943.2 954.6 C945.4 954.0 947.5 953.0 949.7 952.8 C951.9 952.6 954.0 953.3 956.2 953.2 C958.4 953.2 960.5 952.9 962.7 952.8 C964.9 952.6 967.0 952.7 969.2 952.5 C971.4 952.4 973.5 951.6 975.7 951.8 C977.9 951.9 980.0 953.3 982.2 953.3 C984.4 953.3 986.6 951.7 988.7 951.7 C990.9 951.8 993.1 953.1 995.2 953.5 C997.4 954.0 999.6 954.2 1001.7 954.4 C1003.9 954.5 1006.1 954.5 1008.2 954.4 C1010.4 954.3 1012.6 953.9 1014.7 953.9 C1016.9 953.9 1019.1 954.7 1021.3 954.6 C1023.4 954.5 1025.6 953.7 1027.8 953.6 C1029.9 953.4 1032.1 953.7 1034.3 953.7 C1036.4 953.6 1038.6 953.7 1040.8 953.4 C1042.9 953.2 1045.1 952.3 1047.3 952.3 C1049.4 952.3 1051.6 953.1 1053.8 953.4 C1055.9 953.8 1058.1 954.4 1060.3 954.5 C1062.5 954.5 1064.6 953.6 1066.8 953.8 C1069.0 954.0 1071.1 955.9 1073.3 955.6 C1075.5 955.3 1077.6 952.1 1079.8 952.0 C1082.0 951.9 1084.1 954.5 1086.3 955.0 C1088.5 955.5 1090.6 955.3 1092.8 955.1 C1095.0 955.0 1097.1 954.4 1099.3 954.3 C1101.5 954.3 1103.7 955.0 1105.8 954.9 C1108.0 954.8 1110.2 953.9 1112.3 953.7 C1114.5 953.5 1116.7 953.7 1118.8 953.8 C1121.0 953.9 1123.2 954.3 1125.3 954.3 C1127.5 954.3 1129.7 953.9 1131.8 953.7 C1134.0 953.5 1136.2 953.0 1138.4 953.1 C1140.5 953.2 1142.7 953.9 1144.9 954.3 C1147.0 954.6 1149.2 955.4 1151.4 955.4 C1153.5 955.4 1155.7 954.7 1157.9 954.5 C1160.0 954.4 1162.2 954.6 1164.4 954.3 C1166.5 954.0 1168.7 952.8 1170.9 952.7 C1173.0 952.6 1175.2 953.6 1177.4 953.8 C1179.6 954.0 1181.7 953.8 1183.9 954.0 C1186.1 954.3 1188.2 955.1 1190.4 955.3 C1192.6 955.4 1194.7 954.7 1196.9 954.7 C1199.1 954.7 1201.2 955.3 1203.4 955.3 C1205.6 955.2 1207.7 954.4 1209.9 954.4 C1212.1 954.4 1214.2 955.3 1216.4 955.3 C1218.6 955.2 1220.8 954.3 1222.9 954.2 C1225.1 954.1 1227.3 954.5 1229.4 954.5 C1231.6 954.5 1233.8 954.1 1235.9 954.2 C1238.1 954.2 1240.3 954.6 1242.4 954.8 C1244.6 955.1 1246.8 956.1 1248.9 955.6 C1251.1 955.2 1253.3 952.2 1255.5 952.1 C1257.6 951.9 1259.8 954.5 1262.0 954.9 C1264.1 955.2 1266.3 954.1 1268.5 953.9 C1270.6 953.7 1272.8 953.5 1275.0 953.4 C1277.1 953.3 1279.3 953.3 1281.5 953.3 C1283.6 953.3 1285.8 953.4 1288.0 953.6 C1290.1 953.8 1292.3 954.5 1294.5 954.5 C1296.7 954.6 1298.8 953.7 1301.0 953.9 C1303.2 954.1 1305.3 955.6 1307.5 955.7 C1309.7 955.7 1311.8 954.3 1314.0 954.2 C1316.2 954.1 1318.3 954.8 1320.5 954.9 C1322.7 955.0 1324.8 955.4 1327.0 954.8 C1329.2 954.3 1331.4 952.2 1333.5 951.6 C1335.7 951.0 1337.9 951.1 1340.0 951.4 C1342.2 951.8 1344.4 953.0 1346.5 953.7 C1348.7 954.5 1350.9 955.7 1353.0 955.9 C1355.2 956.0 1357.4 954.8 1359.5 954.7 C1361.7 954.6 1363.9 955.6 1366.0 955.2 C1368.2 954.8 1370.4 952.6 1372.6 952.2 C1374.7 951.9 1376.9 953.1 1379.1 953.2 C1381.2 953.3 1383.4 952.7 1385.6 952.7 C1387.7 952.7 1389.9 953.2 1392.1 953.2 C1394.2 953.2 1396.4 952.4 1398.6 952.6 C1400.7 952.7 1402.9 953.7 1405.1 954.1 C1407.2 954.5 1409.4 954.9 1411.6 955.0 C1413.8 955.1 1415.9 954.6 1418.1 954.7 C1420.3 954.8 1422.4 955.6 1424.6 955.6 C1426.8 955.6 1428.9 955.0 1431.1 954.6 C1433.3 954.2 1435.4 953.1 1437.6 953.1 C1439.8 953.2 1441.9 954.9 1444.1 955.1 C1446.3 955.2 1448.5 953.9 1450.6 954.1 C1452.8 954.2 1455.0 955.7 1457.1 956.0 C1459.3 956.3 1461.5 955.9 1463.6 955.9 C1465.8 955.8 1468.0 955.7 1470.1 955.6 C1472.3 955.5 1474.5 955.2 1476.6 955.0 C1478.8 954.9 1481.0 954.8 1483.1 954.7 C1485.3 954.7 1487.5 954.8 1489.7 954.8 C1491.8 954.8 1494.0 954.9 1496.2 954.8 C1498.3 954.7 1500.5 954.3 1502.7 954.3 C1504.8 954.3 1507.0 955.1 1509.2 955.0 C1511.3 955.0 1513.5 953.9 1515.7 954.0 C1517.8 954.0 1520.0 955.6 1522.2 955.5 C1524.3 955.4 1526.5 953.3 1528.7 953.5 C1530.9 953.6 1533.0 956.1 1535.2 956.2 C1537.4 956.3 1539.5 954.6 1541.7 954.1 C1543.9 953.5 1546.0 953.1 1548.2 953.1 C1550.4 953.0 1552.5 953.4 1554.7 953.7 C1556.9 953.9 1543.9 954.4 1561.2 954.5 C1578.6 954.5 1641.5 954.0 1658.8 954.0 C1676.1 953.9 1663.1 954.5 1665.3 954.2 C1667.5 953.9 1669.6 952.3 1671.8 952.1 C1674.0 952.0 1676.1 953.4 1678.3 953.4 C1680.5 953.5 1682.7 952.5 1684.8 952.4 C1687.0 952.3 1689.2 952.4 1691.3 952.7 C1693.5 953.0 1695.7 954.4 1697.8 954.1 C1700.0 953.7 1702.2 950.4 1704.3 950.6 C1706.5 950.7 1708.7 954.1 1710.8 955.0 C1713.0 955.8 1715.2 955.7 1717.3 955.6 C1719.5 955.6 1721.7 954.8 1723.9 954.5 C1726.0 954.2 1728.2 953.7 1730.4 953.7 C1732.5 953.6 1734.7 954.2 1736.9 954.3 C1739.0 954.5 1741.2 955.1 1743.4 954.6 C1745.5 954.1 1747.7 951.0 1749.9 951.1 C1752.0 951.2 1754.2 954.9 1756.4 955.4 C1758.6 955.9 1760.7 954.2 1762.9 954.2 C1765.1 954.2 1767.2 955.0 1769.4 955.1 C1771.6 955.2 1773.7 955.2 1775.9 954.7 C1778.1 954.2 1780.2 952.6 1782.4 952.0 C1784.6 951.4 1786.7 950.6 1788.9 951.1 C1791.1 951.7 1793.2 954.7 1795.4 955.3 C1797.6 956.0 1799.8 955.0 1801.9 955.1 C1804.1 955.1 1806.3 955.8 1808.4 955.7 C1810.6 955.6 1812.8 954.6 1814.9 954.5 C1817.1 954.3 1819.3 955.0 1821.4 955.0 C1823.6 955.0 1825.8 954.4 1827.9 954.5 C1830.1 954.6 1832.3 955.3 1834.5 955.4 C1836.6 955.5 1838.8 955.2 1841.0 955.0 C1843.1 954.8 1845.3 954.1 1847.5 954.1 C1849.6 954.1 1851.8 954.8 1854.0 954.9 C1856.1 954.9 1858.3 954.4 1860.5 954.4 C1862.6 954.3 1864.8 954.3 1867.0 954.4 C1869.1 954.5 1871.3 954.8 1873.5 955.0 C1875.7 955.2 1877.8 955.8 1880.0 955.7 C1882.2 955.6 1884.3 954.8 1886.5 954.1 C1888.7 953.5 1890.8 952.3 1893.0 951.8 C1895.2 951.4 1897.3 950.6 1899.5 951.3 C1901.7 952.0 1903.8 955.2 1906.0 956.0 C1908.2 956.7 1910.3 955.7 1912.5 955.8 C1914.7 955.8 1916.9 956.1 1919.0 956.1 C1921.2 956.0 1923.4 955.6 1925.5 955.3 C1927.7 955.0 1929.9 954.6 1932.0 954.1 C1934.2 953.7 1936.4 952.8 1938.5 952.7 C1940.7 952.5 1942.9 952.7 1945.0 953.0 C1947.2 953.4 1949.4 954.5 1951.6 954.7 C1953.7 954.9 1955.9 954.2 1958.1 954.3 C1960.2 954.3 1962.4 954.9 1964.6 954.9 C1966.7 955.0 1968.9 954.6 1971.1 954.5 C1973.2 954.5 1975.4 954.4 1977.6 954.7 C1979.7 954.9 1981.9 956.0 1984.1 956.1 C1986.2 956.1 1988.4 955.3 1990.6 955.0 C1992.8 954.6 1994.9 953.9 1997.1 953.9 C1999.3 953.9 2001.4 955.4 2003.6 955.0 C2005.8 954.6 2007.9 951.3 2010.1 951.3 C2012.3 951.3 2014.4 954.5 2016.6 955.1 C2018.8 955.7 2020.9 955.4 2023.1 955.0 C2025.3 954.7 2027.4 953.0 2029.6 953.0 C2031.8 952.9 2034.0 954.5 2036.1 954.9 C2038.3 955.3 2040.5 955.1 2042.6 955.4 C2044.8 955.7 2047.0 956.7 2049.1 956.6 C2051.3 956.6 2053.5 955.2 2055.6 955.1 C2057.8 955.0 2060.0 955.8 2062.1 955.9 C2064.3 956.1 2066.5 956.1 2068.7 955.9 C2070.8 955.6 2073.0 954.5 2075.2 954.3 C2077.3 954.0 2079.5 954.0 2081.7 954.3 C2083.8 954.6 2086.0 955.9 2088.2 955.9 C2090.3 955.9 2093.2 954.5 2094.7 954.2 C2096.2 954.0 2096.9 954.4 2097.3 954.5" fill="none" stroke="#e05660" stroke-width="1.45" stroke-linejoin="round"/>
<path d="M855.0 1336.0 C1059.7 1336.0 1878.3 1336.0 2083.0 1336.0" fill="none" stroke="#6592eb" stroke-width="1.45" stroke-linejoin="round"/>
<path d="M855.0 1336.0 C1059.7 1336.0 1878.3 1336.0 2083.0 1336.0" fill="none" stroke="#af7ad3" stroke-width="1.45" stroke-linejoin="round"/>
<path d="M855.0 1336.0 C1059.7 1336.0 1878.3 1336.0 2083.0 1336.0" fill="none" stroke="#6d5e9c" stroke-width="1.45" stroke-linejoin="round"/>
<path d="M855.0 1336.0 C1059.7 1336.0 1878.3 1336.0 2083.0 1336.0" fill="none" stroke="#4d853a" stroke-width="1.45" stroke-linejoin="round"/>
<path d="M855.0 1336.0 C1059.7 1336.0 1878.3 1336.0 2083.0 1336.0" fill="none" stroke="#f5df55" stroke-width="1.45" stroke-linejoin="round"/>
</g>
<text x="2150.0" y="280.0" font-size="15.8" fill="#799ef8" textLength="42.8" lengthAdjust="spacingAndGlyphs" stroke="#799ef8" stroke-width="0.5">Name</text>
<text x="2286.4" y="280.0" font-size="15.8" fill="#799ef8" text-anchor="end" textLength="44.0" lengthAdjust="spacingAndGlyphs" stroke="#799ef8" stroke-width="0.5">Last *</text>
<text x="2363.2" y="280.0" font-size="15.8" fill="#799ef8" text-anchor="end" textLength="27.2" lengthAdjust="spacingAndGlyphs" stroke="#799ef8" stroke-width="0.5">Min</text>
<text x="2444.0" y="280.0" font-size="15.8" fill="#799ef8" text-anchor="end" textLength="30.9" lengthAdjust="spacingAndGlyphs" stroke="#799ef8" stroke-width="0.5">Max</text>
<line x1="2111" y1="290.5" x2="2454.4" y2="290.5" stroke="#2c2d33" stroke-width="1"/>
<line x1="2111" y1="321.5" x2="2454.4" y2="321.5" stroke="#2c2d33" stroke-width="1"/>
<line x1="2111" y1="351.5" x2="2454.4" y2="351.5" stroke="#2c2d33" stroke-width="1"/>
<line x1="2111" y1="381.5" x2="2454.4" y2="381.5" stroke="#2c2d33" stroke-width="1"/>
<line x1="2111" y1="411.5" x2="2454.4" y2="411.5" stroke="#2c2d33" stroke-width="1"/>
<line x1="2111" y1="442.5" x2="2454.4" y2="442.5" stroke="#2c2d33" stroke-width="1"/>
<line x1="2111" y1="472.5" x2="2454.4" y2="472.5" stroke="#2c2d33" stroke-width="1"/>
<line x1="2111" y1="502.5" x2="2454.4" y2="502.5" stroke="#2c2d33" stroke-width="1"/>
<line x1="2111" y1="532.5" x2="2454.4" y2="532.5" stroke="#2c2d33" stroke-width="1"/>
<line x1="2111" y1="562.5" x2="2454.4" y2="562.5" stroke="#2c2d33" stroke-width="1"/>
<line x1="2111" y1="593.5" x2="2454.4" y2="593.5" stroke="#2c2d33" stroke-width="1"/>
<rect x="2121" y="302.9" width="18" height="5.4" rx="2.7" fill="#85bd72"/>
<text x="2149.6" y="310.7" font-size="16.2" fill="#ccccdc" textLength="31.1" lengthAdjust="spacingAndGlyphs" stroke="#ccccdc" stroke-width="0.22">CB0</text>
<text x="2286.4" y="310.7" font-size="16.2" fill="#ccccdc" text-anchor="end" textLength="37.3" lengthAdjust="spacingAndGlyphs" stroke="#ccccdc" stroke-width="0.22">86 W</text>
<text x="2363.2" y="310.7" font-size="16.2" fill="#ccccdc" text-anchor="end" textLength="37.3" lengthAdjust="spacingAndGlyphs" stroke="#ccccdc" stroke-width="0.22">81 W</text>
<text x="2444.0" y="310.7" font-size="16.2" fill="#ccccdc" text-anchor="end" textLength="46.2" lengthAdjust="spacingAndGlyphs" stroke="#ccccdc" stroke-width="0.22">101 W</text>
<rect x="2121" y="333.1" width="18" height="5.4" rx="2.7" fill="#eccd47"/>
<text x="2149.6" y="340.9" font-size="16.2" fill="#ccccdc" textLength="31.1" lengthAdjust="spacingAndGlyphs" stroke="#ccccdc" stroke-width="0.22">CB1</text>
<text x="2286.4" y="340.9" font-size="16.2" fill="#ccccdc" text-anchor="end" textLength="37.3" lengthAdjust="spacingAndGlyphs" stroke="#ccccdc" stroke-width="0.22">79 W</text>
<text x="2363.2" y="340.9" font-size="16.2" fill="#ccccdc" text-anchor="end" textLength="37.3" lengthAdjust="spacingAndGlyphs" stroke="#ccccdc" stroke-width="0.22">76 W</text>
<text x="2444.0" y="340.9" font-size="16.2" fill="#ccccdc" text-anchor="end" textLength="37.3" lengthAdjust="spacingAndGlyphs" stroke="#ccccdc" stroke-width="0.22">96 W</text>
<rect x="2121" y="363.3" width="18" height="5.4" rx="2.7" fill="#94b7f9"/>
<text x="2149.6" y="371.1" font-size="16.2" fill="#ccccdc" textLength="31.1" lengthAdjust="spacingAndGlyphs" stroke="#ccccdc" stroke-width="0.22">RE0</text>
<text x="2286.4" y="371.1" font-size="16.2" fill="#ccccdc" text-anchor="end" textLength="28.4" lengthAdjust="spacingAndGlyphs" stroke="#ccccdc" stroke-width="0.22">0 W</text>
<text x="2363.2" y="371.1" font-size="16.2" fill="#ccccdc" text-anchor="end" textLength="28.4" lengthAdjust="spacingAndGlyphs" stroke="#ccccdc" stroke-width="0.22">0 W</text>
<text x="2444.0" y="371.1" font-size="16.2" fill="#ccccdc" text-anchor="end" textLength="28.4" lengthAdjust="spacingAndGlyphs" stroke="#ccccdc" stroke-width="0.22">0 W</text>
<rect x="2121" y="393.6" width="18" height="5.4" rx="2.7" fill="#ee8033"/>
<text x="2149.6" y="401.4" font-size="16.2" fill="#ccccdc" textLength="31.1" lengthAdjust="spacingAndGlyphs" stroke="#ccccdc" stroke-width="0.22">RE1</text>
<text x="2286.4" y="401.4" font-size="16.2" fill="#ccccdc" text-anchor="end" textLength="28.4" lengthAdjust="spacingAndGlyphs" stroke="#ccccdc" stroke-width="0.22">0 W</text>
<text x="2363.2" y="401.4" font-size="16.2" fill="#ccccdc" text-anchor="end" textLength="28.4" lengthAdjust="spacingAndGlyphs" stroke="#ccccdc" stroke-width="0.22">0 W</text>
<text x="2444.0" y="401.4" font-size="16.2" fill="#ccccdc" text-anchor="end" textLength="28.4" lengthAdjust="spacingAndGlyphs" stroke="#ccccdc" stroke-width="0.22">0 W</text>
<rect x="2121" y="423.8" width="18" height="5.4" rx="2.7" fill="#e05660"/>
<text x="2149.6" y="431.6" font-size="16.2" fill="#ccccdc" textLength="34.7" lengthAdjust="spacingAndGlyphs" stroke="#ccccdc" stroke-width="0.22">SIB0</text>
<text x="2286.4" y="431.6" font-size="16.2" fill="#ccccdc" text-anchor="end" textLength="46.2" lengthAdjust="spacingAndGlyphs" stroke="#ccccdc" stroke-width="0.22">499 W</text>
<text x="2363.2" y="431.6" font-size="16.2" fill="#ccccdc" text-anchor="end" textLength="46.2" lengthAdjust="spacingAndGlyphs" stroke="#ccccdc" stroke-width="0.22">495 W</text>
<text x="2444.0" y="431.6" font-size="16.2" fill="#ccccdc" text-anchor="end" textLength="46.2" lengthAdjust="spacingAndGlyphs" stroke="#ccccdc" stroke-width="0.22">502 W</text>
<rect x="2121" y="454.0" width="18" height="5.4" rx="2.7" fill="#6592eb"/>
<text x="2149.6" y="461.8" font-size="16.2" fill="#ccccdc" textLength="34.7" lengthAdjust="spacingAndGlyphs" stroke="#ccccdc" stroke-width="0.22">SIB1</text>
<text x="2286.4" y="461.8" font-size="16.2" fill="#ccccdc" text-anchor="end" textLength="46.2" lengthAdjust="spacingAndGlyphs" stroke="#ccccdc" stroke-width="0.22">510 W</text>
<text x="2363.2" y="461.8" font-size="16.2" fill="#ccccdc" text-anchor="end" textLength="46.2" lengthAdjust="spacingAndGlyphs" stroke="#ccccdc" stroke-width="0.22">504 W</text>
<text x="2444.0" y="461.8" font-size="16.2" fill="#ccccdc" text-anchor="end" textLength="46.2" lengthAdjust="spacingAndGlyphs" stroke="#ccccdc" stroke-width="0.22">512 W</text>
<rect x="2121" y="484.2" width="18" height="5.4" rx="2.7" fill="#af7ad3"/>
<text x="2149.6" y="492.0" font-size="16.2" fill="#ccccdc" textLength="34.7" lengthAdjust="spacingAndGlyphs" stroke="#ccccdc" stroke-width="0.22">SIB2</text>
<text x="2286.4" y="492.0" font-size="16.2" fill="#ccccdc" text-anchor="end" textLength="46.2" lengthAdjust="spacingAndGlyphs" stroke="#ccccdc" stroke-width="0.22">514 W</text>
<text x="2363.2" y="492.0" font-size="16.2" fill="#ccccdc" text-anchor="end" textLength="46.2" lengthAdjust="spacingAndGlyphs" stroke="#ccccdc" stroke-width="0.22">509 W</text>
<text x="2444.0" y="492.0" font-size="16.2" fill="#ccccdc" text-anchor="end" textLength="46.2" lengthAdjust="spacingAndGlyphs" stroke="#ccccdc" stroke-width="0.22">516 W</text>
<rect x="2121" y="514.4" width="18" height="5.4" rx="2.7" fill="#6d5e9c"/>
<text x="2149.6" y="522.2" font-size="16.2" fill="#ccccdc" textLength="34.7" lengthAdjust="spacingAndGlyphs" stroke="#ccccdc" stroke-width="0.22">SIB3</text>
<text x="2286.4" y="522.2" font-size="16.2" fill="#ccccdc" text-anchor="end" textLength="46.2" lengthAdjust="spacingAndGlyphs" stroke="#ccccdc" stroke-width="0.22">500 W</text>
<text x="2363.2" y="522.2" font-size="16.2" fill="#ccccdc" text-anchor="end" textLength="46.2" lengthAdjust="spacingAndGlyphs" stroke="#ccccdc" stroke-width="0.22">497 W</text>
<text x="2444.0" y="522.2" font-size="16.2" fill="#ccccdc" text-anchor="end" textLength="46.2" lengthAdjust="spacingAndGlyphs" stroke="#ccccdc" stroke-width="0.22">503 W</text>
<rect x="2121" y="544.7" width="18" height="5.4" rx="2.7" fill="#4d853a"/>
<text x="2149.6" y="552.5" font-size="16.2" fill="#ccccdc" textLength="34.7" lengthAdjust="spacingAndGlyphs" stroke="#ccccdc" stroke-width="0.22">SIB4</text>
<text x="2286.4" y="552.5" font-size="16.2" fill="#ccccdc" text-anchor="end" textLength="46.2" lengthAdjust="spacingAndGlyphs" stroke="#ccccdc" stroke-width="0.22">500 W</text>
<text x="2363.2" y="552.5" font-size="16.2" fill="#ccccdc" text-anchor="end" textLength="46.2" lengthAdjust="spacingAndGlyphs" stroke="#ccccdc" stroke-width="0.22">496 W</text>
<text x="2444.0" y="552.5" font-size="16.2" fill="#ccccdc" text-anchor="end" textLength="46.2" lengthAdjust="spacingAndGlyphs" stroke="#ccccdc" stroke-width="0.22">502 W</text>
<rect x="2121" y="574.9" width="18" height="5.4" rx="2.7" fill="#f5df55"/>
<text x="2149.6" y="582.7" font-size="16.2" fill="#ccccdc" textLength="34.7" lengthAdjust="spacingAndGlyphs" stroke="#ccccdc" stroke-width="0.22">SIB5</text>
<text x="2286.4" y="582.7" font-size="16.2" fill="#ccccdc" text-anchor="end" textLength="46.2" lengthAdjust="spacingAndGlyphs" stroke="#ccccdc" stroke-width="0.22">505 W</text>
<text x="2363.2" y="582.7" font-size="16.2" fill="#ccccdc" text-anchor="end" textLength="46.2" lengthAdjust="spacingAndGlyphs" stroke="#ccccdc" stroke-width="0.22">501 W</text>
<text x="2444.0" y="582.7" font-size="16.2" fill="#ccccdc" text-anchor="end" textLength="46.2" lengthAdjust="spacingAndGlyphs" stroke="#ccccdc" stroke-width="0.22">507 W</text>
<text x="2147.0" y="917.0" font-size="15.8" fill="#799ef8" textLength="42.8" lengthAdjust="spacingAndGlyphs" stroke="#799ef8" stroke-width="0.5">Name</text>
<text x="2283.2" y="917.0" font-size="15.8" fill="#799ef8" text-anchor="end" textLength="44.0" lengthAdjust="spacingAndGlyphs" stroke="#799ef8" stroke-width="0.5">Last *</text>
<text x="2360.3" y="917.0" font-size="15.8" fill="#799ef8" text-anchor="end" textLength="27.2" lengthAdjust="spacingAndGlyphs" stroke="#799ef8" stroke-width="0.5">Min</text>
<text x="2443.5" y="917.0" font-size="15.8" fill="#799ef8" text-anchor="end" textLength="30.9" lengthAdjust="spacingAndGlyphs" stroke="#799ef8" stroke-width="0.5">Max</text>
<line x1="2108.5" y1="928.5" x2="2454.4" y2="928.5" stroke="#2c2d33" stroke-width="1"/>
<line x1="2108.5" y1="958.5" x2="2454.4" y2="958.5" stroke="#2c2d33" stroke-width="1"/>
<line x1="2108.5" y1="988.5" x2="2454.4" y2="988.5" stroke="#2c2d33" stroke-width="1"/>
<line x1="2108.5" y1="1018.5" x2="2454.4" y2="1018.5" stroke="#2c2d33" stroke-width="1"/>
<line x1="2108.5" y1="1048.5" x2="2454.4" y2="1048.5" stroke="#2c2d33" stroke-width="1"/>
<line x1="2108.5" y1="1079.5" x2="2454.4" y2="1079.5" stroke="#2c2d33" stroke-width="1"/>
<line x1="2108.5" y1="1109.5" x2="2454.4" y2="1109.5" stroke="#2c2d33" stroke-width="1"/>
<line x1="2108.5" y1="1139.5" x2="2454.4" y2="1139.5" stroke="#2c2d33" stroke-width="1"/>
<line x1="2108.5" y1="1169.5" x2="2454.4" y2="1169.5" stroke="#2c2d33" stroke-width="1"/>
<line x1="2108.5" y1="1199.5" x2="2454.4" y2="1199.5" stroke="#2c2d33" stroke-width="1"/>
<line x1="2108.5" y1="1230.5" x2="2454.4" y2="1230.5" stroke="#2c2d33" stroke-width="1"/>
<rect x="2118" y="939.9" width="18" height="5.4" rx="2.7" fill="#85bd72"/>
<text x="2146.6" y="947.7" font-size="16.2" fill="#ccccdc" textLength="43.6" lengthAdjust="spacingAndGlyphs" stroke="#ccccdc" stroke-width="0.22">PSM0</text>
<text x="2283.2" y="947.7" font-size="16.2" fill="#ccccdc" text-anchor="end" textLength="58.7" lengthAdjust="spacingAndGlyphs" stroke="#ccccdc" stroke-width="0.22">1.23 kW</text>
<text x="2360.3" y="947.7" font-size="16.2" fill="#ccccdc" text-anchor="end" textLength="58.7" lengthAdjust="spacingAndGlyphs" stroke="#ccccdc" stroke-width="0.22">1.23 kW</text>
<text x="2443.5" y="947.7" font-size="16.2" fill="#ccccdc" text-anchor="end" textLength="58.7" lengthAdjust="spacingAndGlyphs" stroke="#ccccdc" stroke-width="0.22">1.26 kW</text>
<rect x="2118" y="970.1" width="18" height="5.4" rx="2.7" fill="#eccd47"/>
<text x="2146.6" y="977.9" font-size="16.2" fill="#ccccdc" textLength="43.6" lengthAdjust="spacingAndGlyphs" stroke="#ccccdc" stroke-width="0.22">PSM1</text>
<text x="2283.2" y="977.9" font-size="16.2" fill="#ccccdc" text-anchor="end" textLength="58.7" lengthAdjust="spacingAndGlyphs" stroke="#ccccdc" stroke-width="0.22">1.23 kW</text>
<text x="2360.3" y="977.9" font-size="16.2" fill="#ccccdc" text-anchor="end" textLength="58.7" lengthAdjust="spacingAndGlyphs" stroke="#ccccdc" stroke-width="0.22">1.22 kW</text>
<text x="2443.5" y="977.9" font-size="16.2" fill="#ccccdc" text-anchor="end" textLength="58.7" lengthAdjust="spacingAndGlyphs" stroke="#ccccdc" stroke-width="0.22">1.25 kW</text>
<rect x="2118" y="1000.3" width="18" height="5.4" rx="2.7" fill="#94b7f9"/>
<text x="2146.6" y="1008.1" font-size="16.2" fill="#ccccdc" textLength="43.6" lengthAdjust="spacingAndGlyphs" stroke="#ccccdc" stroke-width="0.22">PSM2</text>
<text x="2283.2" y="1008.1" font-size="16.2" fill="#ccccdc" text-anchor="end" textLength="58.7" lengthAdjust="spacingAndGlyphs" stroke="#ccccdc" stroke-width="0.22">1.22 kW</text>
<text x="2360.3" y="1008.1" font-size="16.2" fill="#ccccdc" text-anchor="end" textLength="58.7" lengthAdjust="spacingAndGlyphs" stroke="#ccccdc" stroke-width="0.22">1.21 kW</text>
<text x="2443.5" y="1008.1" font-size="16.2" fill="#ccccdc" text-anchor="end" textLength="58.7" lengthAdjust="spacingAndGlyphs" stroke="#ccccdc" stroke-width="0.22">1.23 kW</text>
<rect x="2118" y="1030.6" width="18" height="5.4" rx="2.7" fill="#ee8033"/>
<text x="2146.6" y="1038.4" font-size="16.2" fill="#ccccdc" textLength="43.6" lengthAdjust="spacingAndGlyphs" stroke="#ccccdc" stroke-width="0.22">PSM3</text>
<text x="2283.2" y="1038.4" font-size="16.2" fill="#ccccdc" text-anchor="end" textLength="28.4" lengthAdjust="spacingAndGlyphs" stroke="#ccccdc" stroke-width="0.22">0 W</text>
<text x="2360.3" y="1038.4" font-size="16.2" fill="#ccccdc" text-anchor="end" textLength="28.4" lengthAdjust="spacingAndGlyphs" stroke="#ccccdc" stroke-width="0.22">0 W</text>
<text x="2443.5" y="1038.4" font-size="16.2" fill="#ccccdc" text-anchor="end" textLength="28.4" lengthAdjust="spacingAndGlyphs" stroke="#ccccdc" stroke-width="0.22">0 W</text>
<rect x="2118" y="1060.8" width="18" height="5.4" rx="2.7" fill="#e05660"/>
<text x="2146.6" y="1068.6" font-size="16.2" fill="#ccccdc" textLength="43.6" lengthAdjust="spacingAndGlyphs" stroke="#ccccdc" stroke-width="0.22">PSM4</text>
<text x="2283.2" y="1068.6" font-size="16.2" fill="#ccccdc" text-anchor="end" textLength="58.7" lengthAdjust="spacingAndGlyphs" stroke="#ccccdc" stroke-width="0.22">1.26 kW</text>
<text x="2360.3" y="1068.6" font-size="16.2" fill="#ccccdc" text-anchor="end" textLength="58.7" lengthAdjust="spacingAndGlyphs" stroke="#ccccdc" stroke-width="0.22">1.23 kW</text>
<text x="2443.5" y="1068.6" font-size="16.2" fill="#ccccdc" text-anchor="end" textLength="58.7" lengthAdjust="spacingAndGlyphs" stroke="#ccccdc" stroke-width="0.22">1.27 kW</text>
<rect x="2118" y="1091.0" width="18" height="5.4" rx="2.7" fill="#6592eb"/>
<text x="2146.6" y="1098.8" font-size="16.2" fill="#ccccdc" textLength="43.6" lengthAdjust="spacingAndGlyphs" stroke="#ccccdc" stroke-width="0.22">PSM5</text>
<text x="2283.2" y="1098.8" font-size="16.2" fill="#ccccdc" text-anchor="end" textLength="28.4" lengthAdjust="spacingAndGlyphs" stroke="#ccccdc" stroke-width="0.22">0 W</text>
<text x="2360.3" y="1098.8" font-size="16.2" fill="#ccccdc" text-anchor="end" textLength="28.4" lengthAdjust="spacingAndGlyphs" stroke="#ccccdc" stroke-width="0.22">0 W</text>
<text x="2443.5" y="1098.8" font-size="16.2" fill="#ccccdc" text-anchor="end" textLength="28.4" lengthAdjust="spacingAndGlyphs" stroke="#ccccdc" stroke-width="0.22">0 W</text>
<rect x="2118" y="1121.2" width="18" height="5.4" rx="2.7" fill="#af7ad3"/>
<text x="2146.6" y="1129.0" font-size="16.2" fill="#ccccdc" textLength="43.6" lengthAdjust="spacingAndGlyphs" stroke="#ccccdc" stroke-width="0.22">PSM6</text>
<text x="2283.2" y="1129.0" font-size="16.2" fill="#ccccdc" text-anchor="end" textLength="28.4" lengthAdjust="spacingAndGlyphs" stroke="#ccccdc" stroke-width="0.22">0 W</text>
<text x="2360.3" y="1129.0" font-size="16.2" fill="#ccccdc" text-anchor="end" textLength="28.4" lengthAdjust="spacingAndGlyphs" stroke="#ccccdc" stroke-width="0.22">0 W</text>
<text x="2443.5" y="1129.0" font-size="16.2" fill="#ccccdc" text-anchor="end" textLength="28.4" lengthAdjust="spacingAndGlyphs" stroke="#ccccdc" stroke-width="0.22">0 W</text>
<rect x="2118" y="1151.4" width="18" height="5.4" rx="2.7" fill="#6d5e9c"/>
<text x="2146.6" y="1159.2" font-size="16.2" fill="#ccccdc" textLength="43.6" lengthAdjust="spacingAndGlyphs" stroke="#ccccdc" stroke-width="0.22">PSM7</text>
<text x="2283.2" y="1159.2" font-size="16.2" fill="#ccccdc" text-anchor="end" textLength="28.4" lengthAdjust="spacingAndGlyphs" stroke="#ccccdc" stroke-width="0.22">0 W</text>
<text x="2360.3" y="1159.2" font-size="16.2" fill="#ccccdc" text-anchor="end" textLength="28.4" lengthAdjust="spacingAndGlyphs" stroke="#ccccdc" stroke-width="0.22">0 W</text>
<text x="2443.5" y="1159.2" font-size="16.2" fill="#ccccdc" text-anchor="end" textLength="28.4" lengthAdjust="spacingAndGlyphs" stroke="#ccccdc" stroke-width="0.22">0 W</text>
<rect x="2118" y="1181.7" width="18" height="5.4" rx="2.7" fill="#4d853a"/>
<text x="2146.6" y="1189.5" font-size="16.2" fill="#ccccdc" textLength="43.6" lengthAdjust="spacingAndGlyphs" stroke="#ccccdc" stroke-width="0.22">PSM8</text>
<text x="2283.2" y="1189.5" font-size="16.2" fill="#ccccdc" text-anchor="end" textLength="28.4" lengthAdjust="spacingAndGlyphs" stroke="#ccccdc" stroke-width="0.22">0 W</text>
<text x="2360.3" y="1189.5" font-size="16.2" fill="#ccccdc" text-anchor="end" textLength="28.4" lengthAdjust="spacingAndGlyphs" stroke="#ccccdc" stroke-width="0.22">0 W</text>
<text x="2443.5" y="1189.5" font-size="16.2" fill="#ccccdc" text-anchor="end" textLength="28.4" lengthAdjust="spacingAndGlyphs" stroke="#ccccdc" stroke-width="0.22">0 W</text>
<rect x="2118" y="1211.9" width="18" height="5.4" rx="2.7" fill="#f5df55"/>
<text x="2146.6" y="1219.7" font-size="16.2" fill="#ccccdc" textLength="43.6" lengthAdjust="spacingAndGlyphs" stroke="#ccccdc" stroke-width="0.22">PSM9</text>
<text x="2283.2" y="1219.7" font-size="16.2" fill="#ccccdc" text-anchor="end" textLength="28.4" lengthAdjust="spacingAndGlyphs" stroke="#ccccdc" stroke-width="0.22">0 W</text>
<text x="2360.3" y="1219.7" font-size="16.2" fill="#ccccdc" text-anchor="end" textLength="28.4" lengthAdjust="spacingAndGlyphs" stroke="#ccccdc" stroke-width="0.22">0 W</text>
<text x="2443.5" y="1219.7" font-size="16.2" fill="#ccccdc" text-anchor="end" textLength="28.4" lengthAdjust="spacingAndGlyphs" stroke="#ccccdc" stroke-width="0.22">0 W</text>
<circle cx="546.8" cy="479.5" r="34" fill="#7dab56" stroke="#ffffff" stroke-width="3"/>
<text x="546.8" y="491.7" style="font-family:&quot;DejaVu Sans&quot;,sans-serif" font-size="33" fill="#ffffff" text-anchor="middle">1</text>
<circle cx="1469.6" cy="479.5" r="34" fill="#7dab56" stroke="#ffffff" stroke-width="3"/>
<text x="1469.6" y="491.7" style="font-family:&quot;DejaVu Sans&quot;,sans-serif" font-size="33" fill="#ffffff" text-anchor="middle">2</text>
<circle cx="1470.3" cy="1162.4" r="34" fill="#7dab56" stroke="#ffffff" stroke-width="3"/>
<text x="1470.3" y="1174.6" style="font-family:&quot;DejaVu Sans&quot;,sans-serif" font-size="33" fill="#ffffff" text-anchor="middle">3</text>
<circle cx="546.8" cy="1162.4" r="34" fill="#7dab56" stroke="#ffffff" stroke-width="3"/>
<text x="546.8" y="1174.6" style="font-family:&quot;DejaVu Sans&quot;,sans-serif" font-size="33" fill="#ffffff" text-anchor="middle">4</text>
</svg>
</body></html>
